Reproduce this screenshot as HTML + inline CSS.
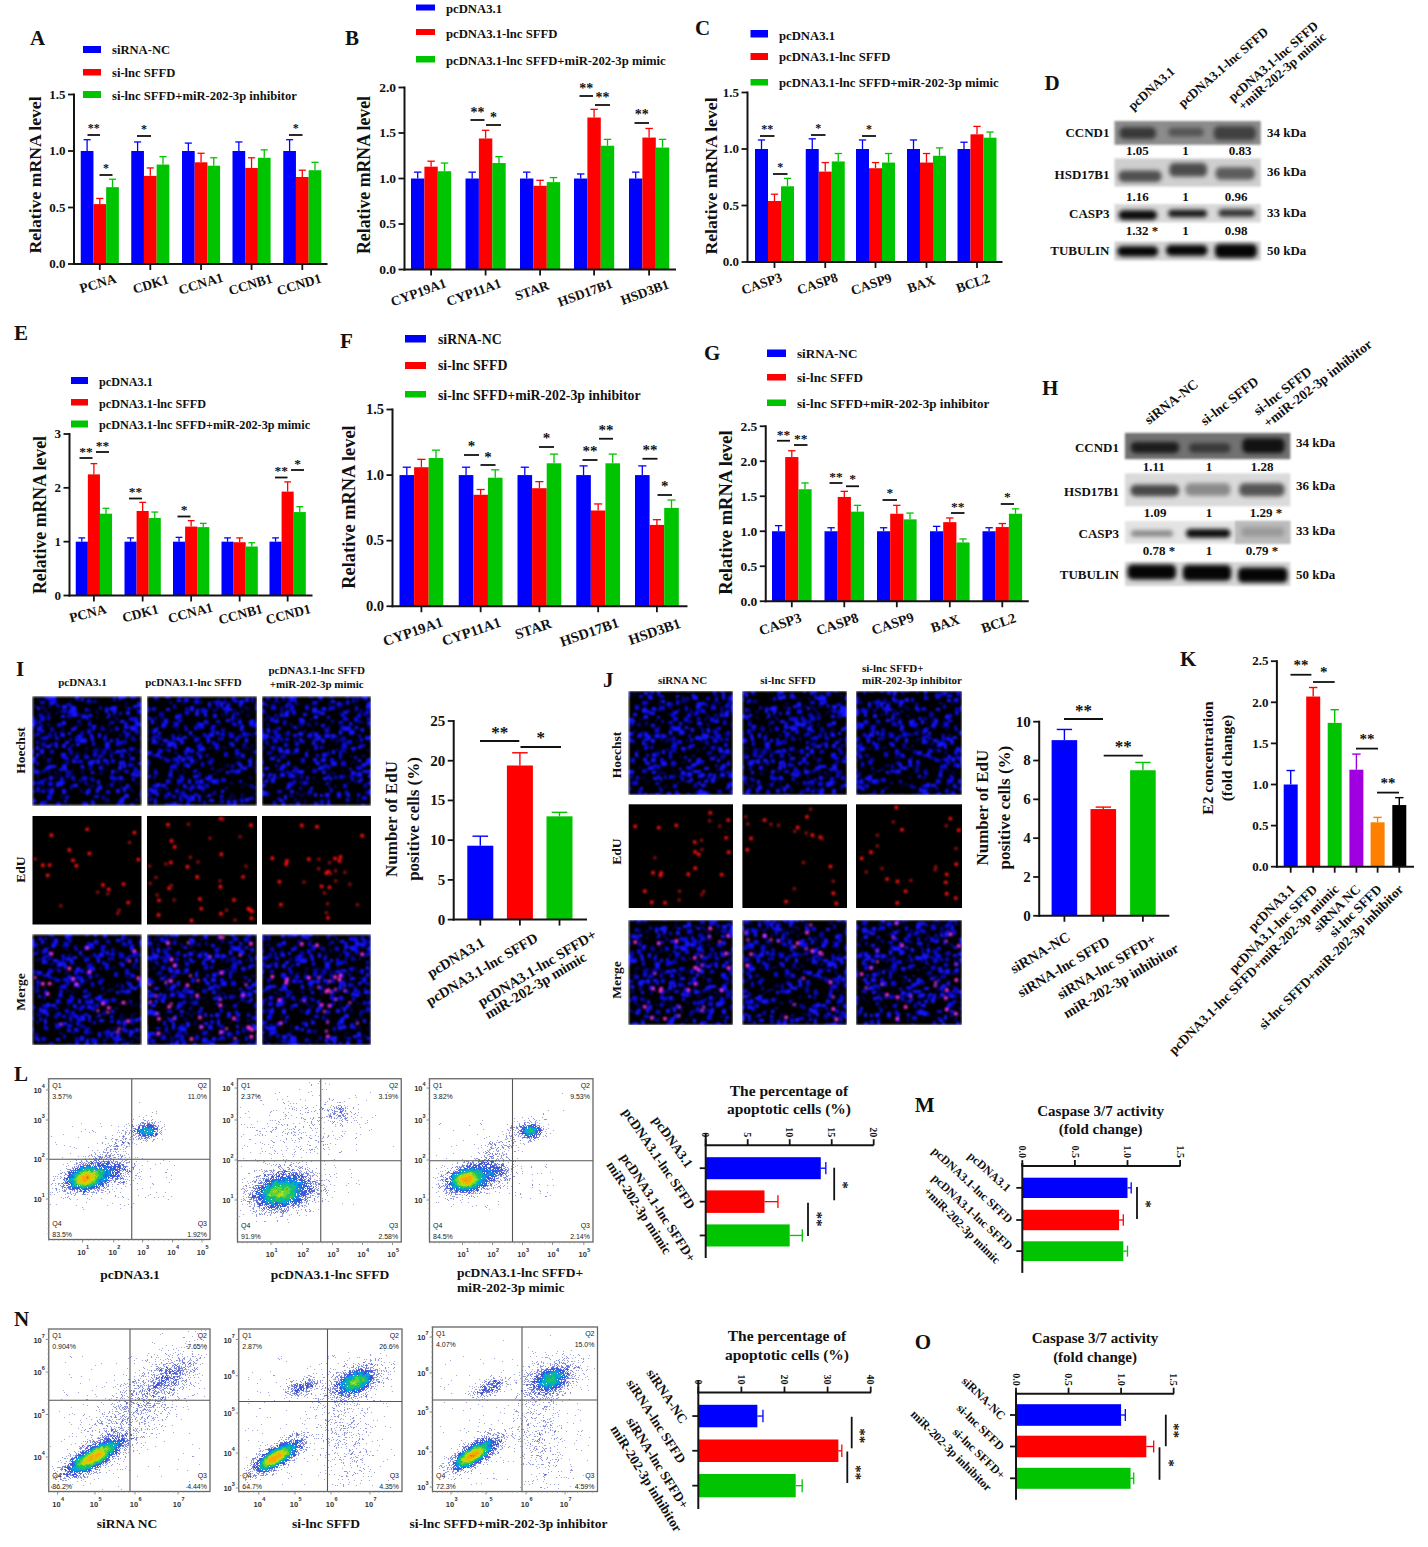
<!DOCTYPE html>
<html><head><meta charset="utf-8"><style>
html,body{margin:0;padding:0;background:#fff;}
svg{display:block;}
text{font-family:"Liberation Serif",serif;font-weight:bold;fill:#111;}
</style></head><body>
<svg width="1428" height="1547" viewBox="0 0 1428 1547">
<defs>
<filter id="bl" x="-30%" y="-80%" width="160%" height="260%" color-interpolation-filters="sRGB"><feGaussianBlur stdDeviation="2.1"/></filter>
<filter id="bb" x="-5%" y="-20%" width="110%" height="140%" color-interpolation-filters="sRGB"><feGaussianBlur stdDeviation="1.1"/></filter>
<filter id="mb" x="0" y="0" width="100%" height="100%" color-interpolation-filters="sRGB"><feGaussianBlur stdDeviation="0.9"/></filter>
<filter id="gl" x="-5%" y="-5%" width="110%" height="110%" color-interpolation-filters="sRGB"><feGaussianBlur stdDeviation="0.8"/></filter>
<pattern id="hA" width="110" height="110" patternUnits="userSpaceOnUse"><rect width="110" height="110" fill="#000"/><path fill="#030370" d="M79 63h2v3h-2zM16 17h3v2h-3zM11 81h3v2h-3zM35 87h2v2h-2zM76 92h3v3h-3zM15 42h3v2h-3zM9 11h2v3h-2zM40 31h2v3h-2zM92 81h3v3h-3zM86 42h2v2h-2zM14 45h2v3h-2zM51 11h2v3h-2zM68 50h3v3h-3zM30 27h2v2h-2zM32 68h3v2h-3zM16 51h3v3h-3zM8 83h2v3h-2zM79 39h3v2h-3zM107 102h2v3h-2zM20 19h3v3h-3zM85 87h3v3h-3zM58 3h3v2h-3zM47 52h3v3h-3zM106 14h2v2h-2zM70 34h2v3h-2zM90 40h2v2h-2zM48 45h3v3h-3zM43 96h2v3h-2zM61 26h2v2h-2zM47 63h3v3h-3zM56 51h2v3h-2zM23 58h2v2h-2zM59 50h3v2h-3zM84 22h3v2h-3zM99 68h2v2h-2zM31 50h2v2h-2zM49 11h2v2h-2zM109 39h2v2h-2zM64 102h3v3h-3zM46 19h3v3h-3zM99 92h3v2h-3zM43 18h2v3h-2zM44 49h3v3h-3zM19 16h3v2h-3zM9 102h2v2h-2zM91 30h2v3h-2zM19 100h2v2h-2zM95 51h2v2h-2zM84 92h3v2h-3zM28 38h3v2h-3zM62 68h2v3h-2zM26 90h2v3h-2zM102 103h2v3h-2zM96 56h2v3h-2zM106 100h2v2h-2zM104 91h3v2h-3zM81 21h3v2h-3zM35 98h2v3h-2zM71 2h2v2h-2zM27 50h2v3h-2zM12 9h3v2h-3zM108 65h2v2h-2zM29 46h3v2h-3zM109 36h2v2h-2zM106 72h2v2h-2zM101 65h2v3h-2zM34 45h3v3h-3zM2 54h2v3h-2zM76 75h3v2h-3zM77 100h3v2h-3zM43 47h2v3h-2zM74 9h2v3h-2zM42 64h2v3h-2zM75 13h2v2h-2zM105 46h3v3h-3zM96 50h2v3h-2zM10 16h3v3h-3zM26 12h3v2h-3zM94 65h3v2h-3zM70 40h2v2h-2zM4 56h3v2h-3zM40 53h2v2h-2zM90 75h2v2h-2zM92 34h2v2h-2zM46 58h2v2h-2zM21 32h3v2h-3zM31 62h3v3h-3zM24 87h2v2h-2zM78 60h3v3h-3zM2 13h2v3h-2zM43 9h3v3h-3zM89 65h3v2h-3zM72 97h3v3h-3zM39 1h3v3h-3zM89 60h3v2h-3zM55 6h2v3h-2zM100 1h2v3h-2zM48 1h2v3h-2zM42 15h2v2h-2zM99 88h2v2h-2zM29 3h3v3h-3zM38 37h2v3h-2zM31 91h2v2h-2zM79 19h3v2h-3zM0 91h3v3h-3zM63 21h3v3h-3zM47 55h2v2h-2zM54 1h3v3h-3zM76 65h2v2h-2zM86 7h2v2h-2zM100 2h3v3h-3zM60 25h2v2h-2z"/><path fill="#0606a8" d="M21 78h5v3h-5zM93 40h4v3h-4zM62 104h5v4h-5zM34 73h3v4h-3zM48 73h4v5h-4zM47 98h5v3h-5zM100 106h3v5h-3zM11 30h3v4h-3zM75 53h5v3h-5zM102 25h3v5h-3zM19 103h5v4h-5zM71 84h3v3h-3zM61 11h5v3h-5zM84 10h3v4h-3zM18 93h3v3h-3zM101 67h4v4h-4zM44 8h3v3h-3zM58 108h4v4h-4zM103 77h3v4h-3zM85 55h4v3h-4zM67 54h5v4h-5zM81 54h4v5h-4zM92 8h3v4h-3zM106 28h3v4h-3zM48 19h4v4h-4zM77 60h4v3h-4zM12 80h5v4h-5zM69 -2h4v3h-4zM93 89h5v4h-5zM49 41h5v4h-5zM38 53h5v4h-5zM54 72h3v5h-3zM102 90h4v5h-4zM41 82h5v4h-5zM30 20h5v3h-5zM79 9h3v3h-3zM95 88h3v4h-3zM99 46h3v4h-3zM69 90h4v5h-4zM66 1h5v5h-5zM56 44h4v4h-4zM60 71h3v5h-3zM70 15h4v3h-4zM61 108h3v5h-3zM90 7h3v4h-3zM80 71h4v5h-4zM50 67h4v5h-4zM49 34h4v4h-4zM47 56h4v4h-4zM-1 94h4v3h-4zM78 74h4v5h-4zM87 14h2v2h-2zM54 41h2v3h-2zM105 78h2v3h-2zM32 98h2v2h-2zM3 10h2v3h-2zM70 17h2v3h-2zM9 74h2v2h-2zM15 76h3v3h-3zM104 82h2v2h-2zM12 60h3v2h-3zM104 89h3v3h-3zM71 45h2v2h-2zM84 80h3v3h-3zM102 89h3v3h-3zM43 86h2v2h-2zM91 29h2v3h-2zM42 84h2v3h-2zM34 107h2v3h-2zM48 53h2v2h-2zM19 67h3v2h-3zM0 69h2v3h-2zM48 74h2v2h-2zM30 101h2v3h-2zM5 66h2v3h-2zM21 76h3v3h-3zM89 49h2v3h-2zM50 91h2v3h-2zM75 76h3v2h-3zM108 48h2v2h-2zM80 105h2v2h-2zM81 75h2v3h-2zM15 90h2v3h-2zM91 15h3v2h-3zM69 78h3v3h-3zM34 63h3v3h-3zM106 56h2v3h-2zM6 58h2v3h-2zM66 101h3v3h-3zM73 67h2v2h-2zM41 46h2v2h-2zM4 91h3v3h-3zM9 90h3v2h-3zM25 29h3v2h-3zM81 1h3v2h-3zM29 97h2v2h-2zM67 25h2v2h-2zM50 83h3v3h-3zM77 60h3v3h-3zM58 45h2v3h-2zM75 100h3v3h-3zM103 109h3v3h-3zM29 77h2v3h-2zM40 77h3v3h-3zM14 64h2v3h-2zM47 100h3v3h-3zM37 6h2v2h-2zM7 1h2v2h-2zM29 23h3v3h-3z"/><path fill="#0a0ae0" d="M106 100h3v5h-3zM61 95h4v3h-4zM75 95h4v4h-4zM65 26h4v3h-4zM35 0h3v4h-3zM93 100h4v3h-4zM68 87h3v4h-3zM54 82h4v3h-4zM3 37h3v4h-3zM72 48h5v5h-5zM27 -1h3v5h-3zM27 49h5v5h-5zM56 32h5v4h-5zM64 97h5v3h-5zM62 50h5v3h-5zM42 -2h4v4h-4zM40 56h5v5h-5zM-1 94h3v4h-3zM12 100h3v4h-3zM82 32h5v3h-5zM87 39h4v4h-4zM88 62h3v4h-3zM78 100h5v3h-5zM82 78h5v4h-5zM14 -1h5v4h-5zM105 85h5v4h-5zM15 72h5v4h-5zM41 12h3v3h-3zM44 35h3v4h-3zM33 11h3v4h-3zM30 89h4v5h-4zM109 86h5v5h-5zM9 81h3v4h-3zM99 106h3v4h-3zM40 10h4v3h-4zM7 32h3v4h-3zM37 11h3v4h-3zM20 36h5v3h-5zM89 108h3v3h-3zM1 99h4v4h-4zM0 5h4v5h-4zM38 61h3v3h-3zM41 69h3v4h-3zM4 7h4v3h-4zM63 96h4v3h-4zM19 87h5v4h-5zM25 70h4v4h-4zM85 48h3v4h-3zM105 82h3v5h-3zM74 66h3v4h-3zM22 65h5v3h-5zM37 72h3v4h-3zM67 43h4v3h-4zM13 70h3v3h-3zM84 95h5v4h-5zM62 45h3v3h-3zM-2 13h5v4h-5zM23 57h5v5h-5zM55 77h4v3h-4zM65 -2h3v4h-3zM50 90h4v3h-4zM106 20h4v4h-4zM42 31h5v3h-5zM36 17h4v5h-4zM19 57h4v4h-4zM10 93h4v5h-4zM6 82h3v4h-3zM88 18h3v5h-3zM57 63h5v4h-5zM36 81h3v3h-3zM43 76h5v4h-5zM49 20h4v5h-4zM22 7h3v4h-3zM31 56h3v5h-3zM94 25h5v3h-5zM47 25h5v5h-5zM3 -1h3v3h-3zM47 106h4v4h-4zM18 103h3v4h-3zM66 5h3v3h-3zM1 61h3v3h-3zM87 69h4v5h-4zM68 50h3v4h-3zM82 6h5v4h-5zM24 107h3v3h-3zM40 41h5v3h-5zM36 102h3v3h-3zM93 93h4v4h-4zM71 6h4v4h-4zM87 71h4v3h-4zM49 37h4v4h-4zM85 32h3v5h-3zM6 78h3v4h-3zM23 -1h4v4h-4zM60 7h4v5h-4zM22 36h4v3h-4zM75 78h5v4h-5zM14 62h4v4h-4zM92 82h3v4h-3zM32 99h4v4h-4zM53 40h4v4h-4zM89 104h4v3h-4zM9 52h3v3h-3zM25 66h3v5h-3zM92 68h3v3h-3zM48 12h5v4h-5zM17 47h4v3h-4zM64 30h3v3h-3zM109 61h5v4h-5zM98 95h5v3h-5zM5 67h4v4h-4zM104 75h3v5h-3zM33 59h4v4h-4zM41 20h4v3h-4zM86 55h3v5h-3zM39 65h3v5h-3z"/><path fill="#1414ff" d="M10 60h4v3h-4zM90 100h4v4h-4zM1 0h3v4h-3zM46 85h5v3h-5zM27 42h4v5h-4zM105 48h3v5h-3zM59 109h4v3h-4zM68 72h3v3h-3zM105 84h4v3h-4zM6 19h4v4h-4zM37 47h3v3h-3zM0 48h3v3h-3zM65 81h4v3h-4zM25 4h4v3h-4zM36 93h3v4h-3zM2 46h5v5h-5zM62 61h4v4h-4zM34 0h5v4h-5zM98 15h4v5h-4zM6 90h5v3h-5zM19 66h3v3h-3zM62 105h4v5h-4zM12 35h4v4h-4zM3 50h3v4h-3zM71 68h4v3h-4zM76 83h4v3h-4zM103 99h4v3h-4zM51 18h3v5h-3zM81 38h3v3h-3zM90 74h3v4h-3zM49 6h4v4h-4zM56 12h4v5h-4zM21 67h4v4h-4zM47 37h4v3h-4zM9 29h5v5h-5zM0 79h3v3h-3zM97 99h3v5h-3zM20 97h5v3h-5zM14 24h5v4h-5zM48 105h4v3h-4zM73 14h5v3h-5zM70 49h4v4h-4zM60 -2h3v3h-3zM36 86h3v4h-3zM8 107h4v5h-4zM71 46h5v5h-5zM63 106h4v4h-4zM9 101h3v5h-3zM33 29h3v4h-3zM78 75h3v3h-3zM20 34h4v3h-4zM71 47h3v3h-3zM62 84h4v4h-4zM37 67h4v4h-4zM61 93h5v3h-5zM75 36h4v4h-4zM40 32h3v3h-3zM40 89h4v5h-4zM106 82h5v3h-5zM89 54h3v3h-3zM12 89h4v3h-4zM11 27h4v3h-4zM21 3h4v3h-4zM86 20h3v5h-3zM61 55h4v3h-4zM28 102h3v3h-3zM61 73h4v4h-4zM-1 47h3v3h-3zM70 46h5v3h-5zM81 105h3v4h-3zM33 97h3v3h-3zM82 55h4v3h-4zM80 79h4v4h-4zM98 73h3v5h-3zM62 45h5v4h-5zM14 66h4v3h-4zM92 65h4v3h-4zM8 36h4v4h-4zM91 31h4v3h-4zM52 105h4v3h-4zM59 11h4v5h-4zM23 45h4v3h-4zM50 42h4v3h-4zM51 36h5v4h-5zM13 17h3v5h-3zM72 100h4v3h-4zM62 19h4v5h-4zM91 77h3v4h-3zM99 106h3v3h-3zM108 53h3v5h-3zM88 101h4v4h-4zM55 84h3v4h-3zM72 52h5v5h-5zM13 103h3v5h-3zM96 18h3v5h-3zM9 106h3v3h-3zM16 51h4v4h-4zM45 107h3v4h-3zM31 63h4v4h-4zM9 6h4v4h-4zM91 1h3v3h-3zM97 10h3v4h-3zM85 33h3v4h-3zM84 80h3v3h-3zM83 55h4v3h-4zM27 63h4v3h-4zM16 14h3v4h-3zM25 61h4v4h-4z"/></pattern><pattern id="hB" width="110" height="110" patternUnits="userSpaceOnUse"><rect width="110" height="110" fill="#000"/><path fill="#030370" d="M45 108h2v2h-2zM99 72h2v3h-2zM29 73h2v2h-2zM11 23h2v3h-2zM52 83h3v2h-3zM54 63h2v3h-2zM67 15h3v2h-3zM81 34h3v2h-3zM65 106h2v2h-2zM84 79h2v2h-2zM86 51h2v3h-2zM29 6h2v3h-2zM70 30h3v3h-3zM0 24h2v3h-2zM22 34h3v2h-3zM66 104h3v2h-3zM63 61h3v3h-3zM22 83h3v3h-3zM67 54h3v3h-3zM72 1h3v2h-3zM92 11h3v3h-3zM20 27h3v3h-3zM18 96h3v3h-3zM71 4h2v3h-2zM20 93h3v2h-3zM24 70h2v3h-2zM26 47h3v2h-3zM86 64h3v3h-3zM1 53h2v3h-2zM49 88h2v2h-2zM54 88h3v2h-3zM46 27h2v2h-2zM85 99h3v3h-3zM92 67h2v2h-2zM3 37h2v2h-2zM13 49h3v3h-3zM69 4h2v3h-2zM21 15h2v2h-2zM36 42h2v2h-2zM81 16h2v2h-2zM46 62h2v2h-2zM27 49h2v2h-2zM29 104h2v2h-2zM37 69h3v3h-3zM11 60h2v3h-2zM36 79h2v3h-2zM68 23h3v2h-3zM3 19h2v3h-2zM47 66h2v3h-2zM25 13h2v3h-2zM14 26h2v2h-2zM49 14h2v2h-2zM66 68h2v3h-2zM98 76h2v2h-2zM83 102h2v2h-2zM109 62h2v2h-2zM50 83h2v3h-2zM5 54h2v3h-2zM15 57h3v3h-3zM30 96h3v3h-3zM49 55h3v2h-3zM4 105h2v2h-2zM20 63h3v2h-3zM67 95h2v3h-2zM4 39h3v2h-3zM12 58h2v3h-2zM3 42h2v2h-2zM80 103h2v3h-2zM33 107h2v2h-2zM92 86h3v3h-3zM52 54h2v2h-2zM2 20h3v2h-3zM62 65h3v3h-3zM72 41h3v3h-3zM61 98h3v3h-3zM51 57h2v3h-2zM2 70h3v3h-3zM95 25h3v3h-3zM22 106h2v2h-2zM77 48h3v3h-3zM33 23h3v2h-3zM72 24h3v3h-3zM31 52h2v2h-2zM39 17h2v3h-2zM4 86h2v3h-2zM9 26h3v3h-3zM51 61h2v3h-2zM26 87h3v3h-3zM33 67h3v2h-3zM27 73h3v3h-3zM36 103h2v3h-2zM67 57h2v3h-2zM29 15h2v2h-2zM58 80h3v3h-3zM19 58h3v3h-3zM100 67h2v3h-2zM76 41h2v2h-2zM56 17h3v3h-3zM87 87h3v3h-3zM99 47h2v2h-2zM99 87h3v2h-3zM1 87h2v2h-2zM41 19h3v3h-3zM103 2h2v3h-2z"/><path fill="#0606a8" d="M8 44h3v3h-3zM44 57h3v3h-3zM63 44h3v5h-3zM85 77h5v4h-5zM102 22h4v3h-4zM30 14h3v4h-3zM55 98h3v3h-3zM16 109h5v4h-5zM88 2h3v5h-3zM37 23h3v3h-3zM45 37h4v3h-4zM35 43h3v4h-3zM100 9h4v3h-4zM75 47h3v5h-3zM95 94h4v3h-4zM54 24h4v5h-4zM7 31h5v4h-5zM74 65h3v4h-3zM12 84h3v3h-3zM33 90h4v4h-4zM86 91h5v5h-5zM46 14h3v4h-3zM38 23h3v4h-3zM67 -2h3v3h-3zM85 65h5v4h-5zM11 104h3v5h-3zM95 60h4v5h-4zM85 37h5v3h-5zM100 98h4v4h-4zM36 106h3v5h-3zM77 88h3v3h-3zM80 35h5v3h-5zM58 4h5v4h-5zM35 0h4v3h-4zM70 98h3v3h-3zM49 52h5v5h-5zM61 74h4v3h-4zM56 34h5v3h-5zM56 9h5v5h-5zM59 81h4v4h-4zM106 45h3v4h-3zM48 76h3v4h-3zM16 101h4v3h-4zM32 16h4v3h-4zM1 68h4v4h-4zM17 102h3v3h-3zM101 107h3v5h-3zM42 14h5v3h-5zM94 14h2v2h-2zM87 48h2v2h-2zM16 64h2v3h-2zM2 72h2v3h-2zM5 17h3v2h-3zM50 19h2v2h-2zM59 0h3v3h-3zM88 12h3v2h-3zM27 55h2v2h-2zM104 20h2v3h-2zM86 23h2v3h-2zM73 105h2v2h-2zM77 33h3v3h-3zM65 91h2v3h-2zM59 42h3v2h-3zM97 101h2v2h-2zM68 74h3v2h-3zM107 0h3v2h-3zM82 75h2v2h-2zM1 30h2v3h-2zM30 74h3v2h-3zM104 85h2v2h-2zM8 59h2v2h-2zM55 17h3v3h-3zM103 41h3v3h-3zM64 97h2v3h-2zM107 9h2v2h-2zM96 95h3v2h-3zM25 106h2v2h-2zM22 87h2v2h-2zM82 75h3v2h-3zM86 9h2v3h-2zM21 24h3v2h-3zM109 63h3v3h-3zM41 48h3v2h-3zM70 82h2v3h-2zM15 96h2v2h-2zM90 82h2v2h-2zM70 78h2v3h-2zM36 31h2v3h-2zM7 104h2v3h-2zM38 78h2v2h-2zM8 72h3v2h-3zM90 41h2v3h-2zM24 46h2v2h-2zM50 77h2v3h-2zM8 41h2v3h-2zM42 70h3v2h-3zM53 97h3v3h-3zM27 105h3v2h-3zM43 6h3v3h-3zM23 84h3v3h-3zM103 49h3v3h-3zM66 19h3v2h-3zM37 104h3v2h-3zM50 89h3v3h-3zM2 25h2v2h-2zM75 16h3v3h-3zM54 58h3v2h-3zM10 12h3v2h-3zM97 80h2v2h-2zM43 69h2v3h-2zM69 25h3v2h-3zM21 50h2v3h-2zM31 85h2v2h-2zM43 28h3v2h-3z"/><path fill="#0a0ae0" d="M75 25h4v4h-4zM67 54h5v4h-5zM65 19h4v4h-4zM55 99h5v3h-5zM94 49h4v3h-4zM63 104h4v5h-4zM42 70h4v4h-4zM76 32h4v3h-4zM36 100h4v4h-4zM64 62h5v5h-5zM85 11h5v3h-5zM20 29h4v4h-4zM42 76h3v3h-3zM96 75h4v5h-4zM108 77h4v4h-4zM9 82h4v3h-4zM75 51h4v4h-4zM19 10h3v3h-3zM99 100h3v5h-3zM2 47h3v3h-3zM64 83h3v3h-3zM51 65h5v3h-5zM44 0h3v4h-3zM44 35h3v5h-3zM0 109h4v4h-4zM5 50h3v4h-3zM48 89h5v4h-5zM106 40h3v5h-3zM1 77h3v3h-3zM32 59h3v4h-3zM60 105h4v4h-4zM18 60h4v3h-4zM87 84h5v4h-5zM91 102h3v5h-3zM88 28h3v4h-3zM91 16h4v5h-4zM59 33h5v3h-5zM38 57h4v3h-4zM102 69h3v4h-3zM93 73h3v4h-3zM15 -1h4v5h-4zM30 63h4v4h-4zM105 83h4v5h-4zM84 40h5v4h-5zM1 8h5v4h-5zM84 78h4v4h-4zM44 2h4v3h-4zM81 15h4v4h-4zM105 9h4v5h-4zM69 27h3v4h-3zM44 19h4v4h-4zM15 89h4v4h-4zM22 94h3v4h-3zM43 15h4v3h-4zM101 68h3v4h-3zM66 77h4v4h-4zM37 48h3v4h-3zM67 34h5v4h-5zM88 28h3v3h-3zM45 80h3v4h-3zM14 39h4v4h-4zM80 96h3v4h-3zM4 48h4v3h-4zM109 38h4v5h-4zM9 73h5v5h-5zM105 86h4v4h-4zM16 52h3v3h-3zM102 81h3v4h-3zM87 62h3v3h-3zM89 65h5v4h-5zM69 10h4v3h-4zM87 15h3v4h-3zM75 68h3v3h-3zM93 31h3v3h-3zM4 92h4v5h-4zM15 79h3v3h-3zM85 109h3v3h-3zM70 6h4v5h-4zM56 36h4v3h-4zM0 25h3v4h-3zM91 48h4v5h-4zM96 14h3v4h-3zM42 47h4v4h-4zM22 72h4v5h-4zM45 75h3v3h-3zM96 76h4v3h-4zM10 -1h5v4h-5zM34 72h4v3h-4zM18 75h3v3h-3zM55 33h3v5h-3zM80 25h4v3h-4zM15 77h4v3h-4zM102 9h5v5h-5zM4 47h5v3h-5zM64 98h5v4h-5zM39 28h3v3h-3zM67 9h3v5h-3zM85 10h4v4h-4zM34 63h4v4h-4zM3 41h3v3h-3zM84 66h3v4h-3zM62 76h3v5h-3zM0 73h5v3h-5zM29 27h5v3h-5zM52 14h3v3h-3zM71 21h4v3h-4zM74 103h4v4h-4zM0 30h4v3h-4zM57 22h4v4h-4zM43 94h4v3h-4zM68 59h4v3h-4zM57 89h4v3h-4zM12 62h4v4h-4zM12 53h3v4h-3zM76 96h4v4h-4zM55 61h3v4h-3zM31 38h3v4h-3zM80 89h4v4h-4zM83 -1h4v4h-4zM75 38h4v4h-4zM98 8h3v4h-3zM77 28h4v4h-4zM74 90h4v5h-4zM62 25h4v3h-4zM67 101h3v3h-3zM24 73h5v3h-5zM73 24h4v4h-4zM49 96h3v3h-3zM84 23h4v3h-4zM106 60h5v3h-5zM101 65h5v3h-5zM79 17h3v4h-3zM15 92h5v3h-5z"/><path fill="#1414ff" d="M53 79h5v3h-5zM1 20h3v3h-3zM99 73h5v4h-5zM29 60h4v5h-4zM60 82h5v4h-5zM37 91h5v4h-5zM71 81h3v3h-3zM29 103h3v4h-3zM89 95h3v4h-3zM6 1h3v3h-3zM64 86h3v3h-3zM99 29h5v3h-5zM41 60h3v4h-3zM72 97h3v5h-3zM83 5h5v3h-5zM7 30h3v4h-3zM85 52h4v4h-4zM90 9h3v5h-3zM21 94h3v3h-3zM80 46h4v5h-4zM52 63h3v4h-3zM73 76h4v3h-4zM94 60h3v3h-3zM13 30h4v4h-4zM20 67h3v4h-3zM35 47h3v3h-3zM20 65h4v4h-4zM94 52h3v5h-3zM89 63h5v3h-5zM47 92h3v5h-3zM44 68h4v4h-4zM66 77h3v3h-3zM102 10h4v3h-4zM95 7h4v3h-4zM18 61h3v3h-3zM17 -1h4v4h-4zM80 99h4v4h-4zM78 9h3v5h-3zM25 38h4v4h-4zM39 18h3v4h-3zM54 59h4v4h-4zM19 43h3v4h-3zM67 39h4v3h-4zM98 24h3v3h-3zM44 30h3v4h-3zM20 106h3v3h-3zM65 55h4v4h-4zM73 14h3v4h-3zM7 48h5v3h-5zM11 83h3v4h-3zM6 59h4v3h-4zM60 -2h3v4h-3zM11 57h3v3h-3zM25 78h3v5h-3zM46 23h3v3h-3zM52 14h4v3h-4zM48 72h3v3h-3zM74 38h3v3h-3zM18 103h4v3h-4zM106 71h3v4h-3zM38 5h3v3h-3zM103 54h4v4h-4zM76 87h4v5h-4zM56 48h4v3h-4zM25 28h4v4h-4zM63 32h4v3h-4zM92 87h3v4h-3zM59 3h3v3h-3zM88 15h3v4h-3zM98 42h3v5h-3zM28 99h4v4h-4zM6 44h3v4h-3zM86 49h3v3h-3zM81 26h4v5h-4zM70 78h3v4h-3zM77 104h3v4h-3zM57 82h5v5h-5zM42 19h4v5h-4zM56 10h3v3h-3zM0 42h3v5h-3zM89 88h4v3h-4zM79 71h3v4h-3zM19 40h5v4h-5zM88 25h3v3h-3zM97 79h3v4h-3zM12 37h3v4h-3zM46 13h4v4h-4zM51 14h3v3h-3zM23 107h4v4h-4zM98 5h4v4h-4zM42 79h3v5h-3zM13 32h3v4h-3zM68 95h3v4h-3zM59 82h4v4h-4z"/></pattern><pattern id="hC" width="110" height="110" patternUnits="userSpaceOnUse"><rect width="110" height="110" fill="#000"/><path fill="#030370" d="M93 43h2v2h-2zM55 34h2v3h-2zM8 53h3v2h-3zM30 109h3v2h-3zM9 46h3v2h-3zM91 71h3v3h-3zM47 64h2v3h-2zM47 83h3v3h-3zM26 41h2v2h-2zM3 3h3v2h-3zM94 46h3v3h-3zM43 87h2v3h-2zM55 3h2v2h-2zM56 96h2v2h-2zM108 1h3v2h-3zM80 12h3v3h-3zM74 28h3v3h-3zM11 6h2v3h-2zM105 60h2v2h-2zM44 58h3v3h-3zM73 38h2v2h-2zM79 66h2v3h-2zM57 7h3v2h-3zM80 24h3v3h-3zM105 13h2v2h-2zM107 27h2v3h-2zM30 51h3v2h-3zM22 36h3v2h-3zM6 88h3v3h-3zM28 38h2v2h-2zM31 61h2v2h-2zM103 85h2v2h-2zM87 96h2v2h-2zM76 22h3v3h-3zM44 51h3v3h-3zM14 91h3v2h-3zM108 38h3v2h-3zM79 11h3v2h-3zM69 41h3v3h-3zM54 86h3v2h-3zM61 47h3v3h-3zM22 69h3v3h-3zM52 70h3v2h-3zM92 7h3v2h-3zM21 64h3v2h-3zM12 70h2v2h-2zM71 65h2v3h-2zM8 61h3v3h-3zM87 23h3v3h-3zM31 33h2v2h-2zM21 5h3v2h-3zM65 17h3v3h-3zM64 72h3v3h-3zM32 37h3v3h-3zM108 89h2v2h-2zM5 80h3v3h-3zM54 94h2v3h-2zM69 43h2v2h-2zM17 11h2v3h-2zM12 0h2v2h-2zM90 58h2v3h-2zM87 89h2v3h-2zM4 43h2v2h-2zM103 68h3v2h-3zM12 50h3v3h-3zM72 65h2v3h-2zM66 75h3v2h-3zM22 101h3v2h-3zM1 2h3v2h-3zM90 65h2v2h-2zM44 86h2v2h-2zM62 38h3v3h-3zM20 95h2v2h-2zM10 86h2v2h-2zM8 46h2v3h-2zM53 85h3v2h-3zM55 59h3v3h-3zM39 61h2v3h-2zM83 33h3v2h-3zM84 30h3v2h-3zM83 22h3v2h-3zM55 53h3v3h-3zM46 92h3v3h-3zM61 48h3v3h-3zM24 72h2v2h-2zM50 99h2v2h-2zM88 106h2v2h-2zM40 80h3v3h-3zM70 2h2v3h-2zM109 28h3v2h-3zM42 71h2v2h-2zM71 93h2v2h-2zM25 80h3v2h-3zM74 36h3v3h-3zM26 39h2v3h-2zM53 98h2v2h-2zM22 40h2v2h-2zM52 42h3v2h-3zM62 56h3v2h-3zM108 109h2v3h-2zM60 46h3v3h-3zM69 42h3v2h-3zM94 101h2v2h-2zM13 82h3v2h-3zM83 70h3v3h-3zM97 11h2v2h-2zM106 13h2v2h-2zM4 15h2v3h-2z"/><path fill="#0606a8" d="M79 17h3v3h-3zM48 91h4v4h-4zM107 33h4v3h-4zM9 42h4v4h-4zM38 44h3v4h-3zM11 77h5v5h-5zM73 5h4v3h-4zM74 39h3v3h-3zM101 107h3v4h-3zM22 38h3v5h-3zM53 69h5v5h-5zM93 56h3v3h-3zM67 41h5v4h-5zM34 13h3v5h-3zM13 66h3v3h-3zM39 45h3v3h-3zM105 93h3v4h-3zM73 90h5v4h-5zM57 27h4v3h-4zM31 104h3v3h-3zM10 65h5v4h-5zM47 4h4v4h-4zM61 106h3v4h-3zM79 61h5v4h-5zM25 2h3v5h-3zM70 34h4v3h-4zM66 0h3v4h-3zM92 41h3v3h-3zM81 63h3v3h-3zM35 21h4v3h-4zM105 92h4v3h-4zM28 74h3v4h-3zM74 1h3v3h-3zM95 83h3v4h-3zM45 22h5v4h-5zM60 95h3v3h-3zM45 43h3v4h-3zM33 53h3v3h-3zM29 84h4v4h-4zM63 94h3v4h-3zM80 5h3v4h-3zM63 60h4v3h-4zM93 78h5v3h-5zM28 60h3v3h-3zM11 88h5v4h-5zM107 105h3v4h-3zM50 76h5v3h-5zM-1 18h3v5h-3zM42 68h2v3h-2zM70 63h2v2h-2zM18 41h2v3h-2zM8 78h2v3h-2zM28 60h2v3h-2zM70 24h3v3h-3zM62 106h3v2h-3zM17 49h3v3h-3zM55 36h3v3h-3zM73 106h2v2h-2zM41 63h2v2h-2zM47 7h3v3h-3zM2 74h3v3h-3zM87 63h3v3h-3zM74 41h3v2h-3zM47 63h2v3h-2zM37 89h2v2h-2zM41 70h3v2h-3zM33 15h3v2h-3zM47 55h2v3h-2zM12 90h3v2h-3zM58 42h2v2h-2zM19 5h3v3h-3zM81 0h2v3h-2zM15 20h3v2h-3zM22 89h3v3h-3zM13 5h3v3h-3zM56 57h3v2h-3zM27 29h2v3h-2zM37 12h2v2h-2zM75 43h3v2h-3zM74 79h2v3h-2zM39 66h3v2h-3zM67 37h2v3h-2zM8 61h2v3h-2zM80 72h2v3h-2zM14 87h3v2h-3zM95 32h3v3h-3zM61 96h3v3h-3zM30 49h2v3h-2zM55 104h3v3h-3zM17 29h3v2h-3zM93 108h2v3h-2zM60 50h3v2h-3zM13 76h2v2h-2zM54 55h3v2h-3zM70 49h3v3h-3zM25 10h2v3h-2zM104 107h2v3h-2zM104 74h2v3h-2zM26 37h3v3h-3zM54 32h2v3h-2zM32 95h3v2h-3zM41 6h2v2h-2zM61 0h3v2h-3zM108 66h3v3h-3zM1 60h3v3h-3zM29 68h3v2h-3zM46 69h3v2h-3zM1 78h2v3h-2zM95 62h3v3h-3zM3 102h2v3h-2z"/><path fill="#0a0ae0" d="M105 68h4v5h-4zM92 -1h5v4h-5zM58 74h3v4h-3zM31 84h4v3h-4zM72 50h4v5h-4zM67 71h3v4h-3zM0 35h4v3h-4zM3 75h4v3h-4zM56 109h4v4h-4zM53 79h5v4h-5zM53 31h3v4h-3zM-1 98h5v4h-5zM0 46h5v4h-5zM30 78h3v4h-3zM39 21h4v3h-4zM32 26h5v4h-5zM35 51h4v4h-4zM100 86h3v3h-3zM60 78h3v3h-3zM107 5h4v3h-4zM4 6h3v3h-3zM63 62h3v3h-3zM13 14h4v4h-4zM81 98h4v5h-4zM51 86h4v4h-4zM13 57h5v4h-5zM83 11h5v4h-5zM11 101h5v5h-5zM16 28h3v4h-3zM106 12h3v3h-3zM68 5h5v3h-5zM56 76h3v3h-3zM94 72h4v5h-4zM17 80h5v4h-5zM10 61h3v3h-3zM27 106h5v4h-5zM74 107h4v4h-4zM24 57h4v5h-4zM15 21h3v4h-3zM9 91h3v4h-3zM55 72h3v4h-3zM7 24h4v4h-4zM94 41h4v3h-4zM12 83h5v5h-5zM89 35h4v3h-4zM80 80h5v3h-5zM45 81h3v3h-3zM16 40h3v5h-3zM69 36h5v4h-5zM89 21h3v3h-3zM40 49h5v4h-5zM73 10h3v4h-3zM108 48h5v3h-5zM96 94h3v3h-3zM65 78h4v3h-4zM109 42h4v4h-4zM107 105h3v3h-3zM108 23h3v3h-3zM38 11h3v4h-3zM106 23h4v3h-4zM94 86h4v4h-4zM65 44h4v4h-4zM107 56h4v3h-4zM0 19h3v3h-3zM55 38h3v4h-3zM4 101h3v5h-3zM99 36h4v4h-4zM9 5h4v4h-4zM41 100h3v4h-3zM46 37h4v3h-4zM27 54h4v4h-4zM9 95h3v4h-3zM109 4h3v5h-3zM26 106h4v3h-4zM57 20h5v3h-5zM103 104h4v3h-4zM75 82h4v4h-4zM104 74h3v4h-3zM28 53h3v4h-3zM39 19h4v3h-4zM109 92h3v3h-3zM97 50h4v4h-4zM36 50h3v4h-3zM37 57h3v4h-3zM24 96h3v3h-3zM68 2h4v4h-4zM95 101h3v3h-3zM64 83h4v4h-4zM51 45h5v5h-5zM21 7h3v4h-3zM100 30h4v4h-4zM68 12h5v5h-5zM11 53h4v4h-4zM27 23h3v4h-3zM86 6h3v4h-3zM32 35h4v4h-4zM88 20h3v3h-3zM25 46h3v5h-3zM92 42h4v3h-4zM50 57h4v5h-4zM17 66h4v4h-4zM85 45h4v5h-4zM57 67h4v3h-4zM70 45h4v5h-4zM87 74h5v4h-5z"/><path fill="#1414ff" d="M67 14h3v5h-3zM78 72h5v4h-5zM31 68h3v4h-3zM95 73h3v3h-3zM44 10h4v3h-4zM62 104h4v4h-4zM32 34h3v5h-3zM89 73h3v4h-3zM28 2h4v5h-4zM74 66h3v3h-3zM35 76h3v4h-3zM79 78h3v3h-3zM75 88h4v4h-4zM38 20h5v5h-5zM106 74h4v4h-4zM96 102h4v3h-4zM37 62h5v3h-5zM92 81h3v4h-3zM108 33h5v3h-5zM42 73h3v5h-3zM99 106h4v5h-4zM17 23h3v4h-3zM71 4h3v4h-3zM62 36h3v3h-3zM66 50h3v5h-3zM41 14h5v3h-5zM101 98h5v4h-5zM28 99h3v3h-3zM94 32h4v3h-4zM64 52h5v5h-5zM7 42h3v4h-3zM36 44h4v5h-4zM70 20h4v3h-4zM53 4h3v5h-3zM25 66h3v3h-3zM100 52h5v3h-5zM9 70h3v5h-3zM102 1h4v3h-4zM36 100h4v5h-4zM65 89h5v5h-5zM103 7h5v3h-5zM45 74h4v4h-4zM51 8h4v5h-4zM94 23h3v4h-3zM37 0h4v3h-4zM20 70h4v3h-4zM97 108h4v4h-4zM59 90h5v3h-5zM107 30h3v3h-3zM19 108h3v4h-3zM1 40h4v3h-4zM14 67h4v4h-4zM83 53h4v3h-4zM94 55h4v4h-4zM37 98h4v4h-4zM92 48h5v5h-5zM62 32h3v4h-3zM21 87h5v3h-5zM102 93h4v4h-4zM19 70h5v5h-5zM98 35h4v4h-4zM102 47h4v4h-4zM1 74h4v4h-4zM57 99h3v3h-3zM44 77h3v3h-3zM58 87h4v4h-4zM81 60h4v3h-4zM2 90h3v4h-3zM100 24h3v3h-3zM79 1h5v3h-5zM54 60h5v3h-5zM49 3h3v3h-3zM28 10h3v3h-3zM40 77h3v3h-3zM1 102h5v4h-5zM77 -2h3v5h-3zM19 62h3v3h-3zM47 68h3v5h-3zM43 21h4v5h-4zM32 103h4v4h-4zM60 3h5v4h-5zM-2 7h4v4h-4zM70 37h3v4h-3zM28 86h3v3h-3zM72 -1h3v3h-3zM97 75h4v5h-4zM30 8h3v3h-3zM12 67h4v3h-4zM41 42h4v3h-4zM85 92h3v5h-3zM64 25h3v5h-3zM35 0h5v3h-5zM90 17h3v3h-3zM79 58h5v3h-5zM60 53h3v4h-3zM93 98h4v3h-4zM101 79h4v4h-4zM44 107h5v3h-5zM101 64h4v3h-4zM17 66h3v5h-3zM67 101h3v5h-3zM41 3h4v4h-4zM33 0h5v3h-5zM50 97h5v3h-5zM71 38h5v3h-5zM60 106h3v4h-3zM76 32h4v5h-4zM37 42h4v3h-4zM38 4h4v4h-4zM38 76h3v4h-3zM14 51h4v3h-4zM80 -1h4v4h-4zM95 78h3v3h-3zM109 16h3v3h-3zM21 1h4v4h-4zM16 35h3v3h-3zM7 22h4v5h-4zM59 29h4v3h-4zM94 74h4v3h-4zM105 23h4v4h-4zM73 74h4v3h-4zM34 36h4v4h-4z"/></pattern>
</defs>
<rect width="1428" height="1547" fill="#fff"/>
<text x="30" y="45" font-size="21">A</text>
<rect x="83" y="46" width="18" height="7" fill="#0000ff"/>
<text x="112" y="54" font-size="12.6">siRNA-NC</text>
<rect x="83" y="69" width="18" height="6.5" fill="#ff0000"/>
<text x="112" y="77" font-size="12.6">si-lnc SFFD</text>
<rect x="83" y="91" width="18" height="7" fill="#00c400"/>
<text x="112" y="99.5" font-size="12.6">si-lnc SFFD+miR-202-3p inhibitor</text>
<line x1="87.1" y1="151" x2="87.1" y2="139.7" stroke="#0000ff" stroke-width="1.3"/>
<line x1="83.54" y1="139.7" x2="90.66" y2="139.7" stroke="#0000ff" stroke-width="1.3"/>
<rect x="80.75" y="151" width="12.7" height="113" fill="#0000ff"/>
<line x1="99.8" y1="204.11" x2="99.8" y2="198.46" stroke="#ff0000" stroke-width="1.3"/>
<line x1="96.24" y1="198.46" x2="103.36" y2="198.46" stroke="#ff0000" stroke-width="1.3"/>
<rect x="93.45" y="204.11" width="12.7" height="59.89" fill="#ff0000"/>
<line x1="112.5" y1="187.16" x2="112.5" y2="179.25" stroke="#00c400" stroke-width="1.3"/>
<line x1="108.94" y1="179.25" x2="116.06" y2="179.25" stroke="#00c400" stroke-width="1.3"/>
<rect x="106.15" y="187.16" width="12.7" height="76.84" fill="#00c400"/>
<line x1="137.6" y1="151" x2="137.6" y2="141.96" stroke="#0000ff" stroke-width="1.3"/>
<line x1="134.04" y1="141.96" x2="141.16" y2="141.96" stroke="#0000ff" stroke-width="1.3"/>
<rect x="131.25" y="151" width="12.7" height="113" fill="#0000ff"/>
<line x1="150.3" y1="175.86" x2="150.3" y2="167.95" stroke="#ff0000" stroke-width="1.3"/>
<line x1="146.74" y1="167.95" x2="153.86" y2="167.95" stroke="#ff0000" stroke-width="1.3"/>
<rect x="143.95" y="175.86" width="12.7" height="88.14" fill="#ff0000"/>
<line x1="163" y1="164.56" x2="163" y2="156.65" stroke="#00c400" stroke-width="1.3"/>
<line x1="159.44" y1="156.65" x2="166.56" y2="156.65" stroke="#00c400" stroke-width="1.3"/>
<rect x="156.65" y="164.56" width="12.7" height="99.44" fill="#00c400"/>
<line x1="188.35" y1="151" x2="188.35" y2="143.09" stroke="#0000ff" stroke-width="1.3"/>
<line x1="184.79" y1="143.09" x2="191.91" y2="143.09" stroke="#0000ff" stroke-width="1.3"/>
<rect x="182" y="151" width="12.7" height="113" fill="#0000ff"/>
<line x1="201.05" y1="162.3" x2="201.05" y2="153.26" stroke="#ff0000" stroke-width="1.3"/>
<line x1="197.49" y1="153.26" x2="204.61" y2="153.26" stroke="#ff0000" stroke-width="1.3"/>
<rect x="194.7" y="162.3" width="12.7" height="101.7" fill="#ff0000"/>
<line x1="213.75" y1="165.69" x2="213.75" y2="157.78" stroke="#00c400" stroke-width="1.3"/>
<line x1="210.19" y1="157.78" x2="217.31" y2="157.78" stroke="#00c400" stroke-width="1.3"/>
<rect x="207.4" y="165.69" width="12.7" height="98.31" fill="#00c400"/>
<line x1="238.85" y1="151" x2="238.85" y2="141.96" stroke="#0000ff" stroke-width="1.3"/>
<line x1="235.29" y1="141.96" x2="242.41" y2="141.96" stroke="#0000ff" stroke-width="1.3"/>
<rect x="232.5" y="151" width="12.7" height="113" fill="#0000ff"/>
<line x1="251.55" y1="167.95" x2="251.55" y2="157.78" stroke="#ff0000" stroke-width="1.3"/>
<line x1="247.99" y1="157.78" x2="255.11" y2="157.78" stroke="#ff0000" stroke-width="1.3"/>
<rect x="245.2" y="167.95" width="12.7" height="96.05" fill="#ff0000"/>
<line x1="264.25" y1="157.78" x2="264.25" y2="149.87" stroke="#00c400" stroke-width="1.3"/>
<line x1="260.69" y1="149.87" x2="267.81" y2="149.87" stroke="#00c400" stroke-width="1.3"/>
<rect x="257.9" y="157.78" width="12.7" height="106.22" fill="#00c400"/>
<line x1="289.6" y1="151" x2="289.6" y2="139.7" stroke="#0000ff" stroke-width="1.3"/>
<line x1="286.04" y1="139.7" x2="293.16" y2="139.7" stroke="#0000ff" stroke-width="1.3"/>
<rect x="283.25" y="151" width="12.7" height="113" fill="#0000ff"/>
<line x1="302.3" y1="176.99" x2="302.3" y2="170.21" stroke="#ff0000" stroke-width="1.3"/>
<line x1="298.74" y1="170.21" x2="305.86" y2="170.21" stroke="#ff0000" stroke-width="1.3"/>
<rect x="295.95" y="176.99" width="12.7" height="87.01" fill="#ff0000"/>
<line x1="315" y1="170.21" x2="315" y2="162.3" stroke="#00c400" stroke-width="1.3"/>
<line x1="311.44" y1="162.3" x2="318.56" y2="162.3" stroke="#00c400" stroke-width="1.3"/>
<rect x="308.65" y="170.21" width="12.7" height="93.79" fill="#00c400"/>
<line x1="74" y1="93.5" x2="74" y2="265" stroke="#141414" stroke-width="2"/>
<line x1="73" y1="264" x2="327.5" y2="264" stroke="#141414" stroke-width="2"/>
<line x1="68" y1="264" x2="74" y2="264" stroke="#141414" stroke-width="1.8"/>
<text x="65.5" y="268.29" font-size="13" text-anchor="end">0.0</text>
<line x1="68" y1="207.5" x2="74" y2="207.5" stroke="#141414" stroke-width="1.8"/>
<text x="65.5" y="211.79" font-size="13" text-anchor="end">0.5</text>
<line x1="68" y1="151" x2="74" y2="151" stroke="#141414" stroke-width="1.8"/>
<text x="65.5" y="155.29" font-size="13" text-anchor="end">1.0</text>
<line x1="68" y1="94.5" x2="74" y2="94.5" stroke="#141414" stroke-width="1.8"/>
<text x="65.5" y="98.79" font-size="13" text-anchor="end">1.5</text>
<line x1="99.8" y1="264" x2="99.8" y2="270" stroke="#141414" stroke-width="1.8"/>
<line x1="150.3" y1="264" x2="150.3" y2="270" stroke="#141414" stroke-width="1.8"/>
<line x1="201.05" y1="264" x2="201.05" y2="270" stroke="#141414" stroke-width="1.8"/>
<line x1="251.55" y1="264" x2="251.55" y2="270" stroke="#141414" stroke-width="1.8"/>
<line x1="302.3" y1="264" x2="302.3" y2="270" stroke="#141414" stroke-width="1.8"/>
<text x="40.84" y="175" font-size="17.7" text-anchor="middle" transform="rotate(-90 40.84 175)">Relative mRNA level</text>
<text x="98" y="288.05" font-size="13.5" text-anchor="middle" transform="rotate(-17 98 284)">PCNA</text>
<text x="150.8" y="288.65" font-size="13.5" text-anchor="middle" transform="rotate(-17 150.8 284.6)">CDK1</text>
<text x="200.9" y="288.15" font-size="13.5" text-anchor="middle" transform="rotate(-17 200.9 284.1)">CCNA1</text>
<text x="250.5" y="288.95" font-size="13.5" text-anchor="middle" transform="rotate(-17 250.5 284.9)">CCNB1</text>
<text x="299.1" y="288.95" font-size="13.5" text-anchor="middle" transform="rotate(-17 299.1 284.9)">CCND1</text>
<line x1="87.5" y1="135" x2="100" y2="135" stroke="#111" stroke-width="1.8"/>
<text x="93.75" y="131.58" font-size="12" text-anchor="middle">**</text>
<line x1="99.5" y1="175" x2="112.5" y2="175" stroke="#111" stroke-width="1.8"/>
<text x="106" y="171.58" font-size="12" text-anchor="middle">*</text>
<line x1="137" y1="136" x2="151" y2="136" stroke="#111" stroke-width="1.8"/>
<text x="144" y="132.58" font-size="12" text-anchor="middle">*</text>
<line x1="289" y1="135" x2="302.5" y2="135" stroke="#111" stroke-width="1.8"/>
<text x="295.75" y="131.58" font-size="12" text-anchor="middle">*</text>
<text x="345" y="45" font-size="21">B</text>
<rect x="416" y="4.5" width="19" height="6" fill="#0000ff"/>
<text x="446" y="12.5" font-size="12.7">pcDNA3.1</text>
<rect x="416" y="29" width="19" height="6" fill="#ff0000"/>
<text x="446" y="37.5" font-size="12.7">pcDNA3.1-lnc SFFD</text>
<rect x="416" y="56" width="19" height="6.5" fill="#00c400"/>
<text x="446" y="64.5" font-size="12.7">pcDNA3.1-lnc SFFD+miR-202-3p mimic</text>
<line x1="417.7" y1="178.5" x2="417.7" y2="172.13" stroke="#0000ff" stroke-width="1.3"/>
<line x1="413.95" y1="172.13" x2="421.45" y2="172.13" stroke="#0000ff" stroke-width="1.3"/>
<rect x="411" y="178.5" width="13.4" height="91" fill="#0000ff"/>
<line x1="431.1" y1="166.67" x2="431.1" y2="161.21" stroke="#ff0000" stroke-width="1.3"/>
<line x1="427.35" y1="161.21" x2="434.85" y2="161.21" stroke="#ff0000" stroke-width="1.3"/>
<rect x="424.4" y="166.67" width="13.4" height="102.83" fill="#ff0000"/>
<line x1="444.5" y1="171.22" x2="444.5" y2="163.03" stroke="#00c400" stroke-width="1.3"/>
<line x1="440.75" y1="163.03" x2="448.25" y2="163.03" stroke="#00c400" stroke-width="1.3"/>
<rect x="437.8" y="171.22" width="13.4" height="98.28" fill="#00c400"/>
<line x1="472.2" y1="178.5" x2="472.2" y2="172.13" stroke="#0000ff" stroke-width="1.3"/>
<line x1="468.45" y1="172.13" x2="475.95" y2="172.13" stroke="#0000ff" stroke-width="1.3"/>
<rect x="465.5" y="178.5" width="13.4" height="91" fill="#0000ff"/>
<line x1="485.6" y1="138.46" x2="485.6" y2="130.27" stroke="#ff0000" stroke-width="1.3"/>
<line x1="481.85" y1="130.27" x2="489.35" y2="130.27" stroke="#ff0000" stroke-width="1.3"/>
<rect x="478.9" y="138.46" width="13.4" height="131.04" fill="#ff0000"/>
<line x1="499" y1="163.03" x2="499" y2="156.66" stroke="#00c400" stroke-width="1.3"/>
<line x1="495.25" y1="156.66" x2="502.75" y2="156.66" stroke="#00c400" stroke-width="1.3"/>
<rect x="492.3" y="163.03" width="13.4" height="106.47" fill="#00c400"/>
<line x1="526.7" y1="178.5" x2="526.7" y2="172.13" stroke="#0000ff" stroke-width="1.3"/>
<line x1="522.95" y1="172.13" x2="530.45" y2="172.13" stroke="#0000ff" stroke-width="1.3"/>
<rect x="520" y="178.5" width="13.4" height="91" fill="#0000ff"/>
<line x1="540.1" y1="185.78" x2="540.1" y2="180.32" stroke="#ff0000" stroke-width="1.3"/>
<line x1="536.35" y1="180.32" x2="543.85" y2="180.32" stroke="#ff0000" stroke-width="1.3"/>
<rect x="533.4" y="185.78" width="13.4" height="83.72" fill="#ff0000"/>
<line x1="553.5" y1="182.14" x2="553.5" y2="177.59" stroke="#00c400" stroke-width="1.3"/>
<line x1="549.75" y1="177.59" x2="557.25" y2="177.59" stroke="#00c400" stroke-width="1.3"/>
<rect x="546.8" y="182.14" width="13.4" height="87.36" fill="#00c400"/>
<line x1="580.7" y1="178.5" x2="580.7" y2="173.95" stroke="#0000ff" stroke-width="1.3"/>
<line x1="576.95" y1="173.95" x2="584.45" y2="173.95" stroke="#0000ff" stroke-width="1.3"/>
<rect x="574" y="178.5" width="13.4" height="91" fill="#0000ff"/>
<line x1="594.1" y1="117.53" x2="594.1" y2="109.34" stroke="#ff0000" stroke-width="1.3"/>
<line x1="590.35" y1="109.34" x2="597.85" y2="109.34" stroke="#ff0000" stroke-width="1.3"/>
<rect x="587.4" y="117.53" width="13.4" height="151.97" fill="#ff0000"/>
<line x1="607.5" y1="145.74" x2="607.5" y2="139.37" stroke="#00c400" stroke-width="1.3"/>
<line x1="603.75" y1="139.37" x2="611.25" y2="139.37" stroke="#00c400" stroke-width="1.3"/>
<rect x="600.8" y="145.74" width="13.4" height="123.76" fill="#00c400"/>
<line x1="635.7" y1="178.5" x2="635.7" y2="172.13" stroke="#0000ff" stroke-width="1.3"/>
<line x1="631.95" y1="172.13" x2="639.45" y2="172.13" stroke="#0000ff" stroke-width="1.3"/>
<rect x="629" y="178.5" width="13.4" height="91" fill="#0000ff"/>
<line x1="649.1" y1="137.55" x2="649.1" y2="128.45" stroke="#ff0000" stroke-width="1.3"/>
<line x1="645.35" y1="128.45" x2="652.85" y2="128.45" stroke="#ff0000" stroke-width="1.3"/>
<rect x="642.4" y="137.55" width="13.4" height="131.95" fill="#ff0000"/>
<line x1="662.5" y1="147.56" x2="662.5" y2="139.37" stroke="#00c400" stroke-width="1.3"/>
<line x1="658.75" y1="139.37" x2="666.25" y2="139.37" stroke="#00c400" stroke-width="1.3"/>
<rect x="655.8" y="147.56" width="13.4" height="121.94" fill="#00c400"/>
<line x1="404.5" y1="86.5" x2="404.5" y2="270.5" stroke="#141414" stroke-width="2"/>
<line x1="403.5" y1="269.5" x2="676" y2="269.5" stroke="#141414" stroke-width="2"/>
<line x1="398.5" y1="269.5" x2="404.5" y2="269.5" stroke="#141414" stroke-width="1.8"/>
<text x="396" y="273.95" font-size="13.5" text-anchor="end">0.0</text>
<line x1="398.5" y1="224" x2="404.5" y2="224" stroke="#141414" stroke-width="1.8"/>
<text x="396" y="228.46" font-size="13.5" text-anchor="end">0.5</text>
<line x1="398.5" y1="178.5" x2="404.5" y2="178.5" stroke="#141414" stroke-width="1.8"/>
<text x="396" y="182.96" font-size="13.5" text-anchor="end">1.0</text>
<line x1="398.5" y1="133" x2="404.5" y2="133" stroke="#141414" stroke-width="1.8"/>
<text x="396" y="137.46" font-size="13.5" text-anchor="end">1.5</text>
<line x1="398.5" y1="87.5" x2="404.5" y2="87.5" stroke="#141414" stroke-width="1.8"/>
<text x="396" y="91.95" font-size="13.5" text-anchor="end">2.0</text>
<line x1="431.1" y1="269.5" x2="431.1" y2="275.5" stroke="#141414" stroke-width="1.8"/>
<line x1="485.6" y1="269.5" x2="485.6" y2="275.5" stroke="#141414" stroke-width="1.8"/>
<line x1="540.1" y1="269.5" x2="540.1" y2="275.5" stroke="#141414" stroke-width="1.8"/>
<line x1="594.1" y1="269.5" x2="594.1" y2="275.5" stroke="#141414" stroke-width="1.8"/>
<line x1="649.1" y1="269.5" x2="649.1" y2="275.5" stroke="#141414" stroke-width="1.8"/>
<text x="369.87" y="175" font-size="17.8" text-anchor="middle" transform="rotate(-90 369.87 175)">Relative mRNA level</text>
<text x="418.6" y="296.75" font-size="13.5" text-anchor="middle" transform="rotate(-20 418.6 292.7)">CYP19A1</text>
<text x="473.9" y="296.75" font-size="13.5" text-anchor="middle" transform="rotate(-20 473.9 292.7)">CYP11A1</text>
<text x="532" y="295.05" font-size="13.5" text-anchor="middle" transform="rotate(-20 532 291)">STAR</text>
<text x="585.2" y="297.25" font-size="13.5" text-anchor="middle" transform="rotate(-20 585.2 293.2)">HSD17B1</text>
<text x="644.9" y="296.75" font-size="13.5" text-anchor="middle" transform="rotate(-20 644.9 292.7)">HSD3B1</text>
<line x1="470.5" y1="120" x2="484.5" y2="120" stroke="#111" stroke-width="1.8"/>
<text x="477.5" y="116.51" font-size="14" text-anchor="middle">**</text>
<line x1="486" y1="125" x2="501" y2="125" stroke="#111" stroke-width="1.8"/>
<text x="493.5" y="121.51" font-size="14" text-anchor="middle">*</text>
<line x1="579.5" y1="96" x2="593" y2="96" stroke="#111" stroke-width="1.8"/>
<text x="586.25" y="92.51" font-size="14" text-anchor="middle">**</text>
<line x1="595" y1="105" x2="610" y2="105" stroke="#111" stroke-width="1.8"/>
<text x="602.5" y="101.51" font-size="14" text-anchor="middle">**</text>
<line x1="634.5" y1="123" x2="649" y2="123" stroke="#111" stroke-width="1.8"/>
<text x="641.75" y="119.01" font-size="14" text-anchor="middle">**</text>
<text x="695" y="35" font-size="21">C</text>
<rect x="750.5" y="30" width="17.5" height="7.5" fill="#0000ff"/>
<text x="779" y="39.5" font-size="12.7">pcDNA3.1</text>
<rect x="750.5" y="53" width="17.5" height="7" fill="#ff0000"/>
<text x="779" y="61" font-size="12.7">pcDNA3.1-lnc SFFD</text>
<rect x="750.5" y="79" width="17.5" height="6.5" fill="#00c400"/>
<text x="779" y="87" font-size="12.7">pcDNA3.1-lnc SFFD+miR-202-3p mimic</text>
<line x1="761.5" y1="149" x2="761.5" y2="139.96" stroke="#0000ff" stroke-width="1.3"/>
<line x1="757.86" y1="139.96" x2="765.14" y2="139.96" stroke="#0000ff" stroke-width="1.3"/>
<rect x="755" y="149" width="13" height="113" fill="#0000ff"/>
<line x1="774.5" y1="200.98" x2="774.5" y2="194.2" stroke="#ff0000" stroke-width="1.3"/>
<line x1="770.86" y1="194.2" x2="778.14" y2="194.2" stroke="#ff0000" stroke-width="1.3"/>
<rect x="768" y="200.98" width="13" height="61.02" fill="#ff0000"/>
<line x1="787.5" y1="186.29" x2="787.5" y2="178.38" stroke="#00c400" stroke-width="1.3"/>
<line x1="783.86" y1="178.38" x2="791.14" y2="178.38" stroke="#00c400" stroke-width="1.3"/>
<rect x="781" y="186.29" width="13" height="75.71" fill="#00c400"/>
<line x1="812.25" y1="149" x2="812.25" y2="138.83" stroke="#0000ff" stroke-width="1.3"/>
<line x1="808.61" y1="138.83" x2="815.89" y2="138.83" stroke="#0000ff" stroke-width="1.3"/>
<rect x="805.75" y="149" width="13" height="113" fill="#0000ff"/>
<line x1="825.25" y1="171.6" x2="825.25" y2="162.56" stroke="#ff0000" stroke-width="1.3"/>
<line x1="821.61" y1="162.56" x2="828.89" y2="162.56" stroke="#ff0000" stroke-width="1.3"/>
<rect x="818.75" y="171.6" width="13" height="90.4" fill="#ff0000"/>
<line x1="838.25" y1="161.43" x2="838.25" y2="153.52" stroke="#00c400" stroke-width="1.3"/>
<line x1="834.61" y1="153.52" x2="841.89" y2="153.52" stroke="#00c400" stroke-width="1.3"/>
<rect x="831.75" y="161.43" width="13" height="100.57" fill="#00c400"/>
<line x1="862.5" y1="149" x2="862.5" y2="139.96" stroke="#0000ff" stroke-width="1.3"/>
<line x1="858.86" y1="139.96" x2="866.14" y2="139.96" stroke="#0000ff" stroke-width="1.3"/>
<rect x="856" y="149" width="13" height="113" fill="#0000ff"/>
<line x1="875.5" y1="168.21" x2="875.5" y2="162.56" stroke="#ff0000" stroke-width="1.3"/>
<line x1="871.86" y1="162.56" x2="879.14" y2="162.56" stroke="#ff0000" stroke-width="1.3"/>
<rect x="869" y="168.21" width="13" height="93.79" fill="#ff0000"/>
<line x1="888.5" y1="162.56" x2="888.5" y2="153.52" stroke="#00c400" stroke-width="1.3"/>
<line x1="884.86" y1="153.52" x2="892.14" y2="153.52" stroke="#00c400" stroke-width="1.3"/>
<rect x="882" y="162.56" width="13" height="99.44" fill="#00c400"/>
<line x1="913.5" y1="149" x2="913.5" y2="139.96" stroke="#0000ff" stroke-width="1.3"/>
<line x1="909.86" y1="139.96" x2="917.14" y2="139.96" stroke="#0000ff" stroke-width="1.3"/>
<rect x="907" y="149" width="13" height="113" fill="#0000ff"/>
<line x1="926.5" y1="162.56" x2="926.5" y2="153.52" stroke="#ff0000" stroke-width="1.3"/>
<line x1="922.86" y1="153.52" x2="930.14" y2="153.52" stroke="#ff0000" stroke-width="1.3"/>
<rect x="920" y="162.56" width="13" height="99.44" fill="#ff0000"/>
<line x1="939.5" y1="155.78" x2="939.5" y2="147.87" stroke="#00c400" stroke-width="1.3"/>
<line x1="935.86" y1="147.87" x2="943.14" y2="147.87" stroke="#00c400" stroke-width="1.3"/>
<rect x="933" y="155.78" width="13" height="106.22" fill="#00c400"/>
<line x1="964" y1="149" x2="964" y2="142.22" stroke="#0000ff" stroke-width="1.3"/>
<line x1="960.36" y1="142.22" x2="967.64" y2="142.22" stroke="#0000ff" stroke-width="1.3"/>
<rect x="957.5" y="149" width="13" height="113" fill="#0000ff"/>
<line x1="977" y1="134.31" x2="977" y2="126.4" stroke="#ff0000" stroke-width="1.3"/>
<line x1="973.36" y1="126.4" x2="980.64" y2="126.4" stroke="#ff0000" stroke-width="1.3"/>
<rect x="970.5" y="134.31" width="13" height="127.69" fill="#ff0000"/>
<line x1="990" y1="137.7" x2="990" y2="132.05" stroke="#00c400" stroke-width="1.3"/>
<line x1="986.36" y1="132.05" x2="993.64" y2="132.05" stroke="#00c400" stroke-width="1.3"/>
<rect x="983.5" y="137.7" width="13" height="124.3" fill="#00c400"/>
<line x1="747.5" y1="91.5" x2="747.5" y2="263" stroke="#141414" stroke-width="2"/>
<line x1="746.5" y1="262" x2="1002.5" y2="262" stroke="#141414" stroke-width="2"/>
<line x1="741.5" y1="262" x2="747.5" y2="262" stroke="#141414" stroke-width="1.8"/>
<text x="739" y="266.29" font-size="13" text-anchor="end">0.0</text>
<line x1="741.5" y1="205.5" x2="747.5" y2="205.5" stroke="#141414" stroke-width="1.8"/>
<text x="739" y="209.79" font-size="13" text-anchor="end">0.5</text>
<line x1="741.5" y1="149" x2="747.5" y2="149" stroke="#141414" stroke-width="1.8"/>
<text x="739" y="153.29" font-size="13" text-anchor="end">1.0</text>
<line x1="741.5" y1="92.5" x2="747.5" y2="92.5" stroke="#141414" stroke-width="1.8"/>
<text x="739" y="96.79" font-size="13" text-anchor="end">1.5</text>
<line x1="774.5" y1="262" x2="774.5" y2="268" stroke="#141414" stroke-width="1.8"/>
<line x1="825.25" y1="262" x2="825.25" y2="268" stroke="#141414" stroke-width="1.8"/>
<line x1="875.5" y1="262" x2="875.5" y2="268" stroke="#141414" stroke-width="1.8"/>
<line x1="926.5" y1="262" x2="926.5" y2="268" stroke="#141414" stroke-width="1.8"/>
<line x1="977" y1="262" x2="977" y2="268" stroke="#141414" stroke-width="1.8"/>
<text x="716.59" y="176" font-size="17.7" text-anchor="middle" transform="rotate(-90 716.59 176)">Relative mRNA level</text>
<text x="761.7" y="288.05" font-size="13.5" text-anchor="middle" transform="rotate(-19 761.7 284)">CASP3</text>
<text x="817.5" y="288.15" font-size="13.5" text-anchor="middle" transform="rotate(-19 817.5 284.1)">CASP8</text>
<text x="871.4" y="288.55" font-size="13.5" text-anchor="middle" transform="rotate(-19 871.4 284.5)">CASP9</text>
<text x="921.5" y="288.65" font-size="13.5" text-anchor="middle" transform="rotate(-19 921.5 284.6)">BAX</text>
<text x="973" y="287.65" font-size="13.5" text-anchor="middle" transform="rotate(-19 973 283.6)">BCL2</text>
<line x1="760" y1="136" x2="774.5" y2="136" stroke="#111" stroke-width="1.8"/>
<text x="767.25" y="133.08" font-size="12" text-anchor="middle">**</text>
<line x1="773" y1="174" x2="787.5" y2="174" stroke="#111" stroke-width="1.8"/>
<text x="780.25" y="170.58" font-size="12" text-anchor="middle">*</text>
<line x1="811" y1="135" x2="825.5" y2="135" stroke="#111" stroke-width="1.8"/>
<text x="818.25" y="131.58" font-size="12" text-anchor="middle">*</text>
<line x1="862" y1="136" x2="876" y2="136" stroke="#111" stroke-width="1.8"/>
<text x="869" y="132.58" font-size="12" text-anchor="middle">*</text>
<text x="14" y="340" font-size="21">E</text>
<rect x="71" y="377" width="17" height="7" fill="#0000ff"/>
<text x="99" y="385.5" font-size="12.2">pcDNA3.1</text>
<rect x="71" y="399" width="17" height="6.5" fill="#ff0000"/>
<text x="99" y="407.5" font-size="12.2">pcDNA3.1-lnc SFFD</text>
<rect x="71" y="420.5" width="17" height="7" fill="#00c400"/>
<text x="99" y="429" font-size="12.2">pcDNA3.1-lnc SFFD+miR-202-3p mimic</text>
<line x1="81.8" y1="541.67" x2="81.8" y2="537.9" stroke="#0000ff" stroke-width="1.3"/>
<line x1="78.41" y1="537.9" x2="85.19" y2="537.9" stroke="#0000ff" stroke-width="1.3"/>
<rect x="75.75" y="541.67" width="12.1" height="53.83" fill="#0000ff"/>
<line x1="93.9" y1="474.38" x2="93.9" y2="463.61" stroke="#ff0000" stroke-width="1.3"/>
<line x1="90.51" y1="463.61" x2="97.29" y2="463.61" stroke="#ff0000" stroke-width="1.3"/>
<rect x="87.85" y="474.38" width="12.1" height="121.12" fill="#ff0000"/>
<line x1="106" y1="513.67" x2="106" y2="508.29" stroke="#00c400" stroke-width="1.3"/>
<line x1="102.61" y1="508.29" x2="109.39" y2="508.29" stroke="#00c400" stroke-width="1.3"/>
<rect x="99.95" y="513.67" width="12.1" height="81.83" fill="#00c400"/>
<line x1="130.55" y1="541.67" x2="130.55" y2="537.9" stroke="#0000ff" stroke-width="1.3"/>
<line x1="127.16" y1="537.9" x2="133.94" y2="537.9" stroke="#0000ff" stroke-width="1.3"/>
<rect x="124.5" y="541.67" width="12.1" height="53.83" fill="#0000ff"/>
<line x1="142.65" y1="510.98" x2="142.65" y2="502.37" stroke="#ff0000" stroke-width="1.3"/>
<line x1="139.26" y1="502.37" x2="146.04" y2="502.37" stroke="#ff0000" stroke-width="1.3"/>
<rect x="136.6" y="510.98" width="12.1" height="84.52" fill="#ff0000"/>
<line x1="154.75" y1="517.98" x2="154.75" y2="512.06" stroke="#00c400" stroke-width="1.3"/>
<line x1="151.36" y1="512.06" x2="158.14" y2="512.06" stroke="#00c400" stroke-width="1.3"/>
<rect x="148.7" y="517.98" width="12.1" height="77.52" fill="#00c400"/>
<line x1="179.05" y1="541.67" x2="179.05" y2="537.36" stroke="#0000ff" stroke-width="1.3"/>
<line x1="175.66" y1="537.36" x2="182.44" y2="537.36" stroke="#0000ff" stroke-width="1.3"/>
<rect x="173" y="541.67" width="12.1" height="53.83" fill="#0000ff"/>
<line x1="191.15" y1="526.59" x2="191.15" y2="520.67" stroke="#ff0000" stroke-width="1.3"/>
<line x1="187.76" y1="520.67" x2="194.54" y2="520.67" stroke="#ff0000" stroke-width="1.3"/>
<rect x="185.1" y="526.59" width="12.1" height="68.91" fill="#ff0000"/>
<line x1="203.25" y1="527.13" x2="203.25" y2="523.36" stroke="#00c400" stroke-width="1.3"/>
<line x1="199.86" y1="523.36" x2="206.64" y2="523.36" stroke="#00c400" stroke-width="1.3"/>
<rect x="197.2" y="527.13" width="12.1" height="68.37" fill="#00c400"/>
<line x1="227.55" y1="541.67" x2="227.55" y2="537.9" stroke="#0000ff" stroke-width="1.3"/>
<line x1="224.16" y1="537.9" x2="230.94" y2="537.9" stroke="#0000ff" stroke-width="1.3"/>
<rect x="221.5" y="541.67" width="12.1" height="53.83" fill="#0000ff"/>
<line x1="239.65" y1="542.21" x2="239.65" y2="537.9" stroke="#ff0000" stroke-width="1.3"/>
<line x1="236.26" y1="537.9" x2="243.04" y2="537.9" stroke="#ff0000" stroke-width="1.3"/>
<rect x="233.6" y="542.21" width="12.1" height="53.29" fill="#ff0000"/>
<line x1="251.75" y1="546.51" x2="251.75" y2="542.74" stroke="#00c400" stroke-width="1.3"/>
<line x1="248.36" y1="542.74" x2="255.14" y2="542.74" stroke="#00c400" stroke-width="1.3"/>
<rect x="245.7" y="546.51" width="12.1" height="48.99" fill="#00c400"/>
<line x1="275.55" y1="541.67" x2="275.55" y2="537.9" stroke="#0000ff" stroke-width="1.3"/>
<line x1="272.16" y1="537.9" x2="278.94" y2="537.9" stroke="#0000ff" stroke-width="1.3"/>
<rect x="269.5" y="541.67" width="12.1" height="53.83" fill="#0000ff"/>
<line x1="287.65" y1="491.6" x2="287.65" y2="481.91" stroke="#ff0000" stroke-width="1.3"/>
<line x1="284.26" y1="481.91" x2="291.04" y2="481.91" stroke="#ff0000" stroke-width="1.3"/>
<rect x="281.6" y="491.6" width="12.1" height="103.9" fill="#ff0000"/>
<line x1="299.75" y1="512.06" x2="299.75" y2="506.68" stroke="#00c400" stroke-width="1.3"/>
<line x1="296.36" y1="506.68" x2="303.14" y2="506.68" stroke="#00c400" stroke-width="1.3"/>
<rect x="293.7" y="512.06" width="12.1" height="83.44" fill="#00c400"/>
<line x1="69.5" y1="433" x2="69.5" y2="596.5" stroke="#141414" stroke-width="2"/>
<line x1="68.5" y1="595.5" x2="312.5" y2="595.5" stroke="#141414" stroke-width="2"/>
<line x1="63.5" y1="595.5" x2="69.5" y2="595.5" stroke="#141414" stroke-width="1.8"/>
<text x="61" y="599.79" font-size="13" text-anchor="end">0</text>
<line x1="63.5" y1="541.67" x2="69.5" y2="541.67" stroke="#141414" stroke-width="1.8"/>
<text x="61" y="545.96" font-size="13" text-anchor="end">1</text>
<line x1="63.5" y1="487.83" x2="69.5" y2="487.83" stroke="#141414" stroke-width="1.8"/>
<text x="61" y="492.12" font-size="13" text-anchor="end">2</text>
<line x1="63.5" y1="434" x2="69.5" y2="434" stroke="#141414" stroke-width="1.8"/>
<text x="61" y="438.29" font-size="13" text-anchor="end">3</text>
<line x1="93.9" y1="595.5" x2="93.9" y2="601.5" stroke="#141414" stroke-width="1.8"/>
<line x1="142.65" y1="595.5" x2="142.65" y2="601.5" stroke="#141414" stroke-width="1.8"/>
<line x1="191.15" y1="595.5" x2="191.15" y2="601.5" stroke="#141414" stroke-width="1.8"/>
<line x1="239.65" y1="595.5" x2="239.65" y2="601.5" stroke="#141414" stroke-width="1.8"/>
<line x1="287.65" y1="595.5" x2="287.65" y2="601.5" stroke="#141414" stroke-width="1.8"/>
<text x="46.27" y="515" font-size="17.8" text-anchor="middle" transform="rotate(-90 46.27 515)">Relative mRNA level</text>
<text x="87.9" y="617.85" font-size="13.5" text-anchor="middle" transform="rotate(-15 87.9 613.8)">PCNA</text>
<text x="140.4" y="617.85" font-size="13.5" text-anchor="middle" transform="rotate(-15 140.4 613.8)">CDK1</text>
<text x="190.5" y="617.35" font-size="13.5" text-anchor="middle" transform="rotate(-15 190.5 613.3)">CCNA1</text>
<text x="240.6" y="618.75" font-size="13.5" text-anchor="middle" transform="rotate(-15 240.6 614.7)">CCNB1</text>
<text x="288.3" y="618.75" font-size="13.5" text-anchor="middle" transform="rotate(-15 288.3 614.7)">CCND1</text>
<line x1="79.5" y1="458" x2="92.5" y2="458" stroke="#111" stroke-width="1.8"/>
<text x="86" y="456.28" font-size="13.5" text-anchor="middle">**</text>
<line x1="96" y1="452" x2="109" y2="452" stroke="#111" stroke-width="1.8"/>
<text x="102.5" y="450.28" font-size="13.5" text-anchor="middle">**</text>
<line x1="129" y1="498.5" x2="142" y2="498.5" stroke="#111" stroke-width="1.8"/>
<text x="135.5" y="496.28" font-size="13.5" text-anchor="middle">**</text>
<line x1="177.5" y1="516.5" x2="190.5" y2="516.5" stroke="#111" stroke-width="1.8"/>
<text x="184" y="514.28" font-size="13.5" text-anchor="middle">*</text>
<line x1="275" y1="477.5" x2="287.5" y2="477.5" stroke="#111" stroke-width="1.8"/>
<text x="281.25" y="475.28" font-size="13.5" text-anchor="middle">**</text>
<line x1="291" y1="470" x2="304" y2="470" stroke="#111" stroke-width="1.8"/>
<text x="297.5" y="468.28" font-size="13.5" text-anchor="middle">*</text>
<text x="340" y="347.5" font-size="21">F</text>
<rect x="405" y="335" width="21" height="7.5" fill="#0000ff"/>
<text x="438" y="344" font-size="13.8">siRNA-NC</text>
<rect x="405" y="362" width="21" height="7" fill="#ff0000"/>
<text x="438" y="370" font-size="13.8">si-lnc SFFD</text>
<rect x="405" y="391" width="21" height="6.5" fill="#00c400"/>
<text x="438" y="399.5" font-size="13.8">si-lnc SFFD+miR-202-3p inhibitor</text>
<line x1="406.8" y1="475.08" x2="406.8" y2="467.21" stroke="#0000ff" stroke-width="1.3"/>
<line x1="402.71" y1="467.21" x2="410.89" y2="467.21" stroke="#0000ff" stroke-width="1.3"/>
<rect x="399.5" y="475.08" width="14.6" height="131.17" fill="#0000ff"/>
<line x1="421.4" y1="467.21" x2="421.4" y2="459.34" stroke="#ff0000" stroke-width="1.3"/>
<line x1="417.31" y1="459.34" x2="425.49" y2="459.34" stroke="#ff0000" stroke-width="1.3"/>
<rect x="414.1" y="467.21" width="14.6" height="139.04" fill="#ff0000"/>
<line x1="436" y1="458.03" x2="436" y2="450.16" stroke="#00c400" stroke-width="1.3"/>
<line x1="431.91" y1="450.16" x2="440.09" y2="450.16" stroke="#00c400" stroke-width="1.3"/>
<rect x="428.7" y="458.03" width="14.6" height="148.22" fill="#00c400"/>
<line x1="466.05" y1="475.08" x2="466.05" y2="467.21" stroke="#0000ff" stroke-width="1.3"/>
<line x1="461.96" y1="467.21" x2="470.14" y2="467.21" stroke="#0000ff" stroke-width="1.3"/>
<rect x="458.75" y="475.08" width="14.6" height="131.17" fill="#0000ff"/>
<line x1="480.65" y1="494.76" x2="480.65" y2="489.51" stroke="#ff0000" stroke-width="1.3"/>
<line x1="476.56" y1="489.51" x2="484.74" y2="489.51" stroke="#ff0000" stroke-width="1.3"/>
<rect x="473.35" y="494.76" width="14.6" height="111.49" fill="#ff0000"/>
<line x1="495.25" y1="477.71" x2="495.25" y2="469.84" stroke="#00c400" stroke-width="1.3"/>
<line x1="491.16" y1="469.84" x2="499.34" y2="469.84" stroke="#00c400" stroke-width="1.3"/>
<rect x="487.95" y="477.71" width="14.6" height="128.54" fill="#00c400"/>
<line x1="524.8" y1="475.08" x2="524.8" y2="467.21" stroke="#0000ff" stroke-width="1.3"/>
<line x1="520.71" y1="467.21" x2="528.89" y2="467.21" stroke="#0000ff" stroke-width="1.3"/>
<rect x="517.5" y="475.08" width="14.6" height="131.17" fill="#0000ff"/>
<line x1="539.4" y1="488.2" x2="539.4" y2="481.64" stroke="#ff0000" stroke-width="1.3"/>
<line x1="535.31" y1="481.64" x2="543.49" y2="481.64" stroke="#ff0000" stroke-width="1.3"/>
<rect x="532.1" y="488.2" width="14.6" height="118.05" fill="#ff0000"/>
<line x1="554" y1="463.28" x2="554" y2="454.1" stroke="#00c400" stroke-width="1.3"/>
<line x1="549.91" y1="454.1" x2="558.09" y2="454.1" stroke="#00c400" stroke-width="1.3"/>
<rect x="546.7" y="463.28" width="14.6" height="142.97" fill="#00c400"/>
<line x1="583.55" y1="475.08" x2="583.55" y2="465.9" stroke="#0000ff" stroke-width="1.3"/>
<line x1="579.46" y1="465.9" x2="587.64" y2="465.9" stroke="#0000ff" stroke-width="1.3"/>
<rect x="576.25" y="475.08" width="14.6" height="131.17" fill="#0000ff"/>
<line x1="598.15" y1="510.5" x2="598.15" y2="503.94" stroke="#ff0000" stroke-width="1.3"/>
<line x1="594.06" y1="503.94" x2="602.24" y2="503.94" stroke="#ff0000" stroke-width="1.3"/>
<rect x="590.85" y="510.5" width="14.6" height="95.75" fill="#ff0000"/>
<line x1="612.75" y1="463.28" x2="612.75" y2="454.1" stroke="#00c400" stroke-width="1.3"/>
<line x1="608.66" y1="454.1" x2="616.84" y2="454.1" stroke="#00c400" stroke-width="1.3"/>
<rect x="605.45" y="463.28" width="14.6" height="142.97" fill="#00c400"/>
<line x1="642.3" y1="475.08" x2="642.3" y2="465.9" stroke="#0000ff" stroke-width="1.3"/>
<line x1="638.21" y1="465.9" x2="646.39" y2="465.9" stroke="#0000ff" stroke-width="1.3"/>
<rect x="635" y="475.08" width="14.6" height="131.17" fill="#0000ff"/>
<line x1="656.9" y1="524.93" x2="656.9" y2="519.68" stroke="#ff0000" stroke-width="1.3"/>
<line x1="652.81" y1="519.68" x2="660.99" y2="519.68" stroke="#ff0000" stroke-width="1.3"/>
<rect x="649.6" y="524.93" width="14.6" height="81.32" fill="#ff0000"/>
<line x1="671.5" y1="507.88" x2="671.5" y2="500" stroke="#00c400" stroke-width="1.3"/>
<line x1="667.41" y1="500" x2="675.59" y2="500" stroke="#00c400" stroke-width="1.3"/>
<rect x="664.2" y="507.88" width="14.6" height="98.38" fill="#00c400"/>
<line x1="392.5" y1="408.5" x2="392.5" y2="607.25" stroke="#141414" stroke-width="2"/>
<line x1="391.5" y1="606.25" x2="687.5" y2="606.25" stroke="#141414" stroke-width="2"/>
<line x1="386.5" y1="606.25" x2="392.5" y2="606.25" stroke="#141414" stroke-width="1.8"/>
<text x="384" y="611.03" font-size="14.5" text-anchor="end">0.0</text>
<line x1="386.5" y1="540.67" x2="392.5" y2="540.67" stroke="#141414" stroke-width="1.8"/>
<text x="384" y="545.45" font-size="14.5" text-anchor="end">0.5</text>
<line x1="386.5" y1="475.08" x2="392.5" y2="475.08" stroke="#141414" stroke-width="1.8"/>
<text x="384" y="479.87" font-size="14.5" text-anchor="end">1.0</text>
<line x1="386.5" y1="409.5" x2="392.5" y2="409.5" stroke="#141414" stroke-width="1.8"/>
<text x="384" y="414.29" font-size="14.5" text-anchor="end">1.5</text>
<line x1="421.4" y1="606.25" x2="421.4" y2="612.25" stroke="#141414" stroke-width="1.8"/>
<line x1="480.65" y1="606.25" x2="480.65" y2="612.25" stroke="#141414" stroke-width="1.8"/>
<line x1="539.4" y1="606.25" x2="539.4" y2="612.25" stroke="#141414" stroke-width="1.8"/>
<line x1="598.15" y1="606.25" x2="598.15" y2="612.25" stroke="#141414" stroke-width="1.8"/>
<line x1="656.9" y1="606.25" x2="656.9" y2="612.25" stroke="#141414" stroke-width="1.8"/>
<text x="355.47" y="507" font-size="18.4" text-anchor="middle" transform="rotate(-90 355.47 507)">Relative mRNA level</text>
<text x="413" y="636.35" font-size="14.5" text-anchor="middle" transform="rotate(-19 413 632)">CYP19A1</text>
<text x="471.5" y="636.35" font-size="14.5" text-anchor="middle" transform="rotate(-19 471.5 632)">CYP11A1</text>
<text x="533.3" y="633.65" font-size="14.5" text-anchor="middle" transform="rotate(-19 533.3 629.3)">STAR</text>
<text x="589.5" y="636.95" font-size="14.5" text-anchor="middle" transform="rotate(-19 589.5 632.6)">HSD17B1</text>
<text x="654.6" y="636.35" font-size="14.5" text-anchor="middle" transform="rotate(-19 654.6 632)">HSD3B1</text>
<line x1="464" y1="455" x2="479" y2="455" stroke="#111" stroke-width="1.8"/>
<text x="471.5" y="450.98" font-size="15" text-anchor="middle">*</text>
<line x1="480.5" y1="465" x2="495.5" y2="465" stroke="#111" stroke-width="1.8"/>
<text x="488" y="461.98" font-size="15" text-anchor="middle">*</text>
<line x1="539" y1="447" x2="554" y2="447" stroke="#111" stroke-width="1.8"/>
<text x="546.5" y="442.98" font-size="15" text-anchor="middle">*</text>
<line x1="582.5" y1="460" x2="597.5" y2="460" stroke="#111" stroke-width="1.8"/>
<text x="590" y="455.98" font-size="15" text-anchor="middle">**</text>
<line x1="599" y1="438.75" x2="613" y2="438.75" stroke="#111" stroke-width="1.8"/>
<text x="606" y="434.98" font-size="15" text-anchor="middle">**</text>
<line x1="642.5" y1="458.75" x2="657.5" y2="458.75" stroke="#111" stroke-width="1.8"/>
<text x="650" y="454.98" font-size="15" text-anchor="middle">**</text>
<line x1="657.5" y1="495" x2="672" y2="495" stroke="#111" stroke-width="1.8"/>
<text x="664.75" y="490.98" font-size="15" text-anchor="middle">*</text>
<text x="704" y="359.5" font-size="21">G</text>
<rect x="767" y="349.5" width="19" height="7.5" fill="#0000ff"/>
<text x="797" y="358" font-size="13.1">siRNA-NC</text>
<rect x="767" y="374" width="19" height="6.5" fill="#ff0000"/>
<text x="797" y="382" font-size="13.1">si-lnc SFFD</text>
<rect x="767" y="399.5" width="19" height="6.5" fill="#00c400"/>
<text x="797" y="408" font-size="13.1">si-lnc SFFD+miR-202-3p inhibitor</text>
<line x1="778.6" y1="531.25" x2="778.6" y2="525.65" stroke="#0000ff" stroke-width="1.3"/>
<line x1="774.9" y1="525.65" x2="782.3" y2="525.65" stroke="#0000ff" stroke-width="1.3"/>
<rect x="772" y="531.25" width="13.2" height="70" fill="#0000ff"/>
<line x1="791.8" y1="457.05" x2="791.8" y2="450.75" stroke="#ff0000" stroke-width="1.3"/>
<line x1="788.1" y1="450.75" x2="795.5" y2="450.75" stroke="#ff0000" stroke-width="1.3"/>
<rect x="785.2" y="457.05" width="13.2" height="144.2" fill="#ff0000"/>
<line x1="805" y1="489.25" x2="805" y2="482.95" stroke="#00c400" stroke-width="1.3"/>
<line x1="801.3" y1="482.95" x2="808.7" y2="482.95" stroke="#00c400" stroke-width="1.3"/>
<rect x="798.4" y="489.25" width="13.2" height="112" fill="#00c400"/>
<line x1="831.1" y1="531.25" x2="831.1" y2="527.75" stroke="#0000ff" stroke-width="1.3"/>
<line x1="827.4" y1="527.75" x2="834.8" y2="527.75" stroke="#0000ff" stroke-width="1.3"/>
<rect x="824.5" y="531.25" width="13.2" height="70" fill="#0000ff"/>
<line x1="844.3" y1="496.95" x2="844.3" y2="491.35" stroke="#ff0000" stroke-width="1.3"/>
<line x1="840.6" y1="491.35" x2="848" y2="491.35" stroke="#ff0000" stroke-width="1.3"/>
<rect x="837.7" y="496.95" width="13.2" height="104.3" fill="#ff0000"/>
<line x1="857.5" y1="511.65" x2="857.5" y2="505.35" stroke="#00c400" stroke-width="1.3"/>
<line x1="853.8" y1="505.35" x2="861.2" y2="505.35" stroke="#00c400" stroke-width="1.3"/>
<rect x="850.9" y="511.65" width="13.2" height="89.6" fill="#00c400"/>
<line x1="883.6" y1="531.25" x2="883.6" y2="527.75" stroke="#0000ff" stroke-width="1.3"/>
<line x1="879.9" y1="527.75" x2="887.3" y2="527.75" stroke="#0000ff" stroke-width="1.3"/>
<rect x="877" y="531.25" width="13.2" height="70" fill="#0000ff"/>
<line x1="896.8" y1="513.75" x2="896.8" y2="505.35" stroke="#ff0000" stroke-width="1.3"/>
<line x1="893.1" y1="505.35" x2="900.5" y2="505.35" stroke="#ff0000" stroke-width="1.3"/>
<rect x="890.2" y="513.75" width="13.2" height="87.5" fill="#ff0000"/>
<line x1="910" y1="519.35" x2="910" y2="513.05" stroke="#00c400" stroke-width="1.3"/>
<line x1="906.3" y1="513.05" x2="913.7" y2="513.05" stroke="#00c400" stroke-width="1.3"/>
<rect x="903.4" y="519.35" width="13.2" height="81.9" fill="#00c400"/>
<line x1="936.6" y1="531.25" x2="936.6" y2="526.35" stroke="#0000ff" stroke-width="1.3"/>
<line x1="932.9" y1="526.35" x2="940.3" y2="526.35" stroke="#0000ff" stroke-width="1.3"/>
<rect x="930" y="531.25" width="13.2" height="70" fill="#0000ff"/>
<line x1="949.8" y1="522.15" x2="949.8" y2="517.95" stroke="#ff0000" stroke-width="1.3"/>
<line x1="946.1" y1="517.95" x2="953.5" y2="517.95" stroke="#ff0000" stroke-width="1.3"/>
<rect x="943.2" y="522.15" width="13.2" height="79.1" fill="#ff0000"/>
<line x1="963" y1="542.45" x2="963" y2="538.95" stroke="#00c400" stroke-width="1.3"/>
<line x1="959.3" y1="538.95" x2="966.7" y2="538.95" stroke="#00c400" stroke-width="1.3"/>
<rect x="956.4" y="542.45" width="13.2" height="58.8" fill="#00c400"/>
<line x1="989.1" y1="531.25" x2="989.1" y2="527.75" stroke="#0000ff" stroke-width="1.3"/>
<line x1="985.4" y1="527.75" x2="992.8" y2="527.75" stroke="#0000ff" stroke-width="1.3"/>
<rect x="982.5" y="531.25" width="13.2" height="70" fill="#0000ff"/>
<line x1="1002.3" y1="527.05" x2="1002.3" y2="523.55" stroke="#ff0000" stroke-width="1.3"/>
<line x1="998.6" y1="523.55" x2="1006" y2="523.55" stroke="#ff0000" stroke-width="1.3"/>
<rect x="995.7" y="527.05" width="13.2" height="74.2" fill="#ff0000"/>
<line x1="1015.5" y1="513.75" x2="1015.5" y2="508.85" stroke="#00c400" stroke-width="1.3"/>
<line x1="1011.8" y1="508.85" x2="1019.2" y2="508.85" stroke="#00c400" stroke-width="1.3"/>
<rect x="1008.9" y="513.75" width="13.2" height="87.5" fill="#00c400"/>
<line x1="765.75" y1="425.25" x2="765.75" y2="602.25" stroke="#141414" stroke-width="2"/>
<line x1="764.75" y1="601.25" x2="1028.75" y2="601.25" stroke="#141414" stroke-width="2"/>
<line x1="759.75" y1="601.25" x2="765.75" y2="601.25" stroke="#141414" stroke-width="1.8"/>
<text x="757.25" y="605.71" font-size="13.5" text-anchor="end">0.0</text>
<line x1="759.75" y1="566.25" x2="765.75" y2="566.25" stroke="#141414" stroke-width="1.8"/>
<text x="757.25" y="570.71" font-size="13.5" text-anchor="end">0.5</text>
<line x1="759.75" y1="531.25" x2="765.75" y2="531.25" stroke="#141414" stroke-width="1.8"/>
<text x="757.25" y="535.71" font-size="13.5" text-anchor="end">1.0</text>
<line x1="759.75" y1="496.25" x2="765.75" y2="496.25" stroke="#141414" stroke-width="1.8"/>
<text x="757.25" y="500.7" font-size="13.5" text-anchor="end">1.5</text>
<line x1="759.75" y1="461.25" x2="765.75" y2="461.25" stroke="#141414" stroke-width="1.8"/>
<text x="757.25" y="465.7" font-size="13.5" text-anchor="end">2.0</text>
<line x1="759.75" y1="426.25" x2="765.75" y2="426.25" stroke="#141414" stroke-width="1.8"/>
<text x="757.25" y="430.7" font-size="13.5" text-anchor="end">2.5</text>
<line x1="791.8" y1="601.25" x2="791.8" y2="607.25" stroke="#141414" stroke-width="1.8"/>
<line x1="844.3" y1="601.25" x2="844.3" y2="607.25" stroke="#141414" stroke-width="1.8"/>
<line x1="896.8" y1="601.25" x2="896.8" y2="607.25" stroke="#141414" stroke-width="1.8"/>
<line x1="949.8" y1="601.25" x2="949.8" y2="607.25" stroke="#141414" stroke-width="1.8"/>
<line x1="1002.3" y1="601.25" x2="1002.3" y2="607.25" stroke="#141414" stroke-width="1.8"/>
<text x="732" y="512.5" font-size="18.5" text-anchor="middle" transform="rotate(-90 732 512.5)">Relative mRNA level</text>
<text x="780.3" y="628.7" font-size="14" text-anchor="middle" transform="rotate(-19 780.3 624.5)">CASP3</text>
<text x="837.5" y="628.7" font-size="14" text-anchor="middle" transform="rotate(-19 837.5 624.5)">CASP8</text>
<text x="892.8" y="628.2" font-size="14" text-anchor="middle" transform="rotate(-19 892.8 624)">CASP9</text>
<text x="945.3" y="628.2" font-size="14" text-anchor="middle" transform="rotate(-19 945.3 624)">BAX</text>
<text x="998.7" y="627.7" font-size="14" text-anchor="middle" transform="rotate(-19 998.7 623.5)">BCL2</text>
<line x1="777" y1="440.75" x2="790" y2="440.75" stroke="#111" stroke-width="1.8"/>
<text x="783.5" y="438.78" font-size="13.5" text-anchor="middle">**</text>
<line x1="794" y1="445" x2="807.5" y2="445" stroke="#111" stroke-width="1.8"/>
<text x="800.75" y="443.28" font-size="13.5" text-anchor="middle">**</text>
<line x1="829.5" y1="483" x2="842.5" y2="483" stroke="#111" stroke-width="1.8"/>
<text x="836" y="481.28" font-size="13.5" text-anchor="middle">**</text>
<line x1="846" y1="486.25" x2="859" y2="486.25" stroke="#111" stroke-width="1.8"/>
<text x="852.5" y="483.28" font-size="13.5" text-anchor="middle">*</text>
<line x1="882.5" y1="500" x2="897" y2="500" stroke="#111" stroke-width="1.8"/>
<text x="889.75" y="497.28" font-size="13.5" text-anchor="middle">*</text>
<line x1="951" y1="513" x2="964.5" y2="513" stroke="#111" stroke-width="1.8"/>
<text x="957.75" y="511.28" font-size="13.5" text-anchor="middle">**</text>
<line x1="1000.75" y1="504" x2="1014" y2="504" stroke="#111" stroke-width="1.8"/>
<text x="1007.38" y="501.28" font-size="13.5" text-anchor="middle">*</text>
<text x="1044.5" y="90" font-size="21">D</text>
<rect x="1114.5" y="121" width="146.3" height="23.8" fill="#8c8c8c" filter="url(#bb)"/>
<rect x="1119.5" y="127.2" width="36.5" height="11.9" rx="5" fill="#383838" filter="url(#bl)"/>
<rect x="1168.2" y="127.8" width="35.6" height="8.8" rx="4.4" fill="#555" filter="url(#bl)"/>
<rect x="1213.8" y="126.2" width="42.1" height="14" rx="5" fill="#404040" filter="url(#bl)"/>
<text x="1109.5" y="136.79" font-size="13" text-anchor="end">CCND1</text>
<text x="1267" y="136.79" font-size="13">34 kDa</text>
<rect x="1114.5" y="158.4" width="146.3" height="28.2" fill="#cfcfcf" filter="url(#bb)"/>
<rect x="1118.5" y="170.6" width="43" height="11.4" rx="5" fill="#505050" filter="url(#bl)"/>
<rect x="1169.3" y="163" width="37.7" height="13.6" rx="5" fill="#4c4c4c" filter="url(#bl)"/>
<rect x="1215.5" y="167.2" width="39.3" height="12.6" rx="5" fill="#5c5c5c" filter="url(#bl)"/>
<text x="1109.5" y="179.29" font-size="13" text-anchor="end">HSD17B1</text>
<text x="1267" y="176.29" font-size="13">36 kDa</text>
<rect x="1114.5" y="204" width="146.3" height="18.5" fill="#d8d8d8" filter="url(#bb)"/>
<rect x="1118.5" y="210.2" width="38.6" height="9.8" rx="4.9" fill="#0c0c0c" filter="url(#bl)"/>
<rect x="1168.2" y="209.7" width="38.8" height="7.6" rx="3.8" fill="#181818" filter="url(#bl)"/>
<rect x="1218.5" y="209.2" width="36.3" height="7.6" rx="3.8" fill="#333" filter="url(#bl)"/>
<text x="1109.5" y="218.29" font-size="13" text-anchor="end">CASP3</text>
<text x="1267" y="216.79" font-size="13">33 kDa</text>
<rect x="1114.5" y="241.5" width="146.3" height="19" fill="#d2d2d2" filter="url(#bb)"/>
<rect x="1117.2" y="246.2" width="41" height="10.2" rx="5" fill="#060606" filter="url(#bl)"/>
<rect x="1166" y="245" width="41.5" height="10.8" rx="5" fill="#060606" filter="url(#bl)"/>
<rect x="1214.9" y="243.9" width="42" height="14.1" rx="5" fill="#050505" filter="url(#bl)"/>
<text x="1109.5" y="255.29" font-size="13" text-anchor="end">TUBULIN</text>
<text x="1267" y="255.29" font-size="13">50 kDa</text>
<text x="1137.4" y="155.29" font-size="13" text-anchor="middle">1.05</text>
<text x="1185.5" y="155.29" font-size="13" text-anchor="middle">1</text>
<text x="1240" y="155.29" font-size="13" text-anchor="middle">0.83</text>
<text x="1137.4" y="200.69" font-size="13" text-anchor="middle">1.16</text>
<text x="1185.5" y="200.69" font-size="13" text-anchor="middle">1</text>
<text x="1236" y="200.69" font-size="13" text-anchor="middle">0.96</text>
<text x="1142" y="235.29" font-size="13" text-anchor="middle">1.32 *</text>
<text x="1185.5" y="235.29" font-size="13" text-anchor="middle">1</text>
<text x="1236" y="235.29" font-size="13" text-anchor="middle">0.98</text>
<text x="1133" y="111" font-size="13" transform="rotate(-42 1133 111)">pcDNA3.1</text>
<text x="1183" y="108" font-size="13" transform="rotate(-41 1183 108)">pcDNA3.1-lnc SFFD</text>
<text x="1233" y="102" font-size="13" transform="rotate(-41 1233 102)">pcDNA3.1-lnc SFFD</text>
<text x="1243" y="111" font-size="13" transform="rotate(-41 1243 111)">+miR-202-3p mimic</text>
<text x="1042" y="395" font-size="21">H</text>
<rect x="1124.9" y="432.9" width="165.4" height="26.3" fill="#727272" filter="url(#bb)"/>
<rect x="1130.8" y="441.9" width="48.3" height="11.4" rx="5" fill="#1c1c1c" filter="url(#bl)"/>
<rect x="1189" y="443.2" width="41.5" height="9.6" rx="4.8" fill="#383838" filter="url(#bl)"/>
<rect x="1242.3" y="438.2" width="42.2" height="15.1" rx="5" fill="#121212" filter="url(#bl)"/>
<text x="1119" y="451.79" font-size="13" text-anchor="end">CCND1</text>
<text x="1296" y="446.79" font-size="13">34 kDa</text>
<rect x="1124.9" y="473.3" width="165.4" height="33.1" fill="#dadada" filter="url(#bb)"/>
<rect x="1130.5" y="484.8" width="48.6" height="11.4" rx="5" fill="#484848" filter="url(#bl)"/>
<rect x="1185.3" y="483.2" width="45.2" height="12.6" rx="5" fill="#8a8a8a" filter="url(#bl)"/>
<rect x="1239.2" y="483.2" width="45.3" height="13.1" rx="5" fill="#555" filter="url(#bl)"/>
<text x="1119" y="496.29" font-size="13" text-anchor="end">HSD17B1</text>
<text x="1296" y="490.29" font-size="13">36 kDa</text>
<rect x="1124.9" y="521" width="165.4" height="22.8" fill="#e4e4e4" filter="url(#bb)"/>
<rect x="1235" y="521" width="55.3" height="22.8" fill="#bcbcbc" filter="url(#bb)"/>
<rect x="1130.8" y="530.2" width="42.2" height="6.6" rx="3.3" fill="#8a8a8a" filter="url(#bl)"/>
<rect x="1185.9" y="528.9" width="44.6" height="8.9" rx="4.45" fill="#0e0e0e" filter="url(#bl)"/>
<rect x="1241" y="527.2" width="43.5" height="9.6" rx="4.8" fill="#9a9a9a" filter="url(#bl)"/>
<text x="1119" y="538.29" font-size="13" text-anchor="end">CASP3</text>
<text x="1296" y="535.29" font-size="13">33 kDa</text>
<rect x="1124.9" y="562" width="165.4" height="24" fill="#d6d6d6" filter="url(#bb)"/>
<rect x="1127.5" y="564.5" width="48.5" height="15" rx="5" fill="#050505" filter="url(#bl)"/>
<rect x="1182.8" y="565.1" width="48.4" height="15.7" rx="5" fill="#050505" filter="url(#bl)"/>
<rect x="1238" y="567.5" width="49.5" height="15.1" rx="5" fill="#050505" filter="url(#bl)"/>
<text x="1119" y="579.29" font-size="13" text-anchor="end">TUBULIN</text>
<text x="1296" y="578.79" font-size="13">50 kDa</text>
<text x="1153.7" y="470.59" font-size="13" text-anchor="middle">1.11</text>
<text x="1209" y="470.59" font-size="13" text-anchor="middle">1</text>
<text x="1262" y="470.59" font-size="13" text-anchor="middle">1.28</text>
<text x="1155" y="516.89" font-size="13" text-anchor="middle">1.09</text>
<text x="1209" y="516.89" font-size="13" text-anchor="middle">1</text>
<text x="1266" y="516.89" font-size="13" text-anchor="middle">1.29 *</text>
<text x="1159" y="555.29" font-size="13" text-anchor="middle">0.78 *</text>
<text x="1209" y="555.29" font-size="13" text-anchor="middle">1</text>
<text x="1262" y="555.29" font-size="13" text-anchor="middle">0.79 *</text>
<text x="1149" y="425" font-size="13.8" transform="rotate(-38 1149 425)">siRNA-NC</text>
<text x="1205" y="426" font-size="13.8" transform="rotate(-38 1205 426)">si-lnc SFFD</text>
<text x="1258" y="416" font-size="13.8" transform="rotate(-38 1258 416)">si-lnc SFFD</text>
<text x="1268" y="428" font-size="13.8" transform="rotate(-38 1268 428)">+miR-202-3p inhibitor</text>
<text x="16" y="676" font-size="21">I</text>
<rect x="32.5" y="696.5" width="109" height="109" fill="url(#hA)" filter="url(#mb)"/>
<rect x="32.5" y="816" width="109" height="108.5" fill="#000"/>
<path fill="#ff1010" d="M47.95 863.38h3.4v3.4h-3.4zM85.51 827.68h3.4v3.4h-3.4zM41.14 863.49h3.4v3.4h-3.4zM101.32 883.32h3.4v3.4h-3.4zM67.68 848.32h3.4v3.4h-3.4zM132.73 830.88h3.4v3.4h-3.4zM71.29 858.7h3.4v3.4h-3.4zM74.72 864.02h3.4v3.4h-3.4zM126.52 900.96h3.4v3.4h-3.4zM121.87 882.38h3.4v3.4h-3.4zM49.7 833.59h3.4v3.4h-3.4zM45.97 873.63h3.4v3.4h-3.4zM107.05 887.69h3.4v3.4h-3.4zM87.73 851.83h3.4v3.4h-3.4zM136.64 857.88h3.4v3.4h-3.4z" filter="url(#gl)"/>
<path fill="#a01010" d="M106.37 892.26h3v3h-3zM33.59 857.44h3v3h-3zM128.03 841.05h3v3h-3zM116.14 911.96h3v3h-3zM96.35 890.74h3v3h-3zM117.64 908.66h3v3h-3zM59.26 904.2h3v3h-3z" filter="url(#gl)"/>
<rect x="32.5" y="934.5" width="109" height="110.5" fill="url(#hB)" filter="url(#mb)"/>
<path fill="#ff30e0" d="M47.95 981.88h3.4v3.4h-3.4zM85.51 946.18h3.4v3.4h-3.4zM41.14 981.99h3.4v3.4h-3.4zM101.32 1001.82h3.4v3.4h-3.4zM67.68 966.82h3.4v3.4h-3.4zM132.73 949.38h3.4v3.4h-3.4zM71.29 977.2h3.4v3.4h-3.4zM74.72 982.52h3.4v3.4h-3.4zM126.52 1019.46h3.4v3.4h-3.4zM121.87 1000.88h3.4v3.4h-3.4zM49.7 952.09h3.4v3.4h-3.4zM45.97 992.13h3.4v3.4h-3.4zM107.05 1006.19h3.4v3.4h-3.4zM87.73 970.33h3.4v3.4h-3.4zM136.64 976.38h3.4v3.4h-3.4z" filter="url(#gl)"/>
<path fill="#b030b0" d="M106.37 1010.76h3v3h-3zM33.59 975.94h3v3h-3zM128.03 959.55h3v3h-3zM116.14 1030.46h3v3h-3zM96.35 1009.24h3v3h-3zM117.64 1027.16h3v3h-3zM59.26 1022.7h3v3h-3z" filter="url(#gl)"/>
<rect x="147" y="696.5" width="110" height="109" fill="url(#hB)" filter="url(#mb)"/>
<rect x="147" y="816" width="110" height="108.5" fill="#000"/>
<path fill="#ff1010" d="M169.82 839.25h3.4v3.4h-3.4zM198.27 897.34h3.4v3.4h-3.4zM249.27 823.58h3.4v3.4h-3.4zM185.78 865.12h3.4v3.4h-3.4zM169.17 860.82h3.4v3.4h-3.4zM218.72 885.11h3.4v3.4h-3.4zM157.24 898.65h3.4v3.4h-3.4zM166.29 823.1h3.4v3.4h-3.4zM189.79 918.86h3.4v3.4h-3.4zM241.42 875.2h3.4v3.4h-3.4zM199.64 906.96h3.4v3.4h-3.4zM219.06 816.92h3.4v3.4h-3.4zM246.64 906.94h3.4v3.4h-3.4zM232.27 898.3h3.4v3.4h-3.4zM219.31 911.98h3.4v3.4h-3.4zM249.69 916.56h3.4v3.4h-3.4zM247.8 907.84h3.4v3.4h-3.4zM219.67 852.56h3.4v3.4h-3.4zM167.51 886.58h3.4v3.4h-3.4zM156.82 913.31h3.4v3.4h-3.4zM250.31 909.56h3.4v3.4h-3.4zM172.96 845.34h3.4v3.4h-3.4zM195.48 875.23h3.4v3.4h-3.4z" filter="url(#gl)"/>
<path fill="#a01010" d="M208.52 836.66h3v3h-3zM244.52 864.85h3v3h-3zM164.41 862.58h3v3h-3zM172.58 898.39h3v3h-3zM169.73 884.01h3v3h-3zM188.94 855.76h3v3h-3zM155.57 893.55h3v3h-3zM148.18 864.53h3v3h-3zM221.48 817.48h3v3h-3zM233.53 918.51h3v3h-3zM238.67 835.25h3v3h-3zM154.42 876.08h3v3h-3zM218.46 879.62h3v3h-3zM225.01 908.87h3v3h-3zM186.88 822.67h3v3h-3zM196.44 860.49h3v3h-3zM148.77 882.02h3v3h-3z" filter="url(#gl)"/>
<rect x="147" y="934.5" width="110" height="110.5" fill="url(#hC)" filter="url(#mb)"/>
<path fill="#ff30e0" d="M169.82 957.75h3.4v3.4h-3.4zM198.27 1015.84h3.4v3.4h-3.4zM249.27 942.08h3.4v3.4h-3.4zM185.78 983.62h3.4v3.4h-3.4zM169.17 979.32h3.4v3.4h-3.4zM218.72 1003.61h3.4v3.4h-3.4zM157.24 1017.15h3.4v3.4h-3.4zM166.29 941.6h3.4v3.4h-3.4zM189.79 1037.36h3.4v3.4h-3.4zM241.42 993.7h3.4v3.4h-3.4zM199.64 1025.46h3.4v3.4h-3.4zM219.06 935.42h3.4v3.4h-3.4zM246.64 1025.44h3.4v3.4h-3.4zM232.27 1016.8h3.4v3.4h-3.4zM219.31 1030.48h3.4v3.4h-3.4zM249.69 1035.06h3.4v3.4h-3.4zM247.8 1026.34h3.4v3.4h-3.4zM219.67 971.06h3.4v3.4h-3.4zM167.51 1005.08h3.4v3.4h-3.4zM156.82 1031.81h3.4v3.4h-3.4zM250.31 1028.06h3.4v3.4h-3.4zM172.96 963.84h3.4v3.4h-3.4zM195.48 993.73h3.4v3.4h-3.4z" filter="url(#gl)"/>
<path fill="#b030b0" d="M208.52 955.16h3v3h-3zM244.52 983.35h3v3h-3zM164.41 981.08h3v3h-3zM172.58 1016.89h3v3h-3zM169.73 1002.51h3v3h-3zM188.94 974.26h3v3h-3zM155.57 1012.05h3v3h-3zM148.18 983.03h3v3h-3zM221.48 935.98h3v3h-3zM233.53 1037.01h3v3h-3zM238.67 953.75h3v3h-3zM154.42 994.58h3v3h-3zM218.46 998.12h3v3h-3zM225.01 1027.37h3v3h-3zM186.88 941.17h3v3h-3zM196.44 978.99h3v3h-3zM148.77 1000.52h3v3h-3z" filter="url(#gl)"/>
<rect x="262" y="696.5" width="109" height="109" fill="url(#hC)" filter="url(#mb)"/>
<rect x="262" y="816" width="109" height="108.5" fill="#000"/>
<path fill="#ff1010" d="M277.71 880.05h3.4v3.4h-3.4zM319.96 884.7h3.4v3.4h-3.4zM326.74 870.08h3.4v3.4h-3.4zM338.77 855.33h3.4v3.4h-3.4zM315.35 825.09h3.4v3.4h-3.4zM327.84 885.68h3.4v3.4h-3.4zM307.13 857.54h3.4v3.4h-3.4zM300.1 823.73h3.4v3.4h-3.4zM326.26 916.14h3.4v3.4h-3.4zM333.37 856.74h3.4v3.4h-3.4zM279.19 902.94h3.4v3.4h-3.4zM360.48 834.1h3.4v3.4h-3.4zM337.83 859.29h3.4v3.4h-3.4zM284.46 862.65h3.4v3.4h-3.4zM285.26 859.24h3.4v3.4h-3.4zM324.71 871.34h3.4v3.4h-3.4zM270.69 856.58h3.4v3.4h-3.4z" filter="url(#gl)"/>
<path fill="#a01010" d="M302.47 880.41h3v3h-3zM322.96 891.46h3v3h-3zM334.24 879.56h3v3h-3zM355.93 903.17h3v3h-3zM317.17 867.3h3v3h-3zM326.07 902.25h3v3h-3zM334.01 869.28h3v3h-3zM328.17 861.3h3v3h-3zM348.31 882.66h3v3h-3zM328.93 872.02h3v3h-3zM324.93 911.2h3v3h-3zM317.38 857.74h3v3h-3zM343.48 870.64h3v3h-3z" filter="url(#gl)"/>
<rect x="262" y="934.5" width="109" height="110.5" fill="url(#hA)" filter="url(#mb)"/>
<path fill="#ff30e0" d="M277.71 998.55h3.4v3.4h-3.4zM319.96 1003.2h3.4v3.4h-3.4zM326.74 988.58h3.4v3.4h-3.4zM338.77 973.83h3.4v3.4h-3.4zM315.35 943.59h3.4v3.4h-3.4zM327.84 1004.18h3.4v3.4h-3.4zM307.13 976.04h3.4v3.4h-3.4zM300.1 942.23h3.4v3.4h-3.4zM326.26 1034.64h3.4v3.4h-3.4zM333.37 975.24h3.4v3.4h-3.4zM279.19 1021.44h3.4v3.4h-3.4zM360.48 952.6h3.4v3.4h-3.4zM337.83 977.79h3.4v3.4h-3.4zM284.46 981.15h3.4v3.4h-3.4zM285.26 977.74h3.4v3.4h-3.4zM324.71 989.84h3.4v3.4h-3.4zM270.69 975.08h3.4v3.4h-3.4z" filter="url(#gl)"/>
<path fill="#b030b0" d="M302.47 998.91h3v3h-3zM322.96 1009.96h3v3h-3zM334.24 998.06h3v3h-3zM355.93 1021.67h3v3h-3zM317.17 985.8h3v3h-3zM326.07 1020.75h3v3h-3zM334.01 987.78h3v3h-3zM328.17 979.8h3v3h-3zM348.31 1001.16h3v3h-3zM328.93 990.52h3v3h-3zM324.93 1029.7h3v3h-3zM317.38 976.24h3v3h-3zM343.48 989.14h3v3h-3z" filter="url(#gl)"/>
<text x="82.5" y="686" font-size="11" text-anchor="middle">pcDNA3.1</text>
<text x="193.5" y="686" font-size="11" text-anchor="middle">pcDNA3.1-lnc SFFD</text>
<text x="316.7" y="674" font-size="11" text-anchor="middle">pcDNA3.1-lnc SFFD</text>
<text x="316.7" y="688" font-size="11" text-anchor="middle">+miR-202-3p mimic</text>
<text x="25.45" y="750.6" font-size="13.5" text-anchor="middle" transform="rotate(-90 25.45 750.6)">Hoechst</text>
<text x="25.45" y="869.5" font-size="13.5" text-anchor="middle" transform="rotate(-90 25.45 869.5)">EdU</text>
<text x="25.45" y="992" font-size="13.5" text-anchor="middle" transform="rotate(-90 25.45 992)">Merge</text>
<text x="603" y="687" font-size="21">J</text>
<rect x="628.7" y="691" width="104.3" height="104" fill="url(#hC)" filter="url(#mb)"/>
<rect x="628.7" y="804.3" width="104.3" height="103.7" fill="#000"/>
<path fill="#ff1010" d="M633.53 824.68h3.4v3.4h-3.4zM643.18 889.48h3.4v3.4h-3.4zM719.99 872.89h3.4v3.4h-3.4zM674.66 823.63h3.4v3.4h-3.4zM658.79 873.77h3.4v3.4h-3.4zM693.47 850.34h3.4v3.4h-3.4zM697.09 852.67h3.4v3.4h-3.4zM651.38 871.05h3.4v3.4h-3.4zM693.63 866.51h3.4v3.4h-3.4zM686.6 872.56h3.4v3.4h-3.4zM726.91 850.62h3.4v3.4h-3.4zM656.98 825.92h3.4v3.4h-3.4zM708.56 811.13h3.4v3.4h-3.4zM726.53 818.45h3.4v3.4h-3.4zM659.56 871.26h3.4v3.4h-3.4zM724.43 836.14h3.4v3.4h-3.4zM663.31 901.21h3.4v3.4h-3.4zM693.04 840.46h3.4v3.4h-3.4zM650.05 900.52h3.4v3.4h-3.4z" filter="url(#gl)"/>
<path fill="#a01010" d="M700.56 848.09h3v3h-3zM702.25 889.97h3v3h-3zM678.02 889.78h3v3h-3zM677.61 898.54h3v3h-3zM708.01 819.18h3v3h-3zM700.33 893.31h3v3h-3zM700.15 838.86h3v3h-3zM653.41 856.35h3v3h-3zM718.29 824.49h3v3h-3z" filter="url(#gl)"/>
<rect x="628.7" y="920" width="104.3" height="105" fill="url(#hA)" filter="url(#mb)"/>
<path fill="#ff30e0" d="M633.53 940.38h3.4v3.4h-3.4zM643.18 1005.18h3.4v3.4h-3.4zM719.99 988.59h3.4v3.4h-3.4zM674.66 939.33h3.4v3.4h-3.4zM658.79 989.47h3.4v3.4h-3.4zM693.47 966.04h3.4v3.4h-3.4zM697.09 968.37h3.4v3.4h-3.4zM651.38 986.75h3.4v3.4h-3.4zM693.63 982.21h3.4v3.4h-3.4zM686.6 988.26h3.4v3.4h-3.4zM726.91 966.32h3.4v3.4h-3.4zM656.98 941.62h3.4v3.4h-3.4zM708.56 926.83h3.4v3.4h-3.4zM726.53 934.15h3.4v3.4h-3.4zM659.56 986.96h3.4v3.4h-3.4zM724.43 951.84h3.4v3.4h-3.4zM663.31 1016.91h3.4v3.4h-3.4zM693.04 956.16h3.4v3.4h-3.4zM650.05 1016.22h3.4v3.4h-3.4z" filter="url(#gl)"/>
<path fill="#b030b0" d="M700.56 963.79h3v3h-3zM702.25 1005.67h3v3h-3zM678.02 1005.48h3v3h-3zM677.61 1014.24h3v3h-3zM708.01 934.88h3v3h-3zM700.33 1009.01h3v3h-3zM700.15 954.56h3v3h-3zM653.41 972.05h3v3h-3zM718.29 940.19h3v3h-3z" filter="url(#gl)"/>
<rect x="742.4" y="691" width="104.6" height="104" fill="url(#hA)" filter="url(#mb)"/>
<rect x="742.4" y="804.3" width="104.6" height="103.7" fill="#000"/>
<path fill="#ff1010" d="M749.38 836.74h3.4v3.4h-3.4zM828.82 864.81h3.4v3.4h-3.4zM834.7 901.8h3.4v3.4h-3.4zM796.06 825.83h3.4v3.4h-3.4zM810.71 833.56h3.4v3.4h-3.4zM818.58 835.41h3.4v3.4h-3.4zM831.65 891.62h3.4v3.4h-3.4zM745.68 848.1h3.4v3.4h-3.4zM784.41 899.96h3.4v3.4h-3.4zM762.82 818.38h3.4v3.4h-3.4zM805.3 815.17h3.4v3.4h-3.4z" filter="url(#gl)"/>
<path fill="#a01010" d="M820.57 836.99h3v3h-3zM804.72 831.52h3v3h-3zM744.27 815.41h3v3h-3zM769.48 822.64h3v3h-3zM809.19 807.8h3v3h-3zM831.72 879.86h3v3h-3zM792.76 887.29h3v3h-3zM793.28 829.65h3v3h-3zM777 823.74h3v3h-3zM746.35 822.56h3v3h-3zM801.95 861.11h3v3h-3z" filter="url(#gl)"/>
<rect x="742.4" y="920" width="104.6" height="105" fill="url(#hB)" filter="url(#mb)"/>
<path fill="#ff30e0" d="M749.38 952.44h3.4v3.4h-3.4zM828.82 980.51h3.4v3.4h-3.4zM834.7 1017.5h3.4v3.4h-3.4zM796.06 941.53h3.4v3.4h-3.4zM810.71 949.26h3.4v3.4h-3.4zM818.58 951.11h3.4v3.4h-3.4zM831.65 1007.32h3.4v3.4h-3.4zM745.68 963.8h3.4v3.4h-3.4zM784.41 1015.66h3.4v3.4h-3.4zM762.82 934.08h3.4v3.4h-3.4zM805.3 930.87h3.4v3.4h-3.4z" filter="url(#gl)"/>
<path fill="#b030b0" d="M820.57 952.69h3v3h-3zM804.72 947.22h3v3h-3zM744.27 931.11h3v3h-3zM769.48 938.34h3v3h-3zM809.19 923.5h3v3h-3zM831.72 995.56h3v3h-3zM792.76 1002.99h3v3h-3zM793.28 945.35h3v3h-3zM777 939.44h3v3h-3zM746.35 938.26h3v3h-3zM801.95 976.81h3v3h-3z" filter="url(#gl)"/>
<rect x="856" y="691" width="106" height="104" fill="url(#hB)" filter="url(#mb)"/>
<rect x="856" y="804.3" width="106" height="103.7" fill="#000"/>
<path fill="#ff1010" d="M859.94 856.69h3.4v3.4h-3.4zM869.27 850.49h3.4v3.4h-3.4zM903.93 889.65h3.4v3.4h-3.4zM954.06 896.4h3.4v3.4h-3.4zM944.09 880.67h3.4v3.4h-3.4zM894.68 805.75h3.4v3.4h-3.4zM948.71 816.92h3.4v3.4h-3.4zM945.03 872.63h3.4v3.4h-3.4zM900.31 828.07h3.4v3.4h-3.4zM957.05 828.52h3.4v3.4h-3.4zM895.84 879.86h3.4v3.4h-3.4zM945.02 892.1h3.4v3.4h-3.4zM954.59 862.56h3.4v3.4h-3.4zM895.68 901.29h3.4v3.4h-3.4zM885.38 877.39h3.4v3.4h-3.4z" filter="url(#gl)"/>
<path fill="#a01010" d="M933.65 868.44h3v3h-3zM944.68 824.14h3v3h-3zM954.4 847.02h3v3h-3zM880.48 866.96h3v3h-3zM875.92 844.5h3v3h-3zM909.26 879.1h3v3h-3zM875.88 833.63h3v3h-3zM934.17 865.33h3v3h-3zM891.79 820.4h3v3h-3zM864.67 870.53h3v3h-3z" filter="url(#gl)"/>
<rect x="856" y="920" width="106" height="105" fill="url(#hC)" filter="url(#mb)"/>
<path fill="#ff30e0" d="M859.94 972.39h3.4v3.4h-3.4zM869.27 966.19h3.4v3.4h-3.4zM903.93 1005.35h3.4v3.4h-3.4zM954.06 1012.1h3.4v3.4h-3.4zM944.09 996.37h3.4v3.4h-3.4zM894.68 921.45h3.4v3.4h-3.4zM948.71 932.62h3.4v3.4h-3.4zM945.03 988.33h3.4v3.4h-3.4zM900.31 943.77h3.4v3.4h-3.4zM957.05 944.22h3.4v3.4h-3.4zM895.84 995.56h3.4v3.4h-3.4zM945.02 1007.8h3.4v3.4h-3.4zM954.59 978.26h3.4v3.4h-3.4zM895.68 1016.99h3.4v3.4h-3.4zM885.38 993.09h3.4v3.4h-3.4z" filter="url(#gl)"/>
<path fill="#b030b0" d="M933.65 984.14h3v3h-3zM944.68 939.84h3v3h-3zM954.4 962.72h3v3h-3zM880.48 982.66h3v3h-3zM875.92 960.2h3v3h-3zM909.26 994.8h3v3h-3zM875.88 949.33h3v3h-3zM934.17 981.03h3v3h-3zM891.79 936.1h3v3h-3zM864.67 986.23h3v3h-3z" filter="url(#gl)"/>
<text x="682.5" y="684" font-size="11" text-anchor="middle">siRNA NC</text>
<text x="788" y="684" font-size="11" text-anchor="middle">si-lnc SFFD</text>
<text x="862" y="671.5" font-size="11">si-lnc SFFD+</text>
<text x="862" y="684" font-size="11">miR-202-3p inhibitor</text>
<text x="620.96" y="755" font-size="13.5" text-anchor="middle" transform="rotate(-90 620.96 755)">Hoechst</text>
<text x="620.96" y="851.7" font-size="13.5" text-anchor="middle" transform="rotate(-90 620.96 851.7)">EdU</text>
<text x="620.96" y="980" font-size="13.5" text-anchor="middle" transform="rotate(-90 620.96 980)">Merge</text>
<line x1="480.3" y1="845.72" x2="480.3" y2="836.19" stroke="#0000ff" stroke-width="1.4"/>
<line x1="472.5" y1="836.19" x2="488.1" y2="836.19" stroke="#0000ff" stroke-width="1.4"/>
<rect x="467.3" y="845.72" width="26" height="73.88" fill="#0000ff"/>
<line x1="519.9" y1="765.49" x2="519.9" y2="752.78" stroke="#ff0000" stroke-width="1.4"/>
<line x1="512.1" y1="752.78" x2="527.7" y2="752.78" stroke="#ff0000" stroke-width="1.4"/>
<rect x="506.9" y="765.49" width="26" height="154.11" fill="#ff0000"/>
<line x1="559.5" y1="816.33" x2="559.5" y2="812.36" stroke="#00c400" stroke-width="1.4"/>
<line x1="551.7" y1="812.36" x2="567.3" y2="812.36" stroke="#00c400" stroke-width="1.4"/>
<rect x="546.5" y="816.33" width="26" height="103.27" fill="#00c400"/>
<line x1="453.7" y1="720" x2="453.7" y2="920.6" stroke="#141414" stroke-width="2"/>
<line x1="452.7" y1="919.6" x2="587" y2="919.6" stroke="#141414" stroke-width="2"/>
<line x1="447.7" y1="919.6" x2="453.7" y2="919.6" stroke="#141414" stroke-width="1.8"/>
<text x="445.2" y="924.55" font-size="15" text-anchor="end">0</text>
<line x1="447.7" y1="879.88" x2="453.7" y2="879.88" stroke="#141414" stroke-width="1.8"/>
<text x="445.2" y="884.83" font-size="15" text-anchor="end">5</text>
<line x1="447.7" y1="840.16" x2="453.7" y2="840.16" stroke="#141414" stroke-width="1.8"/>
<text x="445.2" y="845.11" font-size="15" text-anchor="end">10</text>
<line x1="447.7" y1="800.44" x2="453.7" y2="800.44" stroke="#141414" stroke-width="1.8"/>
<text x="445.2" y="805.39" font-size="15" text-anchor="end">15</text>
<line x1="447.7" y1="760.72" x2="453.7" y2="760.72" stroke="#141414" stroke-width="1.8"/>
<text x="445.2" y="765.67" font-size="15" text-anchor="end">20</text>
<line x1="447.7" y1="721" x2="453.7" y2="721" stroke="#141414" stroke-width="1.8"/>
<text x="445.2" y="725.95" font-size="15" text-anchor="end">25</text>
<line x1="480.3" y1="919.6" x2="480.3" y2="925.6" stroke="#141414" stroke-width="1.8"/>
<line x1="519.9" y1="919.6" x2="519.9" y2="925.6" stroke="#141414" stroke-width="1.8"/>
<line x1="559.5" y1="919.6" x2="559.5" y2="925.6" stroke="#141414" stroke-width="1.8"/>
<line x1="480" y1="741" x2="519.3" y2="741" stroke="#111" stroke-width="1.8"/>
<text x="499.65" y="737.5" font-size="17" text-anchor="middle">**</text>
<line x1="520.5" y1="747" x2="561" y2="747" stroke="#111" stroke-width="1.8"/>
<text x="540.75" y="742.9" font-size="17" text-anchor="middle">*</text>
<text x="397.11" y="819" font-size="17" text-anchor="middle" transform="rotate(-90 397.11 819)">Number of EdU</text>
<text x="418.61" y="819" font-size="17" text-anchor="middle" transform="rotate(-90 418.61 819)">positive cells (%)</text>
<text x="485.8" y="945.2" font-size="14.5" text-anchor="end" transform="rotate(-31 485.8 945.2)">pcDNA3.1</text>
<text x="538.9" y="940.7" font-size="14.5" text-anchor="end" transform="rotate(-31 538.9 940.7)">pcDNA3.1-lnc SFFD</text>
<text x="597.7" y="937.3" font-size="14.5" text-anchor="end" transform="rotate(-31 597.7 937.3)">pcDNA3.1-lnc SFFD+</text>
<text x="587.6" y="959.9" font-size="14.5" text-anchor="end" transform="rotate(-31 587.6 959.9)">miR-202-3p mimic</text>
<line x1="1064.4" y1="740.14" x2="1064.4" y2="729.46" stroke="#0000ff" stroke-width="1.4"/>
<line x1="1056.72" y1="729.46" x2="1072.08" y2="729.46" stroke="#0000ff" stroke-width="1.4"/>
<rect x="1051.6" y="740.14" width="25.6" height="175.66" fill="#0000ff"/>
<line x1="1103.3" y1="809.05" x2="1103.3" y2="807.1" stroke="#ff0000" stroke-width="1.4"/>
<line x1="1095.62" y1="807.1" x2="1110.98" y2="807.1" stroke="#ff0000" stroke-width="1.4"/>
<rect x="1090.5" y="809.05" width="25.6" height="106.75" fill="#ff0000"/>
<line x1="1142.9" y1="770.23" x2="1142.9" y2="762.46" stroke="#00c400" stroke-width="1.4"/>
<line x1="1135.22" y1="762.46" x2="1150.58" y2="762.46" stroke="#00c400" stroke-width="1.4"/>
<rect x="1130.1" y="770.23" width="25.6" height="145.57" fill="#00c400"/>
<line x1="1039.2" y1="720.7" x2="1039.2" y2="916.8" stroke="#141414" stroke-width="2"/>
<line x1="1038.2" y1="915.8" x2="1169.3" y2="915.8" stroke="#141414" stroke-width="2"/>
<line x1="1033.2" y1="915.8" x2="1039.2" y2="915.8" stroke="#141414" stroke-width="1.8"/>
<text x="1030.7" y="920.75" font-size="15" text-anchor="end">0</text>
<line x1="1033.2" y1="876.98" x2="1039.2" y2="876.98" stroke="#141414" stroke-width="1.8"/>
<text x="1030.7" y="881.93" font-size="15" text-anchor="end">2</text>
<line x1="1033.2" y1="838.16" x2="1039.2" y2="838.16" stroke="#141414" stroke-width="1.8"/>
<text x="1030.7" y="843.11" font-size="15" text-anchor="end">4</text>
<line x1="1033.2" y1="799.34" x2="1039.2" y2="799.34" stroke="#141414" stroke-width="1.8"/>
<text x="1030.7" y="804.29" font-size="15" text-anchor="end">6</text>
<line x1="1033.2" y1="760.52" x2="1039.2" y2="760.52" stroke="#141414" stroke-width="1.8"/>
<text x="1030.7" y="765.47" font-size="15" text-anchor="end">8</text>
<line x1="1033.2" y1="721.7" x2="1039.2" y2="721.7" stroke="#141414" stroke-width="1.8"/>
<text x="1030.7" y="726.65" font-size="15" text-anchor="end">10</text>
<line x1="1064.4" y1="915.8" x2="1064.4" y2="921.8" stroke="#141414" stroke-width="1.8"/>
<line x1="1103.3" y1="915.8" x2="1103.3" y2="921.8" stroke="#141414" stroke-width="1.8"/>
<line x1="1142.9" y1="915.8" x2="1142.9" y2="921.8" stroke="#141414" stroke-width="1.8"/>
<line x1="1064" y1="719" x2="1103" y2="719" stroke="#111" stroke-width="1.8"/>
<text x="1083.5" y="715.9" font-size="17" text-anchor="middle">**</text>
<line x1="1103.7" y1="755.6" x2="1142.8" y2="755.6" stroke="#111" stroke-width="1.8"/>
<text x="1123.25" y="751.9" font-size="17" text-anchor="middle">**</text>
<text x="988.21" y="807.6" font-size="17" text-anchor="middle" transform="rotate(-90 988.21 807.6)">Number of EdU</text>
<text x="1009.61" y="807.6" font-size="17" text-anchor="middle" transform="rotate(-90 1009.61 807.6)">positive cells (%)</text>
<text x="1071.2" y="939.6" font-size="14.5" text-anchor="end" transform="rotate(-31 1071.2 939.6)">siRNA-NC</text>
<text x="1110.8" y="944.1" font-size="14.5" text-anchor="end" transform="rotate(-31 1110.8 944.1)">siRNA-lnc SFFD</text>
<text x="1157.2" y="941.8" font-size="14.5" text-anchor="end" transform="rotate(-31 1157.2 941.8)">siRNA-lnc SFFD+</text>
<text x="1179.9" y="950.9" font-size="14.5" text-anchor="end" transform="rotate(-31 1179.9 950.9)">miR-202-3p inhibitor</text>
<text x="1180" y="666" font-size="21">K</text>
<line x1="1290.7" y1="784.5" x2="1290.7" y2="770.53" stroke="#0000ff" stroke-width="1.4"/>
<line x1="1286.5" y1="770.53" x2="1294.9" y2="770.53" stroke="#0000ff" stroke-width="1.4"/>
<rect x="1283.7" y="784.5" width="14" height="82.2" fill="#0000ff"/>
<line x1="1313.2" y1="696.55" x2="1313.2" y2="687.5" stroke="#ff0000" stroke-width="1.4"/>
<line x1="1309" y1="687.5" x2="1317.4" y2="687.5" stroke="#ff0000" stroke-width="1.4"/>
<rect x="1306.2" y="696.55" width="14" height="170.15" fill="#ff0000"/>
<line x1="1334.7" y1="722.85" x2="1334.7" y2="709.7" stroke="#00c400" stroke-width="1.4"/>
<line x1="1330.5" y1="709.7" x2="1338.9" y2="709.7" stroke="#00c400" stroke-width="1.4"/>
<rect x="1327.7" y="722.85" width="14" height="143.85" fill="#00c400"/>
<line x1="1356.4" y1="769.7" x2="1356.4" y2="754.09" stroke="#a000e0" stroke-width="1.4"/>
<line x1="1352.2" y1="754.09" x2="1360.6" y2="754.09" stroke="#a000e0" stroke-width="1.4"/>
<rect x="1349.4" y="769.7" width="14" height="97" fill="#a000e0"/>
<line x1="1377.6" y1="822.31" x2="1377.6" y2="817.38" stroke="#ff8000" stroke-width="1.4"/>
<line x1="1373.4" y1="817.38" x2="1381.8" y2="817.38" stroke="#ff8000" stroke-width="1.4"/>
<rect x="1370.6" y="822.31" width="14" height="44.39" fill="#ff8000"/>
<line x1="1399.3" y1="805.05" x2="1399.3" y2="797.65" stroke="#000" stroke-width="1.4"/>
<line x1="1395.1" y1="797.65" x2="1403.5" y2="797.65" stroke="#000" stroke-width="1.4"/>
<rect x="1392.3" y="805.05" width="14" height="61.65" fill="#000"/>
<line x1="1276.9" y1="660.2" x2="1276.9" y2="867.7" stroke="#141414" stroke-width="2"/>
<line x1="1275.9" y1="866.7" x2="1414" y2="866.7" stroke="#141414" stroke-width="2"/>
<line x1="1270.9" y1="866.7" x2="1276.9" y2="866.7" stroke="#141414" stroke-width="1.8"/>
<text x="1268.4" y="870.99" font-size="13" text-anchor="end">0.0</text>
<line x1="1270.9" y1="825.6" x2="1276.9" y2="825.6" stroke="#141414" stroke-width="1.8"/>
<text x="1268.4" y="829.89" font-size="13" text-anchor="end">0.5</text>
<line x1="1270.9" y1="784.5" x2="1276.9" y2="784.5" stroke="#141414" stroke-width="1.8"/>
<text x="1268.4" y="788.79" font-size="13" text-anchor="end">1.0</text>
<line x1="1270.9" y1="743.4" x2="1276.9" y2="743.4" stroke="#141414" stroke-width="1.8"/>
<text x="1268.4" y="747.69" font-size="13" text-anchor="end">1.5</text>
<line x1="1270.9" y1="702.3" x2="1276.9" y2="702.3" stroke="#141414" stroke-width="1.8"/>
<text x="1268.4" y="706.59" font-size="13" text-anchor="end">2.0</text>
<line x1="1270.9" y1="661.2" x2="1276.9" y2="661.2" stroke="#141414" stroke-width="1.8"/>
<text x="1268.4" y="665.49" font-size="13" text-anchor="end">2.5</text>
<line x1="1290.7" y1="866.7" x2="1290.7" y2="872.7" stroke="#141414" stroke-width="1.8"/>
<line x1="1313.2" y1="866.7" x2="1313.2" y2="872.7" stroke="#141414" stroke-width="1.8"/>
<line x1="1334.7" y1="866.7" x2="1334.7" y2="872.7" stroke="#141414" stroke-width="1.8"/>
<line x1="1356.4" y1="866.7" x2="1356.4" y2="872.7" stroke="#141414" stroke-width="1.8"/>
<line x1="1377.6" y1="866.7" x2="1377.6" y2="872.7" stroke="#141414" stroke-width="1.8"/>
<line x1="1399.3" y1="866.7" x2="1399.3" y2="872.7" stroke="#141414" stroke-width="1.8"/>
<line x1="1290.5" y1="674.75" x2="1311.4" y2="674.75" stroke="#111" stroke-width="1.8"/>
<text x="1300.95" y="669.98" font-size="15" text-anchor="middle">**</text>
<line x1="1313" y1="682" x2="1334.7" y2="682" stroke="#111" stroke-width="1.8"/>
<text x="1323.85" y="676.98" font-size="15" text-anchor="middle">*</text>
<line x1="1356" y1="748.6" x2="1378" y2="748.6" stroke="#111" stroke-width="1.8"/>
<text x="1367" y="743.98" font-size="15" text-anchor="middle">**</text>
<line x1="1377" y1="792.6" x2="1399" y2="792.6" stroke="#111" stroke-width="1.8"/>
<text x="1388" y="787.58" font-size="15" text-anchor="middle">**</text>
<text x="1212.71" y="758" font-size="15.5" text-anchor="middle" transform="rotate(-90 1212.71 758)">E2 concentration</text>
<text x="1231.82" y="758" font-size="15.5" text-anchor="middle" transform="rotate(-90 1231.82 758)">(fold change)</text>
<text x="1295.7" y="890" font-size="13.5" text-anchor="end" transform="rotate(-45 1295.7 890)">pcDNA3.1</text>
<text x="1318.2" y="890" font-size="13.5" text-anchor="end" transform="rotate(-45 1318.2 890)">pcDNA3.1-lnc SFFD</text>
<text x="1339.7" y="890" font-size="13.5" text-anchor="end" transform="rotate(-45 1339.7 890)">pcDNA3.1-lnc SFFD+miR-202-3p mimic</text>
<text x="1361.4" y="890" font-size="13.5" text-anchor="end" transform="rotate(-45 1361.4 890)">siRNA NC</text>
<text x="1382.6" y="890" font-size="13.5" text-anchor="end" transform="rotate(-45 1382.6 890)">si-lnc SFFD</text>
<text x="1404.3" y="890" font-size="13.5" text-anchor="end" transform="rotate(-45 1404.3 890)">si-lnc SFFD+miR-202-3p inhibitor</text>
<text x="14" y="1081" font-size="21">L</text>
<rect x="48.75" y="1078.75" width="161.25" height="160.75" fill="#fff"/>
<path stroke="#a5abd8" stroke-width="1.1" stroke-linecap="square" d="M139.5 1102.5h0m17 9h0m-4 1h0m4 1h0m-25 1h0m15 1h0m-7 1h0m12 0h0m-8 1h0m-10 2h0m-1 2h0m28 0h0m-2 1h0m-77 1h0m19 0h0m28 0h0m-2 1h0m38 0h0m-53 1h0m18 0h0m7 0h0m-64 1h0m29 0h0m17 0h0m6 0h0m40 0h0m-38 2h0m-41 1h0m74 0h0m6 0h0m-47 1h0m9 0h0m-46 1h0m8 1h0m6 0h0m22 0h0m2 0h0m2 1h0m-58 1h0m49 1h0m-61 1h0m54 0h0m14 0h0m-41 1h0m79 1h0m-21 1h0m26 0h0m-19 1h0m-31 1h0m6 0h0m-63 1h0m77 0h0m9 0h0m-44 1h0m11 0h0m26 0h0m-78 1h0m49 0h0m31 0h0m-72 1h0m60 0h0m-54 1h0m59 0h0m-55 1h0m14 0h0m35 0h0m-47 1h0m28 1h0m16 0h0m3 0h0m-31 1h0m5 0h0m16 1h0m5 0h0m5 0h0m2 0h0m-26 1h0m-29 1h0m56 0h0m-26 1h0m2 0h0m26 0h0m-4 1h0m-46 1h0m5 0h0m2 0h0m-23 1h0m63 0h0m4 0h0m6 0h0m2 0h0m-48 1h0m29 0h0m24 0h0m-64 1h0m5 0h0m8 0h0m72 1h0m-93 1h0m66 0h0m11 0h0m22 0h0m-102 2h0m93 0h0m-97 1h0m11 0h0m81 0h0m-87 1h0m74 0h0m32 0h0m-108 1h0m63 2h0m21 0h0m-11 1h0m28 0h0m-107 1h0m81 1h0m-2 1h0m-16 1h0m14 0h0m-79 1h0m67 0h0m46 1h0m-118 1h0m4 0h0m69 0h0m12 0h0m2 0h0m10 0h0m16 1h0m-112 1h0m3 0h0m78 0h0m4 0h0m-14 1h0m2 0h0m14 0h0m30 0h0m-42 1h0m4 0h0m-7 1h0m-15 1h0m58 0h0m-114 1h0m71 0h0m11 0h0m-25 1h0m18 0h0m-75 1h0m57 1h0m13 0h0m25 1h0m-98 1h0m64 0h0m5 0h0m21 0h0m-83 1h0m53 0h0m25 0h0m-78 2h0m55 0h0m-64 1h0m2 0h0m5 0h0m63 0h0m36 0h0m9 0h0m-58 1h0m-57 1h0m4 0h0m11 0h0m22 0h0m5 0h0m58 0h0m-12 1h0m10 0h0m-57 1h0m72 0h0m8 0h0m-110 1h0m4 0h0m53 0h0m27 0h0m9 0h0m4 0h0m-95 1h0m24 0h0m14 0h0m-24 1h0m12 0h0m39 0h0m40 0h0m-82 3h0m26 1h0m21 0h0m-83 1h0m6 0h0m64 0h0m8 0h0m-52 1h0m31 0h0m17 0h0m-42 2h0m38 1h0m-37 1h0"/>
<path stroke="#949bd7" stroke-width="1.1" stroke-linecap="square" d="M143.5 1119.5h0m9 0h0m-8 1h0m1 0h0m3 0h0m3 0h0m-4 1h0m8 0h0m-14 1h0m6 0h0m2 0h0m2 0h0m1 0h0m2 0h0m-14 1h0m14 0h0m-22 1h0m6 0h0m20 1h0m0 1h0m-27 1h0m31 0h0m-29 1h0m28 0h0m-69 2h0m30 0h0m1 0h0m7 0h0m31 0h0m-68 1h0m32 0h0m6 0h0m26 0h0m3 0h0m-35 1h0m1 0h0m3 0h0m2 0h0m28 0h0m2 0h0m-36 1h0m4 0h0m2 0h0m4 0h0m2 0h0m23 0h0m-35 1h0m3 0h0m5 0h0m2 0h0m26 0h0m-38 1h0m10 0h0m1 0h0m4 0h0m-16 1h0m2 0h0m7 0h0m1 0h0m4 0h0m2 0h0m17 0h0m-25 1h0m5 0h0m4 0h0m12 0h0m-46 1h0m1 0h0m6 0h0m10 0h0m11 0h0m5 0h0m3 0h0m1 0h0m-31 1h0m4 0h0m1 0h0m1 0h0m6 0h0m6 0h0m1 0h0m3 0h0m5 0h0m2 0h0m13 0h0m1 0h0m-38 1h0m4 0h0m1 0h0m24 0h0m2 0h0m6 0h0m-28 1h0m21 0h0m6 0h0m-50 1h0m22 0h0m3 0h0m-25 1h0m14 0h0m5 1h0m1 0h0m7 0h0m-20 1h0m2 0h0m10 0h0m-11 1h0m3 0h0m1 0h0m4 0h0m8 0h0m1 0h0m-20 1h0m1 0h0m18 0h0m-20 1h0m8 0h0m3 0h0m8 0h0m-19 1h0m4 0h0m1 0h0m3 0h0m3 0h0m-11 1h0m4 0h0m-7 1h0m7 0h0m5 0h0m-21 1h0m9 0h0m1 0h0m1 0h0m3 0h0m-13 1h0m16 0h0m-20 1h0m4 0h0m11 0h0m4 0h0m4 0h0m3 0h0m1 0h0m2 0h0m-31 1h0m2 0h0m6 0h0m11 0h0m4 0h0m1 0h0m7 0h0m2 0h0m-34 1h0m4 0h0m2 0h0m8 0h0m16 0h0m-14 1h0m3 0h0m1 0h0m5 0h0m1 0h0m1 0h0m-30 1h0m8 0h0m13 0h0m5 0h0m9 0h0m-45 1h0m10 0h0m18 0h0m3 0h0m7 0h0m1 0h0m13 0h0m-51 1h0m5 0h0m27 0h0m2 0h0m12 0h0m3 0h0m1 0h0m-40 1h0m15 0h0m14 0h0m2 0h0m4 0h0m3 0h0m5 0h0m-53 1h0m3 0h0m3 0h0m2 0h0m4 0h0m27 0h0m4 0h0m4 0h0m3 0h0m1 0h0m1 0h0m1 0h0m-53 1h0m1 0h0m8 0h0m1 0h0m40 0h0m-50 1h0m4 0h0m54 0h0m1 1h0m-61 1h0m53 0h0m-55 1h0m-6 1h0m6 0h0m-5 1h0m1 0h0m65 0h0m-12 1h0m1 1h0m-60 1h0m2 0h0m61 0h0m6 0h0m34 0h0m1 0h0m-106 1h0m67 0h0m1 1h0m-64 1h0m57 0h0m2 0h0m12 0h0m1 0h0m-81 1h0m5 0h0m61 0h0m3 0h0m5 0h0m-68 1h0m70 0h0m-71 1h0m63 0h0m-3 1h0m3 0h0m-70 1h0m1 0h0m57 0h0m2 0h0m7 1h0m-6 1h0m-62 1h0m6 0h0m1 0h0m2 0h0m59 0h0m32 0h0m-101 1h0m7 0h0m59 0h0m1 0h0m5 0h0m30 0h0m-93 1h0m1 1h0m40 0h0m7 0h0m-2 1h0m-51 1h0m7 0h0m4 0h0m39 0h0m-41 1h0m2 0h0m33 0h0m2 0h0m6 0h0m1 0h0m-52 1h0m6 0h0m33 0h0m2 0h0m4 0h0m1 0h0m1 0h0m-40 1h0m2 0h0m5 0h0m4 0h0m19 0h0m5 0h0m7 0h0m4 0h0m-42 1h0m10 0h0m11 0h0m3 0h0m1 0h0m1 0h0m1 0h0m2 0h0m5 0h0m1 0h0m7 0h0m-42 1h0m1 0h0m2 0h0m3 0h0m2 0h0m21 0h0m-25 1h0m4 0h0m7 0h0m3 0h0m-11 1h0m41 0h0m-47 1h0m47 0h0m7 0h0m-55 1h0m56 0h0m-54 1h0m1 1h0m61 7h0m0 1h0"/>
<path stroke="#7d87d7" stroke-width="1.1" stroke-linecap="square" d="M142.5 1122.5h0m1 0h0m-1 1h0m1 0h0m1 0h0m1 0h0m2 0h0m2 0h0m3 0h0m-12 1h0m13 0h0m-21 1h0m8 0h0m1 0h0m14 0h0m-23 1h0m6 0h0m17 0h0m1 0h0m-2 1h0m-20 1h0m1 0h0m1 1h0m-3 1h0m24 0h0m-25 1h0m3 0h0m20 0h0m-22 1h0m23 0h0m-20 1h0m21 0h0m-34 3h0m18 0h0m1 0h0m1 0h0m6 0h0m2 0h0m2 0h0m1 0h0m-31 1h0m18 0h0m6 0h0m-22 1h0m1 0h0m13 0h0m8 0h0m2 0h0m-24 1h0m21 0h0m-24 2h0m-7 1h0m13 0h0m-13 1h0m14 0h0m-15 1h0m3 1h0m-2 1h0m1 0h0m-1 2h0m0 1h0m1 0h0m-9 3h0m9 0h0m-9 1h0m-2 2h0m1 0h0m3 0h0m1 0h0m-12 1h0m1 0h0m1 0h0m5 0h0m1 0h0m3 0h0m1 0h0m11 0h0m1 0h0m-27 1h0m4 0h0m1 0h0m1 0h0m1 0h0m7 0h0m12 0h0m-26 1h0m4 0h0m2 0h0m9 0h0m-16 1h0m6 0h0m-14 1h0m8 0h0m2 0h0m7 0h0m10 0h0m-32 1h0m6 0h0m3 0h0m3 0h0m9 0h0m2 0h0m1 0h0m4 0h0m2 0h0m2 0h0m3 0h0m-36 1h0m9 0h0m5 0h0m1 0h0m1 0h0m5 0h0m10 0h0m6 0h0m3 0h0m-39 1h0m2 0h0m5 0h0m7 0h0m9 0h0m8 0h0m1 0h0m7 0h0m14 0h0m-55 1h0m3 0h0m1 0h0m2 0h0m8 0h0m2 0h0m26 0h0m-43 1h0m2 0h0m5 0h0m5 0h0m-14 1h0m2 0h0m45 0h0m2 0h0m9 0h0m-60 1h0m3 0h0m1 0h0m54 0h0m-59 1h0m44 0h0m4 0h0m12 0h0m-64 1h0m1 0h0m3 0h0m54 0h0m-56 1h0m2 0h0m47 0h0m3 0h0m4 0h0m2 0h0m2 0h0m-64 1h0m1 0h0m58 0h0m-65 2h0m4 0h0m56 0h0m-56 1h0m1 0h0m1 1h0m52 1h0m1 1h0m2 0h0m-12 1h0m1 0h0m7 0h0m2 0h0m2 0h0m-58 1h0m48 0h0m3 0h0m2 0h0m-8 1h0m1 0h0m5 0h0m0 1h0m8 0h0m1 0h0m-61 1h0m55 0h0m3 0h0m3 0h0m-60 1h0m1 0h0m58 0h0m-60 1h0m43 0h0m2 0h0m-45 1h0m1 0h0m42 0h0m2 0h0m-46 1h0m40 0h0m5 0h0m-45 1h0m3 0h0m2 0h0m-11 1h0m12 0h0m26 0h0m1 0h0m1 0h0m3 0h0m4 0h0m-47 1h0m13 0h0m25 0h0m3 0h0m-33 1h0m1 0h0m7 0h0m2 0h0m3 0h0m12 0h0m9 0h0m-34 1h0m13 0h0m9 0h0m3 0h0m-19 1h0m6 0h0m11 0h0m-4 2h0m1 0h0"/>
<path stroke="#5d6cd7" stroke-width="1.1" stroke-linecap="square" d="M148.5 1123.5h0m-4 1h0m3 0h0m3 0h0m1 0h0m-12 1h0m3 0h0m1 0h0m1 0h0m2 0h0m3 0h0m4 0h0m1 0h0m-21 1h0m9 0h0m2 0h0m1 0h0m8 0h0m0 1h0m4 0h0m-2 1h0m2 0h0m-22 1h0m20 0h0m2 0h0m-23 1h0m0 1h0m3 1h0m1 1h0m17 0h0m-16 1h0m18 0h0m-18 1h0m3 0h0m4 0h0m1 0h0m1 0h0m4 0h0m1 0h0m2 0h0m1 0h0m-12 1h0m1 0h0m3 0h0m-3 1h0m1 0h0m2 0h0m-4 1h0m1 0h0m-22 4h0m0 1h0m5 0h0m-12 2h0m1 1h0m-21 12h0m3 1h0m-4 1h0m3 0h0m-7 1h0m5 0h0m3 0h0m4 0h0m3 0h0m1 0h0m1 0h0m-11 1h0m1 0h0m2 0h0m4 0h0m5 0h0m3 0h0m-19 1h0m4 0h0m5 0h0m1 0h0m2 0h0m9 0h0m3 0h0m2 0h0m-32 1h0m2 0h0m2 0h0m6 0h0m13 0h0m4 0h0m2 0h0m1 0h0m2 0h0m3 0h0m1 0h0m-40 1h0m1 0h0m2 0h0m7 0h0m2 0h0m2 0h0m14 0h0m9 0h0m2 0h0m1 0h0m-14 1h0m1 0h0m1 0h0m1 0h0m1 0h0m2 0h0m5 0h0m4 0h0m2 0h0m-9 1h0m3 0h0m3 0h0m10 0h0m-58 1h0m1 0h0m1 0h0m38 0h0m5 0h0m2 0h0m-13 1h0m8 0h0m1 0h0m4 0h0m1 0h0m2 0h0m-55 1h0m2 0h0m3 0h0m44 0h0m6 0h0m-56 1h0m50 0h0m8 0h0m2 0h0m1 0h0m-62 1h0m51 0h0m9 0h0m-60 1h0m45 0h0m5 1h0m2 0h0m-1 1h0m-4 1h0m-51 1h0m3 0h0m-3 1h0m1 0h0m47 0h0m3 0h0m1 0h0m1 0h0m4 0h0m-58 1h0m53 0h0m-52 1h0m2 0h0m-1 1h0m44 0h0m5 0h0m-49 1h0m39 0h0m1 0h0m3 0h0m11 0h0m3 0h0m1 0h0m-61 1h0m5 0h0m1 0h0m35 0h0m2 0h0m1 0h0m-38 1h0m35 0h0m-37 1h0m1 0h0m31 0h0m5 0h0m-40 1h0m5 0h0m1 0h0m1 0h0m27 0h0m2 0h0m-35 1h0m4 0h0m1 0h0m1 0h0m28 0h0m1 0h0m5 0h0m-35 1h0m1 0h0m4 0h0m13 0h0m1 0h0m4 0h0m1 0h0m5 0h0m-28 1h0m1 0h0m1 0h0m2 0h0m2 0h0m1 0h0m2 0h0m1 0h0m2 0h0m4 0h0m1 0h0m1 0h0m2 0h0m1 0h0m-10 1h0m7 0h0m-9 1h0m1 0h0m1 0h0m4 0h0m-1 1h0m-1 1h0"/>
<path stroke="#3e52d7" stroke-width="1.1" stroke-linecap="square" d="M148.5 1124.5h0m1 0h0m-2 1h0m1 0h0m2 0h0m1 0h0m1 0h0m-13 1h0m4 0h0m4 0h0m1 0h0m1 0h0m1 0h0m2 0h0m-14 1h0m1 0h0m3 0h0m7 0h0m2 0h0m1 0h0m-14 1h0m15 0h0m1 0h0m2 0h0m-19 1h0m17 0h0m2 0h0m-19 1h0m0 1h0m1 0h0m16 0h0m-15 1h0m0 1h0m14 0h0m3 0h0m-16 1h0m2 0h0m13 0h0m1 0h0m-16 1h0m3 0h0m1 0h0m1 0h0m5 0h0m1 0h0m-29 7h0m-30 20h0m15 0h0m1 0h0m-18 1h0m1 0h0m7 0h0m1 0h0m1 0h0m6 0h0m2 0h0m-10 1h0m3 0h0m1 0h0m1 0h0m4 0h0m1 0h0m7 0h0m3 0h0m-29 1h0m9 0h0m1 0h0m1 0h0m1 0h0m1 0h0m1 0h0m1 0h0m3 0h0m7 0h0m1 0h0m3 0h0m1 0h0m-39 1h0m2 0h0m1 0h0m7 0h0m4 0h0m4 0h0m1 0h0m1 0h0m2 0h0m5 0h0m1 0h0m6 0h0m2 0h0m1 0h0m1 0h0m1 0h0m-18 1h0m2 0h0m5 0h0m1 0h0m1 0h0m1 0h0m2 0h0m1 0h0m1 0h0m3 0h0m1 0h0m6 0h0m-46 1h0m25 0h0m4 0h0m2 0h0m1 0h0m2 0h0m1 0h0m5 0h0m5 0h0m-49 1h0m3 0h0m1 0h0m31 0h0m4 0h0m1 0h0m1 0h0m3 0h0m5 0h0m-50 1h0m36 0h0m3 0h0m2 0h0m1 0h0m1 0h0m-46 1h0m2 0h0m2 0h0m31 0h0m4 0h0m4 0h0m3 0h0m1 0h0m-49 1h0m1 0h0m1 0h0m1 0h0m1 0h0m37 0h0m2 0h0m1 0h0m2 0h0m1 0h0m1 0h0m1 0h0m-49 1h0m1 0h0m40 0h0m2 0h0m3 0h0m2 0h0m3 0h0m-51 1h0m1 0h0m41 0h0m2 0h0m2 0h0m1 0h0m-48 1h0m1 0h0m37 0h0m4 0h0m1 0h0m1 0h0m1 0h0m2 0h0m3 0h0m-50 1h0m37 0h0m2 0h0m3 0h0m4 0h0m2 0h0m2 0h0m-50 1h0m1 0h0m37 0h0m2 0h0m1 0h0m3 0h0m5 0h0m-51 1h0m1 0h0m2 0h0m39 0h0m-42 1h0m1 0h0m41 1h0m-41 1h0m38 0h0m-39 1h0m1 0h0m2 0h0m38 0h0m-41 1h0m36 0h0m-33 1h0m29 0h0m3 0h0m1 0h0m-6 1h0m4 0h0m2 0h0m-6 1h0m7 0h0m-29 1h0m3 0h0m1 0h0m10 0h0m4 0h0m1 0h0m1 0h0m2 0h0m1 0h0m-25 1h0m1 0h0m2 0h0m1 0h0m1 0h0m1 0h0m8 0h0m3 0h0m2 0h0m-18 1h0m10 0h0m2 0h0m-5 1h0m5 0h0m-2 1h0m1 0h0m-1 1h0"/>
<path stroke="#1f76de" stroke-width="1.1" stroke-linecap="square" d="M151.5 1126.5h0m-8 1h0m2 0h0m1 0h0m1 0h0m1 0h0m2 0h0m-11 1h0m3 0h0m6 0h0m3 0h0m-13 1h0m2 0h0m1 0h0m1 0h0m10 0h0m1 0h0m-15 1h0m1 0h0m2 0h0m2 0h0m10 0h0m-14 1h0m4 0h0m9 0h0m1 0h0m-13 1h0m1 1h0m1 0h0m1 1h0m1 0h0m1 0h0m2 0h0m1 0h0m1 0h0m1 0h0m1 0h0m1 0h0m-61 28h0m1 1h0m15 0h0m2 0h0m-10 1h0m7 0h0m-19 1h0m1 0h0m17 0h0m-24 1h0m5 0h0m1 0h0m2 0h0m6 0h0m1 0h0m7 0h0m1 0h0m1 0h0m1 0h0m-23 1h0m1 0h0m15 0h0m5 0h0m1 0h0m2 0h0m-24 1h0m13 0h0m1 0h0m2 0h0m2 0h0m4 0h0m7 0h0m-35 1h0m3 0h0m23 0h0m1 0h0m2 0h0m1 0h0m4 0h0m2 0h0m-37 1h0m1 0h0m2 0h0m27 0h0m1 0h0m2 0h0m3 0h0m-5 1h0m5 0h0m-38 1h0m1 0h0m1 0h0m1 0h0m28 0h0m1 0h0m1 0h0m2 0h0m-37 1h0m1 0h0m32 0h0m1 0h0m1 0h0m1 0h0m8 0h0m-45 1h0m33 0h0m1 0h0m1 0h0m1 0h0m3 0h0m-39 1h0m1 0h0m31 0h0m1 0h0m1 0h0m2 0h0m1 0h0m1 0h0m5 0h0m3 0h0m-48 1h0m1 0h0m1 0h0m1 0h0m1 0h0m30 0h0m1 0h0m2 0h0m2 0h0m3 0h0m1 0h0m1 0h0m4 0h0m-47 1h0m1 0h0m1 0h0m1 0h0m31 0h0m1 0h0m8 0h0m-13 2h0m1 0h0m-2 1h0m1 0h0m4 0h0m1 0h0m1 0h0m1 0h0m-39 1h0m31 0h0m1 0h0m3 0h0m1 0h0m2 0h0m-36 1h0m30 0h0m1 0h0m1 0h0m-31 1h0m29 0h0m1 0h0m-30 1h0m28 0h0m1 0h0m-29 1h0m23 0h0m-23 1h0m7 0h0m13 0h0m1 0h0m1 0h0m1 0h0m1 0h0m-23 1h0m1 0h0m2 0h0m1 0h0m10 0h0m4 0h0m1 0h0m-12 1h0m2 0h0m3 0h0m1 0h0m5 0h0m-6 1h0m0 1h0"/>
<path stroke="#00a0e6" stroke-width="1.1" stroke-linecap="square" d="M143.5 1128.5h0m2 0h0m2 0h0m2 0h0m1 0h0m-7 1h0m1 0h0m3 0h0m1 0h0m3 0h0m-11 1h0m2 0h0m3 0h0m1 0h0m1 0h0m1 0h0m3 0h0m1 0h0m-12 1h0m1 0h0m1 0h0m2 0h0m2 0h0m2 0h0m2 0h0m-9 1h0m1 0h0m1 0h0m1 0h0m3 0h0m1 0h0m2 0h0m1 0h0m1 0h0m-9 1h0m1 0h0m1 0h0m1 0h0m1 0h0m3 0h0m1 0h0m1 0h0m-64 33h0m4 0h0m-12 1h0m1 0h0m1 0h0m3 0h0m1 0h0m1 0h0m1 0h0m1 0h0m1 0h0m1 0h0m1 0h0m1 0h0m1 0h0m1 0h0m1 0h0m10 0h0m-26 1h0m2 0h0m2 0h0m5 0h0m6 0h0m5 0h0m6 0h0m-25 1h0m1 0h0m9 0h0m4 0h0m1 0h0m5 0h0m1 0h0m3 0h0m7 0h0m-34 1h0m2 0h0m1 0h0m27 0h0m3 0h0m-34 1h0m1 0h0m26 0h0m1 0h0m3 0h0m1 0h0m-5 1h0m4 0h0m-34 1h0m29 0h0m1 0h0m5 0h0m-37 1h0m1 0h0m1 0h0m29 0h0m5 0h0m1 0h0m-39 1h0m3 0h0m1 1h0m28 1h0m1 0h0m-33 1h0m1 0h0m1 0h0m29 0h0m1 0h0m1 0h0m1 0h0m1 0h0m1 0h0m-37 1h0m1 0h0m29 0h0m3 0h0m1 0h0m2 0h0m1 0h0m1 0h0m-39 1h0m3 0h0m1 0h0m26 0h0m3 0h0m1 0h0m1 0h0m-34 1h0m1 0h0m1 0h0m1 0h0m1 0h0m25 0h0m3 0h0m1 0h0m-31 1h0m1 0h0m26 0h0m1 0h0m-29 1h0m2 0h0m25 0h0m1 0h0m1 0h0m-27 1h0m1 0h0m23 0h0m-24 1h0m20 0h0m1 0h0m-21 1h0m1 0h0m3 0h0m3 0h0m8 0h0m-8 1h0m1 0h0m9 0h0m-7 1h0m1 0h0"/>
<path stroke="#0eb3a2" stroke-width="1.1" stroke-linecap="square" d="M144.5 1128.5h0m2 0h0m-1 1h0m1 0h0m3 0h0m1 0h0m-1 1h0m1 0h0m-5 1h0m4 0h0m-4 1h0m1 0h0m3 0h0m-1 1h0m1 0h0m-68 35h0m4 0h0m1 0h0m1 0h0m1 0h0m2 0h0m1 0h0m1 0h0m1 0h0m1 0h0m-10 1h0m3 0h0m3 0h0m2 0h0m1 0h0m1 0h0m3 0h0m1 0h0m1 0h0m1 0h0m-18 1h0m1 0h0m8 0h0m1 0h0m4 0h0m4 0h0m2 0h0m1 0h0m1 0h0m-25 1h0m24 0h0m-25 1h0m21 0h0m1 0h0m3 0h0m-28 1h0m1 0h0m1 0h0m1 0h0m22 0h0m1 0h0m1 0h0m-27 1h0m26 0h0m1 0h0m-28 1h0m27 0h0m1 0h0m-1 1h0m1 0h0m-28 1h0m27 0h0m-28 1h0m25 0h0m1 0h0m1 0h0m-29 1h0m1 0h0m1 0h0m24 0h0m1 0h0m-29 1h0m1 0h0m3 0h0m23 0h0m1 0h0m-1 1h0m1 0h0m-24 1h0m1 0h0m23 0h0m-24 1h0m1 0h0m22 0h0m-22 1h0m17 0h0m2 0h0m1 0h0m1 0h0m-22 1h0m1 0h0m2 0h0m2 0h0m13 0h0m-17 1h0m1 0h0m5 0h0m6 0h0m2 0h0m1 0h0m1 0h0m-9 1h0m1 0h0m1 0h0m1 0h0m1 0h0"/>
<path stroke="#1cc65f" stroke-width="1.1" stroke-linecap="square" d="M85.5 1169.5h0m1 0h0m2 0h0m1 0h0m-5 1h0m2 0h0m1 0h0m3 0h0m3 0h0m2 0h0m2 0h0m1 0h0m1 0h0m2 0h0m-21 1h0m1 0h0m1 0h0m9 0h0m1 0h0m6 0h0m1 0h0m1 0h0m2 0h0m-23 1h0m19 0h0m3 0h0m1 0h0m-23 1h0m19 0h0m1 0h0m-23 1h0m1 0h0m1 0h0m21 0h0m1 0h0m-25 1h0m1 0h0m23 0h0m1 0h0m-25 1h0m1 0h0m22 0h0m1 0h0m1 0h0m-25 1h0m23 0h0m1 0h0m1 0h0m-26 1h0m23 0h0m-1 1h0m-22 1h0m0 1h0m1 0h0m20 0h0m-20 1h0m18 0h0m2 0h0m1 0h0m-21 1h0m17 0h0m1 0h0m1 0h0m1 0h0m-20 1h0m1 0h0m1 0h0m13 0h0m2 0h0m-17 1h0m5 0h0m6 0h0m1 0h0m1 0h0m1 0h0m1 0h0m-9 1h0m1 0h0m1 0h0m1 0h0m1 0h0"/>
<path stroke="#63d239" stroke-width="1.1" stroke-linecap="square" d="M85.5 1170.5h0m3 0h0m1 0h0m-6 1h0m1 0h0m1 0h0m1 0h0m1 0h0m3 0h0m3 0h0m1 0h0m1 0h0m1 0h0m1 0h0m4 0h0m-21 1h0m1 0h0m1 0h0m8 0h0m1 0h0m1 0h0m4 0h0m1 0h0m-17 1h0m1 0h0m14 0h0m1 0h0m1 0h0m-18 1h0m1 0h0m15 0h0m1 0h0m1 0h0m1 0h0m-21 1h0m1 0h0m18 0h0m1 0h0m1 0h0m-21 1h0m18 0h0m2 0h0m-21 1h0m19 0h0m1 0h0m1 0h0m-22 1h0m1 0h0m19 0h0m1 0h0m-22 1h0m1 0h0m1 0h0m19 0h0m-20 1h0m1 0h0m18 0h0m1 0h0m-19 1h0m15 0h0m1 0h0m1 0h0m1 0h0m-18 1h0m15 0h0m1 0h0m2 0h0m-18 1h0m1 0h0m12 0h0m1 0h0m1 0h0m-13 1h0m1 0h0m1 0h0m2 0h0m1 0h0m4 0h0m1 0h0m1 0h0m-8 1h0m1 0h0m1 0h0m1 0h0m1 0h0"/>
<path stroke="#afdd15" stroke-width="1.1" stroke-linecap="square" d="M88.5 1171.5h0m1 0h0m-6 1h0m1 0h0m1 0h0m1 0h0m1 0h0m1 0h0m1 0h0m4 0h0m1 0h0m1 0h0m-13 1h0m1 0h0m5 0h0m1 0h0m1 0h0m1 0h0m1 0h0m1 0h0m1 0h0m-13 1h0m1 0h0m11 0h0m1 0h0m-15 1h0m1 0h0m14 0h0m1 0h0m-17 1h0m1 0h0m15 0h0m2 0h0m-19 1h0m1 0h0m1 0h0m1 0h0m14 0h0m-17 1h0m1 0h0m16 0h0m-17 1h0m14 0h0m1 0h0m2 0h0m-17 1h0m13 0h0m1 0h0m1 0h0m1 0h0m-16 1h0m13 0h0m-13 1h0m12 0h0m1 0h0m-12 1h0m1 0h0m1 0h0m1 0h0m1 0h0m1 0h0m3 0h0m1 0h0m1 0h0m-7 1h0m3 0h0m1 0h0m1 0h0"/>
<path stroke="#dbc906" stroke-width="1.1" stroke-linecap="square" d="M84.5 1173.5h0m1 0h0m1 0h0m1 0h0m-4 1h0m1 0h0m1 0h0m2 0h0m1 0h0m1 0h0m1 0h0m1 0h0m1 0h0m-11 1h0m1 0h0m1 0h0m1 0h0m1 0h0m4 0h0m1 0h0m1 0h0m1 0h0m1 0h0m-13 1h0m1 0h0m9 0h0m1 0h0m1 0h0m1 0h0m-12 1h0m9 0h0m1 0h0m1 0h0m1 0h0m-14 1h0m1 0h0m1 0h0m9 0h0m1 0h0m1 0h0m1 0h0m-15 1h0m1 0h0m1 0h0m1 0h0m9 0h0m3 0h0m-15 1h0m1 0h0m1 0h0m8 0h0m1 0h0m-11 1h0m1 0h0m1 0h0m1 0h0m1 0h0m1 0h0m3 0h0m1 0h0m1 0h0m1 0h0m-11 1h0m1 0h0m1 0h0m1 0h0m1 0h0m1 0h0m1 0h0m1 0h0m1 0h0m1 0h0m1 0h0m-4 1h0m1 0h0"/>
<path stroke="#f8a801" stroke-width="1.1" stroke-linecap="square" d="M86.5 1174.5h0m0 1h0m1 0h0m1 0h0m-6 1h0m1 0h0m1 0h0m1 0h0m1 0h0m2 0h0m1 0h0m-7 1h0m1 0h0m1 0h0m1 0h0m4 0h0m-7 1h0m1 0h0m1 0h0m1 0h0m1 0h0m2 0h0m1 0h0m-7 1h0m1 0h0m1 0h0m1 0h0m1 0h0m1 0h0m1 0h0m1 0h0m-8 1h0m1 0h0m1 0h0m1 0h0m1 0h0m1 0h0m1 0h0m-3 1h0m1 0h0"/>
<path stroke="#f86c00" stroke-width="1.1" stroke-linecap="square" d="M87.5 1176.5h0m-1 1h0m1 0h0m1 0h0m-1 1h0"/>
<line x1="131.75" y1="1078.75" x2="131.75" y2="1239.5" stroke="#555" stroke-width="1.1"/>
<line x1="48.75" y1="1159.25" x2="210" y2="1159.25" stroke="#555" stroke-width="1.1"/>
<rect x="48.75" y="1078.75" width="161.25" height="160.75" fill="none" stroke="#666" stroke-width="1.3"/>
<text x="52.25" y="1087.75" font-size="7" style='font-weight:normal;font-family:"Liberation Sans";fill:#222;'>Q1</text>
<text x="52.25" y="1098.75" font-size="7" style='font-weight:normal;font-family:"Liberation Sans";fill:#222;'>3.57%</text>
<text x="207" y="1087.75" font-size="7" text-anchor="end" style='font-weight:normal;font-family:"Liberation Sans";fill:#222;'>Q2</text>
<text x="207" y="1098.75" font-size="7" text-anchor="end" style='font-weight:normal;font-family:"Liberation Sans";fill:#222;'>11.0%</text>
<text x="52.25" y="1225.5" font-size="7" style='font-weight:normal;font-family:"Liberation Sans";fill:#222;'>Q4</text>
<text x="52.25" y="1236.5" font-size="7" style='font-weight:normal;font-family:"Liberation Sans";fill:#222;'>83.5%</text>
<text x="207" y="1225.5" font-size="7" text-anchor="end" style='font-weight:normal;font-family:"Liberation Sans";fill:#222;'>Q3</text>
<text x="207" y="1236.5" font-size="7" text-anchor="end" style='font-weight:normal;font-family:"Liberation Sans";fill:#222;'>1.92%</text>
<line x1="82.5" y1="1239.5" x2="82.5" y2="1242.5" stroke="#777" stroke-width="0.8"/>
<text x="81.5" y="1254.5" font-size="7.5" text-anchor="middle" style='font-family:"Liberation Sans";fill:#333;'>10</text>
<text x="86" y="1249" font-size="5.5" style='font-family:"Liberation Sans";fill:#333;'>1</text>
<line x1="113.75" y1="1239.5" x2="113.75" y2="1242.5" stroke="#777" stroke-width="0.8"/>
<text x="112.75" y="1254.5" font-size="7.5" text-anchor="middle" style='font-family:"Liberation Sans";fill:#333;'>10</text>
<text x="117.25" y="1249" font-size="5.5" style='font-family:"Liberation Sans";fill:#333;'>2</text>
<line x1="142.5" y1="1239.5" x2="142.5" y2="1242.5" stroke="#777" stroke-width="0.8"/>
<text x="141.5" y="1254.5" font-size="7.5" text-anchor="middle" style='font-family:"Liberation Sans";fill:#333;'>10</text>
<text x="146" y="1249" font-size="5.5" style='font-family:"Liberation Sans";fill:#333;'>3</text>
<line x1="172.5" y1="1239.5" x2="172.5" y2="1242.5" stroke="#777" stroke-width="0.8"/>
<text x="171.5" y="1254.5" font-size="7.5" text-anchor="middle" style='font-family:"Liberation Sans";fill:#333;'>10</text>
<text x="176" y="1249" font-size="5.5" style='font-family:"Liberation Sans";fill:#333;'>4</text>
<line x1="202" y1="1239.5" x2="202" y2="1242.5" stroke="#777" stroke-width="0.8"/>
<text x="201" y="1254.5" font-size="7.5" text-anchor="middle" style='font-family:"Liberation Sans";fill:#333;'>10</text>
<text x="205.5" y="1249" font-size="5.5" style='font-family:"Liberation Sans";fill:#333;'>5</text>
<line x1="45.75" y1="1090" x2="48.75" y2="1090" stroke="#777" stroke-width="0.8"/>
<text x="41.75" y="1093" font-size="7.5" text-anchor="end" style='font-family:"Liberation Sans";fill:#333;'>10</text>
<text x="41.75" y="1088" font-size="5.5" style='font-family:"Liberation Sans";fill:#333;'>4</text>
<line x1="45.75" y1="1120" x2="48.75" y2="1120" stroke="#777" stroke-width="0.8"/>
<text x="41.75" y="1123" font-size="7.5" text-anchor="end" style='font-family:"Liberation Sans";fill:#333;'>10</text>
<text x="41.75" y="1118" font-size="5.5" style='font-family:"Liberation Sans";fill:#333;'>3</text>
<line x1="45.75" y1="1159" x2="48.75" y2="1159" stroke="#777" stroke-width="0.8"/>
<text x="41.75" y="1162" font-size="7.5" text-anchor="end" style='font-family:"Liberation Sans";fill:#333;'>10</text>
<text x="41.75" y="1157" font-size="5.5" style='font-family:"Liberation Sans";fill:#333;'>2</text>
<line x1="45.75" y1="1199" x2="48.75" y2="1199" stroke="#777" stroke-width="0.8"/>
<text x="41.75" y="1202" font-size="7.5" text-anchor="end" style='font-family:"Liberation Sans";fill:#333;'>10</text>
<text x="41.75" y="1197" font-size="5.5" style='font-family:"Liberation Sans";fill:#333;'>1</text>
<line x1="48.75" y1="1239.5" x2="48.75" y2="1241" stroke="#999" stroke-width="0.6"/>
<line x1="53.75" y1="1239.5" x2="53.75" y2="1241" stroke="#999" stroke-width="0.6"/>
<line x1="58.75" y1="1239.5" x2="58.75" y2="1241" stroke="#999" stroke-width="0.6"/>
<line x1="63.75" y1="1239.5" x2="63.75" y2="1241" stroke="#999" stroke-width="0.6"/>
<line x1="68.75" y1="1239.5" x2="68.75" y2="1241" stroke="#999" stroke-width="0.6"/>
<line x1="73.75" y1="1239.5" x2="73.75" y2="1241" stroke="#999" stroke-width="0.6"/>
<line x1="78.75" y1="1239.5" x2="78.75" y2="1241" stroke="#999" stroke-width="0.6"/>
<line x1="83.75" y1="1239.5" x2="83.75" y2="1241" stroke="#999" stroke-width="0.6"/>
<line x1="88.75" y1="1239.5" x2="88.75" y2="1241" stroke="#999" stroke-width="0.6"/>
<line x1="93.75" y1="1239.5" x2="93.75" y2="1241" stroke="#999" stroke-width="0.6"/>
<line x1="98.75" y1="1239.5" x2="98.75" y2="1241" stroke="#999" stroke-width="0.6"/>
<line x1="103.75" y1="1239.5" x2="103.75" y2="1241" stroke="#999" stroke-width="0.6"/>
<line x1="108.75" y1="1239.5" x2="108.75" y2="1241" stroke="#999" stroke-width="0.6"/>
<line x1="113.75" y1="1239.5" x2="113.75" y2="1241" stroke="#999" stroke-width="0.6"/>
<line x1="118.75" y1="1239.5" x2="118.75" y2="1241" stroke="#999" stroke-width="0.6"/>
<line x1="123.75" y1="1239.5" x2="123.75" y2="1241" stroke="#999" stroke-width="0.6"/>
<line x1="128.75" y1="1239.5" x2="128.75" y2="1241" stroke="#999" stroke-width="0.6"/>
<line x1="133.75" y1="1239.5" x2="133.75" y2="1241" stroke="#999" stroke-width="0.6"/>
<line x1="138.75" y1="1239.5" x2="138.75" y2="1241" stroke="#999" stroke-width="0.6"/>
<line x1="143.75" y1="1239.5" x2="143.75" y2="1241" stroke="#999" stroke-width="0.6"/>
<line x1="148.75" y1="1239.5" x2="148.75" y2="1241" stroke="#999" stroke-width="0.6"/>
<line x1="153.75" y1="1239.5" x2="153.75" y2="1241" stroke="#999" stroke-width="0.6"/>
<line x1="158.75" y1="1239.5" x2="158.75" y2="1241" stroke="#999" stroke-width="0.6"/>
<line x1="163.75" y1="1239.5" x2="163.75" y2="1241" stroke="#999" stroke-width="0.6"/>
<line x1="168.75" y1="1239.5" x2="168.75" y2="1241" stroke="#999" stroke-width="0.6"/>
<line x1="173.75" y1="1239.5" x2="173.75" y2="1241" stroke="#999" stroke-width="0.6"/>
<line x1="178.75" y1="1239.5" x2="178.75" y2="1241" stroke="#999" stroke-width="0.6"/>
<line x1="183.75" y1="1239.5" x2="183.75" y2="1241" stroke="#999" stroke-width="0.6"/>
<line x1="188.75" y1="1239.5" x2="188.75" y2="1241" stroke="#999" stroke-width="0.6"/>
<line x1="193.75" y1="1239.5" x2="193.75" y2="1241" stroke="#999" stroke-width="0.6"/>
<line x1="198.75" y1="1239.5" x2="198.75" y2="1241" stroke="#999" stroke-width="0.6"/>
<line x1="203.75" y1="1239.5" x2="203.75" y2="1241" stroke="#999" stroke-width="0.6"/>
<line x1="47.25" y1="1078.75" x2="48.75" y2="1078.75" stroke="#999" stroke-width="0.6"/>
<line x1="47.25" y1="1083.75" x2="48.75" y2="1083.75" stroke="#999" stroke-width="0.6"/>
<line x1="47.25" y1="1088.75" x2="48.75" y2="1088.75" stroke="#999" stroke-width="0.6"/>
<line x1="47.25" y1="1093.75" x2="48.75" y2="1093.75" stroke="#999" stroke-width="0.6"/>
<line x1="47.25" y1="1098.75" x2="48.75" y2="1098.75" stroke="#999" stroke-width="0.6"/>
<line x1="47.25" y1="1103.75" x2="48.75" y2="1103.75" stroke="#999" stroke-width="0.6"/>
<line x1="47.25" y1="1108.75" x2="48.75" y2="1108.75" stroke="#999" stroke-width="0.6"/>
<line x1="47.25" y1="1113.75" x2="48.75" y2="1113.75" stroke="#999" stroke-width="0.6"/>
<line x1="47.25" y1="1118.75" x2="48.75" y2="1118.75" stroke="#999" stroke-width="0.6"/>
<line x1="47.25" y1="1123.75" x2="48.75" y2="1123.75" stroke="#999" stroke-width="0.6"/>
<line x1="47.25" y1="1128.75" x2="48.75" y2="1128.75" stroke="#999" stroke-width="0.6"/>
<line x1="47.25" y1="1133.75" x2="48.75" y2="1133.75" stroke="#999" stroke-width="0.6"/>
<line x1="47.25" y1="1138.75" x2="48.75" y2="1138.75" stroke="#999" stroke-width="0.6"/>
<line x1="47.25" y1="1143.75" x2="48.75" y2="1143.75" stroke="#999" stroke-width="0.6"/>
<line x1="47.25" y1="1148.75" x2="48.75" y2="1148.75" stroke="#999" stroke-width="0.6"/>
<line x1="47.25" y1="1153.75" x2="48.75" y2="1153.75" stroke="#999" stroke-width="0.6"/>
<line x1="47.25" y1="1158.75" x2="48.75" y2="1158.75" stroke="#999" stroke-width="0.6"/>
<line x1="47.25" y1="1163.75" x2="48.75" y2="1163.75" stroke="#999" stroke-width="0.6"/>
<line x1="47.25" y1="1168.75" x2="48.75" y2="1168.75" stroke="#999" stroke-width="0.6"/>
<line x1="47.25" y1="1173.75" x2="48.75" y2="1173.75" stroke="#999" stroke-width="0.6"/>
<line x1="47.25" y1="1178.75" x2="48.75" y2="1178.75" stroke="#999" stroke-width="0.6"/>
<line x1="47.25" y1="1183.75" x2="48.75" y2="1183.75" stroke="#999" stroke-width="0.6"/>
<line x1="47.25" y1="1188.75" x2="48.75" y2="1188.75" stroke="#999" stroke-width="0.6"/>
<line x1="47.25" y1="1193.75" x2="48.75" y2="1193.75" stroke="#999" stroke-width="0.6"/>
<line x1="47.25" y1="1198.75" x2="48.75" y2="1198.75" stroke="#999" stroke-width="0.6"/>
<line x1="47.25" y1="1203.75" x2="48.75" y2="1203.75" stroke="#999" stroke-width="0.6"/>
<line x1="47.25" y1="1208.75" x2="48.75" y2="1208.75" stroke="#999" stroke-width="0.6"/>
<line x1="47.25" y1="1213.75" x2="48.75" y2="1213.75" stroke="#999" stroke-width="0.6"/>
<line x1="47.25" y1="1218.75" x2="48.75" y2="1218.75" stroke="#999" stroke-width="0.6"/>
<line x1="47.25" y1="1223.75" x2="48.75" y2="1223.75" stroke="#999" stroke-width="0.6"/>
<line x1="47.25" y1="1228.75" x2="48.75" y2="1228.75" stroke="#999" stroke-width="0.6"/>
<line x1="47.25" y1="1233.75" x2="48.75" y2="1233.75" stroke="#999" stroke-width="0.6"/>
<rect x="237.5" y="1078.75" width="163.75" height="163.25" fill="#fff"/>
<path stroke="#a5abd8" stroke-width="1.1" stroke-linecap="square" d="M319.5 1081.5h0m-10 1h0m9 1h0m7 0h0m4 1h0m-30 5h0m23 0h0m4 0h0m-15 2h0m-32 1h0m29 0h0m62 0h0m17 0h0m-112 1h0m-16 2h0m53 0h0m7 0h0m36 0h0m-112 1h0m14 0h0m30 0h0m69 1h0m-7 1h0m-72 1h0m5 0h0m18 0h0m5 1h0m15 0h0m46 0h0m-78 1h0m39 0h0m17 0h0m-19 1h0m12 0h0m-47 1h0m3 0h0m3 0h0m-33 1h0m95 0h0m-70 1h0m17 0h0m11 0h0m15 0h0m13 0h0m-53 1h0m56 0h0m-107 1h0m54 0h0m8 0h0m11 0h0m17 0h0m-45 1h0m4 0h0m7 0h0m51 0h0m-53 1h0m25 0h0m39 0h0m-85 1h0m3 0h0m20 0h0m4 0h0m8 0h0m16 0h0m-76 1h0m63 0h0m-28 1h0m5 0h0m17 0h0m53 0h0m-113 1h0m72 0h0m-15 1h0m-33 1h0m22 0h0m66 0h0m18 0h0m-24 1h0m-111 1h0m9 0h0m47 0h0m28 0h0m31 0h0m6 0h0m11 0h0m-87 1h0m3 0h0m22 0h0m43 0h0m-73 1h0m3 0h0m-13 1h0m2 0h0m3 0h0m53 0h0m11 0h0m15 0h0m2 0h0m11 0h0m-110 1h0m47 0h0m26 0h0m-23 1h0m17 0h0m13 0h0m10 0h0m4 0h0m6 0h0m10 0h0m-100 1h0m9 0h0m17 0h0m6 0h0m66 0h0m-124 1h0m3 0h0m7 0h0m27 0h0m6 0h0m35 0h0m16 0h0m24 0h0m-50 1h0m-41 1h0m67 0h0m-88 1h0m3 0h0m2 0h0m2 0h0m18 0h0m48 0h0m40 0h0m-98 1h0m25 0h0m28 0h0m2 0h0m6 0h0m-38 1h0m4 0h0m2 0h0m80 0h0m-59 1h0m57 0h0m-103 1h0m66 0h0m10 0h0m3 0h0m-46 1h0m4 0h0m2 0h0m11 0h0m-56 1h0m25 0h0m16 0h0m23 0h0m20 0h0m12 0h0m-113 1h0m14 0h0m41 0h0m62 0h0m-105 1h0m4 0h0m6 0h0m17 0h0m24 0h0m4 0h0m5 0h0m5 0h0m13 0h0m-92 1h0m35 0h0m42 0h0m21 1h0m-48 1h0m44 0h0m2 1h0m-57 1h0m12 0h0m3 0h0m4 1h0m9 0h0m-48 1h0m34 0h0m-39 1h0m7 0h0m68 0h0m-66 1h0m4 0h0m39 0h0m18 0h0m2 0h0m8 0h0m-91 1h0m29 0h0m-26 1h0m39 0h0m10 0h0m4 0h0m93 0h0m-123 1h0m2 0h0m26 0h0m30 0h0m-86 1h0m19 0h0m26 0h0m30 0h0m-23 1h0m20 0h0m15 0h0m-48 1h0m5 0h0m17 0h0m53 0h0m-94 1h0m3 0h0m49 0h0m-64 1h0m56 0h0m4 0h0m-50 1h0m9 0h0m5 0h0m3 0h0m40 0h0m-46 1h0m11 0h0m10 0h0m2 0h0m34 0h0m-45 2h0m10 0h0m8 1h0m-58 1h0m28 0h0m-16 1h0m28 0h0m3 0h0m48 0h0m-88 1h0m13 0h0m29 0h0m-31 1h0m17 0h0m28 0h0m9 0h0m13 0h0m-33 1h0m5 0h0m10 0h0m-41 1h0m4 0h0m-2 1h0m6 0h0m33 0h0m19 0h0m-54 1h0m63 0h0m-93 1h0m66 1h0m28 0h0m-26 1h0m7 0h0m-55 1h0m63 0h0m26 0h0m-94 1h0m3 0h0m3 1h0m53 1h0m2 1h0m2 0h0m17 0h0m15 0h0m-26 1h0m4 0h0m5 0h0m-4 2h0m-76 1h0m82 0h0m15 0h0m-107 1h0m14 0h0m2 0h0m59 0h0m-77 1h0m72 0h0m12 0h0m-2 1h0m34 0h0m-111 1h0m-5 1h0m8 0h0m-2 1h0m100 0h0m8 0h0m-104 1h0m78 0h0m29 0h0m-110 1h0m85 0h0m12 0h0m-103 1h0m75 0h0m8 0h0m-80 2h0m82 2h0m6 1h0m14 1h0m-34 1h0m-69 1h0m82 1h0m-84 1h0m72 0h0m-69 1h0m86 0h0m-10 1h0m-81 1h0m84 0h0m-7 2h0m10 0h0m-13 1h0m27 1h0m-100 1h0m5 0h0m4 0h0m102 0h0m-49 3h0m-3 2h0m17 0h0m-78 1h0m10 0h0m9 0h0m37 0h0m2 0h0m15 1h0m-61 2h0m-9 1h0m48 0h0m-24 1h0m22 0h0m10 0h0m7 0h0m-67 1h0m37 1h0m11 2h0m-31 2h0m32 1h0"/>
<path stroke="#949bd7" stroke-width="1.1" stroke-linecap="square" d="M311.5 1084.5h0m0 1h0m18 13h0m0 1h0m4 0h0m-73 1h0m1 0h0m71 0h0m-49 2h0m56 0h0m1 0h0m-56 1h0m40 1h0m1 0h0m13 1h0m1 0h0m1 0h0m-7 1h0m3 0h0m-29 1h0m27 0h0m2 0h0m9 0h0m8 0h0m-61 1h0m13 0h0m1 0h0m28 0h0m2 0h0m7 0h0m2 0h0m8 0h0m-61 1h0m35 0h0m2 0h0m2 0h0m7 0h0m-23 1h0m12 0h0m7 0h0m9 0h0m-72 1h0m43 0h0m14 0h0m6 0h0m2 0h0m1 0h0m8 0h0m5 0h0m-80 1h0m37 0h0m1 0h0m24 0h0m7 0h0m12 0h0m-51 1h0m30 0h0m16 0h0m-61 1h0m43 0h0m2 0h0m3 0h0m4 0h0m10 0h0m7 0h0m-68 1h0m50 0h0m-51 1h0m41 0h0m1 0h0m-26 1h0m12 0h0m5 0h0m1 0h0m3 0h0m7 0h0m5 0h0m3 0h0m10 0h0m-46 1h0m2 0h0m10 0h0m8 0h0m10 0h0m3 0h0m6 0h0m4 0h0m-40 1h0m1 0h0m7 0h0m30 0h0m-25 1h0m2 0h0m22 0h0m5 0h0m-68 1h0m40 0h0m14 0h0m-53 1h0m32 0h0m0 1h0m21 0h0m8 0h0m-59 1h0m6 0h0m25 0h0m2 0h0m27 0h0m-59 1h0m5 0h0m26 0h0m27 0h0m2 0h0m-39 1h0m39 0h0m-67 1h0m1 0h0m19 0h0m8 0h0m7 0h0m-46 1h0m12 0h0m17 0h0m18 0h0m-38 1h0m2 0h0m19 0h0m5 0h0m-43 1h0m1 0h0m15 0h0m26 0h0m-39 1h0m1 0h0m10 0h0m1 0h0m12 0h0m10 0h0m-22 1h0m11 0h0m6 0h0m3 0h0m3 0h0m1 0h0m-8 1h0m4 0h0m-29 1h0m25 0h0m7 0h0m-32 1h0m31 0h0m2 0h0m33 0h0m13 0h0m-18 1h0m5 0h0m14 0h0m-42 1h0m1 0h0m8 0h0m14 0h0m4 0h0m29 0h0m-70 1h0m12 0h0m3 0h0m9 0h0m1 0h0m11 0h0m33 0h0m-106 1h0m1 0h0m36 0h0m13 0h0m-28 1h0m44 0h0m1 0h0m-44 1h0m11 0h0m35 0h0m3 0h0m1 0h0m1 0h0m-50 1h0m1 0h0m10 0h0m34 0h0m5 2h0m33 0h0m-47 1h0m1 0h0m13 0h0m-7 1h0m-1 1h0m-14 1h0m22 0h0m-23 1h0m9 0h0m2 0h0m13 0h0m-50 1h0m36 0h0m-35 1h0m20 0h0m46 0h0m-47 1h0m45 0h0m1 0h0m-77 8h0m1 1h0m21 0h0m-22 1h0m22 0h0m14 0h0m-6 1h0m5 0h0m-22 1h0m8 0h0m6 0h0m1 0h0m-16 1h0m9 0h0m5 0h0m-9 1h0m11 0h0m4 0h0m1 0h0m3 0h0m-18 1h0m17 0h0m-19 1h0m3 0h0m17 0h0m1 0h0m2 0h0m3 0h0m-32 1h0m7 0h0m9 0h0m8 0h0m10 0h0m-53 1h0m10 0h0m2 0h0m3 0h0m1 0h0m1 0h0m2 0h0m1 0h0m20 0h0m4 0h0m2 0h0m8 0h0m4 0h0m-58 1h0m12 0h0m1 0h0m6 0h0m7 0h0m8 0h0m13 0h0m5 0h0m3 0h0m3 0h0m-48 1h0m6 0h0m29 0h0m5 0h0m6 0h0m1 0h0m1 0h0m-64 1h0m1 0h0m14 0h0m36 0h0m4 0h0m2 0h0m3 0h0m5 0h0m-46 1h0m19 0h0m17 0h0m-44 1h0m1 0h0m49 0h0m1 0h0m2 0h0m4 0h0m4 0h0m-62 1h0m1 0h0m51 0h0m2 0h0m5 0h0m-61 1h0m12 0h0m40 0h0m2 0h0m-48 1h0m4 0h0m40 0h0m-50 1h0m-3 1h0m6 0h0m4 0h0m53 0h0m3 0h0m1 0h0m1 0h0m1 0h0m6 0h0m-76 1h0m77 0h0m-75 1h0m1 0h0m3 0h0m59 0h0m-59 1h0m55 0h0m7 0h0m-7 1h0m2 0h0m1 0h0m7 0h0m-77 1h0m75 0h0m1 0h0m2 0h0m-78 1h0m7 0h0m-4 1h0m1 0h0m2 0h0m64 0h0m8 0h0m-82 1h0m1 0h0m72 0h0m3 0h0m7 0h0m-84 1h0m3 0h0m72 0h0m9 0h0m-80 1h0m2 0h0m4 0h0m1 0h0m65 0h0m1 0h0m3 0h0m5 0h0m-82 1h0m2 0h0m75 0h0m4 0h0m-81 1h0m6 0h0m77 0h0m-84 1h0m5 0h0m71 0h0m7 0h0m-9 1h0m2 0h0m-9 1h0m2 0h0m1 0h0m-65 1h0m62 0h0m8 0h0m-70 1h0m62 0h0m7 0h0m-74 1h0m1 1h0m5 0h0m54 0h0m-60 1h0m2 0h0m8 0h0m54 0h0m2 0h0m13 0h0m-73 1h0m1 0h0m3 0h0m54 0h0m5 0h0m-61 1h0m51 0h0m2 0h0m2 0h0m-57 1h0m5 0h0m47 0h0m5 0h0m2 0h0m-54 1h0m3 0h0m51 0h0m-54 1h0m47 0h0m1 0h0m2 0h0m1 0h0m-56 1h0m1 0h0m4 0h0m3 0h0m31 0h0m18 0h0m-53 1h0m39 0h0m6 0h0m-46 1h0m1 0h0m6 0h0m7 0h0m18 0h0m2 0h0m2 0h0m5 0h0m-40 1h0m14 0h0m12 0h0m9 0h0m17 0h0m4 0h0m-53 1h0m5 0h0m17 0h0m10 0h0m22 0h0m-57 1h0m1 0h0m2 0h0m6 0h0m4 0h0m5 0h0m6 0h0m10 0h0m19 0h0m3 0h0m1 0h0m-55 1h0m13 0h0m1 0h0m2 0h0m2 0h0m4 0h0m3 0h0m6 0h0m11 0h0m-38 1h0m2 0h0m10 0h0m12 0h0m14 0h0m-41 1h0m3 0h0m3 0h0m2 0h0m6 0h0m12 0h0m-26 1h0m14 0h0m12 0h0m-26 1h0m24 0h0m1 0h0m1 0h0m-5 4h0m-13 1h0m1 0h0m12 0h0"/>
<path stroke="#7d87d7" stroke-width="1.1" stroke-linecap="square" d="M341.5 1106.5h0m-20 1h0m17 0h0m-16 1h0m1 0h0m14 0h0m-15 1h0m17 0h0m1 0h0m3 0h0m-15 1h0m4 0h0m8 0h0m2 0h0m3 0h0m-10 1h0m7 0h0m-8 1h0m-1 1h0m1 0h0m1 0h0m6 0h0m3 0h0m3 0h0m8 0h0m-21 1h0m8 0h0m1 0h0m-14 1h0m1 0h0m8 0h0m1 0h0m1 0h0m2 0h0m1 0h0m2 0h0m-16 1h0m2 0h0m7 0h0m2 0h0m3 0h0m1 0h0m-13 1h0m10 0h0m4 0h0m-9 1h0m9 0h0m1 0h0m-1 1h0m2 1h0m-36 1h0m23 0h0m8 0h0m-9 1h0m-38 4h0m17 23h0m-33 15h0m1 1h0m10 0h0m-12 1h0m1 0h0m23 0h0m-24 1h0m9 0h0m1 0h0m12 0h0m1 0h0m-12 1h0m-6 1h0m5 0h0m4 0h0m1 0h0m12 0h0m-14 1h0m-26 1h0m6 0h0m8 0h0m2 0h0m6 0h0m2 0h0m10 0h0m-27 1h0m21 0h0m1 0h0m1 0h0m5 0h0m6 0h0m-33 1h0m8 0h0m4 0h0m12 0h0m4 0h0m5 0h0m1 0h0m-42 1h0m3 0h0m1 0h0m1 0h0m1 0h0m2 0h0m2 0h0m6 0h0m4 0h0m6 0h0m8 0h0m8 0h0m1 0h0m6 0h0m-40 1h0m9 0h0m6 0h0m1 0h0m1 0h0m22 0h0m-57 1h0m1 0h0m9 0h0m1 0h0m23 0h0m15 0h0m-29 1h0m2 0h0m-15 1h0m1 0h0m4 0h0m41 0h0m1 0h0m-47 1h0m2 0h0m40 0h0m-49 1h0m4 0h0m37 0h0m10 0h0m10 0h0m-63 1h0m1 0h0m6 0h0m49 0h0m2 0h0m3 0h0m-54 1h0m1 0h0m45 0h0m3 0h0m2 0h0m3 0h0m1 0h0m-55 1h0m2 0h0m44 0h0m3 0h0m1 0h0m4 0h0m3 0h0m1 0h0m-56 1h0m55 0h0m-73 1h0m10 0h0m3 0h0m1 0h0m1 0h0m3 0h0m45 0h0m8 0h0m-61 1h0m54 0h0m2 0h0m2 0h0m2 0h0m-62 1h0m3 0h0m-3 1h0m2 0h0m1 0h0m1 0h0m0 1h0m57 0h0m3 0h0m7 0h0m-70 1h0m3 0h0m66 0h0m-70 1h0m-1 1h0m60 0h0m4 0h0m-66 1h0m2 0h0m3 0h0m55 0h0m1 0h0m6 0h0m1 0h0m-68 1h0m68 0h0m-69 1h0m8 1h0m44 0h0m5 0h0m-57 1h0m1 0h0m57 0h0m1 0h0m1 0h0m-55 1h0m2 0h0m48 0h0m1 0h0m2 0h0m7 0h0m-63 1h0m2 0h0m3 0h0m58 0h0m-60 1h0m1 0h0m2 0h0m2 0h0m45 0h0m10 0h0m-73 1h0m6 0h0m1 0h0m58 0h0m16 0h0m-73 1h0m7 0h0m45 0h0m-37 2h0m32 0h0m2 0h0m1 0h0m-37 1h0m2 0h0m27 0h0m3 0h0m3 0h0m-32 1h0m22 0h0m3 0h0m8 0h0m1 0h0m3 0h0m-43 1h0m4 0h0m1 0h0m23 0h0m1 0h0m7 0h0m-34 1h0m18 0h0m-17 1h0m2 0h0m10 0h0m1 0h0m2 0h0m3 0h0m1 0h0m5 0h0m-23 1h0m6 0h0m1 0h0m1 0h0m3 0h0m7 0h0m1 0h0m5 0h0m18 0h0m-29 1h0m4 0h0m3 0h0m1 0h0m1 0h0m-20 1h0m18 0h0m-19 1h0m10 0h0m8 0h0m-22 1h0"/>
<path stroke="#5d6cd7" stroke-width="1.1" stroke-linecap="square" d="M339.5 1108.5h0m1 0h0m2 0h0m-1 1h0m-1 2h0m1 0h0m-1 1h0m1 0h0m-11 4h0m9 0h0m-56 54h0m1 0h0m1 0h0m7 0h0m-14 1h0m4 0h0m-4 1h0m4 0h0m1 0h0m7 0h0m2 0h0m4 0h0m-20 1h0m2 0h0m2 0h0m8 0h0m3 0h0m2 0h0m2 0h0m1 0h0m-32 1h0m12 0h0m8 0h0m5 0h0m6 0h0m2 0h0m4 0h0m1 0h0m-38 1h0m4 0h0m8 0h0m6 0h0m4 0h0m2 0h0m4 0h0m9 0h0m1 0h0m5 0h0m-43 1h0m7 0h0m5 0h0m13 0h0m7 0h0m7 0h0m1 0h0m2 0h0m-35 1h0m2 0h0m2 0h0m9 0h0m15 0h0m2 0h0m2 0h0m2 0h0m-35 1h0m3 0h0m3 0h0m24 0h0m3 0h0m-37 1h0m1 0h0m1 0h0m5 0h0m1 0h0m24 0h0m1 0h0m3 0h0m2 0h0m4 0h0m2 0h0m-42 1h0m1 0h0m27 0h0m3 0h0m3 0h0m2 0h0m-35 1h0m37 0h0m2 0h0m1 0h0m4 0h0m1 0h0m-54 1h0m4 0h0m-5 1h0m1 0h0m48 0h0m1 0h0m-45 1h0m1 0h0m38 0h0m3 0h0m4 0h0m9 0h0m-63 1h0m1 0h0m4 0h0m1 0h0m49 0h0m-50 1h0m2 0h0m45 0h0m2 0h0m-49 1h0m48 0h0m-55 1h0m4 0h0m47 0h0m4 0h0m1 0h0m1 0h0m-56 1h0m4 0h0m48 0h0m4 0h0m-53 1h0m1 0h0m43 0h0m2 0h0m4 0h0m3 0h0m1 0h0m2 0h0m-59 1h0m5 0h0m43 0h0m5 0h0m1 0h0m1 0h0m1 0h0m1 0h0m1 0h0m1 0h0m-5 1h0m-6 1h0m4 0h0m1 0h0m-59 1h0m3 0h0m4 0h0m1 0h0m45 0h0m3 0h0m1 0h0m1 0h0m1 0h0m-56 1h0m2 0h0m47 0h0m4 0h0m-47 1h0m41 0h0m1 0h0m5 0h0m-54 1h0m3 0h0m1 0h0m1 0h0m1 0h0m45 0h0m3 0h0m-54 1h0m2 0h0m8 0h0m-11 1h0m8 0h0m44 0h0m3 0h0m1 0h0m-50 1h0m4 0h0m45 0h0m-49 1h0m1 0h0m4 0h0m40 0h0m-44 1h0m1 0h0m3 0h0m37 0h0m2 0h0m-43 1h0m1 0h0m33 0h0m2 0h0m3 0h0m3 0h0m-41 1h0m9 0h0m14 0h0m7 0h0m1 0h0m3 0h0m1 0h0m2 0h0m-34 1h0m5 0h0m3 0h0m1 0h0m16 0h0m6 0h0m1 0h0m5 0h0m-40 1h0m1 0h0m8 0h0m1 0h0m6 0h0m7 0h0m4 0h0m8 0h0m-27 1h0m3 0h0m4 0h0m4 0h0m1 0h0m2 0h0m-17 1h0m1 0h0m5 0h0m6 0h0m1 0h0m1 0h0m4 0h0m-13 1h0m4 0h0m1 0h0m11 0h0m-1 1h0m2 0h0m-3 1h0m-7 1h0m6 0h0"/>
<path stroke="#3e52d7" stroke-width="1.1" stroke-linecap="square" d="M341.5 1107.5h0m-57 64h0m2 0h0m-9 1h0m7 0h0m5 1h0m-10 1h0m3 0h0m1 0h0m9 0h0m1 0h0m3 0h0m-31 1h0m7 0h0m7 0h0m14 0h0m1 0h0m3 0h0m1 0h0m2 0h0m-28 1h0m1 0h0m4 0h0m1 0h0m1 0h0m2 0h0m1 0h0m4 0h0m2 0h0m5 0h0m2 0h0m3 0h0m1 0h0m2 0h0m1 0h0m-30 1h0m8 0h0m3 0h0m2 0h0m3 0h0m1 0h0m1 0h0m3 0h0m3 0h0m2 0h0m-27 1h0m7 0h0m2 0h0m9 0h0m4 0h0m8 0h0m-31 1h0m2 0h0m3 0h0m1 0h0m4 0h0m9 0h0m4 0h0m1 0h0m1 0h0m1 0h0m4 0h0m1 0h0m-36 1h0m1 0h0m5 0h0m1 0h0m1 0h0m15 0h0m1 0h0m11 0h0m1 0h0m2 0h0m5 0h0m-43 1h0m3 0h0m2 0h0m35 0h0m-2 1h0m-38 1h0m2 0h0m2 0h0m1 0h0m36 0h0m-40 1h0m4 0h0m29 0h0m3 0h0m2 0h0m-39 1h0m36 0h0m2 0h0m1 0h0m2 0h0m-44 1h0m3 0h0m36 0h0m2 0h0m2 0h0m2 0h0m-49 1h0m1 0h0m1 0h0m2 0h0m1 0h0m1 0h0m49 0h0m-54 1h0m2 0h0m1 0h0m39 0h0m2 0h0m4 0h0m1 0h0m4 0h0m-52 1h0m1 0h0m41 0h0m1 0h0m6 0h0m1 0h0m-49 1h0m40 0h0m4 0h0m1 0h0m3 0h0m4 0h0m-57 1h0m1 0h0m4 0h0m43 0h0m2 0h0m-47 1h0m2 0h0m41 0h0m1 0h0m1 0h0m1 0h0m1 0h0m4 0h0m-54 1h0m45 0h0m1 0h0m2 0h0m1 0h0m-47 1h0m3 0h0m1 0h0m38 0h0m1 0h0m2 0h0m1 0h0m-51 1h0m2 0h0m4 0h0m40 0h0m3 0h0m1 0h0m-51 1h0m1 0h0m1 0h0m1 0h0m4 0h0m44 0h0m-51 1h0m1 0h0m5 0h0m3 0h0m1 0h0m-4 1h0m1 0h0m1 0h0m2 0h0m38 0h0m-41 1h0m1 0h0m1 0h0m34 0h0m1 0h0m1 0h0m1 0h0m1 0h0m-37 1h0m33 0h0m2 0h0m1 0h0m1 0h0m1 0h0m1 0h0m-39 1h0m1 0h0m29 0h0m2 0h0m3 0h0m1 0h0m1 0h0m-37 1h0m1 0h0m1 0h0m11 0h0m1 0h0m16 0h0m7 0h0m-40 1h0m1 0h0m1 0h0m1 0h0m13 0h0m1 0h0m1 0h0m4 0h0m1 0h0m6 0h0m6 0h0m-35 1h0m1 0h0m2 0h0m3 0h0m1 0h0m2 0h0m9 0h0m5 0h0m5 0h0m-28 1h0m1 0h0m11 0h0m2 0h0m2 0h0m5 0h0m2 0h0m3 0h0m-15 1h0m1 0h0m1 0h0m1 0h0m2 0h0m2 0h0m3 0h0m2 0h0m1 0h0m1 0h0m-16 1h0m2 0h0m1 0h0m1 0h0m2 0h0m2 0h0m-5 1h0"/>
<path stroke="#1f76de" stroke-width="1.1" stroke-linecap="square" d="M285.5 1171.5h0m-2 2h0m-5 2h0m17 0h0m-8 1h0m7 0h0m-13 1h0m1 0h0m12 0h0m1 0h0m7 0h0m-21 1h0m1 0h0m1 0h0m1 0h0m1 0h0m2 0h0m1 0h0m2 0h0m1 0h0m1 0h0m2 0h0m1 0h0m1 0h0m1 0h0m-20 1h0m1 0h0m1 0h0m3 0h0m1 0h0m1 0h0m2 0h0m1 0h0m3 0h0m-23 1h0m7 0h0m4 0h0m1 0h0m1 0h0m1 0h0m1 0h0m1 0h0m1 0h0m3 0h0m4 0h0m1 0h0m1 0h0m1 0h0m15 0h0m-42 1h0m4 0h0m1 0h0m1 0h0m5 0h0m1 0h0m4 0h0m1 0h0m6 0h0m1 0h0m4 0h0m1 0h0m5 0h0m1 0h0m2 0h0m-38 1h0m3 0h0m2 0h0m2 0h0m17 0h0m1 0h0m4 0h0m4 0h0m3 0h0m2 0h0m-36 1h0m3 0h0m31 0h0m2 0h0m1 0h0m-38 1h0m2 0h0m2 0h0m24 0h0m3 0h0m2 0h0m-30 1h0m1 0h0m26 0h0m1 0h0m1 0h0m1 0h0m5 0h0m-47 1h0m12 0h0m28 0h0m1 0h0m1 0h0m4 0h0m2 0h0m-41 1h0m32 0h0m1 0h0m1 0h0m1 0h0m1 0h0m1 0h0m1 0h0m1 0h0m3 0h0m-44 1h0m1 0h0m33 0h0m3 0h0m2 0h0m-2 1h0m-38 1h0m34 0h0m4 0h0m-38 1h0m35 0h0m1 0h0m1 0h0m1 0h0m1 0h0m1 0h0m3 0h0m-49 1h0m1 0h0m1 0h0m4 0h0m34 0h0m1 0h0m1 0h0m3 0h0m-41 1h0m40 0h0m-40 1h0m0 1h0m1 0h0m37 0h0m6 0h0m-44 1h0m1 0h0m1 0h0m2 0h0m31 0h0m1 0h0m2 0h0m-39 1h0m4 0h0m32 0h0m1 0h0m2 0h0m-35 1h0m31 0h0m2 0h0m1 0h0m1 0h0m1 0h0m-36 1h0m27 0h0m4 0h0m6 0h0m1 0h0m-37 1h0m26 0h0m3 0h0m1 0h0m2 0h0m-32 1h0m1 0h0m23 0h0m2 0h0m1 0h0m2 0h0m2 0h0m1 0h0m-31 1h0m12 0h0m9 0h0m2 0h0m2 0h0m4 0h0m1 0h0m1 0h0m-31 1h0m1 0h0m1 0h0m1 0h0m1 0h0m1 0h0m8 0h0m1 0h0m1 0h0m6 0h0m1 0h0m8 0h0m-24 1h0m3 0h0m1 0h0m1 0h0m3 0h0m4 0h0m1 0h0m1 0h0m1 0h0m-14 1h0m4 0h0m1 0h0m1 0h0m1 0h0m4 0h0m1 0h0m-6 1h0"/>
<path stroke="#00a0e6" stroke-width="1.1" stroke-linecap="square" d="M287.5 1177.5h0m-1 1h0m-1 1h0m6 0h0m-16 1h0m1 0h0m1 0h0m8 0h0m5 0h0m-24 1h0m8 0h0m3 0h0m3 0h0m1 0h0m1 0h0m3 0h0m4 0h0m3 0h0m1 0h0m1 0h0m-22 1h0m5 0h0m1 0h0m1 0h0m1 0h0m2 0h0m1 0h0m1 0h0m1 0h0m1 0h0m2 0h0m1 0h0m5 0h0m2 0h0m1 0h0m1 0h0m2 0h0m1 0h0m4 0h0m-33 1h0m1 0h0m17 0h0m1 0h0m1 0h0m2 0h0m1 0h0m1 0h0m2 0h0m1 0h0m1 0h0m-28 1h0m22 0h0m2 0h0m1 0h0m4 0h0m-32 1h0m27 0h0m-30 1h0m3 0h0m2 0h0m25 0h0m1 0h0m-31 1h0m3 0h0m1 0h0m26 0h0m-30 1h0m3 0h0m27 0h0m3 0h0m-36 1h0m1 0h0m1 0h0m4 0h0m26 0h0m1 0h0m1 0h0m2 0h0m-36 1h0m32 0h0m2 0h0m2 0h0m-4 1h0m1 0h0m-33 1h0m32 0h0m4 0h0m-41 1h0m1 0h0m4 0h0m32 0h0m2 0h0m1 0h0m1 0h0m-40 1h0m4 0h0m1 0h0m1 0h0m30 0h0m2 0h0m1 0h0m-36 1h0m1 0h0m1 0h0m1 0h0m30 0h0m2 0h0m-34 1h0m2 0h0m32 0h0m-33 1h0m1 0h0m28 0h0m4 0h0m-33 1h0m7 0h0m20 0h0m2 0h0m-29 1h0m1 0h0m1 0h0m23 0h0m3 0h0m1 0h0m-30 1h0m3 0h0m1 0h0m3 0h0m14 0h0m1 0h0m3 0h0m1 0h0m-23 1h0m1 0h0m2 0h0m1 0h0m4 0h0m1 0h0m1 0h0m8 0h0m2 0h0m1 0h0m-21 1h0m1 0h0m2 0h0m1 0h0m1 0h0m7 0h0m1 0h0m2 0h0m1 0h0m-11 1h0m1 0h0m1 0h0m1 0h0m9 0h0m1 0h0m1 0h0m-13 1h0m1 0h0"/>
<path stroke="#0eb3a2" stroke-width="1.1" stroke-linecap="square" d="M286.5 1180.5h0m-11 1h0m1 0h0m10 0h0m1 0h0m-13 1h0m1 0h0m6 0h0m6 0h0m5 0h0m1 0h0m-19 1h0m3 0h0m1 0h0m1 0h0m1 0h0m1 0h0m1 0h0m1 0h0m1 0h0m1 0h0m1 0h0m1 0h0m1 0h0m1 0h0m4 0h0m4 0h0m4 0h0m-33 1h0m5 0h0m1 0h0m1 0h0m2 0h0m2 0h0m1 0h0m1 0h0m1 0h0m1 0h0m1 0h0m4 0h0m1 0h0m1 0h0m1 0h0m1 0h0m1 0h0m-26 1h0m1 0h0m4 0h0m1 0h0m1 0h0m1 0h0m1 0h0m13 0h0m1 0h0m3 0h0m1 0h0m1 0h0m-28 1h0m1 0h0m4 0h0m18 0h0m1 0h0m1 0h0m3 0h0m-28 1h0m1 0h0m3 0h0m20 0h0m1 0h0m3 0h0m-28 1h0m1 0h0m2 0h0m1 0h0m12 0h0m11 0h0m1 0h0m-29 1h0m1 0h0m1 0h0m2 0h0m21 0h0m2 0h0m1 0h0m4 0h0m-34 1h0m1 0h0m3 0h0m1 0h0m23 0h0m1 0h0m1 0h0m4 0h0m-34 1h0m1 0h0m1 0h0m1 0h0m1 0h0m24 0h0m1 0h0m1 0h0m-30 1h0m1 0h0m1 0h0m1 0h0m1 0h0m23 0h0m3 0h0m-30 1h0m1 0h0m1 0h0m24 0h0m1 0h0m3 0h0m-28 1h0m24 0h0m1 0h0m3 0h0m-28 1h0m28 0h0m-28 1h0m1 0h0m1 0h0m25 0h0m1 0h0m-27 1h0m1 0h0m1 0h0m1 0h0m1 0h0m1 0h0m1 0h0m1 0h0m1 0h0m17 0h0m-27 1h0m1 0h0m4 0h0m2 0h0m1 0h0m1 0h0m1 0h0m5 0h0m1 0h0m1 0h0m7 0h0m3 0h0m-25 1h0m2 0h0m1 0h0m2 0h0m1 0h0m8 0h0m3 0h0m1 0h0m1 0h0m1 0h0m1 0h0m-20 1h0m1 0h0m2 0h0m3 0h0m3 0h0m4 0h0m1 0h0m1 0h0m3 0h0m1 0h0m-19 1h0m3 0h0m2 0h0m4 0h0m1 0h0m1 0h0m1 0h0m1 0h0m1 0h0m1 0h0m2 0h0m-13 1h0m1 0h0m7 0h0m3 0h0m1 0h0m1 0h0"/>
<path stroke="#1cc65f" stroke-width="1.1" stroke-linecap="square" d="M276.5 1182.5h0m-1 1h0m1 0h0m0 1h0m2 0h0m7 0h0m1 0h0m1 0h0m-10 1h0m1 0h0m1 0h0m2 0h0m1 0h0m1 0h0m1 0h0m1 0h0m1 0h0m1 0h0m1 0h0m3 0h0m1 0h0m-19 1h0m1 0h0m2 0h0m1 0h0m1 0h0m1 0h0m1 0h0m1 0h0m1 0h0m1 0h0m1 0h0m1 0h0m1 0h0m2 0h0m1 0h0m4 0h0m1 0h0m-22 1h0m1 0h0m1 0h0m1 0h0m7 0h0m1 0h0m1 0h0m5 0h0m1 0h0m3 0h0m1 0h0m-22 1h0m4 0h0m6 0h0m5 0h0m3 0h0m1 0h0m1 0h0m1 0h0m-12 1h0m1 0h0m1 0h0m3 0h0m1 0h0m5 0h0m-26 1h0m1 0h0m3 0h0m20 0h0m1 0h0m-22 1h0m9 0h0m11 0h0m1 0h0m1 0h0m-22 1h0m21 0h0m2 0h0m1 0h0m-26 1h0m1 0h0m24 0h0m1 0h0m-26 1h0m4 0h0m16 0h0m1 0h0m1 0h0m3 0h0m1 0h0m-26 1h0m20 0h0m1 0h0m1 0h0m1 0h0m1 0h0m1 0h0m1 0h0m-24 1h0m2 0h0m1 0h0m1 0h0m1 0h0m1 0h0m11 0h0m1 0h0m1 0h0m1 0h0m3 0h0m-26 1h0m10 0h0m4 0h0m1 0h0m1 0h0m3 0h0m1 0h0m1 0h0m1 0h0m1 0h0m1 0h0m1 0h0m-24 1h0m1 0h0m1 0h0m8 0h0m1 0h0m1 0h0m4 0h0m1 0h0m1 0h0m1 0h0m1 0h0m1 0h0m-20 1h0m6 0h0m1 0h0m1 0h0m1 0h0m1 0h0m1 0h0m1 0h0m2 0h0m1 0h0m-11 1h0m1 0h0m2 0h0m1 0h0m2 0h0m1 0h0m1 0h0m-8 1h0"/>
<path stroke="#63d239" stroke-width="1.1" stroke-linecap="square" d="M287.5 1186.5h0m-11 1h0m1 0h0m1 0h0m1 0h0m1 0h0m1 0h0m4 0h0m1 0h0m1 0h0m1 0h0m-15 1h0m1 0h0m1 0h0m2 0h0m1 0h0m1 0h0m1 0h0m1 0h0m3 0h0m1 0h0m1 0h0m2 0h0m1 0h0m-18 1h0m1 0h0m1 0h0m1 0h0m1 0h0m1 0h0m1 0h0m1 0h0m1 0h0m1 0h0m4 0h0m1 0h0m3 0h0m1 0h0m1 0h0m-19 1h0m1 0h0m1 0h0m2 0h0m2 0h0m1 0h0m1 0h0m1 0h0m1 0h0m1 0h0m1 0h0m1 0h0m1 0h0m1 0h0m1 0h0m1 0h0m1 0h0m-19 1h0m1 0h0m1 0h0m2 0h0m2 0h0m1 0h0m2 0h0m1 0h0m4 0h0m1 0h0m1 0h0m1 0h0m1 0h0m-18 1h0m1 0h0m1 0h0m1 0h0m2 0h0m1 0h0m1 0h0m1 0h0m1 0h0m1 0h0m3 0h0m1 0h0m1 0h0m1 0h0m1 0h0m1 0h0m1 0h0m-20 1h0m1 0h0m1 0h0m1 0h0m1 0h0m1 0h0m1 0h0m1 0h0m1 0h0m1 0h0m6 0h0m1 0h0m1 0h0m1 0h0m1 0h0m1 0h0m-21 1h0m2 0h0m2 0h0m1 0h0m1 0h0m1 0h0m1 0h0m1 0h0m7 0h0m1 0h0m1 0h0m-18 1h0m3 0h0m1 0h0m1 0h0m1 0h0m1 0h0m1 0h0m7 0h0m1 0h0m1 0h0m1 0h0m-16 1h0m6 0h0m1 0h0m3 0h0m1 0h0m1 0h0m1 0h0m1 0h0m1 0h0m5 0h0m1 0h0m-14 1h0m1 0h0m1 0h0m4 0h0m1 0h0m-8 1h0"/>
<path stroke="#afdd15" stroke-width="1.1" stroke-linecap="square" d="M274.5 1190.5h0m2 0h0m-3 1h0m2 0h0m6 0h0m1 0h0m1 0h0m-9 1h0m7 0h0m1 0h0m-3 1h0m1 0h0m1 0h0m1 0h0m1 0h0m-14 1h0m9 0h0m1 0h0m1 0h0m1 0h0m1 0h0m1 0h0m-14 1h0m1 0h0m7 0h0m1 0h0m1 0h0m1 0h0m1 0h0m1 0h0m-4 1h0m1 0h0"/>
<line x1="320.75" y1="1078.75" x2="320.75" y2="1242" stroke="#555" stroke-width="1.1"/>
<line x1="237.5" y1="1160.75" x2="401.25" y2="1160.75" stroke="#555" stroke-width="1.1"/>
<rect x="237.5" y="1078.75" width="163.75" height="163.25" fill="none" stroke="#666" stroke-width="1.3"/>
<text x="241" y="1087.75" font-size="7" style='font-weight:normal;font-family:"Liberation Sans";fill:#222;'>Q1</text>
<text x="241" y="1098.75" font-size="7" style='font-weight:normal;font-family:"Liberation Sans";fill:#222;'>2.37%</text>
<text x="398.25" y="1087.75" font-size="7" text-anchor="end" style='font-weight:normal;font-family:"Liberation Sans";fill:#222;'>Q2</text>
<text x="398.25" y="1098.75" font-size="7" text-anchor="end" style='font-weight:normal;font-family:"Liberation Sans";fill:#222;'>3.19%</text>
<text x="241" y="1228" font-size="7" style='font-weight:normal;font-family:"Liberation Sans";fill:#222;'>Q4</text>
<text x="241" y="1239" font-size="7" style='font-weight:normal;font-family:"Liberation Sans";fill:#222;'>91.9%</text>
<text x="398.25" y="1228" font-size="7" text-anchor="end" style='font-weight:normal;font-family:"Liberation Sans";fill:#222;'>Q3</text>
<text x="398.25" y="1239" font-size="7" text-anchor="end" style='font-weight:normal;font-family:"Liberation Sans";fill:#222;'>2.58%</text>
<line x1="271" y1="1242" x2="271" y2="1245" stroke="#777" stroke-width="0.8"/>
<text x="270" y="1257" font-size="7.5" text-anchor="middle" style='font-family:"Liberation Sans";fill:#333;'>10</text>
<text x="274.5" y="1251.5" font-size="5.5" style='font-family:"Liberation Sans";fill:#333;'>1</text>
<line x1="302.5" y1="1242" x2="302.5" y2="1245" stroke="#777" stroke-width="0.8"/>
<text x="301.5" y="1257" font-size="7.5" text-anchor="middle" style='font-family:"Liberation Sans";fill:#333;'>10</text>
<text x="306" y="1251.5" font-size="5.5" style='font-family:"Liberation Sans";fill:#333;'>2</text>
<line x1="332.5" y1="1242" x2="332.5" y2="1245" stroke="#777" stroke-width="0.8"/>
<text x="331.5" y="1257" font-size="7.5" text-anchor="middle" style='font-family:"Liberation Sans";fill:#333;'>10</text>
<text x="336" y="1251.5" font-size="5.5" style='font-family:"Liberation Sans";fill:#333;'>3</text>
<line x1="362.5" y1="1242" x2="362.5" y2="1245" stroke="#777" stroke-width="0.8"/>
<text x="361.5" y="1257" font-size="7.5" text-anchor="middle" style='font-family:"Liberation Sans";fill:#333;'>10</text>
<text x="366" y="1251.5" font-size="5.5" style='font-family:"Liberation Sans";fill:#333;'>4</text>
<line x1="392.5" y1="1242" x2="392.5" y2="1245" stroke="#777" stroke-width="0.8"/>
<text x="391.5" y="1257" font-size="7.5" text-anchor="middle" style='font-family:"Liberation Sans";fill:#333;'>10</text>
<text x="396" y="1251.5" font-size="5.5" style='font-family:"Liberation Sans";fill:#333;'>5</text>
<line x1="234.5" y1="1088" x2="237.5" y2="1088" stroke="#777" stroke-width="0.8"/>
<text x="230.5" y="1091" font-size="7.5" text-anchor="end" style='font-family:"Liberation Sans";fill:#333;'>10</text>
<text x="230.5" y="1086" font-size="5.5" style='font-family:"Liberation Sans";fill:#333;'>4</text>
<line x1="234.5" y1="1120" x2="237.5" y2="1120" stroke="#777" stroke-width="0.8"/>
<text x="230.5" y="1123" font-size="7.5" text-anchor="end" style='font-family:"Liberation Sans";fill:#333;'>10</text>
<text x="230.5" y="1118" font-size="5.5" style='font-family:"Liberation Sans";fill:#333;'>3</text>
<line x1="234.5" y1="1160" x2="237.5" y2="1160" stroke="#777" stroke-width="0.8"/>
<text x="230.5" y="1163" font-size="7.5" text-anchor="end" style='font-family:"Liberation Sans";fill:#333;'>10</text>
<text x="230.5" y="1158" font-size="5.5" style='font-family:"Liberation Sans";fill:#333;'>2</text>
<line x1="234.5" y1="1200" x2="237.5" y2="1200" stroke="#777" stroke-width="0.8"/>
<text x="230.5" y="1203" font-size="7.5" text-anchor="end" style='font-family:"Liberation Sans";fill:#333;'>10</text>
<text x="230.5" y="1198" font-size="5.5" style='font-family:"Liberation Sans";fill:#333;'>1</text>
<line x1="237.5" y1="1242" x2="237.5" y2="1243.5" stroke="#999" stroke-width="0.6"/>
<line x1="242.5" y1="1242" x2="242.5" y2="1243.5" stroke="#999" stroke-width="0.6"/>
<line x1="247.5" y1="1242" x2="247.5" y2="1243.5" stroke="#999" stroke-width="0.6"/>
<line x1="252.5" y1="1242" x2="252.5" y2="1243.5" stroke="#999" stroke-width="0.6"/>
<line x1="257.5" y1="1242" x2="257.5" y2="1243.5" stroke="#999" stroke-width="0.6"/>
<line x1="262.5" y1="1242" x2="262.5" y2="1243.5" stroke="#999" stroke-width="0.6"/>
<line x1="267.5" y1="1242" x2="267.5" y2="1243.5" stroke="#999" stroke-width="0.6"/>
<line x1="272.5" y1="1242" x2="272.5" y2="1243.5" stroke="#999" stroke-width="0.6"/>
<line x1="277.5" y1="1242" x2="277.5" y2="1243.5" stroke="#999" stroke-width="0.6"/>
<line x1="282.5" y1="1242" x2="282.5" y2="1243.5" stroke="#999" stroke-width="0.6"/>
<line x1="287.5" y1="1242" x2="287.5" y2="1243.5" stroke="#999" stroke-width="0.6"/>
<line x1="292.5" y1="1242" x2="292.5" y2="1243.5" stroke="#999" stroke-width="0.6"/>
<line x1="297.5" y1="1242" x2="297.5" y2="1243.5" stroke="#999" stroke-width="0.6"/>
<line x1="302.5" y1="1242" x2="302.5" y2="1243.5" stroke="#999" stroke-width="0.6"/>
<line x1="307.5" y1="1242" x2="307.5" y2="1243.5" stroke="#999" stroke-width="0.6"/>
<line x1="312.5" y1="1242" x2="312.5" y2="1243.5" stroke="#999" stroke-width="0.6"/>
<line x1="317.5" y1="1242" x2="317.5" y2="1243.5" stroke="#999" stroke-width="0.6"/>
<line x1="322.5" y1="1242" x2="322.5" y2="1243.5" stroke="#999" stroke-width="0.6"/>
<line x1="327.5" y1="1242" x2="327.5" y2="1243.5" stroke="#999" stroke-width="0.6"/>
<line x1="332.5" y1="1242" x2="332.5" y2="1243.5" stroke="#999" stroke-width="0.6"/>
<line x1="337.5" y1="1242" x2="337.5" y2="1243.5" stroke="#999" stroke-width="0.6"/>
<line x1="342.5" y1="1242" x2="342.5" y2="1243.5" stroke="#999" stroke-width="0.6"/>
<line x1="347.5" y1="1242" x2="347.5" y2="1243.5" stroke="#999" stroke-width="0.6"/>
<line x1="352.5" y1="1242" x2="352.5" y2="1243.5" stroke="#999" stroke-width="0.6"/>
<line x1="357.5" y1="1242" x2="357.5" y2="1243.5" stroke="#999" stroke-width="0.6"/>
<line x1="362.5" y1="1242" x2="362.5" y2="1243.5" stroke="#999" stroke-width="0.6"/>
<line x1="367.5" y1="1242" x2="367.5" y2="1243.5" stroke="#999" stroke-width="0.6"/>
<line x1="372.5" y1="1242" x2="372.5" y2="1243.5" stroke="#999" stroke-width="0.6"/>
<line x1="377.5" y1="1242" x2="377.5" y2="1243.5" stroke="#999" stroke-width="0.6"/>
<line x1="382.5" y1="1242" x2="382.5" y2="1243.5" stroke="#999" stroke-width="0.6"/>
<line x1="387.5" y1="1242" x2="387.5" y2="1243.5" stroke="#999" stroke-width="0.6"/>
<line x1="392.5" y1="1242" x2="392.5" y2="1243.5" stroke="#999" stroke-width="0.6"/>
<line x1="236" y1="1078.75" x2="237.5" y2="1078.75" stroke="#999" stroke-width="0.6"/>
<line x1="236" y1="1083.75" x2="237.5" y2="1083.75" stroke="#999" stroke-width="0.6"/>
<line x1="236" y1="1088.75" x2="237.5" y2="1088.75" stroke="#999" stroke-width="0.6"/>
<line x1="236" y1="1093.75" x2="237.5" y2="1093.75" stroke="#999" stroke-width="0.6"/>
<line x1="236" y1="1098.75" x2="237.5" y2="1098.75" stroke="#999" stroke-width="0.6"/>
<line x1="236" y1="1103.75" x2="237.5" y2="1103.75" stroke="#999" stroke-width="0.6"/>
<line x1="236" y1="1108.75" x2="237.5" y2="1108.75" stroke="#999" stroke-width="0.6"/>
<line x1="236" y1="1113.75" x2="237.5" y2="1113.75" stroke="#999" stroke-width="0.6"/>
<line x1="236" y1="1118.75" x2="237.5" y2="1118.75" stroke="#999" stroke-width="0.6"/>
<line x1="236" y1="1123.75" x2="237.5" y2="1123.75" stroke="#999" stroke-width="0.6"/>
<line x1="236" y1="1128.75" x2="237.5" y2="1128.75" stroke="#999" stroke-width="0.6"/>
<line x1="236" y1="1133.75" x2="237.5" y2="1133.75" stroke="#999" stroke-width="0.6"/>
<line x1="236" y1="1138.75" x2="237.5" y2="1138.75" stroke="#999" stroke-width="0.6"/>
<line x1="236" y1="1143.75" x2="237.5" y2="1143.75" stroke="#999" stroke-width="0.6"/>
<line x1="236" y1="1148.75" x2="237.5" y2="1148.75" stroke="#999" stroke-width="0.6"/>
<line x1="236" y1="1153.75" x2="237.5" y2="1153.75" stroke="#999" stroke-width="0.6"/>
<line x1="236" y1="1158.75" x2="237.5" y2="1158.75" stroke="#999" stroke-width="0.6"/>
<line x1="236" y1="1163.75" x2="237.5" y2="1163.75" stroke="#999" stroke-width="0.6"/>
<line x1="236" y1="1168.75" x2="237.5" y2="1168.75" stroke="#999" stroke-width="0.6"/>
<line x1="236" y1="1173.75" x2="237.5" y2="1173.75" stroke="#999" stroke-width="0.6"/>
<line x1="236" y1="1178.75" x2="237.5" y2="1178.75" stroke="#999" stroke-width="0.6"/>
<line x1="236" y1="1183.75" x2="237.5" y2="1183.75" stroke="#999" stroke-width="0.6"/>
<line x1="236" y1="1188.75" x2="237.5" y2="1188.75" stroke="#999" stroke-width="0.6"/>
<line x1="236" y1="1193.75" x2="237.5" y2="1193.75" stroke="#999" stroke-width="0.6"/>
<line x1="236" y1="1198.75" x2="237.5" y2="1198.75" stroke="#999" stroke-width="0.6"/>
<line x1="236" y1="1203.75" x2="237.5" y2="1203.75" stroke="#999" stroke-width="0.6"/>
<line x1="236" y1="1208.75" x2="237.5" y2="1208.75" stroke="#999" stroke-width="0.6"/>
<line x1="236" y1="1213.75" x2="237.5" y2="1213.75" stroke="#999" stroke-width="0.6"/>
<line x1="236" y1="1218.75" x2="237.5" y2="1218.75" stroke="#999" stroke-width="0.6"/>
<line x1="236" y1="1223.75" x2="237.5" y2="1223.75" stroke="#999" stroke-width="0.6"/>
<line x1="236" y1="1228.75" x2="237.5" y2="1228.75" stroke="#999" stroke-width="0.6"/>
<line x1="236" y1="1233.75" x2="237.5" y2="1233.75" stroke="#999" stroke-width="0.6"/>
<rect x="429.5" y="1078.75" width="163.5" height="163.25" fill="#fff"/>
<path stroke="#a5abd8" stroke-width="1.1" stroke-linecap="square" d="M562.5 1093.5h0m-14 17h0m15 0h0m-32 6h0m-9 1h0m20 0h0m-28 1h0m-32 2h0m42 0h0m15 0h0m-25 1h0m3 0h0m20 1h0m2 1h0m-32 1h0m41 0h0m-79 1h0m74 1h0m5 2h0m-65 1h0m63 0h0m-93 1h0m57 0h0m5 0h0m38 0h0m-51 1h0m43 0h0m-31 1h0m-8 1h0m40 0h0m4 0h0m-73 1h0m26 0h0m-14 2h0m9 0h0m45 0h0m-57 1h0m-47 1h0m45 0h0m54 1h0m-75 1h0m34 0h0m14 0h0m-15 2h0m10 0h0m14 1h0m-46 1h0m-18 1h0m25 0h0m4 0h0m28 0h0m3 0h0m-65 1h0m36 0h0m-6 1h0m14 0h0m23 0h0m-40 1h0m22 1h0m5 0h0m3 1h0m10 0h0m-25 1h0m11 0h0m18 0h0m-39 1h0m-30 1h0m-17 2h0m35 1h0m10 1h0m-35 1h0m71 0h0m-55 1h0m44 1h0m-7 1h0m16 0h0m-7 1h0m-56 2h0m94 0h0m-104 1h0m64 0h0m11 0h0m-73 1h0m67 0h0m4 0h0m6 0h0m-80 1h0m72 0h0m-77 1h0m11 0h0m74 0h0m-76 2h0m-5 1h0m2 0h0m69 0h0m11 0h0m28 1h0m-112 1h0m84 0h0m15 0h0m4 0h0m-31 1h0m22 0h0m-85 1h0m-14 2h0m4 0h0m-2 1h0m117 1h0m-114 1h0m94 0h0m-30 3h0m17 0h0m-83 1h0m60 0h0m43 0h0m-45 1h0m53 0h0m6 0h0m-46 1h0m4 0h0m-79 1h0m63 0h0m37 0h0m-41 1h0m16 0h0m-69 3h0m57 0h0m-59 1h0m48 0h0m15 0h0m16 0h0m32 0h0m-70 1h0m12 0h0m20 0h0m31 0h0m-76 1h0m-18 1h0m16 0h0m53 0h0m35 0h0m-111 1h0m30 0h0m8 0h0m-15 1h0m59 0h0m-76 1h0m23 0h0m62 0h0m-68 1h0m-2 1h0m38 1h0m-62 1h0m2 0h0m23 0h0m7 0h0m-15 2h0m45 0h0m-22 1h0m11 0h0m-36 1h0m21 0h0m17 3h0"/>
<path stroke="#949bd7" stroke-width="1.1" stroke-linecap="square" d="M543.5 1113.5h0m0 1h0m-15 4h0m5 0h0m1 1h0m10 0h0m1 0h0m1 0h0m-17 1h0m7 0h0m-6 1h0m5 0h0m-11 1h0m1 0h0m3 0h0m3 0h0m4 0h0m-95 1h0m40 0h0m39 0h0m10 0h0m-90 1h0m42 0h0m38 0h0m-8 1h0m26 0h0m2 0h0m-28 1h0m5 0h0m-3 1h0m1 0h0m27 0h0m-31 1h0m1 0h0m5 0h0m27 0h0m-36 1h0m6 0h0m5 0h0m25 0h0m-35 1h0m4 0h0m-3 2h0m8 0h0m-8 1h0m5 1h0m5 0h0m-13 1h0m5 0h0m4 0h0m3 0h0m3 0h0m24 0h0m-39 1h0m5 0h0m1 0h0m6 0h0m2 0h0m19 0h0m7 0h0m-40 1h0m7 0h0m9 0h0m-15 1h0m3 0h0m2 0h0m10 0h0m5 0h0m4 0h0m-26 1h0m1 0h0m7 0h0m1 0h0m20 1h0m-44 1h0m10 0h0m1 0h0m7 0h0m6 0h0m1 0h0m13 0h0m2 0h0m1 0h0m-42 1h0m3 0h0m6 0h0m4 0h0m10 0h0m1 0h0m15 0h0m-36 1h0m2 0h0m19 0h0m10 0h0m-35 1h0m2 0h0m13 0h0m6 0h0m15 0h0m-32 1h0m9 0h0m3 0h0m1 0h0m1 0h0m4 0h0m-19 1h0m16 0h0m1 0h0m1 0h0m2 0h0m-21 1h0m21 0h0m-19 1h0m1 0h0m10 0h0m6 0h0m3 0h0m-23 1h0m1 0h0m-3 1h0m2 0h0m7 0h0m2 0h0m-13 1h0m12 0h0m1 0h0m16 0h0m1 0h0m-37 1h0m9 0h0m15 0h0m-23 1h0m6 0h0m1 0h0m9 0h0m2 0h0m2 0h0m3 0h0m4 0h0m-18 1h0m1 0h0m10 0h0m4 0h0m1 0h0m2 0h0m-22 1h0m3 0h0m16 0h0m-19 1h0m13 0h0m1 0h0m3 0h0m5 0h0m-13 1h0m8 0h0m5 0h0m1 0h0m-33 1h0m2 0h0m1 0h0m14 0h0m2 0h0m4 0h0m3 0h0m2 0h0m6 0h0m-33 1h0m9 0h0m12 0h0m2 0h0m5 0h0m-27 1h0m19 0h0m1 0h0m7 0h0m7 0h0m1 0h0m1 0h0m-46 1h0m1 0h0m1 0h0m4 0h0m1 0h0m22 0h0m8 0h0m10 0h0m-56 1h0m6 0h0m1 0h0m6 0h0m-13 1h0m46 0h0m-41 1h0m51 0h0m-49 1h0m-7 1h0m2 0h0m72 0h0m14 0h0m-90 1h0m76 0h0m15 0h0m-95 1h0m52 0h0m5 0h0m3 0h0m-3 1h0m3 0h0m-61 1h0m4 0h0m54 0h0m0 2h0m8 0h0m-66 1h0m56 0h0m11 0h0m-76 1h0m4 0h0m-2 1h0m60 0h0m5 0h0m-68 1h0m1 0h0m8 0h0m64 0h0m-70 1h0m55 0h0m5 0h0m1 0h0m-6 1h0m11 0h0m1 0h0m-67 1h0m57 0h0m9 0h0m-69 1h0m57 0h0m4 0h0m3 0h0m1 0h0m2 0h0m2 0h0m-66 1h0m53 0h0m-2 1h0m13 0h0m-69 1h0m4 0h0m3 0h0m47 0h0m6 0h0m9 0h0m-69 1h0m7 0h0m-6 1h0m61 0h0m4 0h0m28 0h0m-91 1h0m1 0h0m7 0h0m42 0h0m7 0h0m5 0h0m-65 1h0m55 0h0m4 0h0m-58 1h0m47 0h0m1 0h0m2 0h0m4 0h0m7 0h0m-15 1h0m2 0h0m1 0h0m-44 1h0m2 0h0m3 0h0m5 0h0m85 0h0m-96 1h0m3 0h0m34 0h0m60 0h0m-93 1h0m2 0h0m4 0h0m22 0h0m6 0h0m-36 1h0m1 0h0m3 0h0m22 0h0m1 0h0m1 0h0m2 0h0m11 0h0m1 0h0m33 0h0m-72 1h0m3 0h0m6 0h0m2 0h0m1 0h0m60 0h0m-70 1h0m21 0h0m-19 1h0m1 0h0m1 0h0m17 0h0m2 0h0m72 0h0m1 0h0m-90 1h0m1 0h0m17 0h0m-24 1h0m1 0h0m2 0h0m0 1h0m-5 1h0m37 6h0m1 1h0"/>
<path stroke="#7d87d7" stroke-width="1.1" stroke-linecap="square" d="M527.5 1122.5h0m8 1h0m-11 1h0m1 0h0m-6 1h0m3 0h0m3 0h0m13 0h0m-19 1h0m7 0h0m-16 1h0m1 0h0m5 0h0m1 0h0m3 0h0m-3 1h0m24 1h0m-22 1h0m23 0h0m-24 1h0m0 1h0m1 1h0m1 0h0m-4 1h0m22 0h0m2 0h0m-31 1h0m15 0h0m15 0h0m-29 1h0m15 1h0m1 0h0m12 0h0m-9 1h0m6 0h0m-5 1h0m3 0h0m-13 1h0m9 0h0m1 0h0m-31 2h0m-10 1h0m1 0h0m1 1h0m3 0h0m1 0h0m7 2h0m-11 1h0m7 0h0m4 0h0m1 0h0m5 0h0m-17 1h0m6 0h0m-1 1h0m-8 2h0m-2 1h0m3 0h0m1 1h0m2 0h0m0 1h0m3 0h0m1 0h0m5 1h0m-12 1h0m2 0h0m-6 1h0m1 0h0m5 0h0m-5 1h0m3 0h0m3 0h0m-13 1h0m6 0h0m24 0h0m-27 1h0m1 0h0m1 0h0m2 0h0m3 0h0m3 0h0m-28 1h0m14 0h0m1 0h0m1 0h0m1 0h0m-13 1h0m4 0h0m1 0h0m5 0h0m-11 1h0m1 0h0m5 0h0m3 0h0m18 0h0m1 0h0m2 0h0m5 0h0m-35 1h0m6 0h0m21 0h0m4 0h0m1 0h0m-37 1h0m1 0h0m33 0h0m-40 1h0m5 0h0m1 0h0m1 0h0m34 0h0m2 0h0m4 0h0m1 0h0m-52 1h0m5 0h0m2 0h0m1 0h0m1 0h0m2 0h0m1 0h0m24 0h0m17 0h0m2 0h0m-49 1h0m46 0h0m-48 1h0m1 0h0m49 0h0m-3 1h0m1 0h0m1 0h0m2 0h0m-54 1h0m3 0h0m1 0h0m47 0h0m2 0h0m1 0h0m-59 1h0m1 0h0m57 0h0m-60 1h0m1 0h0m58 0h0m-7 1h0m4 0h0m3 0h0m-64 1h0m56 0h0m1 0h0m8 0h0m-64 1h0m54 0h0m4 0h0m1 0h0m5 0h0m1 0h0m7 0h0m-69 1h0m4 0h0m56 0h0m-56 1h0m48 0h0m7 0h0m2 0h0m-65 1h0m1 0h0m3 0h0m2 0h0m48 1h0m-50 1h0m3 0h0m40 0h0m1 0h0m2 0h0m2 0h0m1 0h0m4 0h0m-9 1h0m10 0h0m-11 1h0m2 1h0m42 0h0m-89 1h0m2 0h0m42 0h0m1 0h0m2 0h0m1 0h0m-52 1h0m5 0h0m43 0h0m12 0h0m-59 1h0m60 0h0m-19 1h0m2 0h0m-39 1h0m1 0h0m36 0h0m-31 1h0m25 0h0m-2 1h0m1 0h0m-28 1h0m6 0h0m2 0h0m1 0h0m2 0h0m3 0h0m6 0h0m7 0h0m7 0h0m-29 1h0m4 0h0m13 0h0m11 0h0m-24 1h0m1 0h0m11 0h0m-20 5h0"/>
<path stroke="#5d6cd7" stroke-width="1.1" stroke-linecap="square" d="M524.5 1123.5h0m7 1h0m2 0h0m1 0h0m1 0h0m-12 1h0m4 0h0m1 0h0m7 0h0m-14 1h0m2 0h0m1 0h0m12 0h0m3 0h0m-18 1h0m1 0h0m1 0h0m16 0h0m1 1h0m-19 1h0m19 0h0m-20 1h0m17 0h0m1 0h0m3 0h0m-21 1h0m19 0h0m2 1h0m-3 1h0m-16 1h0m14 0h0m1 0h0m2 0h0m-14 1h0m-1 1h0m10 0h0m2 0h0m-13 1h0m1 0h0m3 0h0m2 0h0m2 0h0m3 0h0m1 0h0m1 0h0m1 0h0m-3 1h0m-25 3h0m-14 4h0m-2 10h0m-3 1h0m2 0h0m-14 3h0m10 0h0m-9 1h0m8 0h0m1 0h0m-6 1h0m1 0h0m7 0h0m3 0h0m-12 1h0m1 0h0m1 0h0m2 0h0m1 0h0m2 0h0m5 0h0m-23 1h0m1 0h0m3 1h0m1 0h0m3 0h0m5 0h0m1 0h0m1 0h0m3 0h0m1 0h0m1 0h0m5 0h0m1 0h0m5 0h0m1 0h0m1 0h0m-37 1h0m1 0h0m6 0h0m4 0h0m16 0h0m1 0h0m1 0h0m6 0h0m2 0h0m-33 1h0m2 0h0m8 0h0m2 0h0m1 0h0m3 0h0m8 0h0m2 0h0m5 0h0m-14 1h0m2 0h0m6 0h0m6 0h0m-41 1h0m19 0h0m16 0h0m4 0h0m1 1h0m2 0h0m3 0h0m-10 1h0m5 0h0m1 0h0m-53 1h0m7 0h0m44 0h0m1 0h0m1 0h0m-54 1h0m8 0h0m1 0h0m1 0h0m29 0h0m13 0h0m3 0h0m-51 1h0m5 0h0m41 0h0m2 0h0m4 0h0m1 0h0m-9 1h0m5 0h0m-5 1h0m1 0h0m4 0h0m1 0h0m-51 1h0m44 0h0m1 0h0m-5 1h0m2 0h0m2 0h0m-47 1h0m3 0h0m41 0h0m1 0h0m4 0h0m-50 1h0m4 0h0m39 0h0m16 0h0m2 0h0m-65 1h0m3 0h0m42 0h0m2 0h0m4 0h0m1 0h0m-47 1h0m40 0h0m12 0h0m-52 2h0m43 0h0m-44 1h0m40 0h0m5 0h0m-42 1h0m-3 1h0m1 0h0m34 0h0m3 0h0m1 0h0m-39 1h0m1 0h0m32 0h0m3 0h0m1 0h0m-38 1h0m1 0h0m1 0h0m1 0h0m36 0h0m-32 1h0m2 0h0m19 0h0m5 0h0m-27 1h0m4 0h0m17 0h0m1 0h0m3 0h0m2 0h0m-28 1h0m2 0h0m3 0h0m4 0h0m7 0h0m5 0h0m6 0h0m-26 1h0m5 0h0m5 0h0m1 0h0m1 0h0m1 0h0m1 0h0m3 0h0m1 0h0m1 0h0m-1 1h0m-3 2h0"/>
<path stroke="#3e52d7" stroke-width="1.1" stroke-linecap="square" d="M532.5 1124.5h0m-2 1h0m1 0h0m2 0h0m1 0h0m-14 1h0m12 0h0m1 0h0m2 0h0m-11 1h0m1 0h0m1 0h0m11 0h0m1 0h0m-16 1h0m16 0h0m1 0h0m-16 1h0m15 0h0m1 0h0m-18 1h0m15 0h0m3 0h0m1 0h0m-19 1h0m1 0h0m1 0h0m14 0h0m3 0h0m-18 1h0m14 0h0m1 0h0m2 0h0m-18 1h0m1 0h0m1 0h0m1 0h0m1 0h0m11 0h0m4 0h0m-15 1h0m7 0h0m-6 1h0m6 0h0m1 0h0m1 0h0m2 0h0m-8 1h0m2 0h0m1 0h0m2 0h0m-5 1h0m5 0h0m-46 24h0m4 0h0m1 0h0m-8 1h0m7 0h0m-12 1h0m1 0h0m1 0h0m1 0h0m2 0h0m3 0h0m1 0h0m3 0h0m-21 1h0m1 0h0m8 0h0m7 0h0m1 0h0m4 0h0m-22 1h0m1 0h0m4 0h0m2 0h0m2 0h0m1 0h0m3 0h0m3 0h0m1 0h0m4 0h0m2 0h0m10 0h0m-36 1h0m2 0h0m1 0h0m4 0h0m3 0h0m2 0h0m6 0h0m1 0h0m5 0h0m2 0h0m1 0h0m-24 1h0m2 0h0m2 0h0m1 0h0m1 0h0m1 0h0m3 0h0m1 0h0m1 0h0m5 0h0m4 0h0m1 0h0m3 0h0m2 0h0m1 0h0m1 0h0m1 0h0m1 0h0m-36 1h0m1 0h0m9 0h0m4 0h0m2 0h0m4 0h0m1 0h0m1 0h0m2 0h0m1 0h0m1 0h0m4 0h0m2 0h0m2 0h0m3 0h0m-42 1h0m25 0h0m2 0h0m9 0h0m2 0h0m4 0h0m-43 1h0m33 0h0m1 0h0m4 0h0m3 0h0m3 0h0m-19 1h0m1 0h0m1 0h0m1 0h0m6 0h0m1 0h0m1 0h0m1 0h0m-42 1h0m1 0h0m4 0h0m26 0h0m3 0h0m8 0h0m6 0h0m2 0h0m-51 1h0m3 0h0m29 0h0m10 0h0m2 0h0m4 0h0m2 0h0m-8 1h0m5 0h0m2 0h0m-11 1h0m-39 1h0m37 0h0m3 0h0m2 0h0m-42 1h0m36 0h0m1 0h0m-42 1h0m41 0h0m1 0h0m1 0h0m1 0h0m4 0h0m-6 1h0m3 0h0m2 0h0m1 0h0m-8 1h0m4 0h0m1 0h0m1 0h0m-46 1h0m4 0h0m36 0h0m-37 2h0m1 0h0m32 0h0m4 0h0m-38 1h0m1 0h0m1 0h0m32 0h0m-35 1h0m34 0h0m1 0h0m1 0h0m1 0h0m1 0h0m1 0h0m-9 1h0m2 0h0m4 0h0m-33 1h0m27 0h0m1 0h0m-29 1h0m1 0h0m1 0h0m1 0h0m4 0h0m21 0h0m-27 1h0m1 0h0m5 0h0m15 0h0m3 0h0m2 0h0m1 0h0m-21 1h0m4 0h0m1 0h0m4 0h0m1 0h0m1 0h0m3 0h0m1 0h0m6 0h0m-21 1h0m1 0h0m3 0h0m2 0h0m5 0h0m2 0h0"/>
<path stroke="#1f76de" stroke-width="1.1" stroke-linecap="square" d="M529.5 1125.5h0m-1 1h0m1 0h0m1 0h0m1 0h0m-3 1h0m5 0h0m1 0h0m1 0h0m-12 1h0m1 0h0m13 0h0m-15 1h0m2 0h0m12 0h0m-13 1h0m1 0h0m11 1h0m1 0h0m-13 1h0m1 0h0m11 0h0m-9 2h0m4 0h0m1 0h0m3 0h0m-7 1h0m3 0h0m-3 1h0m2 0h0m-37 26h0m-12 2h0m1 0h0m-6 1h0m-8 1h0m8 0h0m4 0h0m12 0h0m-24 1h0m1 0h0m4 0h0m6 0h0m5 0h0m1 0h0m8 0h0m1 0h0m-27 1h0m3 0h0m1 0h0m1 0h0m5 0h0m5 0h0m2 0h0m10 0h0m4 0h0m-37 1h0m4 0h0m1 0h0m9 0h0m1 0h0m4 0h0m1 0h0m3 0h0m4 0h0m3 0h0m2 0h0m1 0h0m5 0h0m-39 1h0m5 0h0m18 0h0m1 0h0m1 0h0m1 0h0m1 0h0m1 0h0m3 0h0m3 0h0m1 0h0m3 0h0m1 0h0m-16 1h0m5 0h0m1 0h0m1 0h0m1 0h0m6 0h0m2 0h0m-39 1h0m23 0h0m6 0h0m3 0h0m1 0h0m1 0h0m3 0h0m1 0h0m-44 1h0m1 0h0m3 0h0m1 0h0m25 0h0m3 0h0m1 0h0m5 0h0m1 0h0m-41 1h0m32 0h0m1 0h0m1 0h0m4 0h0m1 0h0m2 0h0m-42 1h0m34 0h0m3 0h0m1 0h0m2 0h0m1 0h0m1 0h0m-7 1h0m1 0h0m5 0h0m-40 1h0m34 0h0m3 0h0m-37 1h0m-1 1h0m34 0h0m1 0h0m-4 1h0m1 0h0m1 0h0m1 0h0m-1 1h0m1 0h0m-38 1h0m3 0h0m1 0h0m30 0h0m1 0h0m2 0h0m2 0h0m-35 1h0m29 0h0m4 0h0m1 0h0m-34 1h0m2 0h0m28 0h0m3 0h0m1 0h0m-34 1h0m1 0h0m25 0h0m2 0h0m1 0h0m-28 2h0m4 0h0m-3 1h0m4 0h0m14 0h0m1 0h0m1 0h0m1 0h0m1 0h0m1 0h0m-19 1h0m3 0h0m1 0h0m5 0h0m4 0h0m-13 1h0m1 0h0m4 0h0m1 0h0m1 0h0m4 0h0m1 0h0m-6 1h0"/>
<path stroke="#00a0e6" stroke-width="1.1" stroke-linecap="square" d="M529.5 1127.5h0m2 0h0m1 0h0m-7 1h0m1 0h0m2 0h0m4 0h0m2 0h0m1 0h0m1 0h0m-11 1h0m2 0h0m1 0h0m7 0h0m-1 1h0m-10 1h0m1 1h0m1 0h0m0 1h0m1 0h0m1 0h0m1 0h0m1 0h0m1 0h0m1 0h0m1 0h0m1 0h0m1 0h0m-8 1h0m1 0h0m1 0h0m6 0h0m-7 1h0m-61 33h0m5 0h0m1 0h0m4 0h0m5 0h0m-21 1h0m1 0h0m1 0h0m3 0h0m1 0h0m1 0h0m1 0h0m1 0h0m2 0h0m1 0h0m3 0h0m1 0h0m1 0h0m3 0h0m1 0h0m7 0h0m-27 1h0m1 0h0m2 0h0m1 0h0m1 0h0m1 0h0m5 0h0m1 0h0m5 0h0m1 0h0m1 0h0m7 0h0m1 0h0m-30 1h0m1 0h0m3 0h0m14 0h0m4 0h0m16 0h0m-37 1h0m29 0h0m1 0h0m-31 1h0m29 0h0m1 0h0m1 0h0m1 0h0m-38 1h0m1 0h0m2 0h0m27 0h0m5 0h0m1 0h0m3 0h0m-40 1h0m1 0h0m1 0h0m28 0h0m1 0h0m1 0h0m2 0h0m1 0h0m-35 1h0m1 0h0m1 0h0m28 0h0m1 0h0m1 0h0m1 0h0m-32 1h0m1 0h0m28 0h0m1 0h0m2 0h0m-32 1h0m31 0h0m1 0h0m-33 1h0m1 0h0m28 0h0m1 0h0m1 0h0m1 0h0m-33 1h0m29 0h0m1 0h0m0 1h0m1 0h0m1 0h0m-31 1h0m26 0h0m1 0h0m1 0h0m3 0h0m-31 1h0m1 0h0m26 0h0m4 0h0m-31 1h0m2 0h0m25 0h0m1 0h0m-27 1h0m1 0h0m24 0h0m-26 1h0m1 0h0m2 0h0m1 0h0m17 0h0m3 0h0m-22 1h0m1 0h0m2 0h0m1 0h0m15 0h0m1 0h0m1 0h0m1 0h0m-22 1h0m4 0h0m1 0h0m1 0h0m4 0h0m1 0h0m2 0h0m1 0h0m1 0h0m1 0h0m-12 1h0m1 0h0m3 0h0m1 0h0m1 0h0m1 0h0m2 0h0m1 0h0"/>
<path stroke="#0eb3a2" stroke-width="1.1" stroke-linecap="square" d="M530.5 1127.5h0m1 1h0m2 0h0m-7 1h0m5 0h0m1 0h0m1 0h0m1 0h0m-9 1h0m1 0h0m1 0h0m1 0h0m1 0h0m4 0h0m2 0h0m-10 1h0m1 0h0m1 0h0m1 0h0m1 0h0m4 0h0m1 0h0m-7 1h0m1 0h0m1 0h0m1 0h0m1 0h0m1 0h0m1 0h0m1 0h0m-63 37h0m-11 1h0m1 0h0m8 0h0m1 0h0m1 0h0m1 0h0m3 0h0m1 0h0m1 0h0m1 0h0m-16 1h0m3 0h0m1 0h0m1 0h0m5 0h0m1 0h0m1 0h0m1 0h0m1 0h0m2 0h0m1 0h0m1 0h0m-19 1h0m1 0h0m1 0h0m1 0h0m12 0h0m1 0h0m1 0h0m2 0h0m1 0h0m-21 1h0m16 0h0m1 0h0m2 0h0m1 0h0m1 0h0m1 0h0m-24 1h0m21 0h0m1 0h0m1 0h0m1 0h0m5 0h0m-32 1h0m1 0h0m1 0h0m21 0h0m1 0h0m1 0h0m1 0h0m-26 1h0m23 0h0m3 0h0m-26 1h0m26 0h0m3 0h0m-30 1h0m26 0h0m2 0h0m1 0h0m-29 1h0m26 0h0m-28 1h0m1 0h0m26 0h0m-27 1h0m26 0h0m1 0h0m1 0h0m-27 1h0m1 0h0m23 0h0m-23 1h0m23 0h0m1 0h0m-2 1h0m1 0h0m1 0h0m-23 1h0m1 0h0m17 0h0m1 0h0m1 0h0m1 0h0m-22 1h0m3 0h0m1 0h0m1 0h0m13 0h0m2 0h0m1 0h0m-22 1h0m7 0h0m1 0h0m3 0h0m3 0h0m1 0h0m4 0h0m-11 1h0m1 0h0m1 0h0m3 0h0"/>
<path stroke="#1cc65f" stroke-width="1.1" stroke-linecap="square" d="M529.5 1128.5h0m1 0h0m-1 1h0m1 0h0m0 1h0m1 0h0m1 0h0m-2 1h0m1 0h0m1 0h0m-64 40h0m1 0h0m1 0h0m1 0h0m-6 1h0m1 0h0m1 0h0m6 0h0m1 0h0m1 0h0m4 0h0m-18 1h0m1 0h0m13 0h0m3 0h0m-19 1h0m1 0h0m15 0h0m1 0h0m1 0h0m1 0h0m-20 1h0m18 0h0m1 0h0m-21 1h0m1 0h0m20 0h0m2 0h0m1 0h0m-24 1h0m21 0h0m1 0h0m1 0h0m1 0h0m-25 1h0m23 0h0m1 0h0m0 1h0m-25 1h0m24 0h0m-25 1h0m1 0h0m1 0h0m22 0h0m-22 1h0m1 0h0m20 0h0m-21 1h0m1 0h0m20 0h0m-21 1h0m1 0h0m17 0h0m1 0h0m1 0h0m-18 1h0m15 0h0m-12 1h0m1 0h0m6 0h0m1 0h0m3 0h0m-9 1h0m1 0h0m2 0h0m1 0h0m3 0h0m1 0h0m1 0h0"/>
<path stroke="#63d239" stroke-width="1.1" stroke-linecap="square" d="M468.5 1172.5h0m1 0h0m2 0h0m1 0h0m-9 1h0m1 0h0m1 0h0m1 0h0m6 0h0m1 0h0m1 0h0m-13 1h0m1 0h0m1 0h0m9 0h0m1 0h0m1 0h0m-15 1h0m14 0h0m1 0h0m1 0h0m-17 1h0m16 0h0m1 0h0m1 0h0m-19 1h0m18 0h0m1 0h0m-20 1h0m1 0h0m19 0h0m1 0h0m-22 1h0m1 0h0m1 0h0m20 0h0m1 0h0m-23 1h0m1 0h0m2 0h0m18 0h0m1 0h0m-21 1h0m1 0h0m1 0h0m17 0h0m1 0h0m-19 1h0m2 0h0m15 0h0m1 0h0m-18 1h0m2 0h0m13 0h0m1 0h0m1 0h0m1 0h0m-18 1h0m1 0h0m13 0h0m1 0h0m-14 1h0m1 0h0m1 0h0m8 0h0m2 0h0m1 0h0m-9 1h0m1 0h0m1 0h0m1 0h0m1 0h0m3 0h0m1 0h0"/>
<path stroke="#afdd15" stroke-width="1.1" stroke-linecap="square" d="M470.5 1172.5h0m-3 1h0m1 0h0m1 0h0m1 0h0m1 0h0m-7 1h0m1 0h0m4 0h0m1 0h0m1 0h0m-11 1h0m1 0h0m1 0h0m1 0h0m1 0h0m8 0h0m-13 1h0m1 0h0m1 0h0m12 0h0m-15 1h0m1 0h0m1 0h0m14 0h0m-16 1h0m1 0h0m15 0h0m1 0h0m-17 1h0m1 0h0m16 0h0m1 0h0m-19 1h0m2 0h0m15 0h0m1 0h0m-16 1h0m14 0h0m1 0h0m-16 1h0m2 0h0m11 0h0m1 0h0m1 0h0m-15 1h0m2 0h0m1 0h0m9 0h0m1 0h0m-12 1h0m1 0h0m1 0h0m1 0h0m1 0h0m1 0h0m5 0h0m1 0h0m-9 1h0m1 0h0m1 0h0m1 0h0m1 0h0m1 0h0m1 0h0m2 0h0"/>
<path stroke="#dbc906" stroke-width="1.1" stroke-linecap="square" d="M466.5 1174.5h0m1 0h0m1 0h0m-3 1h0m1 0h0m1 0h0m1 0h0m1 0h0m1 0h0m1 0h0m-9 1h0m1 0h0m1 0h0m1 0h0m1 0h0m1 0h0m5 0h0m-11 1h0m2 0h0m1 0h0m9 0h0m-13 1h0m1 0h0m11 0h0m1 0h0m-13 1h0m1 0h0m10 0h0m1 0h0m1 0h0m1 0h0m-14 1h0m1 0h0m10 0h0m1 0h0m1 0h0m-13 1h0m1 0h0m1 0h0m8 0h0m1 0h0m1 0h0m-11 1h0m1 0h0m2 0h0m6 0h0m-8 1h0m1 0h0m1 0h0m1 0h0m3 0h0m1 0h0m-4 1h0m1 0h0m1 0h0m1 0h0"/>
<path stroke="#f8a801" stroke-width="1.1" stroke-linecap="square" d="M468.5 1176.5h0m1 0h0m1 0h0m1 0h0m-9 1h0m3 0h0m1 0h0m1 0h0m1 0h0m1 0h0m1 0h0m1 0h0m1 0h0m-10 1h0m1 0h0m1 0h0m1 0h0m1 0h0m1 0h0m1 0h0m1 0h0m1 0h0m1 0h0m-9 1h0m1 0h0m1 0h0m1 0h0m1 0h0m1 0h0m1 0h0m1 0h0m1 0h0m-8 1h0m1 0h0m1 0h0m2 0h0m1 0h0m1 0h0m1 0h0m1 0h0m-7 1h0m1 0h0m1 0h0m1 0h0m1 0h0m1 0h0m1 0h0m-6 1h0m2 0h0m1 0h0m1 0h0m1 0h0m1 0h0m-3 1h0m1 0h0"/>
<path stroke="#f86c00" stroke-width="1.1" stroke-linecap="square" d="M465.5 1180.5h0"/>
<line x1="512.5" y1="1078.75" x2="512.5" y2="1242" stroke="#555" stroke-width="1.1"/>
<line x1="429.5" y1="1160.75" x2="593" y2="1160.75" stroke="#555" stroke-width="1.1"/>
<rect x="429.5" y="1078.75" width="163.5" height="163.25" fill="none" stroke="#666" stroke-width="1.3"/>
<text x="433" y="1087.75" font-size="7" style='font-weight:normal;font-family:"Liberation Sans";fill:#222;'>Q1</text>
<text x="433" y="1098.75" font-size="7" style='font-weight:normal;font-family:"Liberation Sans";fill:#222;'>3.82%</text>
<text x="590" y="1087.75" font-size="7" text-anchor="end" style='font-weight:normal;font-family:"Liberation Sans";fill:#222;'>Q2</text>
<text x="590" y="1098.75" font-size="7" text-anchor="end" style='font-weight:normal;font-family:"Liberation Sans";fill:#222;'>9.53%</text>
<text x="433" y="1228" font-size="7" style='font-weight:normal;font-family:"Liberation Sans";fill:#222;'>Q4</text>
<text x="433" y="1239" font-size="7" style='font-weight:normal;font-family:"Liberation Sans";fill:#222;'>84.5%</text>
<text x="590" y="1228" font-size="7" text-anchor="end" style='font-weight:normal;font-family:"Liberation Sans";fill:#222;'>Q3</text>
<text x="590" y="1239" font-size="7" text-anchor="end" style='font-weight:normal;font-family:"Liberation Sans";fill:#222;'>2.14%</text>
<line x1="462.5" y1="1242" x2="462.5" y2="1245" stroke="#777" stroke-width="0.8"/>
<text x="461.5" y="1257" font-size="7.5" text-anchor="middle" style='font-family:"Liberation Sans";fill:#333;'>10</text>
<text x="466" y="1251.5" font-size="5.5" style='font-family:"Liberation Sans";fill:#333;'>1</text>
<line x1="492.5" y1="1242" x2="492.5" y2="1245" stroke="#777" stroke-width="0.8"/>
<text x="491.5" y="1257" font-size="7.5" text-anchor="middle" style='font-family:"Liberation Sans";fill:#333;'>10</text>
<text x="496" y="1251.5" font-size="5.5" style='font-family:"Liberation Sans";fill:#333;'>2</text>
<line x1="522.5" y1="1242" x2="522.5" y2="1245" stroke="#777" stroke-width="0.8"/>
<text x="521.5" y="1257" font-size="7.5" text-anchor="middle" style='font-family:"Liberation Sans";fill:#333;'>10</text>
<text x="526" y="1251.5" font-size="5.5" style='font-family:"Liberation Sans";fill:#333;'>3</text>
<line x1="552.5" y1="1242" x2="552.5" y2="1245" stroke="#777" stroke-width="0.8"/>
<text x="551.5" y="1257" font-size="7.5" text-anchor="middle" style='font-family:"Liberation Sans";fill:#333;'>10</text>
<text x="556" y="1251.5" font-size="5.5" style='font-family:"Liberation Sans";fill:#333;'>4</text>
<line x1="583.75" y1="1242" x2="583.75" y2="1245" stroke="#777" stroke-width="0.8"/>
<text x="582.75" y="1257" font-size="7.5" text-anchor="middle" style='font-family:"Liberation Sans";fill:#333;'>10</text>
<text x="587.25" y="1251.5" font-size="5.5" style='font-family:"Liberation Sans";fill:#333;'>5</text>
<line x1="426.5" y1="1088" x2="429.5" y2="1088" stroke="#777" stroke-width="0.8"/>
<text x="422.5" y="1091" font-size="7.5" text-anchor="end" style='font-family:"Liberation Sans";fill:#333;'>10</text>
<text x="422.5" y="1086" font-size="5.5" style='font-family:"Liberation Sans";fill:#333;'>4</text>
<line x1="426.5" y1="1120" x2="429.5" y2="1120" stroke="#777" stroke-width="0.8"/>
<text x="422.5" y="1123" font-size="7.5" text-anchor="end" style='font-family:"Liberation Sans";fill:#333;'>10</text>
<text x="422.5" y="1118" font-size="5.5" style='font-family:"Liberation Sans";fill:#333;'>3</text>
<line x1="426.5" y1="1160" x2="429.5" y2="1160" stroke="#777" stroke-width="0.8"/>
<text x="422.5" y="1163" font-size="7.5" text-anchor="end" style='font-family:"Liberation Sans";fill:#333;'>10</text>
<text x="422.5" y="1158" font-size="5.5" style='font-family:"Liberation Sans";fill:#333;'>2</text>
<line x1="426.5" y1="1200" x2="429.5" y2="1200" stroke="#777" stroke-width="0.8"/>
<text x="422.5" y="1203" font-size="7.5" text-anchor="end" style='font-family:"Liberation Sans";fill:#333;'>10</text>
<text x="422.5" y="1198" font-size="5.5" style='font-family:"Liberation Sans";fill:#333;'>1</text>
<line x1="429.5" y1="1242" x2="429.5" y2="1243.5" stroke="#999" stroke-width="0.6"/>
<line x1="434.5" y1="1242" x2="434.5" y2="1243.5" stroke="#999" stroke-width="0.6"/>
<line x1="439.5" y1="1242" x2="439.5" y2="1243.5" stroke="#999" stroke-width="0.6"/>
<line x1="444.5" y1="1242" x2="444.5" y2="1243.5" stroke="#999" stroke-width="0.6"/>
<line x1="449.5" y1="1242" x2="449.5" y2="1243.5" stroke="#999" stroke-width="0.6"/>
<line x1="454.5" y1="1242" x2="454.5" y2="1243.5" stroke="#999" stroke-width="0.6"/>
<line x1="459.5" y1="1242" x2="459.5" y2="1243.5" stroke="#999" stroke-width="0.6"/>
<line x1="464.5" y1="1242" x2="464.5" y2="1243.5" stroke="#999" stroke-width="0.6"/>
<line x1="469.5" y1="1242" x2="469.5" y2="1243.5" stroke="#999" stroke-width="0.6"/>
<line x1="474.5" y1="1242" x2="474.5" y2="1243.5" stroke="#999" stroke-width="0.6"/>
<line x1="479.5" y1="1242" x2="479.5" y2="1243.5" stroke="#999" stroke-width="0.6"/>
<line x1="484.5" y1="1242" x2="484.5" y2="1243.5" stroke="#999" stroke-width="0.6"/>
<line x1="489.5" y1="1242" x2="489.5" y2="1243.5" stroke="#999" stroke-width="0.6"/>
<line x1="494.5" y1="1242" x2="494.5" y2="1243.5" stroke="#999" stroke-width="0.6"/>
<line x1="499.5" y1="1242" x2="499.5" y2="1243.5" stroke="#999" stroke-width="0.6"/>
<line x1="504.5" y1="1242" x2="504.5" y2="1243.5" stroke="#999" stroke-width="0.6"/>
<line x1="509.5" y1="1242" x2="509.5" y2="1243.5" stroke="#999" stroke-width="0.6"/>
<line x1="514.5" y1="1242" x2="514.5" y2="1243.5" stroke="#999" stroke-width="0.6"/>
<line x1="519.5" y1="1242" x2="519.5" y2="1243.5" stroke="#999" stroke-width="0.6"/>
<line x1="524.5" y1="1242" x2="524.5" y2="1243.5" stroke="#999" stroke-width="0.6"/>
<line x1="529.5" y1="1242" x2="529.5" y2="1243.5" stroke="#999" stroke-width="0.6"/>
<line x1="534.5" y1="1242" x2="534.5" y2="1243.5" stroke="#999" stroke-width="0.6"/>
<line x1="539.5" y1="1242" x2="539.5" y2="1243.5" stroke="#999" stroke-width="0.6"/>
<line x1="544.5" y1="1242" x2="544.5" y2="1243.5" stroke="#999" stroke-width="0.6"/>
<line x1="549.5" y1="1242" x2="549.5" y2="1243.5" stroke="#999" stroke-width="0.6"/>
<line x1="554.5" y1="1242" x2="554.5" y2="1243.5" stroke="#999" stroke-width="0.6"/>
<line x1="559.5" y1="1242" x2="559.5" y2="1243.5" stroke="#999" stroke-width="0.6"/>
<line x1="564.5" y1="1242" x2="564.5" y2="1243.5" stroke="#999" stroke-width="0.6"/>
<line x1="569.5" y1="1242" x2="569.5" y2="1243.5" stroke="#999" stroke-width="0.6"/>
<line x1="574.5" y1="1242" x2="574.5" y2="1243.5" stroke="#999" stroke-width="0.6"/>
<line x1="579.5" y1="1242" x2="579.5" y2="1243.5" stroke="#999" stroke-width="0.6"/>
<line x1="584.5" y1="1242" x2="584.5" y2="1243.5" stroke="#999" stroke-width="0.6"/>
<line x1="428" y1="1078.75" x2="429.5" y2="1078.75" stroke="#999" stroke-width="0.6"/>
<line x1="428" y1="1083.75" x2="429.5" y2="1083.75" stroke="#999" stroke-width="0.6"/>
<line x1="428" y1="1088.75" x2="429.5" y2="1088.75" stroke="#999" stroke-width="0.6"/>
<line x1="428" y1="1093.75" x2="429.5" y2="1093.75" stroke="#999" stroke-width="0.6"/>
<line x1="428" y1="1098.75" x2="429.5" y2="1098.75" stroke="#999" stroke-width="0.6"/>
<line x1="428" y1="1103.75" x2="429.5" y2="1103.75" stroke="#999" stroke-width="0.6"/>
<line x1="428" y1="1108.75" x2="429.5" y2="1108.75" stroke="#999" stroke-width="0.6"/>
<line x1="428" y1="1113.75" x2="429.5" y2="1113.75" stroke="#999" stroke-width="0.6"/>
<line x1="428" y1="1118.75" x2="429.5" y2="1118.75" stroke="#999" stroke-width="0.6"/>
<line x1="428" y1="1123.75" x2="429.5" y2="1123.75" stroke="#999" stroke-width="0.6"/>
<line x1="428" y1="1128.75" x2="429.5" y2="1128.75" stroke="#999" stroke-width="0.6"/>
<line x1="428" y1="1133.75" x2="429.5" y2="1133.75" stroke="#999" stroke-width="0.6"/>
<line x1="428" y1="1138.75" x2="429.5" y2="1138.75" stroke="#999" stroke-width="0.6"/>
<line x1="428" y1="1143.75" x2="429.5" y2="1143.75" stroke="#999" stroke-width="0.6"/>
<line x1="428" y1="1148.75" x2="429.5" y2="1148.75" stroke="#999" stroke-width="0.6"/>
<line x1="428" y1="1153.75" x2="429.5" y2="1153.75" stroke="#999" stroke-width="0.6"/>
<line x1="428" y1="1158.75" x2="429.5" y2="1158.75" stroke="#999" stroke-width="0.6"/>
<line x1="428" y1="1163.75" x2="429.5" y2="1163.75" stroke="#999" stroke-width="0.6"/>
<line x1="428" y1="1168.75" x2="429.5" y2="1168.75" stroke="#999" stroke-width="0.6"/>
<line x1="428" y1="1173.75" x2="429.5" y2="1173.75" stroke="#999" stroke-width="0.6"/>
<line x1="428" y1="1178.75" x2="429.5" y2="1178.75" stroke="#999" stroke-width="0.6"/>
<line x1="428" y1="1183.75" x2="429.5" y2="1183.75" stroke="#999" stroke-width="0.6"/>
<line x1="428" y1="1188.75" x2="429.5" y2="1188.75" stroke="#999" stroke-width="0.6"/>
<line x1="428" y1="1193.75" x2="429.5" y2="1193.75" stroke="#999" stroke-width="0.6"/>
<line x1="428" y1="1198.75" x2="429.5" y2="1198.75" stroke="#999" stroke-width="0.6"/>
<line x1="428" y1="1203.75" x2="429.5" y2="1203.75" stroke="#999" stroke-width="0.6"/>
<line x1="428" y1="1208.75" x2="429.5" y2="1208.75" stroke="#999" stroke-width="0.6"/>
<line x1="428" y1="1213.75" x2="429.5" y2="1213.75" stroke="#999" stroke-width="0.6"/>
<line x1="428" y1="1218.75" x2="429.5" y2="1218.75" stroke="#999" stroke-width="0.6"/>
<line x1="428" y1="1223.75" x2="429.5" y2="1223.75" stroke="#999" stroke-width="0.6"/>
<line x1="428" y1="1228.75" x2="429.5" y2="1228.75" stroke="#999" stroke-width="0.6"/>
<line x1="428" y1="1233.75" x2="429.5" y2="1233.75" stroke="#999" stroke-width="0.6"/>
<text x="130" y="1279" font-size="13.5" text-anchor="middle">pcDNA3.1</text>
<text x="330" y="1279" font-size="13.5" text-anchor="middle">pcDNA3.1-lnc SFFD</text>
<text x="457" y="1277" font-size="13.5">pcDNA3.1-lnc SFFD+</text>
<text x="457" y="1292" font-size="13.5">miR-202-3p mimic</text>
<text x="14" y="1326" font-size="21">N</text>
<rect x="48.75" y="1329" width="161.25" height="162.5" fill="#fff"/>
<path stroke="#a5abd8" stroke-width="1.1" stroke-linecap="square" d="M201.5 1330.5h0m4 0h0m-17 1h0m7 0h0m-33 2h0m35 0h0m-37 1h0m32 2h0m5 3h0m-3 1h0m9 0h0m-17 1h0m3 0h0m-37 1h0m2 1h0m31 0h0m12 1h0m-31 1h0m6 0h0m34 0h0m-16 1h0m10 0h0m-19 1h0m3 0h0m-22 1h0m14 0h0m-17 1h0m14 0h0m32 0h0m-44 1h0m7 0h0m10 0h0m5 1h0m9 0h0m-17 1h0m-27 1h0m25 0h0m7 0h0m-26 1h0m16 0h0m12 0h0m24 0h0m-59 1h0m10 0h0m15 0h0m29 0h0m-119 1h0m100 0h0m5 0h0m8 0h0m-39 1h0m2 0h0m46 0h0m-76 1h0m8 0h0m19 1h0m5 0h0m5 0h0m-31 1h0m8 0h0m21 0h0m-8 1h0m19 0h0m-109 1h0m84 0h0m-48 1h0m15 0h0m18 0h0m46 0h0m22 0h0m-50 1h0m7 0h0m41 0h0m-105 1h0m73 0h0m-17 1h0m-24 2h0m-36 1h0m56 0h0m-8 1h0m10 0h0m-14 2h0m18 0h0m46 1h0m-130 1h0m54 0h0m64 0h0m8 0h0m2 0h0m-83 1h0m12 0h0m13 0h0m50 0h0m13 0h0m-121 1h0m53 0h0m14 0h0m40 1h0m2 0h0m8 0h0m-58 1h0m-51 1h0m57 0h0m4 0h0m39 0h0m-75 1h0m86 0h0m-94 2h0m32 0h0m57 0h0m-115 1h0m47 0h0m13 0h0m58 0h0m-81 1h0m69 0h0m-63 1h0m23 0h0m43 0h0m-93 1h0m8 0h0m11 0h0m13 0h0m-26 1h0m11 0h0m13 0h0m60 0h0m-62 1h0m75 0h0m5 0h0m-86 1h0m71 0h0m-126 1h0m29 0h0m85 0h0m-113 2h0m14 0h0m44 0h0m29 0h0m-35 1h0m10 0h0m51 0h0m20 0h0m-102 1h0m43 0h0m-51 1h0m37 0h0m46 0h0m-74 1h0m92 0h0m16 0h0m-69 1h0m33 0h0m-63 1h0m6 0h0m13 0h0m34 0h0m-97 1h0m91 0h0m12 2h0m8 0h0m14 0h0m-85 1h0m16 0h0m45 0h0m-22 1h0m-57 1h0m20 0h0m11 0h0m58 0h0m-85 1h0m89 1h0m11 0h0m-116 1h0m62 0h0m24 0h0m2 0h0m24 0h0m-84 2h0m13 0h0m63 0h0m13 0h0m-92 1h0m74 0h0m-111 1h0m40 0h0m13 0h0m46 0h0m4 0h0m-58 1h0m27 0h0m14 0h0m2 0h0m-75 1h0m55 0h0m16 0h0m-74 1h0m5 0h0m72 0h0m21 0h0m-78 2h0m14 0h0m48 0h0m25 0h0m-112 1h0m32 0h0m4 0h0m31 0h0m24 0h0m2 0h0m-71 1h0m19 0h0m-14 1h0m21 0h0m4 0h0m16 0h0m33 0h0m16 0h0m-101 1h0m71 0h0m7 0h0m-45 1h0m-44 1h0m12 0h0m25 0h0m8 1h0m-43 1h0m9 0h0m9 0h0m65 0h0m5 0h0m-67 1h0m80 0h0m-58 1h0m25 0h0m6 0h0m20 0h0m-83 1h0m34 0h0m8 0h0m9 0h0m23 0h0m-78 1h0m28 0h0m48 0h0m-55 1h0m46 0h0m4 0h0m3 0h0m5 0h0m-76 1h0m14 0h0m44 0h0m24 0h0m-55 1h0m-27 1h0m92 0h0m-101 1h0m61 0h0m3 0h0m10 0h0m13 0h0m30 0h0m-33 1h0m-23 1h0m3 0h0m-67 1h0m3 0h0m4 0h0m9 0h0m64 0h0m-58 1h0m65 0h0m-92 2h0m23 0h0m-26 2h0m22 0h0m2 0h0m79 0h0m-19 1h0m-70 1h0m6 0h0m60 0h0m-70 1h0m121 0h0m-49 1h0m-93 1h0m105 0h0m-22 1h0m8 0h0m-19 1h0m77 0h0m-132 1h0m62 0h0m18 0h0m-10 1h0m-59 1h0m50 1h0m11 1h0m44 0h0m-115 2h0m5 0h0m-7 1h0m1 2h0m48 0h0m5 0h0m4 1h0m54 0h0m-118 1h0m-2 1h0m65 0h0m-62 1h0m56 1h0m2 1h0m80 0h0m-147 2h0m56 0h0m18 0h0m22 0h0m11 0h0m-54 1h0m-52 1h0m72 0h0m-8 1h0m3 0h0m2 0h0m55 0h0m-123 1h0m55 0h0m20 0h0m58 0h0m-130 1h0m-2 1h0m51 0h0m-53 1h0m60 0h0m24 3h0m24 0h0m-43 1h0m-65 1h0m45 0h0m-30 1h0m15 0h0m11 0h0m-13 1h0m-23 1h0m19 0h0m8 0h0m104 0h0m-99 2h0m-18 1h0m-4 1h0m15 0h0m35 1h0m-62 1h0m130 0h0m-122 1h0m2 1h0m36 0h0m19 0h0"/>
<path stroke="#949bd7" stroke-width="1.1" stroke-linecap="square" d="M183.5 1337.5h0m1 0h0m2 9h0m1 0h0m0 2h0m1 0h0m-23 5h0m27 0h0m-26 1h0m26 0h0m6 0h0m-30 1h0m9 0h0m-107 1h0m61 0h0m20 0h0m18 0h0m23 0h0m1 0h0m-122 1h0m59 0h0m21 0h0m21 0h0m6 0h0m6 0h0m-17 1h0m11 0h0m1 0h0m5 0h0m6 0h0m6 0h0m3 0h0m1 0h0m-53 1h0m21 0h0m2 0h0m12 0h0m2 0h0m6 0h0m7 0h0m-52 1h0m2 0h0m24 0h0m6 0h0m2 0h0m1 0h0m9 0h0m2 0h0m5 0h0m1 0h0m-51 1h0m22 0h0m11 0h0m9 0h0m-27 1h0m10 0h0m1 0h0m15 0h0m-26 1h0m6 0h0m2 0h0m1 0h0m3 0h0m5 0h0m15 0h0m2 0h0m1 0h0m-41 1h0m1 0h0m7 0h0m1 0h0m1 0h0m17 0h0m3 0h0m6 0h0m2 0h0m-21 1h0m7 0h0m6 0h0m5 0h0m3 0h0m-37 1h0m1 0h0m15 0h0m9 0h0m6 0h0m2 0h0m1 0h0m-47 1h0m17 0h0m11 0h0m17 0h0m6 0h0m3 0h0m-53 1h0m12 0h0m6 0h0m1 0h0m13 0h0m18 0h0m-10 1h0m1 0h0m1 0h0m2 0h0m9 0h0m-42 1h0m2 0h0m33 0h0m-39 1h0m35 0h0m1 0h0m3 0h0m1 0h0m-48 1h0m5 0h0m34 0h0m4 0h0m3 0h0m4 0h0m-51 1h0m2 0h0m4 0h0m12 0h0m24 0h0m5 0h0m-45 1h0m7 0h0m2 0h0m1 0h0m4 0h0m2 0h0m25 0h0m-43 1h0m1 0h0m9 0h0m2 0h0m2 0h0m1 0h0m23 0h0m5 0h0m8 0h0m-52 1h0m2 0h0m2 0h0m9 0h0m17 0h0m4 0h0m-104 1h0m83 0h0m27 0h0m13 0h0m-42 1h0m30 0h0m-54 1h0m1 0h0m5 0h0m4 0h0m15 0h0m2 0h0m31 0h0m-51 1h0m3 0h0m1 0h0m4 0h0m5 0h0m5 0h0m17 0h0m13 0h0m3 0h0m-54 1h0m3 0h0m7 0h0m1 0h0m5 0h0m2 0h0m21 0h0m10 0h0m3 0h0m2 0h0m-54 1h0m4 0h0m9 0h0m6 0h0m16 0h0m4 0h0m5 0h0m2 0h0m7 0h0m5 0h0m-66 1h0m10 0h0m2 0h0m33 0h0m9 0h0m4 0h0m-61 1h0m4 0h0m4 0h0m1 0h0m13 0h0m5 0h0m35 0h0m8 0h0m-71 1h0m13 0h0m7 0h0m1 0h0m3 0h0m6 0h0m1 0h0m26 0h0m7 0h0m9 0h0m-73 1h0m20 0h0m2 0h0m8 0h0m20 0h0m1 0h0m11 0h0m12 0h0m-52 1h0m17 0h0m2 0h0m2 0h0m11 0h0m6 0h0m3 0h0m-49 1h0m1 0h0m1 0h0m7 0h0m4 0h0m4 0h0m1 0h0m5 0h0m3 0h0m7 0h0m2 0h0m4 0h0m6 0h0m4 0h0m-38 1h0m14 0h0m3 0h0m20 0h0m-59 1h0m3 0h0m3 0h0m4 0h0m1 0h0m6 0h0m4 0h0m8 0h0m8 0h0m1 0h0m2 0h0m11 0h0m-54 1h0m5 0h0m14 0h0m5 0h0m12 0h0m5 0h0m3 0h0m2 0h0m3 0h0m-49 1h0m4 0h0m9 0h0m3 0h0m3 0h0m2 0h0m18 0h0m2 0h0m6 0h0m4 0h0m3 0h0m-33 1h0m8 0h0m4 0h0m9 0h0m2 0h0m9 0h0m-107 1h0m83 0h0m6 0h0m1 0h0m9 0h0m7 0h0m1 0h0m21 0h0m-127 1h0m45 0h0m21 0h0m17 0h0m22 0h0m20 0h0m1 0h0m-80 1h0m9 0h0m5 0h0m4 0h0m11 0h0m5 0h0m12 0h0m4 0h0m2 0h0m12 0h0m-61 1h0m1 0h0m11 0h0m15 0h0m4 0h0m31 0h0m-58 1h0m2 0h0m8 0h0m1 0h0m1 0h0m9 0h0m1 0h0m4 0h0m14 0h0m19 0h0m5 0h0m1 0h0m-99 1h0m1 0h0m29 0h0m19 0h0m9 0h0m4 0h0m2 0h0m5 0h0m5 0h0m4 0h0m1 0h0m10 0h0m3 0h0m-68 1h0m4 0h0m1 0h0m4 0h0m11 0h0m5 0h0m7 0h0m13 0h0m11 0h0m10 0h0m-57 1h0m5 0h0m6 0h0m16 0h0m3 0h0m6 0h0m2 0h0m1 0h0m1 0h0m1 0h0m-29 1h0m6 0h0m7 0h0m-32 1h0m22 0h0m2 0h0m10 0h0m3 0h0m1 0h0m4 0h0m2 0h0m1 0h0m1 0h0m1 0h0m-48 1h0m9 0h0m6 0h0m3 0h0m2 0h0m31 0h0m2 0h0m1 0h0m-47 1h0m3 0h0m9 0h0m17 0h0m2 0h0m6 0h0m6 0h0m4 0h0m-68 1h0m16 0h0m3 0h0m2 0h0m2 0h0m4 0h0m1 0h0m2 0h0m4 0h0m11 0h0m19 0h0m-63 1h0m16 0h0m1 0h0m4 0h0m3 0h0m17 0h0m1 0h0m1 0h0m5 0h0m2 0h0m1 0h0m1 0h0m1 0h0m2 0h0m10 0h0m1 0h0m3 0h0m1 0h0m3 0h0m1 0h0m-56 1h0m3 0h0m3 0h0m6 0h0m8 0h0m1 0h0m29 0h0m-50 1h0m4 0h0m3 0h0m1 0h0m5 0h0m18 0h0m2 0h0m6 0h0m-34 1h0m7 0h0m12 0h0m2 0h0m1 0h0m5 0h0m2 0h0m5 0h0m10 0h0m-56 1h0m6 0h0m1 0h0m1 0h0m8 0h0m1 0h0m2 0h0m13 0h0m8 0h0m1 0h0m4 0h0m-45 1h0m9 0h0m5 0h0m6 0h0m4 0h0m1 0h0m2 0h0m5 0h0m27 0h0m-66 1h0m6 0h0m4 0h0m7 0h0m1 0h0m13 0h0m4 0h0m1 0h0m3 0h0m19 0h0m1 0h0m8 0h0m-85 1h0m18 0h0m2 0h0m10 0h0m4 0h0m6 0h0m5 0h0m1 0h0m2 0h0m6 0h0m2 0h0m16 0h0m20 0h0m-93 1h0m32 0h0m7 0h0m11 0h0m16 0h0m8 0h0m-51 1h0m1 0h0m3 0h0m1 0h0m9 0h0m2 0h0m2 0h0m2 0h0m3 0h0m5 0h0m8 0h0m25 0h0m-56 1h0m3 0h0m2 0h0m5 0h0m4 0h0m3 0h0m13 0h0m1 0h0m11 0h0m13 0h0m-46 1h0m3 0h0m12 0h0m6 0h0m3 0h0m8 0h0m1 0h0m-54 1h0m8 0h0m2 0h0m9 0h0m1 0h0m5 0h0m1 0h0m5 0h0m5 0h0m5 0h0m5 0h0m9 0h0m8 0h0m-65 1h0m3 0h0m8 0h0m1 0h0m1 0h0m17 0h0m2 0h0m8 0h0m7 0h0m9 0h0m9 0h0m-65 1h0m4 0h0m1 0h0m9 0h0m4 0h0m10 0h0m4 0h0m3 0h0m4 0h0m8 0h0m1 0h0m-47 1h0m13 0h0m15 0h0m1 0h0m3 0h0m1 0h0m8 0h0m2 0h0m1 0h0m6 0h0m-53 1h0m4 0h0m1 0h0m8 0h0m1 0h0m3 0h0m5 0h0m3 0h0m2 0h0m4 0h0m13 0h0m5 0h0m1 0h0m-51 1h0m1 0h0m28 0h0m16 0h0m5 0h0m-48 1h0m10 0h0m1 0h0m14 0h0m27 0h0m14 0h0m-52 1h0m11 0h0m28 0h0m12 0h0m-70 1h0m20 0h0m8 0h0m9 0h0m1 0h0m-40 1h0m1 0h0m13 0h0m1 0h0m10 0h0m7 0h0m1 0h0m8 0h0m5 0h0m2 0h0m4 0h0m6 0h0m-62 1h0m34 0h0m4 0h0m5 0h0m2 0h0m3 0h0m3 0h0m5 0h0m6 0h0m-63 1h0m8 0h0m12 0h0m2 0h0m11 0h0m4 0h0m1 0h0m1 0h0m3 0h0m3 0h0m4 0h0m1 0h0m2 0h0m5 0h0m-54 1h0m1 0h0m4 0h0m7 0h0m7 0h0m21 0h0m3 0h0m5 0h0m2 0h0m-38 1h0m7 0h0m12 0h0m2 0h0m9 0h0m9 0h0m5 0h0m1 0h0m-42 1h0m11 0h0m2 0h0m2 0h0m4 0h0m30 0h0m1 0h0m-62 1h0m11 0h0m-10 1h0m1 0h0m8 0h0m2 0h0m13 0h0m14 1h0m12 0h0m-41 1h0m2 0h0m35 0h0m3 0h0m2 0h0m2 0h0m-47 1h0m29 0h0m3 0h0m-37 1h0m43 0h0m1 0h0m-47 1h0m1 0h0m8 0h0m38 0h0m-46 1h0m2 0h0m-5 1h0m3 0h0m2 0h0m45 0h0m-51 1h0m50 0h0m-51 1h0m40 0h0m7 0h0m-45 1h0m41 0h0m4 0h0m-53 1h0m5 0h0m41 0h0m5 0h0m-47 1h0m41 0h0m3 0h0m-48 1h0m46 0h0m-45 1h0m44 0h0m2 0h0m-2 1h0m1 0h0m8 0h0m-59 1h0m6 0h0m53 0h0m-58 1h0m45 0h0m3 0h0m2 0h0m-56 1h0m7 0h0m50 0h0m-56 1h0m53 0h0m-53 1h0m46 0h0m-46 1h0m47 0h0m8 0h0m67 0h0m1 0h0m-131 1h0m63 0h0m-61 1h0m1 0h0m53 0h0m-6 1h0m6 0h0m-52 2h0m3 0h0m41 0h0m4 0h0m-50 2h0m1 0h0m40 0h0m2 0h0m-1 1h0m6 0h0m-47 1h0m38 0h0m2 0h0m6 0h0m-49 1h0m38 0h0m-43 1h0m1 0h0m1 0h0m1 0h0m40 0h0m-40 2h0m39 0h0m-38 1h0m38 0h0m-8 1h0m2 0h0m3 0h0m-2 1h0m1 0h0m1 0h0m3 0h0m1 0h0m-39 1h0m30 0h0m2 0h0m4 0h0m-36 1h0m25 0h0m2 0h0m2 0h0m-35 1h0m4 0h0m1 0h0m-6 1h0m4 0h0m1 0h0m21 0h0m7 0h0m-31 1h0m1 0h0m7 0h0m8 0h0m6 0h0m2 0h0m1 0h0m3 0h0m1 0h0m2 0h0m-27 1h0m3 0h0m1 0h0m1 0h0m5 0h0m7 0h0m4 0h0m-19 2h0m1 0h0m2 0h0m1 0h0m-15 6h0m0 1h0"/>
<path stroke="#7d87d7" stroke-width="1.1" stroke-linecap="square" d="M178.5 1354.5h0m22 3h0m-17 1h0m-4 1h0m-3 1h0m6 0h0m0 1h0m11 0h0m-11 1h0m2 0h0m6 0h0m4 0h0m-28 1h0m17 0h0m1 0h0m-9 1h0m2 0h0m11 0h0m-25 1h0m10 0h0m2 0h0m-11 1h0m2 0h0m8 0h0m4 0h0m1 0h0m6 0h0m-27 1h0m18 0h0m3 0h0m2 0h0m2 0h0m1 0h0m-25 1h0m2 0h0m8 0h0m1 0h0m4 0h0m4 0h0m2 0h0m1 0h0m1 0h0m3 0h0m11 0h0m-40 1h0m2 0h0m7 0h0m4 0h0m7 0h0m6 0h0m10 0h0m3 0h0m-44 1h0m3 0h0m8 0h0m13 0h0m5 0h0m2 0h0m1 0h0m10 0h0m1 0h0m-35 1h0m2 0h0m7 0h0m3 0h0m5 0h0m7 0h0m11 0h0m-30 1h0m-3 1h0m2 0h0m4 0h0m10 0h0m2 0h0m3 0h0m-11 1h0m2 0h0m2 0h0m5 0h0m2 0h0m1 0h0m-21 1h0m1 0h0m5 0h0m3 0h0m8 0h0m-20 1h0m10 0h0m7 0h0m3 0h0m-28 1h0m7 0h0m1 0h0m10 0h0m10 0h0m-21 1h0m6 0h0m6 0h0m4 0h0m5 0h0m1 0h0m-24 1h0m3 0h0m19 0h0m-26 1h0m6 0h0m1 0h0m9 0h0m14 0h0m3 0h0m-52 1h0m1 0h0m17 0h0m1 0h0m3 0h0m4 0h0m10 0h0m7 0h0m2 0h0m-45 1h0m10 0h0m14 0h0m11 0h0m7 0h0m-31 1h0m19 0h0m8 0h0m2 0h0m17 0h0m-37 1h0m18 0h0m5 0h0m2 0h0m-44 1h0m3 0h0m1 0h0m10 0h0m4 0h0m1 0h0m8 0h0m2 0h0m1 0h0m2 0h0m2 0h0m1 0h0m3 0h0m1 0h0m-35 1h0m10 0h0m1 0h0m11 0h0m1 0h0m3 0h0m3 0h0m-28 1h0m9 0h0m9 0h0m9 0h0m-28 1h0m10 0h0m1 0h0m4 0h0m2 0h0m3 0h0m7 0h0m5 0h0m-28 1h0m5 0h0m7 0h0m9 0h0m11 0h0m-43 1h0m22 0h0m2 0h0m18 0h0m-43 1h0m3 0h0m1 0h0m6 0h0m2 0h0m4 0h0m3 0h0m5 0h0m1 0h0m3 0h0m-11 1h0m6 0h0m1 0h0m3 0h0m1 0h0m6 0h0m5 0h0m-38 1h0m1 0h0m4 0h0m8 0h0m2 0h0m8 0h0m2 0h0m1 0h0m12 0h0m-37 1h0m10 0h0m1 0h0m1 0h0m3 0h0m-25 1h0m10 0h0m10 0h0m3 1h0m1 0h0m5 0h0m4 0h0m3 0h0m-37 1h0m17 0h0m15 0h0m8 0h0m4 0h0m-28 1h0m28 0h0m-56 1h0m29 0h0m1 0h0m4 0h0m6 0h0m12 0h0m-5 1h0m-25 1h0m-4 1h0m5 0h0m1 0h0m14 0h0m1 0h0m-21 1h0m6 0h0m14 0h0m1 0h0m-11 1h0m6 0h0m3 0h0m8 0h0m-16 1h0m3 0h0m3 0h0m1 0h0m5 0h0m4 0h0m-28 1h0m12 0h0m7 0h0m7 0h0m1 0h0m-30 1h0m2 0h0m2 0h0m-3 1h0m2 0h0m18 0h0m-19 1h0m12 0h0m6 0h0m1 0h0m-7 1h0m9 0h0m-22 1h0m11 0h0m2 0h0m17 2h0m-31 2h0m-8 1h0m0 1h0m21 0h0m-9 1h0m1 0h0m19 0h0m-25 1h0m5 0h0m-4 1h0m-2 1h0m1 0h0m-21 1h0m15 0h0m5 0h0m-20 1h0m1 0h0m14 0h0m-14 1h0m18 0h0m8 0h0m1 0h0m1 0h0m1 1h0m-24 1h0m11 1h0m3 0h0m-10 1h0m9 0h0m-7 1h0m2 0h0m0 1h0m-10 1h0m6 0h0m2 0h0m1 0h0m1 0h0m10 0h0m-12 1h0m1 0h0m3 0h0m-10 1h0m2 0h0m10 0h0m6 0h0m5 0h0m-23 1h0m3 0h0m2 0h0m5 0h0m5 0h0m2 0h0m3 0h0m-17 1h0m2 0h0m1 0h0m1 0h0m5 0h0m2 0h0m-19 1h0m2 0h0m2 0h0m1 0h0m1 0h0m2 0h0m11 0h0m22 0h0m-45 1h0m8 0h0m2 0h0m9 0h0m7 0h0m10 0h0m2 0h0m-38 1h0m26 0h0m1 0h0m5 0h0m6 0h0m-36 1h0m1 0h0m3 0h0m12 0h0m15 0h0m-38 1h0m6 0h0m1 0h0m26 0h0m1 0h0m1 0h0m1 0h0m-42 1h0m6 0h0m3 0h0m1 0h0m6 0h0m23 0h0m1 0h0m-33 1h0m3 0h0m1 0h0m30 0h0m-35 1h0m35 0h0m-35 1h0m31 0h0m2 0h0m2 0h0m-46 1h0m6 0h0m37 0h0m2 0h0m-40 1h0m36 0h0m3 0h0m-46 1h0m1 0h0m9 0h0m-10 1h0m1 0h0m4 0h0m35 0h0m-35 1h0m-3 1h0m1 0h0m1 0h0m35 1h0m-41 2h0m41 0h0m-43 1h0m37 0h0m1 0h0m5 0h0m-44 1h0m1 0h0m-1 1h0m38 0h0m1 0h0m4 0h0m-46 1h0m2 0h0m38 0h0m1 1h0m-4 2h0m-2 1h0m2 1h0m-7 2h0m-35 1h0m33 0h0m-37 1h0m1 0h0m-2 1h0m2 0h0m-3 1h0m1 0h0m32 0h0m-33 1h0m1 0h0m34 0h0m1 0h0m-6 1h0m-26 1h0m2 0h0m0 1h0m5 0h0m6 1h0m7 0h0m3 0h0m-18 1h0m13 0h0m-13 1h0m1 0h0m8 0h0m-13 1h0m12 0h0m5 0h0m1 0h0m-10 1h0m1 0h0m1 0h0m-16 2h0m1 0h0"/>
<path stroke="#5d6cd7" stroke-width="1.1" stroke-linecap="square" d="M183.5 1362.5h0m7 1h0m-16 1h0m2 1h0m1 1h0m-10 1h0m7 0h0m4 0h0m-21 1h0m18 0h0m4 0h0m-18 1h0m5 0h0m2 0h0m2 0h0m1 0h0m7 0h0m1 0h0m-20 1h0m2 0h0m4 0h0m1 0h0m1 0h0m2 0h0m5 0h0m3 0h0m1 0h0m1 0h0m2 0h0m-16 1h0m1 0h0m3 0h0m1 0h0m2 0h0m5 0h0m1 0h0m2 0h0m-15 1h0m1 0h0m9 0h0m1 0h0m3 0h0m1 0h0m-18 1h0m3 0h0m1 0h0m4 0h0m2 0h0m1 0h0m2 0h0m1 0h0m4 0h0m-19 1h0m5 0h0m10 0h0m1 0h0m-11 1h0m1 0h0m-4 1h0m4 0h0m6 0h0m1 0h0m3 0h0m1 0h0m-14 1h0m3 0h0m1 0h0m2 0h0m4 0h0m3 0h0m-21 1h0m5 0h0m7 0h0m-7 1h0m4 0h0m1 0h0m2 0h0m5 0h0m2 0h0m1 0h0m1 0h0m-16 1h0m2 0h0m1 0h0m2 0h0m8 0h0m1 0h0m1 0h0m-15 1h0m1 0h0m-9 1h0m1 0h0m4 0h0m1 0h0m1 0h0m1 0h0m4 0h0m7 0h0m1 0h0m-20 1h0m1 0h0m5 0h0m1 0h0m1 0h0m1 0h0m3 0h0m9 0h0m1 0h0m-16 1h0m2 0h0m1 0h0m2 0h0m4 0h0m-13 1h0m1 0h0m2 0h0m1 0h0m1 0h0m5 0h0m2 0h0m8 0h0m-22 1h0m0 1h0m3 0h0m8 1h0m-15 1h0m1 0h0m20 0h0m1 0h0m2 0h0m-31 1h0m6 0h0m24 0h0m-25 3h0m21 0h0m-47 1h0m10 0h0m5 0h0m9 1h0m8 1h0m1 0h0m8 1h0m1 0h0m-24 1h0m5 2h0m-19 1h0m18 0h0m-17 1h0m0 1h0m12 1h0m1 1h0m14 0h0m-8 4h0m19 0h0m-28 1h0m12 6h0m-1 1h0m-25 3h0m-11 9h0m1 0h0m0 1h0m4 1h0m10 1h0m0 1h0m1 0h0m-18 1h0m10 0h0m6 0h0m5 0h0m1 0h0m-26 1h0m3 0h0m3 0h0m12 0h0m3 0h0m4 0h0m1 0h0m-20 1h0m2 0h0m1 0h0m2 0h0m1 0h0m2 0h0m3 0h0m1 0h0m3 0h0m-23 1h0m2 0h0m13 0h0m1 0h0m3 0h0m-23 1h0m5 0h0m1 0h0m1 0h0m1 0h0m2 0h0m3 0h0m3 0h0m1 0h0m2 0h0m3 0h0m10 0h0m1 0h0m1 0h0m-31 1h0m3 0h0m1 0h0m18 0h0m3 0h0m-24 1h0m1 0h0m7 0h0m-17 1h0m6 0h0m4 0h0m21 0h0m-30 1h0m4 0h0m3 0h0m1 0h0m20 0h0m2 0h0m-30 1h0m1 0h0m27 0h0m4 0h0m-35 1h0m2 0h0m4 0h0m-15 1h0m7 0h0m1 0h0m4 0h0m2 0h0m26 0h0m-41 1h0m6 0h0m4 0h0m1 0h0m2 0h0m25 0h0m2 0h0m-36 1h0m1 0h0m30 0h0m1 0h0m1 0h0m-33 1h0m1 0h0m31 0h0m-29 1h0m30 0h0m-33 1h0m33 0h0m-37 1h0m1 0h0m-3 1h0m35 1h0m3 0h0m-40 1h0m38 0h0m-40 2h0m36 0h0m-41 2h0m1 0h0m1 0h0m1 0h0m-4 1h0m2 0h0m1 0h0m34 0h0m1 0h0m1 0h0m-39 1h0m37 0h0m1 0h0m-2 1h0m-3 1h0m2 0h0m1 0h0m-37 1h0m1 0h0m1 0h0m32 0h0m-35 1h0m0 1h0m2 0h0m1 0h0m26 0h0m1 0h0m-33 1h0m2 0h0m1 0h0m1 0h0m30 0h0m-34 1h0m5 0h0m25 0h0m1 0h0m1 0h0m-5 1h0m3 0h0m-31 1h0m31 0h0m-29 1h0m3 1h0m2 0h0m8 0h0m1 0h0m5 0h0m1 0h0m1 0h0m1 0h0m1 0h0m-21 1h0m2 0h0m6 0h0m1 0h0m2 0h0m3 0h0m5 0h0m2 0h0m-25 1h0m2 0h0m1 0h0m2 0h0m1 0h0m4 0h0m5 0h0m1 0h0m1 0h0m-18 1h0m2 0h0m1 0h0m2 0h0m1 0h0m7 0h0m4 0h0m-14 1h0m6 0h0m4 0h0m1 0h0m6 0h0m-16 1h0m1 0h0m5 0h0m1 0h0m1 0h0m1 0h0m-7 1h0"/>
<path stroke="#3e52d7" stroke-width="1.1" stroke-linecap="square" d="M189.5 1363.5h0m-23 4h0m1 1h0m-7 1h0m0 1h0m12 0h0m1 1h0m-4 1h0m1 0h0m4 0h0m-5 1h0m5 0h0m-12 3h0m3 0h0m-9 1h0m5 0h0m1 0h0m3 0h0m1 0h0m7 0h0m-16 1h0m5 0h0m4 0h0m1 0h0m4 0h0m1 0h0m-5 1h0m-5 1h0m1 1h0m2 0h0m8 0h0m-9 1h0m-7 1h0m1 0h0m-2 1h0m1 0h0m1 0h0m16 0h0m-17 1h0m-3 1h0m1 0h0m1 0h0m-2 1h0m1 0h0m-6 3h0m3 5h0m1 0h0m9 3h0m-51 32h0m-3 4h0m9 1h0m5 0h0m3 0h0m-13 2h0m3 0h0m-7 1h0m5 0h0m9 0h0m1 0h0m-16 1h0m3 0h0m8 0h0m1 0h0m2 0h0m1 0h0m1 0h0m-17 1h0m1 0h0m1 0h0m9 0h0m1 0h0m2 0h0m1 0h0m2 0h0m1 0h0m-17 1h0m6 0h0m7 0h0m1 0h0m2 0h0m1 0h0m-24 1h0m4 0h0m18 0h0m-23 1h0m-4 1h0m24 0h0m-30 1h0m30 0h0m1 0h0m1 0h0m1 0h0m-32 1h0m4 0h0m2 0h0m22 0h0m1 0h0m-28 1h0m1 0h0m24 0h0m-26 1h0m1 0h0m25 0h0m-28 1h0m28 0h0m-29 1h0m1 0h0m29 0h0m1 0h0m-33 1h0m1 0h0m28 0h0m1 0h0m1 0h0m-35 1h0m1 0h0m1 0h0m1 0h0m29 0h0m2 0h0m1 0h0m-33 1h0m26 0h0m4 0h0m3 0h0m-37 1h0m1 0h0m3 0h0m26 0h0m3 0h0m-35 1h0m3 0h0m31 0h0m-36 2h0m1 0h0m33 0h0m-2 1h0m1 0h0m-37 1h0m35 0h0m-1 1h0m1 0h0m-35 1h0m1 0h0m31 0h0m1 0h0m1 0h0m-33 1h0m0 1h0m29 0h0m-31 1h0m1 0h0m1 0h0m25 0h0m1 0h0m1 0h0m1 0h0m-28 1h0m0 1h0m21 0h0m1 0h0m1 0h0m2 0h0m-31 1h0m1 0h0m1 0h0m1 0h0m29 0h0m-31 1h0m1 0h0m-3 1h0m3 0h0m1 0h0m-4 1h0m6 0h0m17 0h0m1 0h0m1 0h0m-22 1h0m2 0h0m2 0h0m2 0h0m8 0h0m2 0h0m-13 1h0m3 0h0m-11 1h0m12 0h0m-11 1h0m3 0h0m5 0h0m1 0h0m1 0h0m1 0h0m-8 1h0"/>
<path stroke="#1f76de" stroke-width="1.1" stroke-linecap="square" d="M108.5 1439.5h0m1 0h0m5 0h0m-4 1h0m3 0h0m1 0h0m1 0h0m4 0h0m3 0h0m-17 1h0m1 0h0m2 0h0m1 0h0m1 0h0m1 0h0m1 0h0m2 0h0m1 0h0m1 0h0m1 0h0m1 0h0m1 0h0m-14 1h0m1 0h0m1 0h0m1 0h0m3 0h0m2 0h0m2 0h0m4 0h0m-19 1h0m2 0h0m1 0h0m1 0h0m1 0h0m1 0h0m9 0h0m1 0h0m1 0h0m1 0h0m1 0h0m1 0h0m1 0h0m1 0h0m-23 1h0m19 0h0m2 0h0m-21 1h0m19 0h0m-21 1h0m19 0h0m-23 1h0m1 0h0m1 0h0m20 1h0m-25 1h0m1 0h0m24 0h0m2 0h0m-2 1h0m1 0h0m-28 1h0m25 0h0m-28 1h0m24 0h0m8 0h0m-36 1h0m1 0h0m2 0h0m-2 1h0m28 0h0m1 0h0m-33 1h0m1 0h0m2 0h0m1 0h0m27 0h0m1 0h0m-1 1h0m-31 1h0m30 0h0m-31 1h0m29 0h0m-34 2h0m3 0h0m-1 1h0m-1 1h0m29 0h0m-29 1h0m1 0h0m26 0h0m-27 1h0m1 0h0m22 0h0m-23 1h0m1 0h0m20 0h0m1 0h0m1 0h0m-23 1h0m19 0h0m-20 1h0m20 0h0m-23 1h0m1 0h0m1 0h0m20 0h0m-21 1h0m16 0h0m2 0h0m1 0h0m1 0h0m-21 1h0m3 0h0m1 0h0m7 0h0m1 0h0m4 0h0m1 0h0m-11 1h0m1 0h0m1 0h0m1 0h0m5 0h0m-10 4h0"/>
<path stroke="#00a0e6" stroke-width="1.1" stroke-linecap="square" d="M109.5 1440.5h0m0 2h0m1 0h0m2 0h0m5 0h0m1 0h0m-17 1h0m7 0h0m2 0h0m4 0h0m-14 1h0m1 0h0m1 0h0m1 0h0m1 0h0m1 0h0m1 0h0m10 0h0m1 0h0m4 0h0m-17 1h0m11 0h0m1 0h0m1 0h0m-19 1h0m15 0h0m1 0h0m0 1h0m1 0h0m-23 1h0m1 0h0m-1 1h0m21 0h0m1 0h0m-24 1h0m23 0h0m-24 1h0m23 0h0m-26 1h0m1 0h0m1 0h0m24 0h0m-27 1h0m23 0h0m3 0h0m1 0h0m-29 2h0m-5 1h0m1 0h0m1 0h0m1 0h0m27 0h0m-2 1h0m-30 1h0m2 0h0m1 0h0m-3 1h0m27 0h0m1 0h0m1 0h0m-2 1h0m-30 1h0m2 0h0m27 0h0m-28 1h0m1 0h0m26 0h0m-5 1h0m1 0h0m1 0h0m1 0h0m-24 1h0m0 1h0m1 0h0m17 0h0m-19 1h0m1 0h0m-2 1h0m2 0h0m-3 1h0m2 0h0m1 0h0m1 0h0m11 0h0m1 0h0m1 0h0m1 0h0m-19 1h0m1 0h0m1 0h0m1 0h0m1 0h0m1 0h0m1 0h0m4 0h0m4 0h0m2 0h0m-13 1h0m1 0h0m1 0h0m1 0h0m1 0h0m1 0h0m3 0h0m1 0h0m1 0h0"/>
<path stroke="#0eb3a2" stroke-width="1.1" stroke-linecap="square" d="M109.5 1443.5h0m2 0h0m1 0h0m1 0h0m-6 1h0m1 0h0m1 0h0m1 0h0m1 0h0m1 0h0m1 0h0m1 0h0m1 0h0m-15 1h0m1 0h0m1 0h0m1 0h0m6 0h0m1 0h0m1 0h0m1 0h0m2 0h0m-15 1h0m1 0h0m3 0h0m7 0h0m2 0h0m3 0h0m-19 1h0m17 0h0m-19 1h0m19 0h0m1 0h0m-23 2h0m21 0h0m-3 1h0m2 0h0m-3 1h0m2 0h0m1 0h0m-25 1h0m22 1h0m-24 1h0m24 0h0m-26 1h0m1 0h0m24 0h0m-28 1h0m1 0h0m1 0h0m-1 1h0m25 0h0m-28 1h0m2 0h0m23 0h0m-26 1h0m26 0h0m-26 1h0m0 1h0m20 0h0m1 0h0m1 0h0m1 0h0m1 0h0m-25 1h0m1 0h0m19 0h0m-19 1h0m18 0h0m1 0h0m-7 1h0m-12 1h0m1 0h0m4 0h0m6 0h0m4 0h0m-17 1h0m2 0h0m1 0h0m1 0h0m1 0h0m1 0h0m6 0h0m1 0h0m1 0h0m1 0h0m1 0h0m-17 1h0m4 0h0m1 0h0m2 0h0m1 0h0m4 0h0m1 0h0m-8 1h0m1 0h0m1 0h0m2 0h0m1 0h0m1 0h0"/>
<path stroke="#1cc65f" stroke-width="1.1" stroke-linecap="square" d="M105.5 1445.5h0m1 0h0m1 0h0m1 0h0m-4 1h0m1 0h0m3 0h0m1 0h0m2 0h0m-14 1h0m1 0h0m1 0h0m4 0h0m1 0h0m5 0h0m1 0h0m1 0h0m1 0h0m-17 1h0m15 0h0m1 0h0m1 0h0m-19 1h0m1 0h0m15 0h0m1 0h0m1 0h0m1 0h0m-20 1h0m16 0h0m2 0h0m1 0h0m-21 1h0m1 0h0m17 0h0m2 0h0m-3 1h0m-20 1h0m1 0h0m1 0h0m18 0h0m-22 1h0m1 0h0m20 0h0m1 0h0m-22 1h0m21 0h0m1 0h0m-23 1h0m21 0h0m1 0h0m-24 1h0m1 0h0m21 0h0m1 0h0m-24 1h0m1 0h0m20 0h0m1 0h0m1 0h0m-24 1h0m1 0h0m20 0h0m-24 1h0m1 0h0m1 0h0m21 0h0m1 0h0m-24 1h0m1 0h0m1 0h0m18 0h0m2 0h0m1 0h0m1 0h0m-24 1h0m1 0h0m1 0h0m16 0h0m-18 1h0m17 0h0m-5 1h0m4 0h0m-16 1h0m1 0h0m2 0h0m1 0h0m1 0h0m4 0h0m1 0h0m2 0h0m1 0h0m1 0h0m1 0h0m-14 1h0m1 0h0m1 0h0m2 0h0m1 0h0m1 0h0m1 0h0m1 0h0m2 0h0m1 0h0m1 0h0m-9 1h0m1 0h0m1 0h0m1 0h0m1 0h0m-6 1h0m3 0h0m1 0h0m1 0h0"/>
<path stroke="#63d239" stroke-width="1.1" stroke-linecap="square" d="M101.5 1446.5h0m1 0h0m4 0h0m1 0h0m-7 1h0m5 0h0m1 0h0m1 0h0m1 0h0m-12 1h0m1 0h0m1 0h0m1 0h0m4 0h0m1 0h0m3 0h0m1 0h0m1 0h0m-14 1h0m3 0h0m1 0h0m6 0h0m2 0h0m1 0h0m-15 1h0m1 0h0m10 0h0m1 0h0m1 0h0m1 0h0m2 0h0m-17 1h0m1 0h0m11 0h0m1 0h0m1 0h0m1 0h0m-17 1h0m1 0h0m1 0h0m13 0h0m1 0h0m-16 1h0m15 0h0m1 0h0m-19 1h0m1 0h0m1 0h0m16 0h0m-19 1h0m1 0h0m17 0h0m1 0h0m-20 1h0m1 0h0m17 0h0m1 0h0m-20 1h0m18 0h0m1 0h0m-20 1h0m18 0h0m-19 1h0m17 0h0m1 0h0m-20 1h0m1 0h0m1 0h0m16 0h0m1 0h0m-19 1h0m1 0h0m1 0h0m12 0h0m1 0h0m1 0h0m2 0h0m-18 1h0m1 0h0m12 0h0m1 0h0m-16 1h0m1 0h0m1 0h0m10 0h0m2 0h0m1 0h0m-16 1h0m1 0h0m1 0h0m1 0h0m1 0h0m4 0h0m1 0h0m1 0h0m1 0h0m2 0h0m1 0h0m1 0h0m-13 1h0m4 0h0m1 0h0m1 0h0"/>
<path stroke="#afdd15" stroke-width="1.1" stroke-linecap="square" d="M101.5 1447.5h0m1 0h0m-2 1h0m1 0h0m1 0h0m3 0h0m1 0h0m-10 1h0m1 0h0m3 0h0m1 0h0m1 0h0m1 0h0m1 0h0m2 0h0m-11 1h0m1 0h0m1 0h0m1 0h0m1 0h0m1 0h0m1 0h0m1 0h0m1 0h0m-9 1h0m1 0h0m3 0h0m3 0h0m1 0h0m1 0h0m-10 1h0m1 0h0m10 0h0m-13 1h0m2 0h0m-3 1h0m14 0h0m-16 1h0m14 0h0m1 0h0m-16 1h0m14 0h0m1 0h0m-17 1h0m1 0h0m14 0h0m1 0h0m-17 1h0m14 0h0m1 0h0m1 0h0m-17 1h0m14 0h0m1 0h0m-15 1h0m1 0h0m1 0h0m9 0h0m2 0h0m1 0h0m-14 1h0m1 0h0m8 0h0m1 0h0m-11 1h0m1 0h0m6 0h0m1 0h0m1 0h0m1 0h0m-11 1h0m1 0h0m1 0h0m2 0h0m1 0h0m1 0h0m1 0h0m1 0h0m2 0h0m-9 1h0m1 0h0m1 0h0"/>
<path stroke="#dbc906" stroke-width="1.1" stroke-linecap="square" d="M96.5 1451.5h0m1 0h0m2 0h0m1 0h0m-5 1h0m1 0h0m1 0h0m1 0h0m1 0h0m1 0h0m1 0h0m1 0h0m1 0h0m-11 1h0m2 0h0m1 0h0m1 0h0m1 0h0m4 0h0m1 0h0m1 0h0m1 0h0m-13 1h0m2 0h0m1 0h0m1 0h0m6 0h0m1 0h0m1 0h0m-14 1h0m1 0h0m4 0h0m6 0h0m1 0h0m-13 1h0m5 0h0m1 0h0m4 0h0m1 0h0m1 0h0m-13 1h0m1 0h0m5 0h0m1 0h0m1 0h0m2 0h0m1 0h0m1 0h0m-14 1h0m1 0h0m1 0h0m1 0h0m2 0h0m3 0h0m1 0h0m2 0h0m1 0h0m-13 1h0m1 0h0m1 0h0m1 0h0m1 0h0m5 0h0m1 0h0m1 0h0m1 0h0m-10 1h0m6 0h0m1 0h0m2 0h0m-10 1h0m1 0h0m1 0h0m1 0h0m1 0h0m1 0h0m1 0h0m-7 1h0m1 0h0m1 0h0m1 0h0m1 0h0m-4 1h0"/>
<path stroke="#f8a801" stroke-width="1.1" stroke-linecap="square" d="M98.5 1453.5h0m1 0h0m1 0h0m-8 1h0m4 0h0m1 0h0m1 0h0m1 0h0m1 0h0m-9 1h0m1 0h0m1 0h0m2 0h0m1 0h0m1 0h0m1 0h0m1 0h0m-10 1h0m1 0h0m1 0h0m1 0h0m3 0h0m1 0h0m1 0h0m-8 1h0m1 0h0m1 0h0m1 0h0m4 0h0m-7 1h0m2 0h0m1 0h0m3 0h0m-6 1h0m1 0h0m1 0h0m1 0h0m-5 1h0m1 0h0m1 0h0m1 0h0m1 0h0"/>
<line x1="130" y1="1329" x2="130" y2="1491.5" stroke="#555" stroke-width="1.1"/>
<line x1="48.75" y1="1400.25" x2="210" y2="1400.25" stroke="#555" stroke-width="1.1"/>
<rect x="48.75" y="1329" width="161.25" height="162.5" fill="none" stroke="#666" stroke-width="1.3"/>
<text x="52.25" y="1338" font-size="7" style='font-weight:normal;font-family:"Liberation Sans";fill:#222;'>Q1</text>
<text x="52.25" y="1349" font-size="7" style='font-weight:normal;font-family:"Liberation Sans";fill:#222;'>0.904%</text>
<text x="207" y="1338" font-size="7" text-anchor="end" style='font-weight:normal;font-family:"Liberation Sans";fill:#222;'>Q2</text>
<text x="207" y="1349" font-size="7" text-anchor="end" style='font-weight:normal;font-family:"Liberation Sans";fill:#222;'>7.65%</text>
<text x="52.25" y="1477.5" font-size="7" style='font-weight:normal;font-family:"Liberation Sans";fill:#222;'>Q4</text>
<text x="52.25" y="1488.5" font-size="7" style='font-weight:normal;font-family:"Liberation Sans";fill:#222;'>86.2%</text>
<text x="207" y="1477.5" font-size="7" text-anchor="end" style='font-weight:normal;font-family:"Liberation Sans";fill:#222;'>Q3</text>
<text x="207" y="1488.5" font-size="7" text-anchor="end" style='font-weight:normal;font-family:"Liberation Sans";fill:#222;'>4.44%</text>
<line x1="57.5" y1="1491.5" x2="57.5" y2="1494.5" stroke="#777" stroke-width="0.8"/>
<text x="56.5" y="1506.5" font-size="7.5" text-anchor="middle" style='font-family:"Liberation Sans";fill:#333;'>10</text>
<text x="61" y="1501" font-size="5.5" style='font-family:"Liberation Sans";fill:#333;'>4</text>
<line x1="95" y1="1491.5" x2="95" y2="1494.5" stroke="#777" stroke-width="0.8"/>
<text x="94" y="1506.5" font-size="7.5" text-anchor="middle" style='font-family:"Liberation Sans";fill:#333;'>10</text>
<text x="98.5" y="1501" font-size="5.5" style='font-family:"Liberation Sans";fill:#333;'>5</text>
<line x1="135" y1="1491.5" x2="135" y2="1494.5" stroke="#777" stroke-width="0.8"/>
<text x="134" y="1506.5" font-size="7.5" text-anchor="middle" style='font-family:"Liberation Sans";fill:#333;'>10</text>
<text x="138.5" y="1501" font-size="5.5" style='font-family:"Liberation Sans";fill:#333;'>6</text>
<line x1="178" y1="1491.5" x2="178" y2="1494.5" stroke="#777" stroke-width="0.8"/>
<text x="177" y="1506.5" font-size="7.5" text-anchor="middle" style='font-family:"Liberation Sans";fill:#333;'>10</text>
<text x="181.5" y="1501" font-size="5.5" style='font-family:"Liberation Sans";fill:#333;'>7</text>
<line x1="45.75" y1="1339.5" x2="48.75" y2="1339.5" stroke="#777" stroke-width="0.8"/>
<text x="41.75" y="1342.5" font-size="7.5" text-anchor="end" style='font-family:"Liberation Sans";fill:#333;'>10</text>
<text x="41.75" y="1337.5" font-size="5.5" style='font-family:"Liberation Sans";fill:#333;'>7</text>
<line x1="45.75" y1="1372" x2="48.75" y2="1372" stroke="#777" stroke-width="0.8"/>
<text x="41.75" y="1375" font-size="7.5" text-anchor="end" style='font-family:"Liberation Sans";fill:#333;'>10</text>
<text x="41.75" y="1370" font-size="5.5" style='font-family:"Liberation Sans";fill:#333;'>6</text>
<line x1="45.75" y1="1414.5" x2="48.75" y2="1414.5" stroke="#777" stroke-width="0.8"/>
<text x="41.75" y="1417.5" font-size="7.5" text-anchor="end" style='font-family:"Liberation Sans";fill:#333;'>10</text>
<text x="41.75" y="1412.5" font-size="5.5" style='font-family:"Liberation Sans";fill:#333;'>5</text>
<line x1="45.75" y1="1457" x2="48.75" y2="1457" stroke="#777" stroke-width="0.8"/>
<text x="41.75" y="1460" font-size="7.5" text-anchor="end" style='font-family:"Liberation Sans";fill:#333;'>10</text>
<text x="41.75" y="1455" font-size="5.5" style='font-family:"Liberation Sans";fill:#333;'>4</text>
<line x1="48.75" y1="1491.5" x2="48.75" y2="1493" stroke="#999" stroke-width="0.6"/>
<line x1="53.75" y1="1491.5" x2="53.75" y2="1493" stroke="#999" stroke-width="0.6"/>
<line x1="58.75" y1="1491.5" x2="58.75" y2="1493" stroke="#999" stroke-width="0.6"/>
<line x1="63.75" y1="1491.5" x2="63.75" y2="1493" stroke="#999" stroke-width="0.6"/>
<line x1="68.75" y1="1491.5" x2="68.75" y2="1493" stroke="#999" stroke-width="0.6"/>
<line x1="73.75" y1="1491.5" x2="73.75" y2="1493" stroke="#999" stroke-width="0.6"/>
<line x1="78.75" y1="1491.5" x2="78.75" y2="1493" stroke="#999" stroke-width="0.6"/>
<line x1="83.75" y1="1491.5" x2="83.75" y2="1493" stroke="#999" stroke-width="0.6"/>
<line x1="88.75" y1="1491.5" x2="88.75" y2="1493" stroke="#999" stroke-width="0.6"/>
<line x1="93.75" y1="1491.5" x2="93.75" y2="1493" stroke="#999" stroke-width="0.6"/>
<line x1="98.75" y1="1491.5" x2="98.75" y2="1493" stroke="#999" stroke-width="0.6"/>
<line x1="103.75" y1="1491.5" x2="103.75" y2="1493" stroke="#999" stroke-width="0.6"/>
<line x1="108.75" y1="1491.5" x2="108.75" y2="1493" stroke="#999" stroke-width="0.6"/>
<line x1="113.75" y1="1491.5" x2="113.75" y2="1493" stroke="#999" stroke-width="0.6"/>
<line x1="118.75" y1="1491.5" x2="118.75" y2="1493" stroke="#999" stroke-width="0.6"/>
<line x1="123.75" y1="1491.5" x2="123.75" y2="1493" stroke="#999" stroke-width="0.6"/>
<line x1="128.75" y1="1491.5" x2="128.75" y2="1493" stroke="#999" stroke-width="0.6"/>
<line x1="133.75" y1="1491.5" x2="133.75" y2="1493" stroke="#999" stroke-width="0.6"/>
<line x1="138.75" y1="1491.5" x2="138.75" y2="1493" stroke="#999" stroke-width="0.6"/>
<line x1="143.75" y1="1491.5" x2="143.75" y2="1493" stroke="#999" stroke-width="0.6"/>
<line x1="148.75" y1="1491.5" x2="148.75" y2="1493" stroke="#999" stroke-width="0.6"/>
<line x1="153.75" y1="1491.5" x2="153.75" y2="1493" stroke="#999" stroke-width="0.6"/>
<line x1="158.75" y1="1491.5" x2="158.75" y2="1493" stroke="#999" stroke-width="0.6"/>
<line x1="163.75" y1="1491.5" x2="163.75" y2="1493" stroke="#999" stroke-width="0.6"/>
<line x1="168.75" y1="1491.5" x2="168.75" y2="1493" stroke="#999" stroke-width="0.6"/>
<line x1="173.75" y1="1491.5" x2="173.75" y2="1493" stroke="#999" stroke-width="0.6"/>
<line x1="178.75" y1="1491.5" x2="178.75" y2="1493" stroke="#999" stroke-width="0.6"/>
<line x1="183.75" y1="1491.5" x2="183.75" y2="1493" stroke="#999" stroke-width="0.6"/>
<line x1="188.75" y1="1491.5" x2="188.75" y2="1493" stroke="#999" stroke-width="0.6"/>
<line x1="193.75" y1="1491.5" x2="193.75" y2="1493" stroke="#999" stroke-width="0.6"/>
<line x1="198.75" y1="1491.5" x2="198.75" y2="1493" stroke="#999" stroke-width="0.6"/>
<line x1="203.75" y1="1491.5" x2="203.75" y2="1493" stroke="#999" stroke-width="0.6"/>
<line x1="47.25" y1="1329" x2="48.75" y2="1329" stroke="#999" stroke-width="0.6"/>
<line x1="47.25" y1="1334" x2="48.75" y2="1334" stroke="#999" stroke-width="0.6"/>
<line x1="47.25" y1="1339" x2="48.75" y2="1339" stroke="#999" stroke-width="0.6"/>
<line x1="47.25" y1="1344" x2="48.75" y2="1344" stroke="#999" stroke-width="0.6"/>
<line x1="47.25" y1="1349" x2="48.75" y2="1349" stroke="#999" stroke-width="0.6"/>
<line x1="47.25" y1="1354" x2="48.75" y2="1354" stroke="#999" stroke-width="0.6"/>
<line x1="47.25" y1="1359" x2="48.75" y2="1359" stroke="#999" stroke-width="0.6"/>
<line x1="47.25" y1="1364" x2="48.75" y2="1364" stroke="#999" stroke-width="0.6"/>
<line x1="47.25" y1="1369" x2="48.75" y2="1369" stroke="#999" stroke-width="0.6"/>
<line x1="47.25" y1="1374" x2="48.75" y2="1374" stroke="#999" stroke-width="0.6"/>
<line x1="47.25" y1="1379" x2="48.75" y2="1379" stroke="#999" stroke-width="0.6"/>
<line x1="47.25" y1="1384" x2="48.75" y2="1384" stroke="#999" stroke-width="0.6"/>
<line x1="47.25" y1="1389" x2="48.75" y2="1389" stroke="#999" stroke-width="0.6"/>
<line x1="47.25" y1="1394" x2="48.75" y2="1394" stroke="#999" stroke-width="0.6"/>
<line x1="47.25" y1="1399" x2="48.75" y2="1399" stroke="#999" stroke-width="0.6"/>
<line x1="47.25" y1="1404" x2="48.75" y2="1404" stroke="#999" stroke-width="0.6"/>
<line x1="47.25" y1="1409" x2="48.75" y2="1409" stroke="#999" stroke-width="0.6"/>
<line x1="47.25" y1="1414" x2="48.75" y2="1414" stroke="#999" stroke-width="0.6"/>
<line x1="47.25" y1="1419" x2="48.75" y2="1419" stroke="#999" stroke-width="0.6"/>
<line x1="47.25" y1="1424" x2="48.75" y2="1424" stroke="#999" stroke-width="0.6"/>
<line x1="47.25" y1="1429" x2="48.75" y2="1429" stroke="#999" stroke-width="0.6"/>
<line x1="47.25" y1="1434" x2="48.75" y2="1434" stroke="#999" stroke-width="0.6"/>
<line x1="47.25" y1="1439" x2="48.75" y2="1439" stroke="#999" stroke-width="0.6"/>
<line x1="47.25" y1="1444" x2="48.75" y2="1444" stroke="#999" stroke-width="0.6"/>
<line x1="47.25" y1="1449" x2="48.75" y2="1449" stroke="#999" stroke-width="0.6"/>
<line x1="47.25" y1="1454" x2="48.75" y2="1454" stroke="#999" stroke-width="0.6"/>
<line x1="47.25" y1="1459" x2="48.75" y2="1459" stroke="#999" stroke-width="0.6"/>
<line x1="47.25" y1="1464" x2="48.75" y2="1464" stroke="#999" stroke-width="0.6"/>
<line x1="47.25" y1="1469" x2="48.75" y2="1469" stroke="#999" stroke-width="0.6"/>
<line x1="47.25" y1="1474" x2="48.75" y2="1474" stroke="#999" stroke-width="0.6"/>
<line x1="47.25" y1="1479" x2="48.75" y2="1479" stroke="#999" stroke-width="0.6"/>
<line x1="47.25" y1="1484" x2="48.75" y2="1484" stroke="#999" stroke-width="0.6"/>
<rect x="238.75" y="1329" width="163.25" height="162.5" fill="#fff"/>
<path stroke="#a5abd8" stroke-width="1.1" stroke-linecap="square" d="M392.5 1346.5h0m-8 4h0m-36 2h0m32 1h0m6 2h0m-105 1h0m47 0h0m7 1h0m22 0h0m2 0h0m-78 1h0m47 0h0m21 0h0m32 0h0m-17 1h0m2 0h0m-19 1h0m-61 1h0m58 0h0m37 0h0m13 0h0m-10 1h0m5 0h0m-68 1h0m5 0h0m12 0h0m15 0h0m-34 1h0m36 0h0m-45 2h0m37 1h0m41 0h0m-81 1h0m23 0h0m19 0h0m30 0h0m-65 1h0m7 0h0m12 0h0m2 0h0m44 1h0m-109 1h0m120 0h0m4 0h0m-142 1h0m136 0h0m-75 1h0m3 0h0m6 1h0m6 0h0m55 0h0m5 0h0m2 0h0m-86 2h0m-56 1h0m131 0h0m-90 1h0m94 0h0m-135 1h0m12 0h0m26 0h0m28 0h0m77 0h0m-95 1h0m86 0h0m-106 2h0m105 0h0m-124 1h0m29 0h0m36 0h0m3 0h0m50 1h0m-86 1h0m40 0h0m48 0h0m-97 1h0m39 0h0m56 0h0m8 0h0m8 0h0m-108 3h0m2 0h0m29 0h0m62 0h0m-65 1h0m59 0h0m-113 1h0m111 0h0m24 0h0m-132 1h0m8 0h0m55 1h0m2 0h0m38 0h0m-60 1h0m17 0h0m41 0h0m14 0h0m-106 1h0m16 0h0m16 0h0m14 0h0m48 0h0m-35 1h0m-42 1h0m5 0h0m16 0h0m23 0h0m2 0h0m27 0h0m12 0h0m-87 1h0m13 0h0m16 0h0m15 0h0m27 0h0m2 0h0m-109 1h0m72 0h0m18 0h0m29 0h0m-93 1h0m15 0h0m45 0h0m2 0h0m22 0h0m22 0h0m-119 1h0m95 0h0m6 0h0m24 0h0m-122 1h0m48 0h0m25 0h0m10 0h0m5 0h0m-104 1h0m106 0h0m29 0h0m3 0h0m-45 1h0m6 0h0m3 0h0m9 0h0m-41 1h0m5 0h0m4 0h0m27 0h0m33 1h0m-77 1h0m3 0h0m4 0h0m27 0h0m25 0h0m-47 1h0m29 0h0m7 0h0m4 0h0m-48 1h0m2 0h0m11 0h0m26 0h0m-67 1h0m19 1h0m47 0h0m-28 1h0m24 0h0m19 0h0m4 0h0m-11 1h0m-54 1h0m16 0h0m19 0h0m2 1h0m13 0h0m-100 1h0m71 0h0m4 0h0m14 0h0m5 0h0m34 0h0m-117 1h0m3 0h0m30 1h0m7 0h0m2 0h0m6 0h0m45 0h0m-28 1h0m11 0h0m7 0h0m-45 1h0m68 0h0m4 0h0m-17 1h0m-18 1h0m-40 1h0m23 0h0m22 0h0m-86 1h0m25 0h0m18 0h0m14 0h0m12 0h0m38 0h0m-31 1h0m19 1h0m14 0h0m5 0h0m10 0h0m-64 1h0m4 0h0m11 0h0m3 0h0m33 0h0m18 0h0m-142 1h0m32 0h0m26 0h0m28 0h0m26 0h0m-115 2h0m7 0h0m5 0h0m71 0h0m7 0h0m8 0h0m4 0h0m11 0h0m5 0h0m-70 1h0m8 0h0m48 1h0m2 0h0m19 0h0m-108 1h0m32 0h0m22 1h0m22 0h0m4 0h0m11 0h0m9 0h0m-78 1h0m17 0h0m8 0h0m42 0h0m5 0h0m12 0h0m-55 1h0m9 0h0m37 0h0m-79 1h0m2 0h0m4 0h0m12 0h0m34 0h0m17 0h0m3 0h0m-38 1h0m2 0h0m2 0h0m3 0h0m-40 1h0m45 0h0m56 0h0m-134 1h0m83 0h0m15 0h0m31 0h0m-119 1h0m94 0h0m20 0h0m-110 1h0m82 0h0m-34 1h0m4 0h0m21 0h0m31 0h0m-99 1h0m75 0h0m-82 1h0m5 0h0m64 0h0m30 0h0m20 0h0m-33 1h0m-37 1h0m29 0h0m3 0h0m-82 1h0m62 0h0m2 0h0m23 0h0m10 0h0m7 0h0m-49 1h0m38 0h0m39 0h0m-64 1h0m5 0h0m45 0h0m-7 1h0m-44 1h0m11 1h0m7 0h0m4 0h0m-2 1h0m8 0h0m-42 1h0m13 0h0m13 0h0m20 0h0m5 0h0m6 0h0m25 0h0m-148 2h0m79 0h0m10 0h0m5 0h0m13 0h0m-57 1h0m8 0h0m13 1h0m15 0h0m2 0h0m9 0h0m9 0h0m35 0h0m-80 2h0m23 0h0m22 0h0m31 0h0m-94 1h0m5 0h0m47 0h0m21 0h0m-35 1h0m23 0h0m-15 1h0m29 0h0m-117 1h0m77 0h0m20 0h0m6 0h0m-19 1h0m37 0h0m12 0h0m-133 1h0m32 0h0m5 0h0m3 0h0m41 0h0m23 0h0m9 0h0m-116 1h0m98 0h0m-61 1h0m89 0h0m-124 1h0m32 0h0m47 0h0m6 0h0m-79 1h0m97 0h0m20 0h0m-123 1h0m41 0h0m33 0h0m54 0h0m-98 1h0m13 0h0m36 0h0m32 0h0m6 0h0m-62 1h0m28 0h0m5 0h0m-94 1h0m78 0h0m21 0h0m-48 1h0m72 0h0m5 0h0m3 0h0m-128 2h0m45 0h0m-38 1h0m10 0h0m64 0h0m14 0h0m4 0h0m6 0h0m-103 1h0m109 0h0m7 0h0m8 0h0m19 0h0m-141 2h0m102 0h0m-9 1h0m20 0h0m-78 1h0m22 0h0m28 0h0m16 0h0m-13 1h0m2 0h0m19 0h0m16 0h0m-125 3h0"/>
<path stroke="#949bd7" stroke-width="1.1" stroke-linecap="square" d="M370.5 1354.5h0m-38 1h0m2 0h0m36 0h0m-37 1h0m-55 2h0m97 0h0m4 0h0m-100 1h0m91 0h0m5 0h0m3 0h0m-8 1h0m1 0h0m4 0h0m3 0h0m-13 1h0m5 0h0m-25 2h0m13 0h0m10 0h0m1 0h0m-23 1h0m13 0h0m4 0h0m12 0h0m2 0h0m4 0h0m10 0h0m3 0h0m-37 1h0m4 0h0m2 0h0m14 0h0m5 0h0m-39 1h0m1 0h0m14 0h0m1 0h0m2 0h0m12 0h0m-22 1h0m1 0h0m1 0h0m3 0h0m8 0h0m4 0h0m2 0h0m1 0h0m1 0h0m13 0h0m-17 1h0m2 0h0m3 0h0m20 0h0m-40 1h0m24 0h0m-33 1h0m1 0h0m32 0h0m4 0h0m2 0h0m3 0h0m-57 1h0m13 0h0m35 0h0m4 0h0m3 0h0m2 0h0m-56 1h0m6 0h0m2 0h0m2 0h0m5 0h0m32 0h0m-36 1h0m38 0h0m2 0h0m-48 1h0m6 0h0m37 0h0m2 0h0m-105 1h0m1 0h0m34 0h0m1 0h0m24 0h0m5 0h0m1 0h0m2 0h0m39 0h0m-70 1h0m1 0h0m21 0h0m49 0h0m-75 1h0m1 0h0m6 0h0m1 0h0m9 0h0m1 0h0m7 0h0m4 0h0m39 0h0m1 0h0m1 0h0m11 0h0m-84 1h0m6 0h0m26 0h0m3 0h0m48 0h0m1 0h0m-84 1h0m9 0h0m21 0h0m1 0h0m1 0h0m3 0h0m36 0h0m2 0h0m2 0h0m10 0h0m-95 1h0m9 0h0m10 0h0m5 0h0m3 0h0m2 0h0m7 0h0m44 0h0m-83 1h0m1 0h0m1 0h0m8 0h0m14 0h0m3 0h0m3 0h0m57 0h0m-86 1h0m29 0h0m11 0h0m44 0h0m8 0h0m-80 1h0m28 0h0m39 0h0m1 0h0m12 0h0m-92 1h0m2 0h0m38 0h0m2 0h0m37 0h0m-55 1h0m8 0h0m47 0h0m-79 1h0m24 0h0m7 0h0m10 0h0m39 0h0m1 0h0m1 0h0m-84 1h0m41 0h0m-42 1h0m22 0h0m1 0h0m5 0h0m1 0h0m5 0h0m3 0h0m2 0h0m1 0h0m2 0h0m2 0h0m38 0h0m1 0h0m3 0h0m-86 1h0m33 0h0m9 0h0m2 0h0m34 0h0m-57 1h0m18 0h0m3 0h0m-45 1h0m2 0h0m1 0h0m15 0h0m2 0h0m-20 1h0m5 0h0m11 0h0m5 0h0m60 0h0m-79 1h0m1 0h0m4 0h0m8 0h0m1 0h0m7 0h0m57 0h0m-76 1h0m1 0h0m9 0h0m7 0h0m1 0h0m4 0h0m20 0h0m6 0h0m18 0h0m3 0h0m7 0h0m2 0h0m-76 1h0m1 0h0m3 0h0m10 0h0m19 0h0m6 0h0m9 0h0m14 0h0m5 0h0m-60 1h0m6 0h0m20 0h0m10 0h0m3 0h0m24 0h0m-27 1h0m5 0h0m7 0h0m15 0h0m5 0h0m-51 1h0m1 0h0m2 0h0m5 0h0m18 0h0m8 0h0m2 0h0m-33 1h0m4 0h0m9 0h0m1 0h0m8 0h0m2 0h0m10 0h0m-34 1h0m27 0h0m1 0h0m7 0h0m20 0h0m1 0h0m-46 1h0m1 0h0m-11 1h0m1 0h0m15 0h0m1 0h0m-15 1h0m24 0h0m13 0h0m-22 1h0m3 0h0m6 0h0m13 0h0m-21 1h0m2 0h0m18 0h0m-31 1h0m11 0h0m3 0h0m-15 1h0m8 0h0m-73 1h0m1 0h0m87 0h0m2 0h0m18 0h0m-23 1h0m3 0h0m20 0h0m-34 1h0m1 0h0m3 0h0m3 0h0m4 0h0m17 0h0m1 0h0m-24 1h0m3 0h0m-12 1h0m16 0h0m19 0h0m-36 1h0m5 0h0m11 0h0m21 0h0m-31 1h0m5 0h0m-23 1h0m22 0h0m25 0h0m-48 1h0m19 0h0m1 0h0m2 0h0m1 0h0m26 0h0m-26 1h0m3 1h0m11 0h0m1 0h0m-28 1h0m5 0h0m10 0h0m-15 1h0m1 0h0m3 0h0m6 0h0m18 0h0m1 0h0m-23 2h0m4 0h0m1 0h0m3 0h0m1 0h0m11 0h0m-17 1h0m24 0h0m7 0h0m-38 1h0m22 0h0m1 0h0m4 0h0m3 0h0m9 0h0m-46 1h0m6 0h0m1 0h0m13 0h0m1 0h0m7 0h0m-3 1h0m5 0h0m-34 1h0m1 0h0m31 0h0m3 0h0m2 0h0m1 0h0m-11 1h0m2 0h0m2 0h0m6 0h0m12 0h0m1 0h0m-40 1h0m5 0h0m9 0h0m-15 1h0m6 0h0m9 0h0m-8 1h0m34 0h0m-70 1h0m7 0h0m1 0h0m3 0h0m1 0h0m24 0h0m3 0h0m9 0h0m1 0h0m2 0h0m19 0h0m-74 1h0m9 0h0m30 0h0m3 0h0m2 0h0m8 0h0m2 0h0m12 0h0m-59 1h0m5 0h0m8 0h0m6 0h0m4 0h0m14 0h0m8 0h0m15 0h0m-70 1h0m3 0h0m11 0h0m8 0h0m33 0h0m-48 1h0m42 0h0m1 0h0m-51 1h0m8 0h0m7 0h0m42 0h0m1 0h0m-58 1h0m6 0h0m34 0h0m31 0h0m3 0h0m-77 1h0m1 0h0m2 0h0m3 0h0m14 0h0m24 0h0m4 0h0m4 0h0m6 0h0m1 0h0m18 0h0m1 0h0m-80 1h0m40 0h0m13 0h0m3 0h0m19 0h0m-80 1h0m15 0h0m11 0h0m2 0h0m17 0h0m5 0h0m28 0h0m-27 1h0m9 0h0m17 0h0m3 0h0m-84 1h0m2 0h0m1 0h0m29 0h0m22 0h0m9 0h0m18 0h0m2 0h0m-19 1h0m7 0h0m9 0h0m1 0h0m-84 1h0m64 0h0m3 0h0m15 0h0m-83 1h0m3 0h0m31 0h0m50 0h0m-48 1h0m1 0h0m29 0h0m0 1h0m-71 1h0m1 0h0m33 0h0m4 0h0m2 0h0m1 0h0m43 0h0m16 0h0m-105 1h0m3 0h0m37 0h0m1 0h0m5 0h0m43 0h0m1 0h0m16 0h0m-107 1h0m1 0h0m2 0h0m42 0h0m45 0h0m4 0h0m7 0h0m-57 1h0m32 0h0m24 0h0m1 0h0m6 0h0m-110 1h0m3 0h0m39 0h0m1 0h0m35 0h0m-78 1h0m2 0h0m2 0h0m36 0h0m2 0h0m22 0h0m8 0h0m1 0h0m21 0h0m17 0h0m-69 1h0m22 0h0m52 0h0m1 0h0m-116 1h0m87 0h0m1 0h0m10 0h0m-100 1h0m96 0h0m5 0h0m1 0h0m-105 1h0m98 0h0m12 0h0m-106 1h0m38 0h0m33 0h0m12 0h0m1 0h0m20 0h0m1 0h0m-110 1h0m2 0h0m37 0h0m2 0h0m1 0h0m1 0h0m34 0h0m13 0h0m13 0h0m3 0h0m5 0h0m-111 1h0m2 0h0m101 0h0m2 0h0m-105 1h0m92 0h0m13 0h0m-106 1h0m36 0h0m57 0h0m-92 1h0m-1 1h0m30 0h0m1 0h0m7 0h0m69 0h0m0 1h0m6 2h0m-114 1h0m1 0h0m114 0h0m-116 1h0m6 0h0m22 0h0m83 0h0m1 0h0m-89 1h0m2 0h0m71 0h0m1 0h0m1 0h0m15 0h0m-113 1h0m8 0h0m91 0h0m7 0h0m-106 1h0m4 0h0m9 0h0m5 0h0m7 0h0m74 0h0m-100 1h0m11 0h0m9 0h0m5 0h0m1 0h0m80 0h0m-109 1h0m3 0h0m9 0h0m4 0h0m1 0h0m2 0h0m9 0h0m74 0h0m6 0h0m-104 1h0m93 0h0m1 0h0m4 0h0m1 0h0m-99 1h0m4 0h0m4 0h0m-1 1h0m88 6h0m0 1h0m0 1h0"/>
<path stroke="#7d87d7" stroke-width="1.1" stroke-linecap="square" d="M364.5 1362.5h0m29 1h0m-27 1h0m4 0h0m-26 1h0m9 0h0m12 0h0m2 0h0m7 0h0m-21 1h0m9 0h0m4 0h0m-8 1h0m5 0h0m31 0h0m-39 1h0m5 0h0m5 0h0m1 0h0m1 0h0m18 0h0m-15 1h0m5 0h0m1 0h0m-24 1h0m1 0h0m1 0h0m19 0h0m1 0h0m1 0h0m-38 2h0m6 0h0m5 0h0m22 0h0m2 0h0m1 0h0m1 0h0m-38 1h0m7 0h0m3 0h0m32 0h0m-32 1h0m27 0h0m1 0h0m3 0h0m-4 1h0m3 0h0m-40 1h0m1 0h0m3 0h0m37 0h0m-40 1h0m36 0h0m-65 2h0m1 0h0m1 0h0m63 0h0m4 0h0m-69 1h0m1 0h0m1 0h0m28 0h0m38 0h0m-67 1h0m2 0h0m2 0h0m17 0h0m4 0h0m1 0h0m1 0h0m1 0h0m2 0h0m33 0h0m6 0h0m1 0h0m-78 1h0m6 0h0m1 0h0m2 0h0m1 0h0m1 0h0m2 0h0m3 0h0m22 0h0m35 0h0m4 0h0m1 0h0m-82 1h0m15 0h0m2 0h0m1 0h0m2 0h0m55 0h0m1 0h0m-79 1h0m9 0h0m10 0h0m3 0h0m18 0h0m-43 1h0m1 0h0m5 0h0m6 0h0m2 0h0m-18 1h0m5 0h0m1 0h0m4 0h0m12 0h0m25 0h0m3 0h0m-49 1h0m8 0h0m13 0h0m3 0h0m13 0h0m8 0h0m6 0h0m29 0h0m3 0h0m-80 1h0m1 0h0m6 0h0m6 0h0m29 0h0m1 0h0m1 0h0m1 0h0m1 0h0m2 0h0m28 0h0m-76 1h0m2 0h0m35 0h0m6 0h0m1 0h0m-34 1h0m5 0h0m18 0h0m5 0h0m6 0h0m28 0h0m2 0h0m-74 1h0m1 0h0m7 0h0m7 0h0m1 0h0m1 0h0m1 0h0m21 0h0m2 0h0m1 0h0m-47 1h0m8 0h0m35 0h0m4 0h0m1 0h0m24 0h0m-65 1h0m18 0h0m19 0h0m1 0h0m27 0h0m-64 1h0m2 0h0m1 0h0m30 0h0m11 0h0m5 0h0m2 0h0m2 0h0m1 0h0m6 0h0m-57 1h0m1 0h0m35 0h0m14 0h0m3 0h0m4 0h0m-9 1h0m1 0h0m8 0h0m1 0h0m1 0h0m9 0h0m-29 1h0m1 0h0m3 0h0m7 0h0m1 0h0m3 0h0m2 0h0m-17 1h0m8 0h0m-1 1h0m5 0h0m-8 1h0m4 0h0m0 1h0m-2 1h0m-3 1h0m-6 5h0m1 0h0m19 9h0m-25 4h0m25 0h0m-1 1h0m-1 1h0m-8 3h0m-12 2h0m10 0h0m3 0h0m-48 5h0m-4 1h0m4 0h0m2 0h0m-8 1h0m6 0h0m1 0h0m1 0h0m-7 1h0m13 0h0m2 0h0m-17 1h0m17 0h0m1 0h0m-6 1h0m1 0h0m-10 1h0m2 0h0m3 0h0m7 0h0m55 0h0m-80 1h0m12 0h0m2 0h0m9 0h0m1 0h0m-19 1h0m2 0h0m5 0h0m49 0h0m-60 1h0m2 0h0m18 0h0m5 0h0m1 0h0m-7 1h0m2 0h0m1 0h0m1 0h0m2 0h0m41 0h0m13 0h0m-80 1h0m21 0h0m3 0h0m1 0h0m-28 1h0m27 0h0m-1 1h0m32 0h0m-63 1h0m1 0h0m-4 1h0m34 0h0m-35 1h0m30 1h0m69 1h0m-70 1h0m2 0h0m54 0h0m-1 1h0m1 0h0m-1 1h0m-92 1h0m32 1h0m-34 1h0m34 0h0m1 0h0m-39 1h0m2 0h0m36 0h0m-39 1h0m1 0h0m0 3h0m0 2h0m32 0h0m3 0h0m-35 1h0m1 0h0m29 0h0m-31 1h0m0 1h0m-1 1h0m23 0h0m-21 1h0m1 0h0m17 0h0m1 0h0m2 0h0m-5 1h0m1 0h0m1 0h0m2 0h0m2 0h0m-25 1h0m7 0h0m-8 1h0m20 0h0m-12 1h0m1 0h0m4 0h0m1 0h0m92 0h0m-101 1h0m9 0h0m3 0h0m-13 1h0m1 0h0m1 0h0m7 0h0m3 0h0m-12 1h0m2 0h0"/>
<path stroke="#5d6cd7" stroke-width="1.1" stroke-linecap="square" d="M363.5 1362.5h0m8 1h0m0 1h0m1 0h0m-6 1h0m0 2h0m-8 1h0m3 0h0m-5 1h0m2 0h0m2 0h0m5 0h0m-16 1h0m1 0h0m6 0h0m3 0h0m9 0h0m1 0h0m1 0h0m1 0h0m1 0h0m-22 1h0m2 0h0m18 0h0m2 0h0m-23 1h0m1 0h0m1 0h0m1 0h0m19 0h0m-27 1h0m30 0h0m-30 1h0m1 0h0m2 0h0m5 0h0m-8 1h0m1 0h0m27 0h0m-31 1h0m3 0h0m28 0h0m-32 1h0m1 0h0m1 0h0m1 0h0m-2 1h0m32 0h0m-33 1h0m1 0h0m-1 1h0m31 0h0m-66 1h0m36 0h0m29 0h0m-34 1h0m1 0h0m3 0h0m33 0h0m-77 1h0m9 0h0m2 0h0m1 0h0m1 0h0m1 0h0m6 0h0m-21 1h0m2 0h0m2 0h0m2 0h0m7 0h0m1 0h0m1 0h0m1 0h0m57 0h0m-74 1h0m1 0h0m1 0h0m14 0h0m24 0h0m-40 1h0m5 0h0m2 0h0m1 0h0m1 0h0m3 0h0m2 0h0m2 0h0m25 0h0m33 0h0m-74 1h0m5 0h0m4 0h0m5 0h0m29 0h0m28 0h0m-71 1h0m2 0h0m3 0h0m4 0h0m3 0h0m1 0h0m-12 1h0m11 0h0m37 0h0m21 0h0m-72 1h0m2 0h0m5 0h0m4 0h0m33 0h0m26 0h0m-67 1h0m66 0h0m-65 1h0m2 0h0m34 0h0m3 0h0m3 0h0m19 0h0m2 0h0m-65 1h0m1 0h0m1 0h0m38 0h0m4 0h0m2 0h0m5 0h0m1 0h0m3 0h0m4 0h0m1 0h0m-19 1h0m6 0h0m1 0h0m-17 1h0m1 0h0m14 0h0m1 0h0m1 0h0m1 0h0m2 0h0m3 0h0m1 0h0m17 0h0m-25 1h0m3 0h0m4 0h0m1 0h0m17 0h0m-25 4h0m0 1h0m1 0h0m1 0h0m0 24h0m-46 8h0m0 1h0m-7 2h0m11 3h0m1 0h0m-12 1h0m9 0h0m1 0h0m1 0h0m-11 1h0m10 0h0m1 0h0m-20 1h0m5 0h0m1 0h0m2 0h0m2 0h0m2 0h0m9 0h0m-22 1h0m1 0h0m1 0h0m8 0h0m-9 1h0m18 1h0m1 0h0m1 1h0m-27 1h0m1 0h0m22 0h0m1 0h0m1 0h0m3 0h0m-33 1h0m2 0h0m2 0h0m27 0h0m1 0h0m-33 1h0m28 0h0m-28 1h0m1 0h0m27 1h0m1 0h0m-35 3h0m33 0h0m-4 1h0m-30 1h0m32 0h0m1 0h0m-40 2h0m5 0h0m30 0h0m-1 1h0m-31 1h0m30 0h0m1 0h0m1 0h0m-32 1h0m28 0h0m1 0h0m-31 1h0m1 0h0m0 1h0m25 0h0m-27 1h0m2 0h0m28 0h0m-29 1h0m2 0h0m21 0h0m-25 1h0m4 0h0m20 0h0m-24 1h0m4 0h0m20 0h0m-24 1h0m18 0h0m1 0h0m-16 1h0m13 0h0m-13 1h0m1 0h0m11 0h0m6 0h0m-16 1h0m4 0h0m1 0h0m4 0h0m-8 1h0m4 0h0m1 0h0"/>
<path stroke="#3e52d7" stroke-width="1.1" stroke-linecap="square" d="M359.5 1369.5h0m2 0h0m1 0h0m-5 1h0m1 0h0m3 0h0m1 0h0m1 0h0m2 0h0m1 0h0m1 0h0m-18 1h0m5 0h0m1 0h0m1 0h0m5 0h0m4 0h0m1 0h0m1 0h0m1 0h0m1 0h0m2 0h0m-7 1h0m1 0h0m1 0h0m2 0h0m-19 1h0m1 0h0m14 0h0m1 0h0m-17 1h0m1 0h0m1 0h0m1 0h0m6 0h0m1 0h0m-11 1h0m23 0h0m1 0h0m-25 1h0m24 0h0m1 0h0m-27 1h0m26 0h0m1 0h0m1 0h0m-3 1h0m1 0h0m2 0h0m-30 1h0m1 0h0m27 0h0m1 0h0m-30 1h0m29 0h0m-65 2h0m36 0h0m28 0h0m-63 1h0m32 0h0m1 0h0m29 0h0m-68 1h0m5 0h0m2 0h0m29 0h0m2 0h0m1 0h0m28 0h0m-67 1h0m2 0h0m4 0h0m1 0h0m1 0h0m4 0h0m23 0h0m2 0h0m2 0h0m27 0h0m2 0h0m-72 1h0m4 0h0m7 0h0m4 0h0m1 0h0m24 0h0m4 0h0m24 0h0m1 0h0m1 0h0m1 0h0m-72 1h0m5 0h0m1 0h0m1 0h0m4 0h0m1 0h0m33 0h0m26 0h0m-66 1h0m40 0h0m21 0h0m3 0h0m-67 1h0m1 0h0m2 0h0m1 0h0m2 0h0m38 0h0m3 0h0m16 0h0m1 0h0m1 0h0m1 0h0m-68 1h0m1 0h0m1 0h0m1 0h0m4 0h0m35 0h0m2 0h0m5 0h0m9 0h0m5 0h0m2 0h0m-64 1h0m1 0h0m39 0h0m1 0h0m7 0h0m8 0h0m2 0h0m4 0h0m1 0h0m1 0h0m-63 1h0m42 0h0m5 0h0m4 0h0m1 0h0m2 0h0m4 0h0m1 0h0m-17 1h0m2 0h0m1 0h0m9 0h0m-2 1h0m-54 46h0m1 0h0m1 0h0m-8 1h0m10 0h0m-15 1h0m1 0h0m3 0h0m7 0h0m2 0h0m1 0h0m-15 1h0m3 0h0m3 0h0m3 0h0m1 0h0m1 0h0m1 0h0m1 0h0m1 0h0m-17 1h0m2 0h0m1 0h0m9 0h0m2 0h0m1 0h0m1 0h0m-19 1h0m2 0h0m1 0h0m1 0h0m1 0h0m1 0h0m15 0h0m-21 1h0m22 0h0m1 0h0m1 1h0m-27 1h0m-5 1h0m1 0h0m1 0h0m1 0h0m23 1h0m-26 1h0m26 0h0m-27 1h0m-2 1h0m28 0h0m-31 1h0m1 0h0m1 0h0m29 0h0m-32 1h0m31 0h0m1 0h0m1 0h0m-33 1h0m28 1h0m-30 1h0m1 0h0m-2 1h0m28 0h0m-29 1h0m1 0h0m27 0h0m-28 1h0m-1 1h0m24 0h0m3 0h0m-30 1h0m3 0h0m23 0h0m2 0h0m1 0h0m1 0h0m-27 1h0m26 0h0m-25 1h0m-4 1h0m2 0h0m-2 1h0m2 0h0m2 0h0m18 0h0m-21 1h0m2 0h0m1 0h0m12 0h0m-13 1h0m1 0h0m0 1h0m1 1h0m1 0h0m1 0h0m3 0h0m4 0h0"/>
<path stroke="#1f76de" stroke-width="1.1" stroke-linecap="square" d="M357.5 1371.5h0m2 0h0m3 0h0m2 0h0m-11 1h0m3 0h0m1 0h0m3 0h0m1 0h0m-8 1h0m3 0h0m1 0h0m1 0h0m4 0h0m1 0h0m5 0h0m-15 1h0m3 0h0m6 0h0m1 0h0m1 0h0m5 0h0m-21 1h0m1 0h0m2 0h0m-4 1h0m1 0h0m18 0h0m3 0h0m0 1h0m-25 1h0m24 0h0m3 0h0m-27 1h0m1 0h0m23 0h0m1 0h0m-26 1h0m1 0h0m-2 1h0m1 0h0m26 0h0m-33 2h0m5 0h0m26 0h0m-30 1h0m6 0h0m1 0h0m-45 1h0m12 0h0m31 0h0m22 0h0m3 0h0m-26 1h0m2 0h0m-2 1h0m21 0h0m1 0h0m1 0h0m-63 1h0m40 0h0m1 0h0m1 0h0m1 0h0m15 0h0m3 0h0m1 0h0m-23 1h0m5 0h0m8 0h0m1 0h0m4 0h0m1 0h0m-18 1h0m1 0h0m3 0h0m7 0h0m2 0h0m3 0h0m2 0h0m-19 1h0m3 0h0m2 0h0m3 0h0m2 0h0m3 0h0m2 0h0m1 0h0m-16 1h0m1 0h0m1 0h0m1 0h0m3 0h0m6 0h0m2 0h0m-4 1h0m-52 47h0m-3 1h0m1 0h0m1 0h0m-1 1h0m-12 1h0m1 0h0m2 0h0m-3 1h0m1 0h0m1 0h0m1 0h0m2 0h0m4 0h0m-9 1h0m1 0h0m6 0h0m1 0h0m3 0h0m1 0h0m-17 1h0m1 0h0m16 0h0m1 0h0m-18 1h0m16 0h0m1 0h0m-21 1h0m1 0h0m19 0h0m-22 1h0m22 0h0m-25 1h0m1 0h0m21 0h0m1 0h0m1 0h0m-24 1h0m24 0h0m-25 1h0m23 0h0m2 0h0m-27 1h0m1 0h0m25 0h0m-27 1h0m25 0h0m1 0h0m1 0h0m-30 1h0m1 0h0m0 1h0m24 1h0m1 0h0m-27 1h0m-2 1h0m1 0h0m25 0h0m-26 1h0m25 0h0m-26 2h0m21 0h0m2 0h0m1 0h0m-25 1h0m2 0h0m17 1h0m1 0h0m-2 2h0m-21 1h0m15 0h0m2 0h0m1 0h0m1 0h0m-5 1h0m-7 1h0m5 0h0m-8 1h0m1 0h0m1 0h0m1 0h0m3 1h0m1 0h0"/>
<path stroke="#00a0e6" stroke-width="1.1" stroke-linecap="square" d="M363.5 1371.5h0m-9 1h0m1 0h0m3 0h0m1 0h0m3 0h0m1 0h0m-4 1h0m1 0h0m1 0h0m5 0h0m1 0h0m-13 1h0m1 0h0m4 0h0m2 0h0m4 0h0m1 0h0m2 0h0m-18 1h0m2 0h0m6 0h0m4 0h0m1 0h0m1 0h0m1 0h0m1 0h0m1 0h0m2 0h0m-20 1h0m1 0h0m1 0h0m1 0h0m13 0h0m2 0h0m1 0h0m-23 1h0m1 0h0m1 0h0m1 0h0m1 0h0m1 0h0m1 0h0m15 0h0m1 0h0m1 0h0m-23 1h0m2 0h0m1 0h0m1 0h0m1 0h0m1 0h0m16 0h0m-21 1h0m2 0h0m1 0h0m1 0h0m17 0h0m-22 1h0m1 0h0m22 0h0m-24 1h0m1 0h0m23 0h0m-26 1h0m2 0h0m22 0h0m1 0h0m1 0h0m-26 1h0m2 0h0m18 0h0m1 0h0m2 0h0m1 0h0m-26 1h0m1 0h0m1 0h0m3 0h0m17 0h0m1 0h0m1 0h0m1 0h0m-24 1h0m3 0h0m17 0h0m1 0h0m1 0h0m-21 1h0m2 0h0m17 0h0m1 0h0m1 0h0m-21 1h0m1 0h0m1 0h0m1 0h0m2 0h0m12 0h0m1 0h0m1 0h0m-16 1h0m9 0h0m1 0h0m3 0h0m-12 1h0m2 0h0m1 0h0m1 0h0m2 0h0m3 0h0m1 0h0m1 0h0m-11 1h0m1 0h0m1 0h0m1 0h0m1 0h0m1 0h0m5 0h0m-15 1h0m1 0h0m4 0h0m1 0h0m-59 53h0m2 0h0m-4 1h0m1 0h0m1 0h0m2 0h0m3 0h0m-12 1h0m1 0h0m1 0h0m1 0h0m1 0h0m1 0h0m1 0h0m4 0h0m1 0h0m1 0h0m2 0h0m-17 1h0m2 0h0m1 0h0m10 0h0m-14 1h0m1 0h0m1 0h0m1 0h0m11 0h0m1 0h0m2 0h0m-20 1h0m17 0h0m1 0h0m-20 1h0m1 0h0m18 0h0m-20 1h0m21 0h0m1 0h0m-23 1h0m21 0h0m2 0h0m-24 1h0m23 0h0m-25 1h0m23 0h0m-24 1h0m23 0h0m-2 1h0m1 0h0m1 0h0m-26 1h0m24 0h0m-1 1h0m-24 1h0m23 0h0m-24 1h0m1 0h0m21 0h0m1 0h0m-24 1h0m1 0h0m21 0h0m1 0h0m-23 1h0m19 1h0m-19 1h0m16 0h0m-17 1h0m0 1h0m15 0h0m1 0h0m-12 1h0m5 0h0m1 0h0m2 0h0m-12 1h0m3 0h0m5 0h0m1 0h0m-9 1h0m1 0h0m3 0h0m1 0h0m1 0h0m1 0h0m0 1h0"/>
<path stroke="#0eb3a2" stroke-width="1.1" stroke-linecap="square" d="M354.5 1373.5h0m1 0h0m5 1h0m7 0h0m-13 1h0m1 0h0m1 0h0m3 0h0m1 0h0m1 0h0m7 0h0m-15 1h0m1 0h0m7 0h0m1 0h0m1 0h0m1 0h0m-12 1h0m1 0h0m11 0h0m1 0h0m-19 1h0m6 0h0m13 0h0m1 0h0m-19 1h0m4 0h0m9 0h0m6 0h0m-19 1h0m1 0h0m1 0h0m18 0h0m-21 1h0m1 0h0m19 0h0m1 0h0m-24 1h0m2 0h0m1 0h0m2 0h0m14 0h0m1 0h0m1 0h0m1 0h0m-22 1h0m4 0h0m1 0h0m1 0h0m12 0h0m3 0h0m-18 1h0m2 0h0m1 0h0m11 0h0m1 0h0m-16 1h0m1 0h0m1 0h0m13 0h0m-15 1h0m1 0h0m2 0h0m6 0h0m3 0h0m3 0h0m-14 1h0m2 0h0m6 0h0m1 0h0m1 0h0m1 0h0m1 0h0m-12 1h0m1 0h0m1 0h0m1 0h0m1 0h0m1 0h0m2 0h0m3 0h0m1 0h0m-10 1h0m4 0h0m-62 56h0m-1 1h0m1 0h0m1 0h0m4 0h0m-8 1h0m1 0h0m3 0h0m2 0h0m1 0h0m1 0h0m-6 1h0m2 0h0m3 0h0m-18 1h0m1 0h0m2 0h0m1 0h0m10 0h0m1 0h0m-16 1h0m1 0h0m15 0h0m-18 1h0m18 0h0m-19 1h0m1 0h0m18 0h0m-20 1h0m20 0h0m-22 1h0m1 0h0m-2 1h0m19 0h0m1 0h0m1 0h0m-23 1h0m1 0h0m20 0h0m-22 1h0m1 0h0m21 0h0m-23 1h0m22 0h0m-22 1h0m20 0h0m1 0h0m-21 1h0m19 0h0m-20 1h0m18 0h0m-19 1h0m18 0h0m-18 1h0m15 0h0m1 0h0m1 0h0m-17 1h0m-1 1h0m1 0h0m1 0h0m13 0h0m-15 1h0m1 0h0m1 0h0m1 0h0m5 0h0m2 0h0m1 0h0m1 0h0m1 0h0m-13 1h0m1 0h0m1 0h0m-2 1h0m1 0h0m2 0h0m1 0h0m1 0h0m1 0h0m-1 2h0"/>
<path stroke="#1cc65f" stroke-width="1.1" stroke-linecap="square" d="M355.5 1376.5h0m1 0h0m1 0h0m1 0h0m1 0h0m1 0h0m-6 1h0m4 0h0m2 0h0m1 0h0m1 0h0m1 0h0m-10 1h0m1 0h0m1 0h0m3 0h0m1 0h0m1 0h0m1 0h0m2 0h0m1 0h0m-12 1h0m1 0h0m1 0h0m5 0h0m2 0h0m1 0h0m2 0h0m1 0h0m-15 1h0m1 0h0m2 0h0m7 0h0m1 0h0m3 0h0m1 0h0m1 0h0m-18 1h0m1 0h0m10 0h0m1 0h0m1 0h0m1 0h0m1 0h0m1 0h0m1 0h0m-18 1h0m2 0h0m9 0h0m2 0h0m1 0h0m-15 1h0m11 0h0m1 0h0m1 0h0m1 0h0m-13 1h0m10 0h0m2 0h0m-11 1h0m1 0h0m1 0h0m1 0h0m1 0h0m1 0h0m2 0h0m1 0h0m1 0h0m1 0h0m1 0h0m-10 1h0m1 0h0m1 0h0m1 0h0m1 0h0m2 0h0m1 0h0m2 0h0m1 0h0m-10 1h0m1 0h0m1 0h0m1 0h0m1 0h0m-1 1h0m-70 59h0m1 0h0m1 0h0m1 0h0m3 0h0m1 0h0m-8 1h0m1 0h0m3 0h0m1 0h0m1 0h0m2 0h0m-12 1h0m3 0h0m1 0h0m6 0h0m1 0h0m-12 1h0m1 0h0m11 0h0m1 0h0m-16 1h0m1 0h0m1 0h0m13 0h0m1 0h0m-16 1h0m16 0h0m-18 1h0m18 0h0m-19 1h0m19 0h0m-21 1h0m17 0h0m-18 1h0m18 0h0m-19 1h0m1 0h0m17 0h0m1 0h0m-21 1h0m19 0h0m1 0h0m-2 1h0m-2 1h0m1 0h0m-18 1h0m16 0h0m-17 1h0m16 0h0m-16 1h0m0 1h0m1 0h0m12 0h0m-12 1h0m5 0h0m1 0h0m1 0h0m1 0h0m1 0h0m1 0h0m1 0h0m-10 1h0m3 0h0m-3 1h0m1 0h0m1 0h0m1 0h0"/>
<path stroke="#63d239" stroke-width="1.1" stroke-linecap="square" d="M355.5 1377.5h0m1 0h0m1 0h0m2 0h0m-3 1h0m1 0h0m5 0h0m-7 1h0m1 0h0m1 0h0m1 0h0m5 0h0m-11 1h0m2 0h0m1 0h0m1 0h0m1 0h0m1 0h0m1 0h0m3 0h0m1 0h0m-13 1h0m1 0h0m1 0h0m1 0h0m1 0h0m2 0h0m1 0h0m1 0h0m-8 1h0m2 0h0m3 0h0m1 0h0m1 0h0m2 0h0m-9 1h0m1 0h0m4 0h0m1 0h0m-6 1h0m1 0h0m1 0h0m1 0h0m1 0h0m2 0h0m2 0h0m-4 1h0m-71 63h0m1 0h0m-2 1h0m1 0h0m1 0h0m1 0h0m1 0h0m-8 1h0m1 0h0m1 0h0m3 0h0m1 0h0m1 0h0m1 0h0m1 0h0m-11 1h0m8 0h0m1 0h0m2 0h0m-13 1h0m1 0h0m12 0h0m1 0h0m-16 1h0m1 0h0m13 0h0m1 0h0m1 0h0m-17 1h0m15 0h0m1 0h0m1 0h0m-19 1h0m1 0h0m14 0h0m-16 1h0m16 0h0m-19 2h0m1 0h0m1 0h0m15 0h0m-18 1h0m1 0h0m1 0h0m15 0h0m-17 1h0m15 0h0m-15 1h0m-1 1h0m1 0h0m12 0h0m1 0h0m-14 1h0m1 0h0m11 0h0m-11 1h0m1 0h0m4 0h0m3 0h0m1 0h0m1 0h0m-10 1h0m1 0h0m1 0h0m1 0h0m-2 1h0m1 0h0"/>
<path stroke="#afdd15" stroke-width="1.1" stroke-linecap="square" d="M355.5 1381.5h0m-4 1h0m2 0h0m1 0h0m-2 1h0m1 0h0m1 0h0m1 1h0m-74 66h0m1 0h0m-5 1h0m1 0h0m1 0h0m1 0h0m1 0h0m1 0h0m1 0h0m3 0h0m-10 1h0m5 0h0m2 0h0m1 0h0m1 0h0m1 0h0m-12 1h0m1 0h0m9 0h0m1 0h0m-13 1h0m2 0h0m9 0h0m1 0h0m1 0h0m-14 1h0m12 0h0m-14 1h0m14 0h0m-15 1h0m14 0h0m1 0h0m-2 1h0m-14 1h0m11 0h0m1 0h0m1 0h0m-15 1h0m1 0h0m12 0h0m-13 1h0m11 0h0m1 0h0m1 0h0m-13 1h0m1 0h0m9 0h0m-10 1h0m1 0h0m1 0h0m1 0h0m4 0h0m1 0h0m1 0h0m-8 1h0m1 0h0m1 0h0m2 0h0m1 0h0"/>
<path stroke="#dbc906" stroke-width="1.1" stroke-linecap="square" d="M277.5 1452.5h0m1 0h0m1 0h0m1 0h0m2 0h0m-6 1h0m1 0h0m1 0h0m2 0h0m1 0h0m1 0h0m1 0h0m-10 1h0m2 0h0m1 0h0m1 0h0m4 0h0m1 0h0m-10 1h0m1 0h0m1 0h0m1 0h0m7 0h0m-12 1h0m1 0h0m1 0h0m1 0h0m8 0h0m1 0h0m-13 1h0m1 0h0m9 0h0m1 0h0m1 0h0m-13 1h0m1 0h0m8 0h0m1 0h0m1 0h0m1 0h0m-12 1h0m8 0h0m1 0h0m-10 1h0m1 0h0m8 0h0m1 0h0m-11 1h0m1 0h0m1 0h0m7 0h0m-8 1h0m1 0h0m1 0h0m1 0h0m1 0h0m1 0h0m1 0h0m1 0h0m-5 1h0m1 0h0m1 0h0"/>
<path stroke="#f8a801" stroke-width="1.1" stroke-linecap="square" d="M279.5 1453.5h0m-1 1h0m1 0h0m1 0h0m-4 1h0m1 0h0m1 0h0m1 0h0m1 0h0m1 0h0m-7 1h0m1 0h0m1 0h0m1 0h0m1 0h0m1 0h0m1 0h0m-9 1h0m1 0h0m1 0h0m1 0h0m1 0h0m1 0h0m1 0h0m1 0h0m-8 1h0m1 0h0m1 0h0m1 0h0m1 0h0m1 0h0m1 0h0m-7 1h0m1 0h0m1 0h0m1 0h0m1 0h0m1 0h0m1 0h0m-6 1h0m1 0h0m1 0h0m1 0h0m1 0h0m1 0h0m1 0h0m-6 1h0m1 0h0m1 0h0m1 0h0m1 0h0m1 0h0"/>
<line x1="327.5" y1="1329" x2="327.5" y2="1491.5" stroke="#555" stroke-width="1.1"/>
<line x1="238.75" y1="1401.5" x2="402" y2="1401.5" stroke="#555" stroke-width="1.1"/>
<rect x="238.75" y="1329" width="163.25" height="162.5" fill="none" stroke="#666" stroke-width="1.3"/>
<text x="242.25" y="1338" font-size="7" style='font-weight:normal;font-family:"Liberation Sans";fill:#222;'>Q1</text>
<text x="242.25" y="1349" font-size="7" style='font-weight:normal;font-family:"Liberation Sans";fill:#222;'>2.87%</text>
<text x="399" y="1338" font-size="7" text-anchor="end" style='font-weight:normal;font-family:"Liberation Sans";fill:#222;'>Q2</text>
<text x="399" y="1349" font-size="7" text-anchor="end" style='font-weight:normal;font-family:"Liberation Sans";fill:#222;'>26.6%</text>
<text x="242.25" y="1477.5" font-size="7" style='font-weight:normal;font-family:"Liberation Sans";fill:#222;'>Q4</text>
<text x="242.25" y="1488.5" font-size="7" style='font-weight:normal;font-family:"Liberation Sans";fill:#222;'>64.7%</text>
<text x="399" y="1477.5" font-size="7" text-anchor="end" style='font-weight:normal;font-family:"Liberation Sans";fill:#222;'>Q3</text>
<text x="399" y="1488.5" font-size="7" text-anchor="end" style='font-weight:normal;font-family:"Liberation Sans";fill:#222;'>4.35%</text>
<line x1="258.75" y1="1491.5" x2="258.75" y2="1494.5" stroke="#777" stroke-width="0.8"/>
<text x="257.75" y="1506.5" font-size="7.5" text-anchor="middle" style='font-family:"Liberation Sans";fill:#333;'>10</text>
<text x="262.25" y="1501" font-size="5.5" style='font-family:"Liberation Sans";fill:#333;'>4</text>
<line x1="295" y1="1491.5" x2="295" y2="1494.5" stroke="#777" stroke-width="0.8"/>
<text x="294" y="1506.5" font-size="7.5" text-anchor="middle" style='font-family:"Liberation Sans";fill:#333;'>10</text>
<text x="298.5" y="1501" font-size="5.5" style='font-family:"Liberation Sans";fill:#333;'>5</text>
<line x1="331" y1="1491.5" x2="331" y2="1494.5" stroke="#777" stroke-width="0.8"/>
<text x="330" y="1506.5" font-size="7.5" text-anchor="middle" style='font-family:"Liberation Sans";fill:#333;'>10</text>
<text x="334.5" y="1501" font-size="5.5" style='font-family:"Liberation Sans";fill:#333;'>6</text>
<line x1="370" y1="1491.5" x2="370" y2="1494.5" stroke="#777" stroke-width="0.8"/>
<text x="369" y="1506.5" font-size="7.5" text-anchor="middle" style='font-family:"Liberation Sans";fill:#333;'>10</text>
<text x="373.5" y="1501" font-size="5.5" style='font-family:"Liberation Sans";fill:#333;'>7</text>
<line x1="235.75" y1="1339.5" x2="238.75" y2="1339.5" stroke="#777" stroke-width="0.8"/>
<text x="231.75" y="1342.5" font-size="7.5" text-anchor="end" style='font-family:"Liberation Sans";fill:#333;'>10</text>
<text x="231.75" y="1337.5" font-size="5.5" style='font-family:"Liberation Sans";fill:#333;'>7</text>
<line x1="235.75" y1="1375.75" x2="238.75" y2="1375.75" stroke="#777" stroke-width="0.8"/>
<text x="231.75" y="1378.75" font-size="7.5" text-anchor="end" style='font-family:"Liberation Sans";fill:#333;'>10</text>
<text x="231.75" y="1373.75" font-size="5.5" style='font-family:"Liberation Sans";fill:#333;'>6</text>
<line x1="235.75" y1="1413" x2="238.75" y2="1413" stroke="#777" stroke-width="0.8"/>
<text x="231.75" y="1416" font-size="7.5" text-anchor="end" style='font-family:"Liberation Sans";fill:#333;'>10</text>
<text x="231.75" y="1411" font-size="5.5" style='font-family:"Liberation Sans";fill:#333;'>5</text>
<line x1="235.75" y1="1453" x2="238.75" y2="1453" stroke="#777" stroke-width="0.8"/>
<text x="231.75" y="1456" font-size="7.5" text-anchor="end" style='font-family:"Liberation Sans";fill:#333;'>10</text>
<text x="231.75" y="1451" font-size="5.5" style='font-family:"Liberation Sans";fill:#333;'>4</text>
<line x1="235.75" y1="1488" x2="238.75" y2="1488" stroke="#777" stroke-width="0.8"/>
<text x="231.75" y="1491" font-size="7.5" text-anchor="end" style='font-family:"Liberation Sans";fill:#333;'>10</text>
<text x="231.75" y="1486" font-size="5.5" style='font-family:"Liberation Sans";fill:#333;'>3</text>
<line x1="238.75" y1="1491.5" x2="238.75" y2="1493" stroke="#999" stroke-width="0.6"/>
<line x1="243.75" y1="1491.5" x2="243.75" y2="1493" stroke="#999" stroke-width="0.6"/>
<line x1="248.75" y1="1491.5" x2="248.75" y2="1493" stroke="#999" stroke-width="0.6"/>
<line x1="253.75" y1="1491.5" x2="253.75" y2="1493" stroke="#999" stroke-width="0.6"/>
<line x1="258.75" y1="1491.5" x2="258.75" y2="1493" stroke="#999" stroke-width="0.6"/>
<line x1="263.75" y1="1491.5" x2="263.75" y2="1493" stroke="#999" stroke-width="0.6"/>
<line x1="268.75" y1="1491.5" x2="268.75" y2="1493" stroke="#999" stroke-width="0.6"/>
<line x1="273.75" y1="1491.5" x2="273.75" y2="1493" stroke="#999" stroke-width="0.6"/>
<line x1="278.75" y1="1491.5" x2="278.75" y2="1493" stroke="#999" stroke-width="0.6"/>
<line x1="283.75" y1="1491.5" x2="283.75" y2="1493" stroke="#999" stroke-width="0.6"/>
<line x1="288.75" y1="1491.5" x2="288.75" y2="1493" stroke="#999" stroke-width="0.6"/>
<line x1="293.75" y1="1491.5" x2="293.75" y2="1493" stroke="#999" stroke-width="0.6"/>
<line x1="298.75" y1="1491.5" x2="298.75" y2="1493" stroke="#999" stroke-width="0.6"/>
<line x1="303.75" y1="1491.5" x2="303.75" y2="1493" stroke="#999" stroke-width="0.6"/>
<line x1="308.75" y1="1491.5" x2="308.75" y2="1493" stroke="#999" stroke-width="0.6"/>
<line x1="313.75" y1="1491.5" x2="313.75" y2="1493" stroke="#999" stroke-width="0.6"/>
<line x1="318.75" y1="1491.5" x2="318.75" y2="1493" stroke="#999" stroke-width="0.6"/>
<line x1="323.75" y1="1491.5" x2="323.75" y2="1493" stroke="#999" stroke-width="0.6"/>
<line x1="328.75" y1="1491.5" x2="328.75" y2="1493" stroke="#999" stroke-width="0.6"/>
<line x1="333.75" y1="1491.5" x2="333.75" y2="1493" stroke="#999" stroke-width="0.6"/>
<line x1="338.75" y1="1491.5" x2="338.75" y2="1493" stroke="#999" stroke-width="0.6"/>
<line x1="343.75" y1="1491.5" x2="343.75" y2="1493" stroke="#999" stroke-width="0.6"/>
<line x1="348.75" y1="1491.5" x2="348.75" y2="1493" stroke="#999" stroke-width="0.6"/>
<line x1="353.75" y1="1491.5" x2="353.75" y2="1493" stroke="#999" stroke-width="0.6"/>
<line x1="358.75" y1="1491.5" x2="358.75" y2="1493" stroke="#999" stroke-width="0.6"/>
<line x1="363.75" y1="1491.5" x2="363.75" y2="1493" stroke="#999" stroke-width="0.6"/>
<line x1="368.75" y1="1491.5" x2="368.75" y2="1493" stroke="#999" stroke-width="0.6"/>
<line x1="373.75" y1="1491.5" x2="373.75" y2="1493" stroke="#999" stroke-width="0.6"/>
<line x1="378.75" y1="1491.5" x2="378.75" y2="1493" stroke="#999" stroke-width="0.6"/>
<line x1="383.75" y1="1491.5" x2="383.75" y2="1493" stroke="#999" stroke-width="0.6"/>
<line x1="388.75" y1="1491.5" x2="388.75" y2="1493" stroke="#999" stroke-width="0.6"/>
<line x1="393.75" y1="1491.5" x2="393.75" y2="1493" stroke="#999" stroke-width="0.6"/>
<line x1="237.25" y1="1329" x2="238.75" y2="1329" stroke="#999" stroke-width="0.6"/>
<line x1="237.25" y1="1334" x2="238.75" y2="1334" stroke="#999" stroke-width="0.6"/>
<line x1="237.25" y1="1339" x2="238.75" y2="1339" stroke="#999" stroke-width="0.6"/>
<line x1="237.25" y1="1344" x2="238.75" y2="1344" stroke="#999" stroke-width="0.6"/>
<line x1="237.25" y1="1349" x2="238.75" y2="1349" stroke="#999" stroke-width="0.6"/>
<line x1="237.25" y1="1354" x2="238.75" y2="1354" stroke="#999" stroke-width="0.6"/>
<line x1="237.25" y1="1359" x2="238.75" y2="1359" stroke="#999" stroke-width="0.6"/>
<line x1="237.25" y1="1364" x2="238.75" y2="1364" stroke="#999" stroke-width="0.6"/>
<line x1="237.25" y1="1369" x2="238.75" y2="1369" stroke="#999" stroke-width="0.6"/>
<line x1="237.25" y1="1374" x2="238.75" y2="1374" stroke="#999" stroke-width="0.6"/>
<line x1="237.25" y1="1379" x2="238.75" y2="1379" stroke="#999" stroke-width="0.6"/>
<line x1="237.25" y1="1384" x2="238.75" y2="1384" stroke="#999" stroke-width="0.6"/>
<line x1="237.25" y1="1389" x2="238.75" y2="1389" stroke="#999" stroke-width="0.6"/>
<line x1="237.25" y1="1394" x2="238.75" y2="1394" stroke="#999" stroke-width="0.6"/>
<line x1="237.25" y1="1399" x2="238.75" y2="1399" stroke="#999" stroke-width="0.6"/>
<line x1="237.25" y1="1404" x2="238.75" y2="1404" stroke="#999" stroke-width="0.6"/>
<line x1="237.25" y1="1409" x2="238.75" y2="1409" stroke="#999" stroke-width="0.6"/>
<line x1="237.25" y1="1414" x2="238.75" y2="1414" stroke="#999" stroke-width="0.6"/>
<line x1="237.25" y1="1419" x2="238.75" y2="1419" stroke="#999" stroke-width="0.6"/>
<line x1="237.25" y1="1424" x2="238.75" y2="1424" stroke="#999" stroke-width="0.6"/>
<line x1="237.25" y1="1429" x2="238.75" y2="1429" stroke="#999" stroke-width="0.6"/>
<line x1="237.25" y1="1434" x2="238.75" y2="1434" stroke="#999" stroke-width="0.6"/>
<line x1="237.25" y1="1439" x2="238.75" y2="1439" stroke="#999" stroke-width="0.6"/>
<line x1="237.25" y1="1444" x2="238.75" y2="1444" stroke="#999" stroke-width="0.6"/>
<line x1="237.25" y1="1449" x2="238.75" y2="1449" stroke="#999" stroke-width="0.6"/>
<line x1="237.25" y1="1454" x2="238.75" y2="1454" stroke="#999" stroke-width="0.6"/>
<line x1="237.25" y1="1459" x2="238.75" y2="1459" stroke="#999" stroke-width="0.6"/>
<line x1="237.25" y1="1464" x2="238.75" y2="1464" stroke="#999" stroke-width="0.6"/>
<line x1="237.25" y1="1469" x2="238.75" y2="1469" stroke="#999" stroke-width="0.6"/>
<line x1="237.25" y1="1474" x2="238.75" y2="1474" stroke="#999" stroke-width="0.6"/>
<line x1="237.25" y1="1479" x2="238.75" y2="1479" stroke="#999" stroke-width="0.6"/>
<line x1="237.25" y1="1484" x2="238.75" y2="1484" stroke="#999" stroke-width="0.6"/>
<rect x="432.5" y="1327" width="165" height="164.5" fill="#fff"/>
<path stroke="#a5abd8" stroke-width="1.1" stroke-linecap="square" d="M550.5 1335.5h0m-47 5h0m25 7h0m43 3h0m-39 1h0m25 0h0m6 0h0m-28 1h0m10 0h0m-12 1h0m23 0h0m-10 1h0m24 0h0m-22 1h0m4 0h0m12 0h0m9 0h0m16 0h0m-126 1h0m67 0h0m6 0h0m6 1h0m20 0h0m13 0h0m-81 1h0m78 0h0m9 0h0m7 0h0m-108 1h0m32 0h0m-62 1h0m128 0h0m-76 1h0m30 0h0m42 0h0m4 1h0m-95 1h0m49 0h0m15 0h0m-102 1h0m107 0h0m-35 1h0m16 0h0m47 0h0m-8 1h0m15 0h0m-50 1h0m44 1h0m13 0h0m-62 1h0m-29 1h0m19 0h0m3 0h0m51 0h0m2 0h0m4 0h0m-48 1h0m-33 1h0m18 0h0m56 1h0m-61 1h0m10 0h0m-68 1h0m13 0h0m50 0h0m60 0h0m-80 1h0m88 0h0m-86 1h0m77 0h0m7 0h0m-144 1h0m79 0h0m10 0h0m-51 1h0m9 0h0m90 0h0m4 0h0m6 0h0m-137 1h0m63 0h0m2 0h0m6 1h0m-40 1h0m-7 1h0m98 0h0m-125 1h0m62 0h0m-8 1h0m69 0h0m5 0h0m11 0h0m-147 1h0m29 0h0m3 0h0m4 0h0m30 0h0m-62 1h0m30 0h0m4 0h0m94 0h0m8 0h0m-108 1h0m50 0h0m42 0h0m-120 1h0m67 0h0m70 0h0m-54 1h0m61 0h0m-120 1h0m3 0h0m29 0h0m4 0h0m59 0h0m-112 2h0m14 0h0m52 0h0m2 1h0m-49 1h0m2 0h0m10 2h0m-6 1h0m8 0h0m69 0h0m-71 1h0m87 0h0m-90 1h0m8 0h0m37 0h0m4 0h0m-2 1h0m4 0h0m32 0h0m-118 1h0m22 0h0m62 0h0m4 0h0m11 0h0m34 1h0m-99 1h0m44 0h0m17 0h0m11 0h0m6 0h0m-48 1h0m10 0h0m19 0h0m-55 1h0m44 0h0m23 0h0m-53 1h0m33 0h0m24 0h0m-101 1h0m18 0h0m34 0h0m27 0h0m-17 1h0m14 0h0m6 0h0m15 0h0m4 0h0m25 0h0m-115 1h0m73 0h0m23 0h0m21 0h0m-46 1h0m11 0h0m-45 1h0m57 0h0m-53 1h0m18 0h0m14 0h0m17 0h0m2 0h0m12 0h0m-54 1h0m45 0h0m-75 1h0m35 0h0m4 0h0m21 0h0m9 0h0m23 0h0m-17 1h0m-5 1h0m-40 1h0m4 0h0m3 0h0m-41 1h0m68 0h0m-78 1h0m29 0h0m37 0h0m6 0h0m12 0h0m27 0h0m-101 2h0m60 0h0m28 0h0m-83 1h0m18 0h0m28 0h0m7 0h0m15 0h0m21 0h0m-82 1h0m68 1h0m2 0h0m-121 1h0m38 0h0m58 0h0m4 0h0m7 0h0m10 0h0m-28 1h0m21 0h0m2 0h0m-88 1h0m45 0h0m18 0h0m21 0h0m-54 1h0m-34 1h0m29 0h0m49 0h0m14 0h0m-84 1h0m44 0h0m7 0h0m39 0h0m8 0h0m12 0h0m-135 1h0m23 0h0m14 0h0m46 0h0m6 0h0m16 0h0m-42 1h0m31 0h0m-3 1h0m20 0h0m23 0h0m-69 1h0m7 0h0m37 0h0m28 0h0m-61 1h0m18 0h0m-63 1h0m115 0h0m-38 1h0m-45 1h0m18 0h0m-63 1h0m66 0h0m37 0h0m12 0h0m-71 1h0m13 0h0m2 0h0m2 0h0m10 0h0m30 0h0m-97 1h0m63 0h0m30 0h0m-33 1h0m24 0h0m25 0h0m-115 1h0m46 0h0m10 0h0m12 1h0m5 0h0m25 0h0m31 0h0m-129 1h0m45 0h0m16 0h0m2 0h0m8 0h0m9 0h0m26 1h0m-114 1h0m63 0h0m12 0h0m3 0h0m-72 1h0m100 0h0m19 0h0m-46 1h0m51 0h0m-67 1h0m8 1h0m16 0h0m19 0h0m2 0h0m-16 1h0m12 1h0m5 0h0m-2 1h0m4 0h0m-118 1h0m2 1h0m54 0h0m20 0h0m11 0h0m5 0h0m21 0h0m-113 1h0m80 0h0m37 0h0m-26 1h0m17 0h0m17 0h0m-66 1h0m27 0h0m20 0h0m37 0h0m-96 1h0m5 0h0m12 0h0m5 0h0m23 0h0m-52 1h0m2 0h0m17 0h0m51 0h0m-67 2h0m34 0h0m5 0h0m12 0h0m32 0h0m-124 1h0m107 0h0m-76 1h0m59 0h0m35 0h0m-32 1h0m6 0h0m-106 1h0m98 0h0m-88 1h0m99 0h0m3 2h0m7 0h0m3 0h0m-13 1h0m22 0h0m-99 1h0m9 0h0m13 0h0m46 0h0m-90 1h0m8 0h0m74 0h0m28 1h0m24 0h0m-130 1h0m83 0h0m25 1h0m3 0h0m2 0h0m-123 1h0m5 0h0m13 0h0m7 0h0m19 0h0m81 0h0m5 0h0m-122 1h0m45 0h0m11 0h0m30 0h0m7 0h0m-19 2h0m3 0h0m15 0h0m-89 2h0m22 0h0m5 0h0m51 0h0m14 0h0m-103 1h0m28 0h0m53 0h0m5 0h0m21 0h0m4 0h0m4 0h0m21 0h0m-9 2h0m-50 1h0m27 0h0m-3 1h0m14 0h0"/>
<path stroke="#949bd7" stroke-width="1.1" stroke-linecap="square" d="M563.5 1353.5h0m-1 1h0m16 0h0m1 1h0m-13 1h0m-21 1h0m1 0h0m1 0h0m20 0h0m-18 1h0m15 0h0m2 0h0m2 0h0m15 0h0m-33 1h0m9 0h0m4 0h0m20 0h0m-21 1h0m2 0h0m3 0h0m-30 1h0m4 0h0m13 0h0m14 0h0m3 0h0m1 0h0m11 0h0m-47 1h0m5 0h0m2 0h0m11 0h0m9 0h0m4 0h0m15 0h0m-48 1h0m4 0h0m5 0h0m7 0h0m9 0h0m4 0h0m2 0h0m8 0h0m-36 1h0m1 0h0m12 0h0m4 0h0m16 0h0m2 0h0m-32 1h0m3 0h0m7 0h0m4 0h0m2 0h0m5 0h0m14 0h0m-52 1h0m5 0h0m1 0h0m11 0h0m5 0h0m9 0h0m5 0h0m-30 1h0m11 0h0m29 0h0m-28 1h0m32 0h0m6 0h0m-42 1h0m1 0h0m3 0h0m2 0h0m44 0h0m-17 1h0m16 0h0m-55 1h0m8 0h0m27 0h0m2 0h0m-38 1h0m40 0h0m3 0h0m-46 1h0m2 0h0m3 0h0m51 0h0m-51 1h0m4 0h0m36 0h0m1 0h0m11 0h0m-93 1h0m36 0h0m1 0h0m47 0h0m-85 1h0m33 0h0m1 0h0m1 0h0m2 0h0m4 0h0m3 0h0m38 0h0m2 0h0m-81 1h0m12 0h0m5 0h0m16 0h0m45 0h0m-78 1h0m12 0h0m4 0h0m16 0h0m7 0h0m37 0h0m1 0h0m5 0h0m-89 1h0m5 0h0m9 0h0m2 0h0m6 0h0m17 0h0m1 0h0m1 0h0m49 0h0m-92 1h0m6 0h0m8 0h0m3 0h0m1 0h0m22 0h0m4 0h0m-42 1h0m4 0h0m2 0h0m13 0h0m1 0h0m19 0h0m2 0h0m1 0h0m2 0h0m43 0h0m3 0h0m-61 1h0m1 0h0m8 0h0m5 0h0m48 0h0m-91 1h0m16 0h0m4 0h0m10 0h0m52 0h0m2 0h0m-90 1h0m3 0h0m3 0h0m21 0h0m1 0h0m15 0h0m1 0h0m44 0h0m-88 2h0m18 0h0m2 0h0m64 0h0m-64 1h0m29 0h0m-2 1h0m1 0h0m39 0h0m-92 1h0m1 0h0m3 0h0m21 0h0m29 0h0m1 0h0m31 0h0m7 0h0m-89 1h0m1 0h0m44 0h0m1 0h0m33 0h0m-84 1h0m20 0h0m62 0h0m3 0h0m1 0h0m1 0h0m-88 1h0m2 0h0m16 0h0m3 0h0m2 0h0m29 0h0m5 0h0m6 0h0m23 0h0m6 0h0m5 0h0m-101 1h0m4 0h0m13 0h0m6 0h0m31 0h0m33 0h0m1 0h0m7 0h0m1 0h0m5 0h0m-102 1h0m9 0h0m12 0h0m1 0h0m34 0h0m2 0h0m1 0h0m4 0h0m6 0h0m4 0h0m2 0h0m15 0h0m4 0h0m-79 1h0m3 0h0m8 0h0m1 0h0m22 0h0m10 0h0m8 0h0m7 0h0m10 0h0m4 0h0m1 0h0m5 0h0m1 0h0m-86 1h0m3 0h0m4 0h0m3 0h0m29 0h0m8 0h0m13 0h0m9 0h0m6 0h0m-80 1h0m1 0h0m5 0h0m38 0h0m17 0h0m9 0h0m4 0h0m2 0h0m3 0h0m7 0h0m-43 1h0m16 0h0m3 0h0m6 0h0m3 0h0m2 0h0m2 0h0m2 0h0m7 0h0m1 0h0m-19 1h0m2 0h0m2 0h0m3 0h0m6 0h0m-32 1h0m15 0h0m5 0h0m11 0h0m1 0h0m-16 1h0m1 0h0m15 0h0m2 0h0m-18 1h0m13 0h0m5 0h0m-27 1h0m27 0h0m-28 1h0m7 0h0m2 0h0m-1 1h0m13 1h0m1 0h0m-1 1h0m-4 1h0m1 0h0m0 1h0m2 0h0m1 0h0m-30 1h0m-1 1h0m1 0h0m1 0h0m13 0h0m-12 1h0m9 0h0m1 0h0m-2 1h0m4 0h0m3 0h0m7 0h0m-8 1h0m6 0h0m-14 2h0m1 1h0m11 0h0m7 0h0m-11 1h0m2 0h0m1 0h0m15 0h0m-23 1h0m22 0h0m-35 1h0m8 0h0m4 0h0m-13 1h0m13 0h0m17 0h0m2 0h0m5 0h0m1 0h0m-6 1h0m2 0h0m1 0h0m-27 1h0m7 0h0m-7 1h0m25 0h0m4 0h0m-23 1h0m1 0h0m5 0h0m10 0h0m2 0h0m6 0h0m-32 1h0m15 0h0m11 0h0m-33 1h0m6 0h0m43 0h0m-72 1h0m1 0h0m21 0h0m33 0h0m17 0h0m-70 1h0m13 0h0m13 0h0m1 0h0m3 0h0m1 0h0m1 0h0m27 0h0m-59 1h0m36 0h0m14 0h0m1 0h0m8 0h0m5 0h0m27 0h0m-105 1h0m1 0h0m27 0h0m19 0h0m4 0h0m7 0h0m1 0h0m9 0h0m36 0h0m-97 1h0m3 0h0m1 0h0m9 0h0m1 0h0m26 0h0m15 0h0m-49 1h0m4 0h0m4 0h0m1 0h0m2 0h0m11 0h0m29 0h0m-54 1h0m3 0h0m5 0h0m1 0h0m16 0h0m13 0h0m5 0h0m12 0h0m-61 1h0m3 0h0m8 0h0m1 0h0m11 0h0m7 0h0m12 0h0m6 0h0m11 0h0m-58 1h0m2 0h0m4 0h0m13 0h0m5 0h0m6 0h0m14 0h0m8 0h0m1 0h0m-42 1h0m6 0h0m2 0h0m1 0h0m2 0h0m3 0h0m6 0h0m14 0h0m13 0h0m17 0h0m-78 1h0m13 0h0m12 0h0m10 0h0m6 0h0m22 0h0m12 0h0m2 0h0m5 0h0m-62 1h0m19 0h0m1 0h0m13 0h0m1 0h0m9 0h0m2 0h0m10 0h0m-80 1h0m61 0h0m9 0h0m-10 1h0m2 0h0m1 0h0m-66 1h0m32 0h0m36 0h0m2 0h0m-78 1h0m5 0h0m34 0h0m28 0h0m8 0h0m4 0h0m-78 1h0m4 0h0m2 0h0m30 1h0m2 0h0m42 0h0m1 0h0m-83 1h0m1 0h0m38 0h0m8 0h0m26 0h0m1 0h0m18 0h0m-56 1h0m4 0h0m6 0h0m26 0h0m8 0h0m8 0h0m-48 1h0m32 0h0m2 0h0m7 0h0m2 0h0m1 0h0m4 0h0m-88 1h0m38 0h0m1 0h0m32 0h0m3 0h0m1 0h0m7 0h0m-49 1h0m40 0h0m7 0h0m2 0h0m6 0h0m-92 1h0m74 0h0m9 0h0m1 0h0m8 0h0m-93 1h0m74 0h0m9 0h0m-86 1h0m1 0h0m39 0h0m3 0h0m1 0h0m-3 1h0m29 0h0m28 0h0m1 0h0m-101 1h0m40 0h0m30 0h0m9 0h0m1 0h0m4 0h0m5 0h0m-90 1h0m72 0h0m16 0h0m1 0h0m-90 1h0m3 0h0m88 0h0m6 0h0m-99 1h0m2 0h0m90 0h0m-92 1h0m93 0h0m5 0h0m9 0h0m1 0h0m2 0h0m-108 1h0m4 0h0m32 0h0m2 0h0m70 0h0m-108 1h0m2 0h0m105 0h0m-109 1h0m1 0h0m79 0h0m20 0h0m1 0h0m-107 1h0m1 0h0m5 0h0m75 0h0m6 0h0m20 0h0m-100 1h0m34 0h0m40 0h0m7 0h0m2 0h0m1 0h0m8 0h0m1 0h0m1 0h0m-103 1h0m1 0h0m10 0h0m24 0h0m73 0h0m8 0h0m-117 1h0m2 0h0m3 0h0m105 0h0m6 0h0m-113 1h0m1 0h0m4 0h0m1 0h0m2 0h0m25 0h0m-28 1h0m23 0h0m5 0h0m-28 1h0m25 0h0m99 0h0m-128 1h0m1 0h0m19 0h0m8 0h0m99 0h0m1 0h0m1 0h0m-125 1h0m1 0h0m4 0h0m1 0h0m7 0h0m5 0h0m3 0h0m3 0h0m-26 1h0m1 0h0m6 0h0m12 0h0m3 0h0m-14 1h0m90 0h0m-83 1h0m86 0h0m-87 1h0m84 1h0m1 1h0m12 0h0m-101 1h0m38 0h0m1 0h0m-40 1h0m79 1h0m-1 1h0m8 6h0"/>
<path stroke="#7d87d7" stroke-width="1.1" stroke-linecap="square" d="M556.5 1360.5h0m2 0h0m1 1h0m0 1h0m2 0h0m-6 1h0m1 0h0m6 0h0m2 0h0m1 1h0m-7 1h0m8 0h0m1 0h0m1 0h0m2 0h0m-29 1h0m1 0h0m10 0h0m1 0h0m4 0h0m4 0h0m1 0h0m4 0h0m3 0h0m7 0h0m2 0h0m-30 1h0m3 0h0m10 0h0m2 0h0m2 0h0m2 0h0m1 0h0m6 0h0m1 0h0m2 0h0m2 0h0m-33 1h0m14 0h0m14 0h0m-32 1h0m3 0h0m3 0h0m-11 1h0m1 0h0m3 0h0m30 0h0m-34 1h0m3 0h0m1 0h0m-15 1h0m10 0h0m1 0h0m4 0h0m24 0h0m-31 1h0m1 0h0m3 0h0m1 0h0m31 0h0m-42 1h0m2 0h0m1 0h0m7 0h0m1 0h0m-9 1h0m6 0h0m1 0h0m1 0h0m30 0h0m1 0h0m2 0h0m-31 1h0m-1 1h0m1 0h0m28 0h0m-74 1h0m73 0h0m1 0h0m4 0h0m-39 1h0m1 0h0m1 0h0m-42 1h0m3 0h0m-7 1h0m78 0h0m1 0h0m-84 1h0m18 0h0m64 0h0m3 0h0m-79 1h0m1 0h0m3 0h0m37 0h0m4 0h0m31 0h0m-76 1h0m10 0h0m28 0h0m1 0h0m1 0h0m1 0h0m33 0h0m-82 1h0m2 0h0m3 0h0m4 0h0m1 0h0m7 0h0m27 0h0m4 0h0m34 0h0m3 0h0m1 0h0m-80 1h0m1 0h0m10 0h0m37 0h0m26 0h0m5 0h0m-87 1h0m6 0h0m3 0h0m2 0h0m39 0h0m31 0h0m1 0h0m-66 1h0m3 0h0m-18 1h0m1 0h0m17 0h0m32 0h0m25 0h0m3 0h0m1 0h0m-65 1h0m1 0h0m25 0h0m1 0h0m9 0h0m3 0h0m3 0h0m2 0h0m15 0h0m-57 1h0m24 0h0m1 0h0m9 0h0m2 0h0m1 0h0m13 0h0m3 0h0m1 0h0m2 0h0m2 0h0m-75 1h0m4 0h0m2 0h0m2 0h0m1 0h0m37 0h0m2 0h0m4 0h0m3 0h0m3 0h0m3 0h0m1 0h0m5 0h0m-70 1h0m52 0h0m1 0h0m19 0h0m1 0h0m-76 1h0m55 0h0m5 0h0m4 0h0m1 0h0m1 0h0m9 0h0m1 0h0m7 0h0m-76 1h0m9 0h0m39 0h0m14 0h0m7 0h0m-25 1h0m5 0h0m1 0h0m5 0h0m8 0h0m-12 1h0m5 0h0m-5 1h0m1 1h0m6 0h0m-19 1h0m29 2h0m-31 1h0m26 3h0m1 0h0m-1 1h0m-13 5h0m8 2h0m4 6h0m1 0h0m-17 4h0m1 0h0m22 1h0m-7 1h0m1 0h0m-39 4h0m-20 1h0m69 0h0m1 0h0m-10 1h0m9 0h0m-66 1h0m1 0h0m4 1h0m10 0h0m37 0h0m-43 1h0m1 0h0m5 0h0m-17 1h0m11 0h0m6 0h0m-19 1h0m5 0h0m8 0h0m-20 1h0m4 0h0m5 0h0m5 0h0m48 0h0m-59 1h0m6 0h0m12 0h0m3 0h0m37 0h0m1 0h0m21 0h0m-85 1h0m3 0h0m2 0h0m13 0h0m2 0h0m1 0h0m1 0h0m40 0h0m2 0h0m-42 1h0m41 0h0m-65 1h0m57 2h0m-63 1h0m31 0h0m-31 1h0m1 0h0m28 0h0m2 0h0m-35 1h0m0 1h0m1 0h0m32 0h0m-32 1h0m32 0h0m-34 1h0m31 1h0m4 0h0m48 0h0m-52 1h0m0 1h0m-38 1h0m36 0h0m1 0h0m-38 1h0m1 0h0m82 0h0m1 0h0m-82 1h0m-5 1h0m3 0h0m1 0h0m32 0h0m3 0h0m-38 1h0m3 0h0m33 0h0m59 0h0m-96 1h0m1 0h0m33 0h0m1 0h0m1 0h0m55 1h0m-89 1h0m25 2h0m1 0h0m1 0h0m-28 1h0m23 0h0m-26 1h0m3 2h0m19 0h0m3 0h0m-23 1h0m0 1h0m10 0h0m1 0h0m-9 1h0m8 0h0m-3 1h0m-3 1h0m1 0h0m-1 1h0m89 1h0m0 1h0m1 0h0m-4 12h0"/>
<path stroke="#5d6cd7" stroke-width="1.1" stroke-linecap="square" d="M557.5 1364.5h0m10 2h0m1 0h0m-16 1h0m1 0h0m3 0h0m1 0h0m5 0h0m16 0h0m-31 1h0m6 0h0m1 0h0m1 0h0m3 0h0m8 0h0m1 0h0m-21 1h0m1 0h0m2 0h0m2 0h0m9 0h0m1 0h0m2 0h0m2 0h0m3 0h0m-24 1h0m2 0h0m2 0h0m15 0h0m1 0h0m3 0h0m-24 1h0m21 0h0m8 0h0m-30 1h0m25 0h0m-26 1h0m1 0h0m23 0h0m1 0h0m-26 1h0m28 0h0m1 0h0m-34 2h0m6 0h0m26 0h0m-29 1h0m29 0h0m-33 1h0m1 0h0m29 0h0m2 0h0m7 0h0m-37 1h0m26 0h0m1 0h0m1 0h0m1 0h0m-31 1h0m27 0h0m3 0h0m1 0h0m-80 1h0m8 0h0m3 0h0m3 0h0m32 0h0m1 0h0m29 0h0m2 0h0m1 0h0m1 0h0m7 0h0m-83 1h0m4 0h0m2 0h0m2 0h0m3 0h0m32 0h0m5 0h0m27 0h0m3 0h0m-75 1h0m1 0h0m3 0h0m3 0h0m2 0h0m33 0h0m30 0h0m-77 1h0m1 0h0m1 0h0m2 0h0m5 0h0m1 0h0m29 0h0m1 0h0m5 0h0m1 0h0m29 0h0m1 0h0m-70 1h0m1 0h0m1 0h0m1 0h0m31 0h0m7 0h0m2 0h0m21 0h0m2 0h0m1 0h0m1 0h0m-80 1h0m3 0h0m1 0h0m11 0h0m37 0h0m4 0h0m23 0h0m-78 1h0m3 0h0m5 0h0m2 0h0m2 0h0m3 0h0m34 0h0m2 0h0m1 0h0m1 0h0m7 0h0m-58 1h0m2 0h0m3 0h0m2 0h0m6 0h0m36 0h0m1 0h0m2 0h0m1 0h0m1 0h0m1 0h0m14 0h0m3 0h0m4 0h0m-74 1h0m5 0h0m2 0h0m5 0h0m34 0h0m4 0h0m1 0h0m1 0h0m1 0h0m1 0h0m1 0h0m7 0h0m1 0h0m3 0h0m2 0h0m1 0h0m-70 1h0m1 0h0m5 0h0m6 0h0m35 0h0m9 0h0m6 0h0m1 0h0m2 0h0m2 0h0m3 0h0m-78 1h0m8 0h0m1 0h0m1 0h0m1 0h0m4 0h0m48 0h0m5 0h0m1 0h0m3 0h0m-72 1h0m1 0h0m1 0h0m2 0h0m2 0h0m4 0h0m46 0h0m6 0h0m4 0h0m1 0h0m4 0h0m5 0h0m-73 1h0m54 0h0m1 0h0m12 0h0m5 0h0m1 0h0m-72 1h0m1 0h0m64 0h0m-2 1h0m-13 22h0m8 16h0m-37 1h0m37 0h0m-53 3h0m12 0h0m-20 1h0m5 0h0m2 0h0m3 0h0m6 0h0m1 0h0m1 0h0m1 0h0m-20 1h0m14 0h0m4 0h0m-19 1h0m1 0h0m5 0h0m1 0h0m1 0h0m8 0h0m6 0h0m1 0h0m-24 1h0m1 0h0m18 0h0m1 0h0m6 0h0m-27 1h0m23 0h0m3 0h0m-28 1h0m-1 1h0m27 0h0m-4 1h0m-29 1h0m1 0h0m4 0h0m27 0h0m-33 1h0m1 0h0m1 1h0m26 0h0m2 1h0m1 0h0m-3 1h0m1 0h0m-31 1h0m29 1h0m1 0h0m6 0h0m-40 1h0m32 0h0m2 0h0m-34 1h0m32 0h0m-33 1h0m-2 1h0m32 0h0m1 0h0m1 0h0m-32 1h0m28 0h0m1 0h0m2 0h0m1 0h0m-34 3h0m26 1h0m-3 1h0m1 0h0m-5 1h0m1 0h0m1 0h0m-23 1h0m20 0h0m1 0h0m-20 1h0m19 0h0m1 0h0m-21 1h0m1 0h0m17 0h0m1 0h0m1 0h0m-20 1h0m2 0h0m14 0h0m-16 1h0m8 0h0m-8 1h0m2 0h0m4 0h0m1 0h0m-3 2h0m88 3h0"/>
<path stroke="#3e52d7" stroke-width="1.1" stroke-linecap="square" d="M551.5 1368.5h0m1 0h0m4 0h0m1 0h0m7 0h0m-14 1h0m2 0h0m1 0h0m1 0h0m4 0h0m1 0h0m7 0h0m1 0h0m-22 1h0m5 0h0m3 0h0m7 0h0m1 0h0m1 0h0m-18 1h0m3 0h0m1 0h0m1 0h0m2 0h0m8 0h0m1 0h0m3 0h0m-20 1h0m3 0h0m1 0h0m1 0h0m10 0h0m2 0h0m3 0h0m-20 1h0m20 0h0m4 0h0m1 0h0m-27 1h0m1 0h0m1 0h0m24 0h0m-26 1h0m1 0h0m24 0h0m-30 1h0m1 0h0m5 0h0m-6 1h0m26 0h0m1 0h0m1 0h0m-27 1h0m1 0h0m1 0h0m1 0h0m1 0h0m21 0h0m-25 1h0m1 0h0m2 0h0m18 0h0m2 0h0m1 0h0m-67 1h0m1 0h0m-1 1h0m1 0h0m38 0h0m1 0h0m1 0h0m1 0h0m4 0h0m-52 1h0m10 0h0m1 0h0m34 0h0m1 0h0m2 0h0m2 0h0m23 0h0m1 0h0m1 0h0m-75 1h0m9 0h0m1 0h0m63 0h0m2 0h0m-71 1h0m45 0h0m20 0h0m2 0h0m1 0h0m-27 1h0m23 0h0m-73 1h0m10 0h0m1 0h0m1 0h0m39 0h0m4 0h0m4 0h0m14 0h0m2 0h0m1 0h0m-75 1h0m9 0h0m3 0h0m42 0h0m1 0h0m1 0h0m4 0h0m8 0h0m1 0h0m1 0h0m1 0h0m1 0h0m1 0h0m1 0h0m1 0h0m-74 1h0m56 0h0m3 0h0m4 0h0m4 0h0m3 0h0m-72 1h0m1 0h0m1 0h0m3 0h0m1 0h0m3 0h0m41 0h0m9 0h0m5 0h0m4 0h0m-69 1h0m1 0h0m1 0h0m3 0h0m1 0h0m2 0h0m2 0h0m50 0h0m1 0h0m2 0h0m1 0h0m-63 1h0m6 0h0m-7 1h0m-1 1h0m1 0h0m56 0h0m1 0h0m6 0h0m1 0h0m-1 1h0m-63 44h0m7 0h0m-7 1h0m1 0h0m5 0h0m-7 1h0m5 0h0m5 0h0m10 0h0m-24 1h0m3 0h0m2 0h0m10 0h0m1 0h0m6 0h0m1 0h0m-24 1h0m1 0h0m1 0h0m2 0h0m2 0h0m11 0h0m1 0h0m1 0h0m-21 1h0m1 0h0m1 0h0m21 0h0m1 0h0m-26 1h0m1 0h0m18 0h0m3 0h0m1 0h0m1 0h0m1 0h0m-26 1h0m2 0h0m20 0h0m3 0h0m-25 1h0m20 0h0m1 0h0m-24 1h0m1 0h0m24 0h0m1 0h0m-26 1h0m23 0h0m2 0h0m1 0h0m1 0h0m-29 1h0m26 0h0m-28 1h0m1 0h0m26 0h0m-1 1h0m-30 1h0m28 0h0m-29 1h0m1 0h0m28 0h0m-29 1h0m1 0h0m29 0h0m-5 2h0m2 0h0m-29 2h0m26 0h0m2 0h0m-4 1h0m1 0h0m-2 1h0m-2 1h0m2 0h0m-27 1h0m1 0h0m1 0h0m21 0h0m1 0h0m3 0h0m-27 1h0m19 1h0m-17 1h0m16 0h0m-15 1h0m14 0h0m-13 1h0m7 0h0m1 0h0m2 0h0m1 0h0m-14 1h0m1 0h0m4 0h0m1 0h0m3 0h0m-9 1h0m2 0h0m2 0h0m-1 1h0m1 0h0"/>
<path stroke="#1f76de" stroke-width="1.1" stroke-linecap="square" d="M556.5 1369.5h0m1 0h0m-2 1h0m1 0h0m3 0h0m-13 1h0m4 0h0m2 0h0m10 0h0m-18 1h0m1 0h0m4 0h0m8 0h0m4 0h0m1 0h0m-18 1h0m2 0h0m1 0h0m2 0h0m9 0h0m4 0h0m1 1h0m1 0h0m-2 1h0m1 0h0m1 0h0m-21 1h0m18 0h0m1 0h0m2 0h0m2 0h0m-29 1h0m5 0h0m18 0h0m1 0h0m4 0h0m-23 1h0m15 0h0m1 0h0m1 0h0m1 0h0m-21 1h0m20 0h0m-22 1h0m1 0h0m2 0h0m1 0h0m17 0h0m-21 1h0m1 0h0m1 0h0m2 0h0m17 0h0m1 0h0m-20 1h0m2 0h0m16 0h0m3 0h0m-3 1h0m3 0h0m-22 1h0m17 0h0m1 0h0m2 0h0m-20 1h0m10 0h0m7 0h0m-16 1h0m1 0h0m3 0h0m1 0h0m4 0h0m3 0h0m2 0h0m1 0h0m1 0h0m-10 1h0m2 0h0m1 0h0m3 0h0m-6 1h0m1 0h0m1 0h0m4 0h0m-7 1h0m1 0h0m1 0h0m-57 50h0m1 0h0m-2 1h0m2 0h0m-6 1h0m2 0h0m4 0h0m1 0h0m-12 1h0m2 0h0m10 0h0m1 0h0m-15 1h0m2 0h0m1 0h0m1 0h0m10 0h0m1 0h0m1 0h0m2 0h0m-21 1h0m1 0h0m5 0h0m10 0h0m3 0h0m-5 1h0m1 0h0m1 0h0m1 0h0m1 0h0m-20 1h0m16 0h0m2 0h0m-20 1h0m1 0h0m20 0h0m-22 1h0m1 0h0m-2 1h0m1 0h0m20 1h0m1 0h0m-27 1h0m25 0h0m1 0h0m-2 1h0m-26 1h0m1 0h0m-1 1h0m-3 1h0m1 0h0m1 0h0m27 0h0m-29 1h0m27 0h0m-27 1h0m24 0h0m0 1h0m-3 1h0m1 0h0m-24 1h0m22 0h0m1 0h0m-3 1h0m1 0h0m-3 1h0m1 0h0m-21 1h0m1 0h0m1 0h0m-1 1h0m2 0h0m-1 1h0m12 0h0m2 0h0m-12 2h0m1 0h0m2 0h0m2 0h0m-7 1h0m1 0h0m1 0h0m-1 1h0"/>
<path stroke="#00a0e6" stroke-width="1.1" stroke-linecap="square" d="M557.5 1370.5h0m1 0h0m-5 1h0m1 0h0m1 0h0m1 0h0m1 0h0m1 0h0m-8 1h0m1 0h0m1 0h0m4 0h0m-11 1h0m3 0h0m2 0h0m6 0h0m3 0h0m1 0h0m1 0h0m-17 1h0m2 0h0m1 0h0m2 0h0m7 0h0m2 0h0m1 0h0m2 0h0m-18 1h0m1 0h0m5 0h0m6 0h0m5 0h0m-16 1h0m1 0h0m10 0h0m1 0h0m4 0h0m5 0h0m-22 1h0m1 0h0m2 0h0m4 0h0m5 0h0m1 0h0m1 0h0m1 0h0m-15 1h0m1 0h0m3 0h0m8 0h0m1 0h0m-15 1h0m1 0h0m2 0h0m11 0h0m1 0h0m-12 1h0m13 0h0m-1 1h0m1 0h0m-17 1h0m2 0h0m14 0h0m2 0h0m1 0h0m-20 1h0m2 0h0m6 0h0m2 0h0m6 0h0m1 0h0m2 0h0m1 0h0m-20 1h0m1 0h0m1 0h0m1 0h0m6 0h0m1 0h0m1 0h0m4 0h0m-15 1h0m1 0h0m1 0h0m1 0h0m1 0h0m4 0h0m2 0h0m1 0h0m1 0h0m1 0h0m1 0h0m1 0h0m-8 1h0m1 0h0m2 0h0m-3 1h0m3 0h0m1 0h0m0 1h0m-61 52h0m-4 1h0m2 0h0m1 0h0m1 0h0m-6 1h0m1 0h0m3 0h0m1 0h0m1 0h0m1 0h0m-8 1h0m1 0h0m4 0h0m1 0h0m1 0h0m1 0h0m-13 1h0m1 0h0m1 0h0m2 0h0m6 0h0m1 0h0m1 0h0m-15 1h0m1 0h0m2 0h0m3 0h0m7 0h0m-14 1h0m14 0h0m2 0h0m-17 1h0m15 0h0m1 0h0m1 0h0m1 0h0m-19 1h0m16 0h0m1 0h0m1 0h0m1 0h0m-23 1h0m3 0h0m18 0h0m2 0h0m-23 1h0m21 0h0m-26 2h0m1 0h0m23 0h0m-23 1h0m23 0h0m-24 1h0m25 0h0m-26 1h0m24 0h0m1 0h0m-27 1h0m-1 2h0m21 0h0m1 0h0m1 0h0m-24 1h0m21 0h0m-21 1h0m20 0h0m-21 1h0m19 0h0m-19 1h0m17 0h0m-16 1h0m1 0h0m14 0h0m-16 1h0m2 0h0m13 0h0m-14 1h0m3 0h0m9 0h0m-12 1h0m1 0h0m2 0h0m1 0h0m1 0h0m1 0h0m1 0h0m1 0h0m1 0h0m1 0h0m1 0h0m-6 1h0"/>
<path stroke="#0eb3a2" stroke-width="1.1" stroke-linecap="square" d="M553.5 1372.5h0m1 0h0m1 0h0m-4 1h0m1 0h0m1 0h0m1 0h0m1 0h0m-10 1h0m3 0h0m3 0h0m1 0h0m1 0h0m1 0h0m1 0h0m2 0h0m3 0h0m-15 1h0m1 0h0m1 0h0m1 0h0m2 0h0m1 0h0m1 0h0m2 0h0m2 0h0m1 0h0m1 0h0m1 0h0m-13 1h0m1 0h0m1 0h0m1 0h0m1 0h0m1 0h0m3 0h0m3 0h0m1 0h0m1 0h0m-14 1h0m2 0h0m1 0h0m1 0h0m2 0h0m8 0h0m-14 1h0m1 0h0m3 0h0m1 0h0m1 0h0m-6 1h0m1 0h0m2 0h0m6 0h0m-12 1h0m1 0h0m2 0h0m9 0h0m1 0h0m1 0h0m-14 1h0m1 0h0m1 0h0m1 0h0m1 0h0m4 0h0m1 0h0m1 0h0m1 0h0m1 0h0m-11 1h0m1 0h0m1 0h0m1 0h0m1 0h0m1 0h0m2 0h0m1 0h0m1 0h0m1 0h0m2 0h0m-15 1h0m3 0h0m1 0h0m1 0h0m3 0h0m2 0h0m1 0h0m1 0h0m1 0h0m1 0h0m-10 1h0m1 0h0m1 0h0m1 0h0m4 0h0m1 0h0m1 0h0m-9 1h0m1 0h0m0 1h0m5 0h0m-65 56h0m1 0h0m-2 1h0m2 0h0m-4 1h0m1 0h0m1 0h0m2 0h0m-10 1h0m2 0h0m1 0h0m2 0h0m1 0h0m-6 1h0m10 0h0m0 1h0m-14 1h0m14 0h0m-15 1h0m16 0h0m2 0h0m-21 1h0m1 0h0m1 0h0m-5 1h0m1 0h0m1 0h0m20 0h0m-23 1h0m20 0h0m1 0h0m-21 1h0m20 0h0m1 0h0m-22 1h0m21 0h0m1 0h0m1 0h0m-24 1h0m21 0h0m1 0h0m-24 1h0m1 0h0m20 0h0m1 0h0m-23 1h0m1 0h0m20 0h0m1 0h0m-22 1h0m19 0h0m-20 1h0m1 0h0m-1 1h0m17 0h0m1 0h0m-19 1h0m3 0h0m14 0h0m-17 1h0m1 0h0m1 0h0m0 1h0m1 0h0m-1 1h0m7 0h0m1 0h0m1 0h0m2 0h0m-12 1h0m1 0h0m2 0h0m1 0h0m1 0h0m1 0h0m1 0h0m1 0h0m1 0h0"/>
<path stroke="#1cc65f" stroke-width="1.1" stroke-linecap="square" d="M553.5 1375.5h0m-1 1h0m1 0h0m-1 1h0m1 0h0m1 0h0m-6 1h0m4 0h0m1 0h0m1 0h0m-7 1h0m2 0h0m1 0h0m1 0h0m1 0h0m1 0h0m-7 1h0m1 0h0m1 0h0m1 0h0m1 0h0m1 0h0m1 0h0m1 0h0m-6 1h0m1 0h0m1 0h0m6 0h0m-6 1h0m5 0h0m-8 3h0m-61 58h0m0 1h0m-2 1h0m1 0h0m1 0h0m1 0h0m-12 1h0m1 0h0m2 0h0m1 0h0m1 0h0m1 0h0m1 0h0m1 0h0m1 0h0m1 0h0m1 0h0m-12 1h0m3 0h0m6 0h0m1 0h0m1 0h0m1 0h0m-12 1h0m11 0h0m1 0h0m1 1h0m-2 1h0m2 0h0m1 0h0m-19 1h0m16 0h0m2 0h0m-21 1h0m18 0h0m0 1h0m-19 1h0m18 0h0m-19 1h0m18 0h0m1 0h0m-20 1h0m1 0h0m17 0h0m-19 1h0m1 0h0m17 0h0m-19 1h0m17 0h0m-17 1h0m15 0h0m1 0h0m1 0h0m-18 1h0m1 0h0m14 0h0m-16 1h0m1 0h0m2 0h0m11 0h0m1 0h0m-13 1h0m1 0h0m10 0h0m1 0h0m-8 1h0m2 0h0m1 0h0m1 0h0m1 0h0m1 0h0m1 0h0m-11 1h0m1 0h0m2 0h0m1 0h0m1 0h0"/>
<path stroke="#63d239" stroke-width="1.1" stroke-linecap="square" d="M474.5 1447.5h0m1 0h0m2 0h0m1 0h0m1 0h0m1 0h0m1 0h0m-7 1h0m1 0h0m1 0h0m1 0h0m1 0h0m3 0h0m1 0h0m1 0h0m-11 1h0m10 0h0m1 0h0m1 0h0m1 0h0m-14 1h0m12 0h0m2 0h0m-16 1h0m1 0h0m13 0h0m-17 1h0m1 0h0m1 0h0m-3 1h0m1 0h0m16 0h0m-17 1h0m16 0h0m2 0h0m-19 1h0m16 0h0m-16 1h0m-1 1h0m1 0h0m14 0h0m-17 1h0m15 0h0m-2 1h0m-13 1h0m12 0h0m-11 1h0m7 0h0m1 0h0m1 0h0m-9 1h0m1 0h0m1 0h0m1 0h0m1 0h0m1 0h0m2 0h0m1 0h0m-9 1h0m1 0h0m1 0h0m2 0h0m-3 1h0"/>
<path stroke="#afdd15" stroke-width="1.1" stroke-linecap="square" d="M479.5 1448.5h0m1 0h0m-7 1h0m1 0h0m1 0h0m1 0h0m1 0h0m2 0h0m1 0h0m1 0h0m-9 1h0m2 0h0m6 0h0m1 0h0m1 0h0m-11 1h0m11 0h0m-13 1h0m1 0h0m11 0h0m1 0h0m-15 1h0m13 0h0m1 0h0m-15 1h0m1 0h0m12 0h0m1 0h0m-15 1h0m14 0h0m-14 1h0m12 0h0m1 0h0m1 0h0m-14 1h0m11 0h0m1 0h0m-15 1h0m1 0h0m1 0h0m11 0h0m-14 1h0m1 0h0m1 0h0m-1 1h0m1 0h0m5 0h0m1 0h0m1 0h0m1 0h0m1 0h0m-9 1h0m1 0h0m1 0h0m1 0h0m1 0h0m1 0h0m0 1h0"/>
<path stroke="#dbc906" stroke-width="1.1" stroke-linecap="square" d="M478.5 1449.5h0m-5 1h0m2 0h0m1 0h0m1 0h0m1 0h0m1 0h0m-7 1h0m1 0h0m1 0h0m1 0h0m3 0h0m1 0h0m1 0h0m1 0h0m-10 1h0m1 0h0m7 0h0m1 0h0m-12 1h0m1 0h0m1 0h0m1 0h0m8 0h0m-11 1h0m10 0h0m-12 1h0m1 0h0m10 0h0m1 0h0m-12 1h0m9 0h0m1 0h0m-10 1h0m8 0h0m1 0h0m-10 1h0m1 0h0m6 0h0m1 0h0m1 0h0m-10 1h0m1 0h0m1 0h0m1 0h0m2 0h0m1 0h0m1 0h0m1 0h0m1 0h0m-9 1h0m1 0h0m1 0h0m1 0h0"/>
<path stroke="#f8a801" stroke-width="1.1" stroke-linecap="square" d="M476.5 1451.5h0m1 0h0m-4 1h0m1 0h0m1 0h0m1 0h0m1 0h0m1 0h0m-6 1h0m1 0h0m1 0h0m1 0h0m1 0h0m1 0h0m1 0h0m-9 1h0m1 0h0m1 0h0m1 0h0m1 0h0m1 0h0m1 0h0m1 0h0m1 0h0m-9 1h0m1 0h0m4 0h0m2 0h0m1 0h0m-9 1h0m1 0h0m1 0h0m1 0h0m2 0h0m2 0h0m-7 1h0m1 0h0m1 0h0m1 0h0m1 0h0m1 0h0m1 0h0m-6 1h0m1 0h0m1 0h0m1 0h0m1 0h0m-3 1h0"/>
<path stroke="#f86c00" stroke-width="1.1" stroke-linecap="square" d="M470.5 1455.5h0m1 0h0m1 0h0m2 0h0m-3 1h0m2 0h0"/>
<line x1="522" y1="1327" x2="522" y2="1491.5" stroke="#555" stroke-width="1.1"/>
<line x1="432.5" y1="1400" x2="597.5" y2="1400" stroke="#555" stroke-width="1.1"/>
<rect x="432.5" y="1327" width="165" height="164.5" fill="none" stroke="#666" stroke-width="1.3"/>
<text x="436" y="1336" font-size="7" style='font-weight:normal;font-family:"Liberation Sans";fill:#222;'>Q1</text>
<text x="436" y="1347" font-size="7" style='font-weight:normal;font-family:"Liberation Sans";fill:#222;'>4.07%</text>
<text x="594.5" y="1336" font-size="7" text-anchor="end" style='font-weight:normal;font-family:"Liberation Sans";fill:#222;'>Q2</text>
<text x="594.5" y="1347" font-size="7" text-anchor="end" style='font-weight:normal;font-family:"Liberation Sans";fill:#222;'>15.0%</text>
<text x="436" y="1477.5" font-size="7" style='font-weight:normal;font-family:"Liberation Sans";fill:#222;'>Q4</text>
<text x="436" y="1488.5" font-size="7" style='font-weight:normal;font-family:"Liberation Sans";fill:#222;'>72.3%</text>
<text x="594.5" y="1477.5" font-size="7" text-anchor="end" style='font-weight:normal;font-family:"Liberation Sans";fill:#222;'>Q3</text>
<text x="594.5" y="1488.5" font-size="7" text-anchor="end" style='font-weight:normal;font-family:"Liberation Sans";fill:#222;'>4.59%</text>
<line x1="451" y1="1491.5" x2="451" y2="1494.5" stroke="#777" stroke-width="0.8"/>
<text x="450" y="1506.5" font-size="7.5" text-anchor="middle" style='font-family:"Liberation Sans";fill:#333;'>10</text>
<text x="454.5" y="1501" font-size="5.5" style='font-family:"Liberation Sans";fill:#333;'>3</text>
<line x1="486" y1="1491.5" x2="486" y2="1494.5" stroke="#777" stroke-width="0.8"/>
<text x="485" y="1506.5" font-size="7.5" text-anchor="middle" style='font-family:"Liberation Sans";fill:#333;'>10</text>
<text x="489.5" y="1501" font-size="5.5" style='font-family:"Liberation Sans";fill:#333;'>5</text>
<line x1="526" y1="1491.5" x2="526" y2="1494.5" stroke="#777" stroke-width="0.8"/>
<text x="525" y="1506.5" font-size="7.5" text-anchor="middle" style='font-family:"Liberation Sans";fill:#333;'>10</text>
<text x="529.5" y="1501" font-size="5.5" style='font-family:"Liberation Sans";fill:#333;'>6</text>
<line x1="565" y1="1491.5" x2="565" y2="1494.5" stroke="#777" stroke-width="0.8"/>
<text x="564" y="1506.5" font-size="7.5" text-anchor="middle" style='font-family:"Liberation Sans";fill:#333;'>10</text>
<text x="568.5" y="1501" font-size="5.5" style='font-family:"Liberation Sans";fill:#333;'>7</text>
<line x1="429.5" y1="1337" x2="432.5" y2="1337" stroke="#777" stroke-width="0.8"/>
<text x="425.5" y="1340" font-size="7.5" text-anchor="end" style='font-family:"Liberation Sans";fill:#333;'>10</text>
<text x="425.5" y="1335" font-size="5.5" style='font-family:"Liberation Sans";fill:#333;'>7</text>
<line x1="429.5" y1="1373" x2="432.5" y2="1373" stroke="#777" stroke-width="0.8"/>
<text x="425.5" y="1376" font-size="7.5" text-anchor="end" style='font-family:"Liberation Sans";fill:#333;'>10</text>
<text x="425.5" y="1371" font-size="5.5" style='font-family:"Liberation Sans";fill:#333;'>6</text>
<line x1="429.5" y1="1412" x2="432.5" y2="1412" stroke="#777" stroke-width="0.8"/>
<text x="425.5" y="1415" font-size="7.5" text-anchor="end" style='font-family:"Liberation Sans";fill:#333;'>10</text>
<text x="425.5" y="1410" font-size="5.5" style='font-family:"Liberation Sans";fill:#333;'>5</text>
<line x1="429.5" y1="1452" x2="432.5" y2="1452" stroke="#777" stroke-width="0.8"/>
<text x="425.5" y="1455" font-size="7.5" text-anchor="end" style='font-family:"Liberation Sans";fill:#333;'>10</text>
<text x="425.5" y="1450" font-size="5.5" style='font-family:"Liberation Sans";fill:#333;'>4</text>
<line x1="429.5" y1="1487" x2="432.5" y2="1487" stroke="#777" stroke-width="0.8"/>
<text x="425.5" y="1490" font-size="7.5" text-anchor="end" style='font-family:"Liberation Sans";fill:#333;'>10</text>
<text x="425.5" y="1485" font-size="5.5" style='font-family:"Liberation Sans";fill:#333;'>3</text>
<line x1="432.5" y1="1491.5" x2="432.5" y2="1493" stroke="#999" stroke-width="0.6"/>
<line x1="437.5" y1="1491.5" x2="437.5" y2="1493" stroke="#999" stroke-width="0.6"/>
<line x1="442.5" y1="1491.5" x2="442.5" y2="1493" stroke="#999" stroke-width="0.6"/>
<line x1="447.5" y1="1491.5" x2="447.5" y2="1493" stroke="#999" stroke-width="0.6"/>
<line x1="452.5" y1="1491.5" x2="452.5" y2="1493" stroke="#999" stroke-width="0.6"/>
<line x1="457.5" y1="1491.5" x2="457.5" y2="1493" stroke="#999" stroke-width="0.6"/>
<line x1="462.5" y1="1491.5" x2="462.5" y2="1493" stroke="#999" stroke-width="0.6"/>
<line x1="467.5" y1="1491.5" x2="467.5" y2="1493" stroke="#999" stroke-width="0.6"/>
<line x1="472.5" y1="1491.5" x2="472.5" y2="1493" stroke="#999" stroke-width="0.6"/>
<line x1="477.5" y1="1491.5" x2="477.5" y2="1493" stroke="#999" stroke-width="0.6"/>
<line x1="482.5" y1="1491.5" x2="482.5" y2="1493" stroke="#999" stroke-width="0.6"/>
<line x1="487.5" y1="1491.5" x2="487.5" y2="1493" stroke="#999" stroke-width="0.6"/>
<line x1="492.5" y1="1491.5" x2="492.5" y2="1493" stroke="#999" stroke-width="0.6"/>
<line x1="497.5" y1="1491.5" x2="497.5" y2="1493" stroke="#999" stroke-width="0.6"/>
<line x1="502.5" y1="1491.5" x2="502.5" y2="1493" stroke="#999" stroke-width="0.6"/>
<line x1="507.5" y1="1491.5" x2="507.5" y2="1493" stroke="#999" stroke-width="0.6"/>
<line x1="512.5" y1="1491.5" x2="512.5" y2="1493" stroke="#999" stroke-width="0.6"/>
<line x1="517.5" y1="1491.5" x2="517.5" y2="1493" stroke="#999" stroke-width="0.6"/>
<line x1="522.5" y1="1491.5" x2="522.5" y2="1493" stroke="#999" stroke-width="0.6"/>
<line x1="527.5" y1="1491.5" x2="527.5" y2="1493" stroke="#999" stroke-width="0.6"/>
<line x1="532.5" y1="1491.5" x2="532.5" y2="1493" stroke="#999" stroke-width="0.6"/>
<line x1="537.5" y1="1491.5" x2="537.5" y2="1493" stroke="#999" stroke-width="0.6"/>
<line x1="542.5" y1="1491.5" x2="542.5" y2="1493" stroke="#999" stroke-width="0.6"/>
<line x1="547.5" y1="1491.5" x2="547.5" y2="1493" stroke="#999" stroke-width="0.6"/>
<line x1="552.5" y1="1491.5" x2="552.5" y2="1493" stroke="#999" stroke-width="0.6"/>
<line x1="557.5" y1="1491.5" x2="557.5" y2="1493" stroke="#999" stroke-width="0.6"/>
<line x1="562.5" y1="1491.5" x2="562.5" y2="1493" stroke="#999" stroke-width="0.6"/>
<line x1="567.5" y1="1491.5" x2="567.5" y2="1493" stroke="#999" stroke-width="0.6"/>
<line x1="572.5" y1="1491.5" x2="572.5" y2="1493" stroke="#999" stroke-width="0.6"/>
<line x1="577.5" y1="1491.5" x2="577.5" y2="1493" stroke="#999" stroke-width="0.6"/>
<line x1="582.5" y1="1491.5" x2="582.5" y2="1493" stroke="#999" stroke-width="0.6"/>
<line x1="587.5" y1="1491.5" x2="587.5" y2="1493" stroke="#999" stroke-width="0.6"/>
<line x1="592.5" y1="1491.5" x2="592.5" y2="1493" stroke="#999" stroke-width="0.6"/>
<line x1="431" y1="1327" x2="432.5" y2="1327" stroke="#999" stroke-width="0.6"/>
<line x1="431" y1="1332" x2="432.5" y2="1332" stroke="#999" stroke-width="0.6"/>
<line x1="431" y1="1337" x2="432.5" y2="1337" stroke="#999" stroke-width="0.6"/>
<line x1="431" y1="1342" x2="432.5" y2="1342" stroke="#999" stroke-width="0.6"/>
<line x1="431" y1="1347" x2="432.5" y2="1347" stroke="#999" stroke-width="0.6"/>
<line x1="431" y1="1352" x2="432.5" y2="1352" stroke="#999" stroke-width="0.6"/>
<line x1="431" y1="1357" x2="432.5" y2="1357" stroke="#999" stroke-width="0.6"/>
<line x1="431" y1="1362" x2="432.5" y2="1362" stroke="#999" stroke-width="0.6"/>
<line x1="431" y1="1367" x2="432.5" y2="1367" stroke="#999" stroke-width="0.6"/>
<line x1="431" y1="1372" x2="432.5" y2="1372" stroke="#999" stroke-width="0.6"/>
<line x1="431" y1="1377" x2="432.5" y2="1377" stroke="#999" stroke-width="0.6"/>
<line x1="431" y1="1382" x2="432.5" y2="1382" stroke="#999" stroke-width="0.6"/>
<line x1="431" y1="1387" x2="432.5" y2="1387" stroke="#999" stroke-width="0.6"/>
<line x1="431" y1="1392" x2="432.5" y2="1392" stroke="#999" stroke-width="0.6"/>
<line x1="431" y1="1397" x2="432.5" y2="1397" stroke="#999" stroke-width="0.6"/>
<line x1="431" y1="1402" x2="432.5" y2="1402" stroke="#999" stroke-width="0.6"/>
<line x1="431" y1="1407" x2="432.5" y2="1407" stroke="#999" stroke-width="0.6"/>
<line x1="431" y1="1412" x2="432.5" y2="1412" stroke="#999" stroke-width="0.6"/>
<line x1="431" y1="1417" x2="432.5" y2="1417" stroke="#999" stroke-width="0.6"/>
<line x1="431" y1="1422" x2="432.5" y2="1422" stroke="#999" stroke-width="0.6"/>
<line x1="431" y1="1427" x2="432.5" y2="1427" stroke="#999" stroke-width="0.6"/>
<line x1="431" y1="1432" x2="432.5" y2="1432" stroke="#999" stroke-width="0.6"/>
<line x1="431" y1="1437" x2="432.5" y2="1437" stroke="#999" stroke-width="0.6"/>
<line x1="431" y1="1442" x2="432.5" y2="1442" stroke="#999" stroke-width="0.6"/>
<line x1="431" y1="1447" x2="432.5" y2="1447" stroke="#999" stroke-width="0.6"/>
<line x1="431" y1="1452" x2="432.5" y2="1452" stroke="#999" stroke-width="0.6"/>
<line x1="431" y1="1457" x2="432.5" y2="1457" stroke="#999" stroke-width="0.6"/>
<line x1="431" y1="1462" x2="432.5" y2="1462" stroke="#999" stroke-width="0.6"/>
<line x1="431" y1="1467" x2="432.5" y2="1467" stroke="#999" stroke-width="0.6"/>
<line x1="431" y1="1472" x2="432.5" y2="1472" stroke="#999" stroke-width="0.6"/>
<line x1="431" y1="1477" x2="432.5" y2="1477" stroke="#999" stroke-width="0.6"/>
<line x1="431" y1="1482" x2="432.5" y2="1482" stroke="#999" stroke-width="0.6"/>
<text x="127" y="1528" font-size="13.5" text-anchor="middle">siRNA NC</text>
<text x="326" y="1528" font-size="13.5" text-anchor="middle">si-lnc SFFD</text>
<text x="508.5" y="1528" font-size="13.5" text-anchor="middle">si-lnc SFFD+miR-202-3p inhibitor</text>
<line x1="820.78" y1="1168.2" x2="825.82" y2="1168.2" stroke="#0000ff" stroke-width="1.3"/>
<line x1="825.82" y1="1162.04" x2="825.82" y2="1174.36" stroke="#0000ff" stroke-width="1.3"/>
<rect x="705.7" y="1157.2" width="115.08" height="22" fill="#0000ff"/>
<line x1="699.7" y1="1168.2" x2="705.7" y2="1168.2" stroke="#141414" stroke-width="1.8"/>
<line x1="764.5" y1="1201.65" x2="777.94" y2="1201.65" stroke="#ff0000" stroke-width="1.3"/>
<line x1="777.94" y1="1195.35" x2="777.94" y2="1207.95" stroke="#ff0000" stroke-width="1.3"/>
<rect x="705.7" y="1190.4" width="58.8" height="22.5" fill="#ff0000"/>
<line x1="699.7" y1="1201.65" x2="705.7" y2="1201.65" stroke="#141414" stroke-width="1.8"/>
<line x1="789.7" y1="1235.45" x2="802.3" y2="1235.45" stroke="#00c400" stroke-width="1.3"/>
<line x1="802.3" y1="1229.26" x2="802.3" y2="1241.64" stroke="#00c400" stroke-width="1.3"/>
<rect x="705.7" y="1224.4" width="84" height="22.1" fill="#00c400"/>
<line x1="699.7" y1="1235.45" x2="705.7" y2="1235.45" stroke="#141414" stroke-width="1.8"/>
<line x1="705.7" y1="1133" x2="705.7" y2="1258" stroke="#141414" stroke-width="2"/>
<line x1="704.7" y1="1145.2" x2="873.7" y2="1145.2" stroke="#141414" stroke-width="2"/>
<line x1="705.7" y1="1139.2" x2="705.7" y2="1145.2" stroke="#141414" stroke-width="1.8"/>
<text x="702.4" y="1137.2" font-size="10" text-anchor="end" transform="rotate(90 702.4 1137.2)">0</text>
<line x1="747.7" y1="1139.2" x2="747.7" y2="1145.2" stroke="#141414" stroke-width="1.8"/>
<text x="744.4" y="1137.2" font-size="10" text-anchor="end" transform="rotate(90 744.4 1137.2)">5</text>
<line x1="789.7" y1="1139.2" x2="789.7" y2="1145.2" stroke="#141414" stroke-width="1.8"/>
<text x="786.4" y="1137.2" font-size="10" text-anchor="end" transform="rotate(90 786.4 1137.2)">10</text>
<line x1="831.7" y1="1139.2" x2="831.7" y2="1145.2" stroke="#141414" stroke-width="1.8"/>
<text x="828.4" y="1137.2" font-size="10" text-anchor="end" transform="rotate(90 828.4 1137.2)">15</text>
<line x1="873.7" y1="1139.2" x2="873.7" y2="1145.2" stroke="#141414" stroke-width="1.8"/>
<text x="870.4" y="1137.2" font-size="10" text-anchor="end" transform="rotate(90 870.4 1137.2)">20</text>
<line x1="834.2" y1="1167.7" x2="834.2" y2="1200.3" stroke="#111" stroke-width="1.8"/>
<text x="837.73" y="1185" font-size="15" text-anchor="middle" transform="rotate(90 837.73 1185)">*</text>
<line x1="808" y1="1202.8" x2="808" y2="1236" stroke="#111" stroke-width="1.8"/>
<text x="811.52" y="1219" font-size="15" text-anchor="middle" transform="rotate(90 811.52 1219)">**</text>
<text x="789" y="1096" font-size="15.5" text-anchor="middle">The percentage of</text>
<text x="789" y="1114" font-size="15.5" text-anchor="middle">apoptotic cells (%)</text>
<text x="652" y="1120" font-size="13.5" transform="rotate(55 652 1120)">pcDNA3.1</text>
<text x="622" y="1112" font-size="13.5" transform="rotate(56 622 1112)">pcDNA3.1-lnc SFFD</text>
<text x="620" y="1157" font-size="13.5" transform="rotate(57 620 1157)">pcDNA3.1-lnc SFFD+</text>
<text x="606" y="1165" font-size="13.5" transform="rotate(57 606 1165)">miR-202-3p mimic</text>
<text x="914.7" y="1111.5" font-size="21">M</text>
<line x1="1127.5" y1="1187.85" x2="1131.18" y2="1187.85" stroke="#0000ff" stroke-width="1.3"/>
<line x1="1131.18" y1="1182.17" x2="1131.18" y2="1193.53" stroke="#0000ff" stroke-width="1.3"/>
<rect x="1022.3" y="1177.7" width="105.2" height="20.3" fill="#0000ff"/>
<line x1="1016.3" y1="1187.85" x2="1022.3" y2="1187.85" stroke="#141414" stroke-width="1.8"/>
<line x1="1119.08" y1="1220" x2="1123.29" y2="1220" stroke="#ff0000" stroke-width="1.3"/>
<line x1="1123.29" y1="1214.29" x2="1123.29" y2="1225.71" stroke="#ff0000" stroke-width="1.3"/>
<rect x="1022.3" y="1209.8" width="96.78" height="20.4" fill="#ff0000"/>
<line x1="1016.3" y1="1220" x2="1022.3" y2="1220" stroke="#141414" stroke-width="1.8"/>
<line x1="1123.29" y1="1251.15" x2="1127.5" y2="1251.15" stroke="#00c400" stroke-width="1.3"/>
<line x1="1127.5" y1="1245.63" x2="1127.5" y2="1256.67" stroke="#00c400" stroke-width="1.3"/>
<rect x="1022.3" y="1241.3" width="100.99" height="19.7" fill="#00c400"/>
<line x1="1016.3" y1="1251.15" x2="1022.3" y2="1251.15" stroke="#141414" stroke-width="1.8"/>
<line x1="1022.3" y1="1163" x2="1022.3" y2="1272.9" stroke="#141414" stroke-width="2"/>
<line x1="1021.3" y1="1166.1" x2="1180.5" y2="1166.1" stroke="#141414" stroke-width="2"/>
<line x1="1022.3" y1="1160.1" x2="1022.3" y2="1166.1" stroke="#141414" stroke-width="1.8"/>
<text x="1019" y="1158.1" font-size="10" text-anchor="end" transform="rotate(90 1019 1158.1)">0.0</text>
<line x1="1074.9" y1="1160.1" x2="1074.9" y2="1166.1" stroke="#141414" stroke-width="1.8"/>
<text x="1071.6" y="1158.1" font-size="10" text-anchor="end" transform="rotate(90 1071.6 1158.1)">0.5</text>
<line x1="1127.5" y1="1160.1" x2="1127.5" y2="1166.1" stroke="#141414" stroke-width="1.8"/>
<text x="1124.2" y="1158.1" font-size="10" text-anchor="end" transform="rotate(90 1124.2 1158.1)">1.0</text>
<line x1="1180.1" y1="1160.1" x2="1180.1" y2="1166.1" stroke="#141414" stroke-width="1.8"/>
<text x="1176.8" y="1158.1" font-size="10" text-anchor="end" transform="rotate(90 1176.8 1158.1)">1.5</text>
<line x1="1137" y1="1187" x2="1137" y2="1219" stroke="#111" stroke-width="1.8"/>
<text x="1141.03" y="1204" font-size="15" text-anchor="middle" transform="rotate(90 1141.03 1204)">*</text>
<text x="1100.6" y="1116" font-size="15" text-anchor="middle">Caspase 3/7 activity</text>
<text x="1100.6" y="1134" font-size="15" text-anchor="middle">(fold change)</text>
<text x="967" y="1157" font-size="12" transform="rotate(42 967 1157)">pcDNA3.1</text>
<text x="931" y="1152" font-size="12" transform="rotate(43 931 1152)">pcDNA3.1-lnc SFFD</text>
<text x="931" y="1179" font-size="12" transform="rotate(43 931 1179)">pcDNA3.1-lnc SFFD</text>
<text x="923" y="1192" font-size="12" transform="rotate(45 923 1192)">+miR-202-3p mimic</text>
<line x1="757.35" y1="1416.05" x2="762.95" y2="1416.05" stroke="#0000ff" stroke-width="1.3"/>
<line x1="762.95" y1="1409.75" x2="762.95" y2="1422.35" stroke="#0000ff" stroke-width="1.3"/>
<rect x="698.3" y="1404.8" width="59.05" height="22.5" fill="#0000ff"/>
<line x1="692.3" y1="1416.05" x2="698.3" y2="1416.05" stroke="#141414" stroke-width="1.8"/>
<line x1="838.38" y1="1450.75" x2="841.82" y2="1450.75" stroke="#ff0000" stroke-width="1.3"/>
<line x1="841.82" y1="1444.45" x2="841.82" y2="1457.05" stroke="#ff0000" stroke-width="1.3"/>
<rect x="698.3" y="1439.5" width="140.08" height="22.5" fill="#ff0000"/>
<line x1="692.3" y1="1450.75" x2="698.3" y2="1450.75" stroke="#141414" stroke-width="1.8"/>
<line x1="795.71" y1="1485.65" x2="802.17" y2="1485.65" stroke="#00c400" stroke-width="1.3"/>
<line x1="802.17" y1="1479.13" x2="802.17" y2="1492.17" stroke="#00c400" stroke-width="1.3"/>
<rect x="698.3" y="1474" width="97.41" height="23.3" fill="#00c400"/>
<line x1="692.3" y1="1485.65" x2="698.3" y2="1485.65" stroke="#141414" stroke-width="1.8"/>
<line x1="698.3" y1="1380" x2="698.3" y2="1509" stroke="#141414" stroke-width="2"/>
<line x1="697.3" y1="1392.6" x2="871" y2="1392.6" stroke="#141414" stroke-width="2"/>
<line x1="698.3" y1="1386.6" x2="698.3" y2="1392.6" stroke="#141414" stroke-width="1.8"/>
<text x="695" y="1384.6" font-size="10" text-anchor="end" transform="rotate(90 695 1384.6)">0</text>
<line x1="741.4" y1="1386.6" x2="741.4" y2="1392.6" stroke="#141414" stroke-width="1.8"/>
<text x="738.1" y="1384.6" font-size="10" text-anchor="end" transform="rotate(90 738.1 1384.6)">10</text>
<line x1="784.5" y1="1386.6" x2="784.5" y2="1392.6" stroke="#141414" stroke-width="1.8"/>
<text x="781.2" y="1384.6" font-size="10" text-anchor="end" transform="rotate(90 781.2 1384.6)">20</text>
<line x1="827.6" y1="1386.6" x2="827.6" y2="1392.6" stroke="#141414" stroke-width="1.8"/>
<text x="824.3" y="1384.6" font-size="10" text-anchor="end" transform="rotate(90 824.3 1384.6)">30</text>
<line x1="870.7" y1="1386.6" x2="870.7" y2="1392.6" stroke="#141414" stroke-width="1.8"/>
<text x="867.4" y="1384.6" font-size="10" text-anchor="end" transform="rotate(90 867.4 1384.6)">40</text>
<line x1="851.7" y1="1416.8" x2="851.7" y2="1448.3" stroke="#111" stroke-width="1.8"/>
<text x="854.62" y="1435.7" font-size="15" text-anchor="middle" transform="rotate(90 854.62 1435.7)">**</text>
<line x1="847.3" y1="1451.5" x2="847.3" y2="1483" stroke="#111" stroke-width="1.8"/>
<text x="851.02" y="1472.5" font-size="15" text-anchor="middle" transform="rotate(90 851.02 1472.5)">**</text>
<text x="787" y="1341" font-size="15.5" text-anchor="middle">The percentage of</text>
<text x="787" y="1360" font-size="15.5" text-anchor="middle">apoptotic cells (%)</text>
<text x="646" y="1373" font-size="13.5" transform="rotate(56 646 1373)">siRNA-NC</text>
<text x="626" y="1383" font-size="13.5" transform="rotate(57 626 1383)">siRNA-lnc SFFD</text>
<text x="626" y="1421" font-size="13.5" transform="rotate(58 626 1421)">siRNA-lnc SFFD+</text>
<text x="610" y="1429" font-size="13.5" transform="rotate(58 610 1429)">miR-202-3p inhibitor</text>
<text x="914.7" y="1348.5" font-size="21">O</text>
<line x1="1121.1" y1="1415" x2="1125.3" y2="1415" stroke="#0000ff" stroke-width="1.3"/>
<line x1="1125.3" y1="1408.95" x2="1125.3" y2="1421.05" stroke="#0000ff" stroke-width="1.3"/>
<rect x="1016" y="1404.2" width="105.1" height="21.6" fill="#0000ff"/>
<line x1="1010" y1="1415" x2="1016" y2="1415" stroke="#141414" stroke-width="1.8"/>
<line x1="1146.32" y1="1446.5" x2="1153.68" y2="1446.5" stroke="#ff0000" stroke-width="1.3"/>
<line x1="1153.68" y1="1440.45" x2="1153.68" y2="1452.55" stroke="#ff0000" stroke-width="1.3"/>
<rect x="1016" y="1435.7" width="130.32" height="21.6" fill="#ff0000"/>
<line x1="1010" y1="1446.5" x2="1016" y2="1446.5" stroke="#141414" stroke-width="1.8"/>
<line x1="1130.56" y1="1478.3" x2="1133.71" y2="1478.3" stroke="#00c400" stroke-width="1.3"/>
<line x1="1133.71" y1="1472.42" x2="1133.71" y2="1484.18" stroke="#00c400" stroke-width="1.3"/>
<rect x="1016" y="1467.8" width="114.56" height="21" fill="#00c400"/>
<line x1="1010" y1="1478.3" x2="1016" y2="1478.3" stroke="#141414" stroke-width="1.8"/>
<line x1="1016" y1="1391.6" x2="1016" y2="1499.8" stroke="#141414" stroke-width="2"/>
<line x1="1015" y1="1393.7" x2="1174" y2="1393.7" stroke="#141414" stroke-width="2"/>
<line x1="1016" y1="1387.7" x2="1016" y2="1393.7" stroke="#141414" stroke-width="1.8"/>
<text x="1012.7" y="1385.7" font-size="10" text-anchor="end" transform="rotate(90 1012.7 1385.7)">0.0</text>
<line x1="1068.55" y1="1387.7" x2="1068.55" y2="1393.7" stroke="#141414" stroke-width="1.8"/>
<text x="1065.25" y="1385.7" font-size="10" text-anchor="end" transform="rotate(90 1065.25 1385.7)">0.5</text>
<line x1="1121.1" y1="1387.7" x2="1121.1" y2="1393.7" stroke="#141414" stroke-width="1.8"/>
<text x="1117.8" y="1385.7" font-size="10" text-anchor="end" transform="rotate(90 1117.8 1385.7)">1.0</text>
<line x1="1173.65" y1="1387.7" x2="1173.65" y2="1393.7" stroke="#141414" stroke-width="1.8"/>
<text x="1170.35" y="1385.7" font-size="10" text-anchor="end" transform="rotate(90 1170.35 1385.7)">1.5</text>
<line x1="1165.8" y1="1414.7" x2="1165.8" y2="1446.2" stroke="#111" stroke-width="1.8"/>
<text x="1169.33" y="1430.4" font-size="15" text-anchor="middle" transform="rotate(90 1169.33 1430.4)">**</text>
<line x1="1159.5" y1="1447.3" x2="1159.5" y2="1479.8" stroke="#111" stroke-width="1.8"/>
<text x="1164.03" y="1463" font-size="15" text-anchor="middle" transform="rotate(90 1164.03 1463)">*</text>
<text x="1095" y="1343" font-size="15" text-anchor="middle">Caspase 3/7 activity</text>
<text x="1095" y="1362" font-size="15" text-anchor="middle">(fold change)</text>
<text x="961" y="1382" font-size="12" transform="rotate(44 961 1382)">siRNA-NC</text>
<text x="956" y="1409" font-size="12" transform="rotate(44 956 1409)">si-lnc SFFD</text>
<text x="952" y="1433" font-size="12" transform="rotate(44 952 1433)">si-lnc SFFD+</text>
<text x="910" y="1415" font-size="12" transform="rotate(45 910 1415)">miR-202-3p inhibitor</text>
</svg>
</body></html>
